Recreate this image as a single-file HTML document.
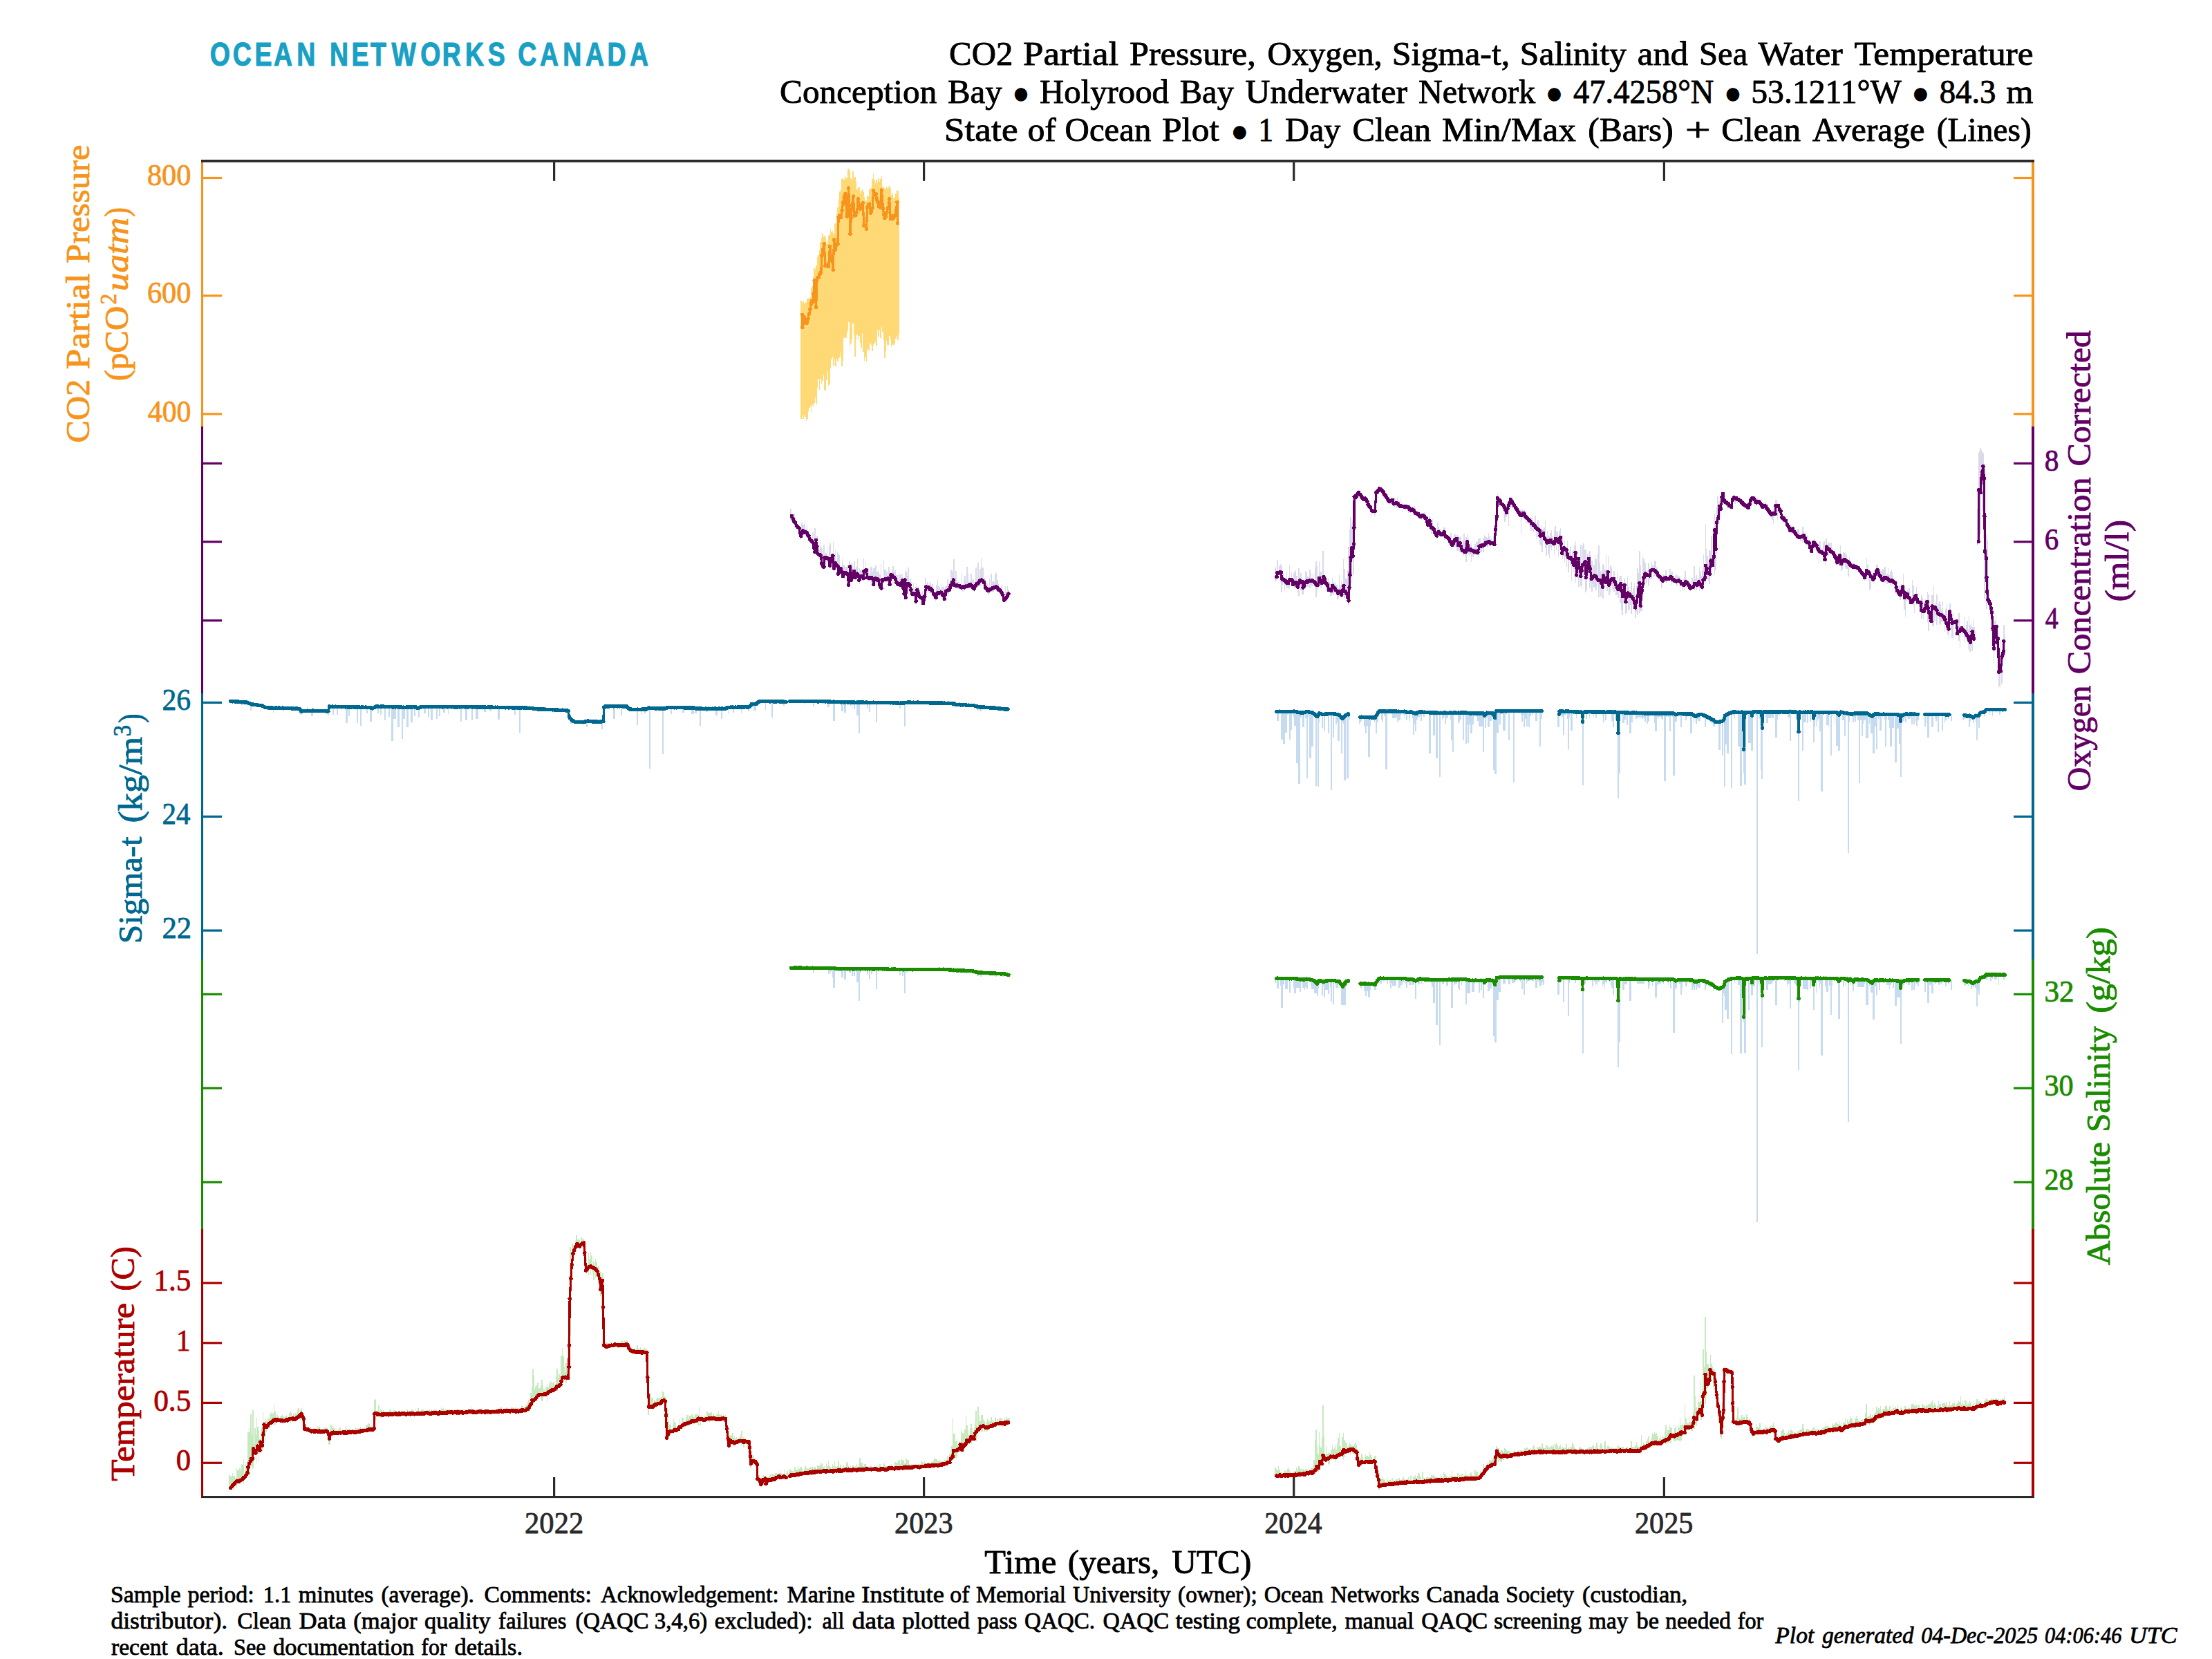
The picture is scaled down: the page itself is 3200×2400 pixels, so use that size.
<!DOCTYPE html>
<html lang="en"><head><meta charset="utf-8"><title>State of Ocean Plot - Holyrood Bay Underwater Network</title>
<style>html,body{margin:0;padding:0;background:#fff}body{width:3200px;height:2400px;overflow:hidden}svg{display:block}text{white-space:pre}</style>
</head><body>
<svg xmlns="http://www.w3.org/2000/svg" width="3200" height="2400" viewBox="0 0 3200 2400">
<rect width="3200" height="2400" fill="#fff"/>
<path d="M331.3 2134.2V2134.2H332.8V2134.8H334.3V2136.1H335.7V2130.9H337.2V2134.8H338.7V2135.3H340.1V2137.9H341.6V2123.5H343.1V2126.6H344.5V2126.2H346V2123.9H347.5V2127.3H348.9V2117.7H350.4V2119.2H351.9V2110.7H353.4V2131.5H354.8V2116.8H356.3V2121.7H357.8V2071.3H359.2V2071.9H360.7V2065.5H362.2V2046.3H363.6V2075.8H365.1V2039.7H366.6V2089.3H368V2066.3H369.5V2076H371V2052.4H372.4V2064.4H373.9V2068.8H375.4V2082.3H376.8V2068.6H378.3V2064.1H379.8V2042.5H381.2V2057.8H382.7V2052.7H384.2V2054.8H385.6V2059H387.1V2051.9H388.6V2052H390V2044.7H391.5V2044.4H393V2040.7H394.4V2044.8H395.9V2031.8H397.4V2042.3H398.8V2050.5H400.3V2046.7H401.8V2047.5H403.2V2051.1H404.7V2048.8H406.2V2047.7H407.6V2045.8H409.1V2049.3H410.6V2049.9H412V2048.6H413.5V2047.4H415V2048H416.4V2051.9H417.9V2044.6H419.4V2042.1H420.8V2044H422.3V2049.4H423.8V2044.3H425.2V2047.3H426.7V2044.1H428.2V2044.8H429.6V2038.9H431.1V2037.4H432.6V2046.2H434V2038.5H435.5V2035.8H437V2043.4H438.4V2046.7H439.9V2062H441.4V2062.3H442.8V2063.7H444.3V2065.1H445.8V2063.9H447.2V2065.4H448.7V2063.9H450.2V2067.1H451.6V2067.9H453.1V2068.6H454.6V2066H456V2067.7H457.5V2066.7H459V2062.5H460.4V2064.6H461.9V2063.8H463.4V2067.1H464.8V2068.6H466.3V2066.6H467.8V2066.5H469.2V2064.7H470.7V2067.6H472.2V2065H473.7V2067.9H475.1V2075.6H476.6V2068.7H478.1V2060.9H479.5V2062H481V2065.1H482.5V2065.2H483.9V2067.4H485.4V2068H486.9V2070H488.3V2067.7H489.8V2067.7H491.3V2065.2H492.7V2067.6H494.2V2069.6H495.7V2069.7H497.1V2069.2H498.6V2065.2H500.1V2067.9H501.5V2067.2H503V2067.1H504.5V2067.4H505.9V2065.9H507.4V2069H508.9V2069.1H510.3V2068.2H511.8V2069.8H513.3V2065.2H514.7V2067.8H516.2V2066.1H517.7V2068.9H519.1V2065.6H520.6V2063.9H522.1V2067.1H523.5V2066.3H525V2065.8H526.5V2064.5H527.9V2066.3H529.4V2061.8H530.9V2060.8H532.3V2058.5H533.8V2060.3H535.3V2063.2H536.7V2063.8H538.2V2063H539.7V2063H541.1V2025.1H542.6V2023.7H544.1V2040.8H545.5V2039.8H547V2032.5H548.5V2040.8H549.9V2038.5H551.4V2040H552.9V2042.1H554.3V2040.2H555.8V2042.8H557.3V2042.5H558.7V2042.1H560.2V2042.3H561.7V2042.4H563.1V2039.3H564.6V2039.8H566.1V2040.9H567.5V2043.6H569V2040.3H570.5V2041.4H571.9V2041.2H573.4V2042.1H574.9V2043.1H576.3V2040.7H577.8V2039.7H579.3V2042.4H580.7V2042.7H582.2V2042.4H583.7V2043.5H585.1V2040.5H586.6V2042.9H588.1V2038.8H589.5V2040.9H591V2041.8H592.5V2040.8H593.9V2042.8H595.4V2039.2H596.9V2041.4H598.4V2042.1H599.8V2037.6H601.3V2041.6H602.8V2040.5H604.2V2037.3H605.7V2042.2H607.2V2041.5H608.6V2039.5H610.1V2039.3H611.6V2039.1H613V2040.5H614.5V2041.9H616V2040.4H617.4V2039.5H618.9V2040.9H620.4V2039.2H621.8V2041.5H623.3V2038.6H624.8V2041.4H626.2V2040H627.7V2038.4H629.2V2039.4H630.6V2040.3H632.1V2041.8H633.6V2041.8H635V2039.7H636.5V2038.7H638V2035.9H639.4V2038.1H640.9V2036.9H642.4V2038.5H643.8V2039.2H645.3V2039.3H646.8V2038.6H648.2V2039.3H649.7V2039.2H651.2V2039.8H652.6V2039.1H654.1V2040.9H655.6V2040.1H657V2039H658.5V2039.5H660V2038.7H661.4V2037.9H662.9V2039H664.4V2038.8H665.8V2039.2H667.3V2040.5H668.8V2040.5H670.2V2038.6H671.7V2039.3H673.2V2041.9H674.6V2039.1H676.1V2039.3H677.6V2039.9H679V2037.7H680.5V2040.4H682V2035.7H683.4V2040.6H684.9V2038.8H686.4V2038.6H687.8V2041.1H689.3V2039.4H690.8V2038H692.2V2039.1H693.7V2036.7H695.2V2039.8H696.6V2037.1H698.1V2039.6H699.6V2037.9H701V2039.3H702.5V2038.6H704V2038.9H705.4V2039.1H706.9V2039.2H708.4V2040.5H709.8V2037.8H711.3V2038.8H712.8V2038.4H714.2V2038.2H715.7V2039.5H717.2V2038.7H718.7V2039.5H720.1V2038.1H721.6V2037.7H723.1V2035.6H724.5V2035.5H726V2039.7H727.5V2037.8H728.9V2037.9H730.4V2038.3H731.9V2036.3H733.3V2037H734.8V2038.3H736.3V2038.4H737.7V2038.9H739.2V2035.7H740.7V2036.4H742.1V2037.2H743.6V2038.3H745.1V2036.3H746.5V2037.9H748V2036.5H749.5V2037H750.9V2038.8H752.4V2039.5H753.9V2033.4H755.3V2034.1H756.8V2038.7H758.3V2034.7H759.7V2032.8H761.2V2031.5H762.7V2028.2H764.1V2024.8H765.6V2029.6H767.1V2014.6H768.5V2007.1H770V1980.4H771.5V1989.8H772.9V2009.8H774.4V2005.8H775.9V2003.9H777.3V2000.3H778.8V2009.2H780.3V2007.5H781.7V2002.6H783.2V1996.2H784.7V2003.5H786.1V2009.7H787.6V2011.9H789.1V2005.7H790.5V2002.2H792V2007.4H793.5V2000.2H794.9V2003.3H796.4V1998.5H797.9V2006H799.3V2000.4H800.8V1997.6H802.3V2003.3H803.7V1990.7H805.2V1980.2H806.7V1992.9H808.1V1988.2H809.6V1996.5H811.1V1961.2H812.5V1949.7H814V1961.8H815.5V1977.2H816.9V1985.3H818.4V1972.2H819.9V1983.1H821.3V1935H822.8V1869.6H824.3V1803.7H825.7V1822.3H827.2V1799.3H828.7V1802.2H830.1V1804.4H831.6V1795.2H833.1V1786.7H834.5V1792.7H836V1792.7H837.5V1793.9H839V1796.8H840.4V1790.3H841.9V1792H843.4V1792.9H844.8V1801.8H846.3V1815H847.8V1819H849.2V1832.5H850.7V1811.8H852.2V1822.1H853.6V1810.6H855.1V1815.6H856.6V1830.1H858V1825.4H859.5V1832.3H861V1820.5H862.4V1825.7H863.9V1833.2H865.4V1832.3H866.8V1839.1H868.3V1839.8H869.8V1846.9H871.2V1841.6H872.7V1871.1H874.2V1940.7H875.6V1941.5H877.1V1941.8H878.6V1943.1H880V1942.5H881.5V1942.2H883V1942.1H884.4V1942.2H885.9V1942.9H887.4V1943.3H888.8V1942.7H890.3V1941.8H891.8V1943.8H893.2V1942.3H894.7V1943.6H896.2V1942.5H897.6V1939.4H899.1V1940.2H900.6V1942.7H902V1939.2H903.5V1941.5H905V1941H906.4V1939.1H907.9V1942.1H909.4V1944.1H910.8V1950H912.3V1949.8H913.8V1950H915.2V1951.6H916.7V1951.4H918.2V1954.1H919.6V1950.9H921.1V1945.6H922.6V1949.8H924V1951.8H925.5V1949.1H927V1952.8H928.4V1952H929.9V1953.5H931.4V1949.5H932.8V1951.4H934.3V1952.3H935.8V1979.3H937.2V2017.4H938.7V2029.6H940.2V2015.6H941.6V2022.8H943.1V2022.2H944.6V2031.4H946V2025.1H947.5V2026.9H949V2024.1H950.4V2022.3H951.9V2023.4H953.4V2022.1H954.8V2021.7H956.3V2020.7H957.8V2012.4H959.3V2014H960.7V2019.7H962.2V2021.3H963.7V2040.3H965.1V2038.2H966.6V2056.5H968.1V2060.5H969.5V2058.6H971V2067.6H972.5V2061.8H973.9V2052.6H975.4V2057.2H976.9V2059.3H978.3V2065.2H979.8V2062.6H981.3V2060.8H982.7V2052.7H984.2V2060.8H985.7V2050H987.1V2050.6H988.6V2056.6H990.1V2056.3H991.5V2053.2H993V2046.8H994.5V2052H995.9V2046.7H997.4V2047.8H998.9V2047.5H1000.3V2045.6H1001.8V2048.5H1003.3V2049.5H1004.7V2046.3H1006.2V2045.9H1007.7V2043.5H1009.1V2047.2H1010.6V2035.2H1012.1V2048.9H1013.5V2046.9H1015V2051H1016.5V2049.7H1017.9V2047H1019.4V2048.6H1020.9V2050.1H1022.3V2042.3H1023.8V2043.8H1025.3V2043.7H1026.7V2044.4H1028.2V2043.4H1029.7V2050.4H1031.1V2045.1H1032.6V2048.4H1034.1V2048.4H1035.5V2047.3H1037V2045.3H1038.5V2041.4H1039.9V2045.7H1041.4V2046.9H1042.9V2046.4H1044.3V2047.9H1045.8V2045.7H1047.3V2048.6H1048.7V2046.6H1050.2V2055.2H1051.7V2065.8H1053.1V2079.1H1054.6V2076.5H1056.1V2075.5H1057.5V2077.3H1059V2072.5H1060.5V2079.9H1061.9V2078.1H1063.4V2081H1064.9V2079.3H1066.3V2081.2H1067.8V2080.7H1069.3V2079.2H1070.7V2076.4H1072.2V2070.2H1073.7V2081.5H1075.1V2079.4H1076.6V2082H1078.1V2082.1H1079.6V2081.7H1081V2084H1082.5V2084.4H1084V2087.5H1085.4V2095.3H1086.9V2105.3H1088.4V2104.8H1089.8V2106.8H1091.3V2110.1H1092.8V2108.6H1094.2V2113.7H1095.7V2118.5H1097.2V2133.6H1098.6V2135.8H1100.1V2141.6H1101.6V2138.9H1103V2133.8H1104.5V2137H1106V2134.5H1107.4V2137.2H1108.9V2134.5H1110.4V2136.7H1111.8V2135.3H1113.3V2133.4H1114.8V2137.7H1116.2V2131.6H1117.7V2131.8H1119.2V2133.9H1120.6V2130.5H1122.1V2130.7H1123.6V2132.1H1125V2131.6H1126.5V2131H1128V2127.1H1129.4V2131.4H1130.9V2134.2H1132.4V2133H1133.8V2126.3H1135.3V2134H1136.8V2131H1138.2V2128H1139.7V2139.3H1138.2V2139.7H1136.8V2138.7H1135.3V2138.2H1133.8V2139.6H1132.4V2140.3H1130.9V2140.2H1129.4V2139.8H1128V2140.9H1126.5V2138H1125V2138.7H1123.6V2139.7H1122.1V2141H1120.6V2141.6H1119.2V2141.3H1117.7V2143.7H1116.2V2143.2H1114.8V2142.8H1113.3V2143.3H1111.8V2144.2H1110.4V2148.7H1108.9V2147.7H1107.4V2145.4H1106V2142.6H1104.5V2147H1103V2145.7H1101.6V2150.6H1100.1V2145.8H1098.6V2144.7H1097.2V2145.9H1095.7V2128.1H1094.2V2122.2H1092.8V2116.8H1091.3V2115.5H1089.8V2116.1H1088.4V2118H1086.9V2123.7H1085.4V2097.9H1084V2094.6H1082.5V2095.7H1081V2090.5H1079.6V2088.7H1078.1V2088.9H1076.6V2093.7H1075.1V2089.3H1073.7V2089.5H1072.2V2086.3H1070.7V2087.4H1069.3V2086.3H1067.8V2088.5H1066.3V2087.8H1064.9V2088H1063.4V2092.5H1061.9V2091.6H1060.5V2088.1H1059V2090.1H1057.5V2092.3H1056.1V2093H1054.6V2094.5H1053.1V2076.4H1051.7V2068.5H1050.2V2055.2H1048.7V2055.3H1047.3V2054.8H1045.8V2054.4H1044.3V2053.9H1042.9V2054.6H1041.4V2054.7H1039.9V2054.2H1038.5V2054.6H1037V2054.2H1035.5V2053.7H1034.1V2054.7H1032.6V2055.2H1031.1V2055.8H1029.7V2054H1028.2V2054.4H1026.7V2056.5H1025.3V2055.9H1023.8V2056.2H1022.3V2055H1020.9V2056.2H1019.4V2057.2H1017.9V2058H1016.5V2055.6H1015V2055.1H1013.5V2061.5H1012.1V2057.3H1010.6V2061.8H1009.1V2056.3H1007.7V2056H1006.2V2057.5H1004.7V2057.5H1003.3V2060.6H1001.8V2058H1000.3V2063.3H998.9V2062.1H997.4V2063.1H995.9V2062.8H994.5V2060.8H993V2061.6H991.5V2065.1H990.1V2066.4H988.6V2064.2H987.1V2065.2H985.7V2067.1H984.2V2069.3H982.7V2069.5H981.3V2068.7H979.8V2070.2H978.3V2070.5H976.9V2072.2H975.4V2071.8H973.9V2075.1H972.5V2073.5H971V2075.5H969.5V2077.3H968.1V2081.4H966.6V2078.2H965.1V2077.3H963.7V2044.3H962.2V2029.1H960.7V2028.9H959.3V2031.8H957.8V2032.6H956.3V2030.7H954.8V2034.3H953.4V2033.4H951.9V2035.9H950.4V2036.1H949V2034.1H947.5V2034.1H946V2036H944.6V2039.3H943.1V2036.5H941.6V2036.8H940.2V2036.6H938.7V2046.6H937.2V1996.5H935.8V1959.9H934.3V1958.3H932.8V1959.8H931.4V1958.7H929.9V1957.9H928.4V1957.5H927V1958H925.5V1957.4H924V1958H922.6V1957.8H921.1V1957.3H919.6V1957.7H918.2V1957.1H916.7V1958.2H915.2V1955.9H913.8V1957.7H912.3V1957.1H910.8V1952.6H909.4V1950.2H907.9V1948.9H906.4V1948.9H905V1946.8H903.5V1949H902V1947.4H900.6V1948H899.1V1947.4H897.6V1947.4H896.2V1948H894.7V1950.2H893.2V1947.7H891.8V1949.1H890.3V1947.2H888.8V1947.1H887.4V1947.5H885.9V1947.6H884.4V1947.7H883V1948.2H881.5V1949.2H880V1949.9H878.6V1951.1H877.1V1950.4H875.6V1948.8H874.2V1949.4H872.7V1867.7H871.2V1896.8H869.8V1874.7H868.3V1859.4H866.8V1854.7H865.4V1844.7H863.9V1840.7H862.4V1849.3H861V1837.4H859.5V1852.2H858V1841H856.6V1837.3H855.1V1843.6H853.6V1835.4H852.2V1844.7H850.7V1838.6H849.2V1838.9H847.8V1834H846.3V1838.1H844.8V1800H843.4V1801.2H841.9V1803.3H840.4V1804.8H839V1803.8H837.5V1802.9H836V1805.9H834.5V1803.8H833.1V1807.1H831.6V1814.6H830.1V1817.6H828.7V1836.3H827.2V1852.7H825.7V1932.1H824.3V1979.3H822.8V1990.9H821.3V1995.2H819.9V2001.1H818.4V1994.6H816.9V1995.7H815.5V1997.8H814V2007.4H812.5V2000.8H811.1V2008.6H809.6V2006.2H808.1V2006.1H806.7V2011.9H805.2V2008.6H803.7V2011.2H802.3V2016.1H800.8V2013.5H799.3V2013.8H797.9V2014.8H796.4V2015.7H794.9V2015.9H793.5V2016.5H792V2027.5H790.5V2019.4H789.1V2019.5H787.6V2019.7H786.1V2025.6H784.7V2026.9H783.2V2024H781.7V2020.1H780.3V2021.2H778.8V2020.5H777.3V2024.4H775.9V2025.6H774.4V2025.3H772.9V2026.9H771.5V2032.8H770V2030.5H768.5V2033.8H767.1V2036.3H765.6V2038.6H764.1V2040H762.7V2040.9H761.2V2044.2H759.7V2044.2H758.3V2042.4H756.8V2044.2H755.3V2042.5H753.9V2044.6H752.4V2043.3H750.9V2042.8H749.5V2042.3H748V2042.7H746.5V2043.4H745.1V2043.2H743.6V2044.2H742.1V2042.7H740.7V2042.6H739.2V2042.8H737.7V2044.5H736.3V2044.3H734.8V2043.7H733.3V2043.1H731.9V2044.5H730.4V2043.7H728.9V2045.2H727.5V2043.9H726V2044H724.5V2043.1H723.1V2043.6H721.6V2043.5H720.1V2043.6H718.7V2044.5H717.2V2043.6H715.7V2045H714.2V2044.9H712.8V2043.9H711.3V2043.6H709.8V2043.6H708.4V2044.9H706.9V2045.7H705.4V2045.1H704V2044.4H702.5V2043.9H701V2046H699.6V2043.7H698.1V2046.3H696.6V2044.3H695.2V2044.9H693.7V2044.5H692.2V2044.5H690.8V2044.3H689.3V2043.8H687.8V2045.2H686.4V2044.6H684.9V2045.4H683.4V2046.2H682V2045.6H680.5V2044.3H679V2045.4H677.6V2045.6H676.1V2044.8H674.6V2045.7H673.2V2045.6H671.7V2044.3H670.2V2045.7H668.8V2044.9H667.3V2044.4H665.8V2046.9H664.4V2044.5H662.9V2046H661.4V2044.5H660V2044.4H658.5V2044.9H657V2045H655.6V2045.5H654.1V2045.7H652.6V2046.3H651.2V2045.5H649.7V2045.3H648.2V2046.8H646.8V2045.9H645.3V2046.5H643.8V2045H642.4V2046.8H640.9V2045.2H639.4V2046.9H638V2046.8H636.5V2045.6H635V2046H633.6V2046.3H632.1V2045.3H630.6V2045.8H629.2V2045.9H627.7V2048.2H626.2V2048.3H624.8V2047.1H623.3V2047H621.8V2048H620.4V2045.8H618.9V2046.4H617.4V2046.3H616V2046.9H614.5V2048.1H613V2046.1H611.6V2046.6H610.1V2047.8H608.6V2047.3H607.2V2046.7H605.7V2046.1H604.2V2046.8H602.8V2047.2H601.3V2046.8H599.8V2046.2H598.4V2046.8H596.9V2047.2H595.4V2048.5H593.9V2046.9H592.5V2048.8H591V2046.7H589.5V2047.9H588.1V2047.2H586.6V2048.9H585.1V2047.2H583.7V2047.8H582.2V2047.9H580.7V2049H579.3V2047.4H577.8V2048.5H576.3V2047.2H574.9V2047.7H573.4V2047.3H571.9V2048.4H570.5V2047.4H569V2046.9H567.5V2048.1H566.1V2049H564.6V2047.2H563.1V2048.3H561.7V2047.5H560.2V2047.5H558.7V2048H557.3V2048.9H555.8V2047.6H554.3V2048.8H552.9V2050.9H551.4V2051.3H549.9V2047.8H548.5V2049.1H547V2047.5H545.5V2048H544.1V2054H542.6V2065.7H541.1V2070H539.7V2071.6H538.2V2070.4H536.7V2070.9H535.3V2069.9H533.8V2070.3H532.3V2071.1H530.9V2071.8H529.4V2071.4H527.9V2072.2H526.5V2072.1H525V2073.3H523.5V2071.8H522.1V2072.3H520.6V2072.6H519.1V2073.9H517.7V2074.4H516.2V2073.3H514.7V2073.9H513.3V2072.8H511.8V2073.3H510.3V2073.1H508.9V2074.7H507.4V2074.1H505.9V2073.5H504.5V2073.4H503V2073.5H501.5V2075.9H500.1V2075.2H498.6V2074.1H497.1V2074.5H495.7V2074.2H494.2V2075.8H492.7V2075.1H491.3V2074.6H489.8V2075.4H488.3V2074.8H486.9V2076.2H485.4V2074.8H483.9V2077.4H482.5V2074H481V2078.2H479.5V2075.5H478.1V2090H476.6V2089.6H475.1V2080.1H473.7V2073.7H472.2V2072.7H470.7V2072.7H469.2V2072.5H467.8V2072.6H466.3V2073.1H464.8V2074.5H463.4V2072.4H461.9V2073.3H460.4V2072.5H459V2072.2H457.5V2072.8H456V2072H454.6V2072H453.1V2073.7H451.6V2071.4H450.2V2071.2H448.7V2072H447.2V2072.2H445.8V2070.8H444.3V2069.5H442.8V2070.9H441.4V2070.7H439.9V2060H438.4V2056.5H437V2047H435.5V2055.2H434V2050.4H432.6V2051.7H431.1V2053.1H429.6V2055.9H428.2V2055.6H426.7V2053.9H425.2V2054H423.8V2056.8H422.3V2053.6H420.8V2057.5H419.4V2055.9H417.9V2056.8H416.4V2057.9H415V2056.1H413.5V2057.5H412V2058.7H410.6V2058.3H409.1V2059.9H407.6V2056.3H406.2V2055.8H404.7V2055.5H403.2V2055.6H401.8V2058.3H400.3V2056.6H398.8V2061.1H397.4V2062.8H395.9V2057.8H394.4V2058.8H393V2062.3H391.5V2060.8H390V2063.2H388.6V2063.2H387.1V2067H385.6V2071.7H384.2V2087.5H382.7V2069.6H381.2V2083.3H379.8V2099.9H378.3V2090.6H376.8V2097.7H375.4V2114.3H373.9V2094.8H372.4V2101.5H371V2117.3H369.5V2102.1H368V2099.2H366.6V2124.4H365.1V2127H363.6V2121.1H362.2V2138.1H360.7V2133.7H359.2V2127.6H357.8V2134.6H356.3V2136.6H354.8V2138.3H353.4V2146.8H351.9V2143.2H350.4V2142.1H348.9V2146.6H347.5V2145.6H346V2144.2H344.5V2144.6H343.1V2151.6H341.6V2146H340.1V2148.2H338.7V2153.7H337.2V2149.7H335.7V2147.7H334.3V2149H332.8V2156.2H331.3ZM1140.6 2127.6V2127.6H1142.1V2124.8H1143.5V2126.4H1145V2128.3H1146.5V2125.8H1147.9V2130.1H1149.4V2122.1H1150.8V2126.9H1152.3V2126.4H1153.8V2120.9H1155.2V2124.9H1156.7V2121.9H1158.2V2121.7H1159.6V2124.8H1161.1V2127.5H1162.6V2125.4H1164V2121.4H1165.5V2124.2H1167V2123.4H1168.4V2124.6H1169.9V2123H1171.3V2123.3H1172.8V2123.1H1174.3V2122.2H1175.7V2127.1H1177.2V2122.3H1178.7V2122.1H1180.1V2126.8H1181.6V2118.9H1183.1V2121H1184.5V2119.8H1186V2120H1187.4V2117.1H1188.9V2116.6H1190.4V2121.7H1191.8V2120.9H1193.3V2125.5H1194.8V2117H1196.2V2121.2H1197.7V2114.2H1199.2V2120.9H1200.6V2121.8H1202.1V2125.9H1203.5V2117.6H1205V2121H1206.5V2113.6H1207.9V2121.4H1209.4V2121.8H1210.9V2120.9H1212.3V2112.5H1213.8V2121.6H1215.3V2119H1216.7V2122.6H1218.2V2122.8H1219.7V2119.3H1221.1V2122.1H1222.6V2123.3H1224V2114.5H1225.5V2116.6H1227V2120.5H1228.4V2122.3H1229.9V2120.2H1231.4V2123.1H1232.8V2119.9H1234.3V2119.8H1235.8V2121.5H1237.2V2120.8H1238.7V2118.4H1240.1V2123.3H1241.6V2117.6H1243.1V2109.2H1244.5V2114.8H1246V2116.1H1247.5V2120.5H1248.9V2120.9H1250.4V2117.8H1251.9V2118.3H1253.3V2120.7H1254.8V2122.7H1256.2V2123.4H1257.7V2123.2H1259.2V2120H1260.6V2122.3H1262.1V2122.3H1263.6V2121.3H1265V2123.8H1266.5V2120.6H1268V2120.1H1269.4V2121.7H1270.9V2119.7H1272.4V2117.5H1273.8V2122.4H1275.3V2121.5H1276.7V2123H1278.2V2116.6H1279.7V2119.1H1281.1V2120.7H1282.6V2121.3H1284.1V2121.1H1285.5V2119.9H1287V2119.7H1288.5V2117.8H1289.9V2121.2H1291.4V2121H1292.8V2119.5H1294.3V2115.1H1295.8V2116.1H1297.2V2116H1298.7V2112.2H1300.2V2112.8H1301.6V2118.3H1303.1V2111.2H1304.6V2112.9H1306V2111.7H1307.5V2117.4H1308.9V2117.4H1310.4V2110.1H1311.9V2112.4H1313.3V2111.7H1314.8V2118.2H1316.3V2118.7H1317.7V2118.2H1319.2V2119.9H1320.7V2119.1H1322.1V2120H1323.6V2117.5H1325.1V2119.2H1326.5V2118.7H1328V2117H1329.4V2118.1H1330.9V2119.4H1332.4V2113.9H1333.8V2114.5H1335.3V2115.5H1336.8V2114.2H1338.2V2115.9H1339.7V2117.1H1341.2V2117.7H1342.6V2115.1H1344.1V2116.5H1345.5V2117.1H1347V2114.6H1348.5V2114.1H1349.9V2113.4H1351.4V2110.2H1352.9V2110.3H1354.3V2110.9H1355.8V2112.6H1357.3V2114.1H1358.7V2112.2H1360.2V2114.2H1361.6V2116.3H1363.1V2113.5H1364.6V2114.2H1366V2112.2H1367.5V2112.8H1369V2111.9H1370.4V2105.9H1371.9V2109H1373.4V2103.2H1374.8V2097.1H1376.3V2092.2H1377.8V2052.1H1379.2V2073.8H1380.7V2074H1382.1V2085.3H1383.6V2081.1H1385.1V2090.7H1386.5V2083.7H1388V2089.9H1389.5V2071.9H1390.9V2067.6H1392.4V2072.6H1393.9V2074.3H1395.3V2067.8H1396.8V2048.4H1398.2V2062.1H1399.7V2070.2H1401.2V2075.7H1402.6V2066.2H1404.1V2059.7H1405.6V2066.2H1407V2070.7H1408.5V2065.2H1410V2059.2H1411.4V2041.2H1412.9V2062.6H1414.3V2034.5H1415.8V2049.4H1417.3V2055.7H1418.7V2047H1420.2V2047.2H1421.7V2052.8H1423.1V2055.8H1424.6V2062.6H1426.1V2058.4H1427.5V2051.9H1429V2055.1H1430.5V2057.3H1431.9V2056.1H1433.4V2049.9H1434.8V2054.8H1436.3V2056.2H1437.8V2057.4H1439.2V2051.2H1440.7V2058.7H1442.2V2052.7H1443.6V2055.1H1445.1V2052.1H1446.6V2051.1H1448V2052.1H1449.5V2056.7H1450.9V2056.1H1452.4V2052.6H1453.9V2055.6H1455.3V2050.3H1456.8V2053.3H1458.3V2051.8H1459.7V2051.4H1461.2V2061.1H1459.7V2060.9H1458.3V2061H1456.8V2059.9H1455.3V2060.5H1453.9V2061.2H1452.4V2062.1H1450.9V2064.5H1449.5V2062.1H1448V2061.7H1446.6V2061.9H1445.1V2061.5H1443.6V2061.4H1442.2V2064.1H1440.7V2063.2H1439.2V2063H1437.8V2066H1436.3V2064.4H1434.8V2065.6H1433.4V2065.2H1431.9V2066.3H1430.5V2067.2H1429V2070.4H1427.5V2070.8H1426.1V2069H1424.6V2070.8H1423.1V2065.4H1421.7V2071.1H1420.2V2072.3H1418.7V2066.9H1417.3V2068.3H1415.8V2069.1H1414.3V2080.2H1412.9V2084.6H1411.4V2084.6H1410V2084.3H1408.5V2082.2H1407V2083.5H1405.6V2088.5H1404.1V2085.8H1402.6V2088.5H1401.2V2086.8H1399.7V2088.8H1398.2V2094.2H1396.8V2091.5H1395.3V2091.9H1393.9V2098.4H1392.4V2098.7H1390.9V2102.2H1389.5V2100.3H1388V2098.3H1386.5V2098.9H1385.1V2105.7H1383.6V2109.4H1382.1V2108.9H1380.7V2104.6H1379.2V2113H1377.8V2111.8H1376.3V2115.5H1374.8V2118.4H1373.4V2117.5H1371.9V2118.7H1370.4V2119.2H1369V2120.4H1367.5V2120.4H1366V2121.6H1364.6V2120.2H1363.1V2121.5H1361.6V2121.1H1360.2V2121.3H1358.7V2121.3H1357.3V2122H1355.8V2122.3H1354.3V2121.4H1352.9V2121.7H1351.4V2123.9H1349.9V2122.4H1348.5V2123.1H1347V2123.7H1345.5V2123.3H1344.1V2123.2H1342.6V2122.8H1341.2V2124.1H1339.7V2122.9H1338.2V2123.9H1336.8V2122.7H1335.3V2123.7H1333.8V2124.1H1332.4V2124.2H1330.9V2123.8H1329.4V2123.9H1328V2123.7H1326.5V2123.6H1325.1V2124.3H1323.6V2125.2H1322.1V2123.9H1320.7V2123.9H1319.2V2124.6H1317.7V2124.1H1316.3V2124.8H1314.8V2125.6H1313.3V2124.7H1311.9V2125.1H1310.4V2125.1H1308.9V2124.3H1307.5V2125.4H1306V2125.1H1304.6V2125.2H1303.1V2126.7H1301.6V2126.1H1300.2V2126.3H1298.7V2124.9H1297.2V2125.7H1295.8V2126.4H1294.3V2126.5H1292.8V2126.1H1291.4V2125.7H1289.9V2126.4H1288.5V2126.5H1287V2126.5H1285.5V2127.4H1284.1V2128H1282.6V2126.5H1281.1V2128H1279.7V2128.7H1278.2V2127.1H1276.7V2127.5H1275.3V2128.4H1273.8V2128.5H1272.4V2127.5H1270.9V2126.7H1269.4V2127.1H1268V2128.4H1266.5V2126.8H1265V2128H1263.6V2127.9H1262.1V2128.6H1260.6V2127.1H1259.2V2127.3H1257.7V2128.6H1256.2V2127.6H1254.8V2128H1253.3V2127.1H1251.9V2128.3H1250.4V2129H1248.9V2130.5H1247.5V2128.5H1246V2128.2H1244.5V2127.4H1243.1V2129.4H1241.6V2128.2H1240.1V2127.6H1238.7V2129.1H1237.2V2128.6H1235.8V2127.6H1234.3V2128.8H1232.8V2127.8H1231.4V2128.4H1229.9V2128.2H1228.4V2127.8H1227V2129.1H1225.5V2128.5H1224V2129.1H1222.6V2128.1H1221.1V2129.4H1219.7V2129.9H1218.2V2129H1216.7V2129.5H1215.3V2128.8H1213.8V2129.3H1212.3V2129.1H1210.9V2129.5H1209.4V2130.2H1207.9V2130H1206.5V2130.6H1205V2131H1203.5V2130.9H1202.1V2130.6H1200.6V2130.5H1199.2V2130.5H1197.7V2131H1196.2V2131.4H1194.8V2130.5H1193.3V2129.9H1191.8V2130H1190.4V2131.1H1188.9V2130.7H1187.4V2130.2H1186V2130.6H1184.5V2131.4H1183.1V2130.8H1181.6V2131H1180.1V2131.7H1178.7V2132H1177.2V2132.4H1175.7V2131.4H1174.3V2132.3H1172.8V2132.3H1171.3V2133.2H1169.9V2132.4H1168.4V2132.3H1167V2132.3H1165.5V2133.7H1164V2134H1162.6V2133.1H1161.1V2133H1159.6V2133.1H1158.2V2134.2H1156.7V2134.9H1155.2V2134.2H1153.8V2134.7H1152.3V2135.8H1150.8V2136.1H1149.4V2135.9H1147.9V2136.4H1146.5V2137.1H1145V2136.7H1143.5V2137.4H1142.1V2136.8H1140.6ZM1844.4 2123.2V2123.2H1845.9V2125.2H1847.3V2127.3H1848.8V2121.3H1850.3V2126H1851.7V2130.1H1853.2V2129.6H1854.7V2130.5H1856.1V2130.5H1857.6V2126.7H1859.1V2127.8H1860.5V2129H1862V2124.6H1863.5V2122.8H1864.9V2126.6H1866.4V2129.5H1867.9V2131H1869.3V2131.1H1870.8V2129.1H1872.3V2127.5H1873.7V2127.7H1875.2V2123.4H1876.7V2127.7H1878.1V2121.4H1879.6V2123.8H1881.1V2125.1H1882.5V2131.2H1884V2124.5H1885.5V2126.8H1886.9V2127.3H1888.4V2125.2H1889.9V2125.6H1891.3V2125.8H1892.8V2127.7H1894.3V2127.3H1895.7V2123.5H1897.2V2122.7H1898.7V2123.4H1900.1V2111.6H1901.6V2083.1H1903.1V2068.1H1904.5V2090.9H1906V2102.5H1907.5V2071.5H1908.9V2090.5H1910.4V2093.6H1911.9V2079H1913.3V2032.8H1914.8V2078.4H1916.3V2104.3H1917.7V2091.6H1919.2V2103.4H1920.7V2100.8H1922.1V2101.9H1923.6V2104.8H1925.1V2097.2H1926.5V2090.9H1928V2095.5H1929.5V2093.8H1930.9V2090.9H1932.4V2096.7H1933.9V2089.7H1935.3V2080.3H1936.8V2073.2H1938.3V2091.6H1939.7V2099H1941.2V2078.6H1942.7V2072.5H1944.1V2082.6H1945.6V2086.3H1947.1V2087.8H1948.5V2092.8H1950V2091.8H1951.5V2087.3H1952.9V2088.5H1954.4V2090.6H1955.9V2090.7H1957.3V2092H1958.8V2088.9H1960.3V2086.9H1961.7V2090H1963.2V2096.1H1964.7V2105.5H1966.1V2109.9H1967.6V2109.1H1969.1V2102.7H1970.5V2107.8H1972V2113.3H1973.5V2108H1974.9V2103.6H1976.4V2105.6H1977.9V2106.2H1979.3V2106.6H1980.8V2101H1982.3V2105.1H1983.7V2108.4H1985.2V2112.2H1986.7V2109.4H1988.1V2106.1H1989.6V2107.4H1991.1V2119.9H1992.5V2126.1H1994V2131.3H1995.5V2141.4H1996.9V2139.7H1998.4V2139.1H1999.9V2136.3H2001.3V2139.7H2002.8V2140.8H2004.3V2143.9H2005.7V2137.2H2007.2V2141.9H2008.7V2140.3H2010.1V2141.2H2011.6V2142.4H2013.1V2138H2014.5V2144.4H2016V2144.4H2017.5V2140.5H2018.9V2138.9H2020.4V2139.8H2021.9V2143.3H2023.3V2138H2024.8V2143.1H2026.3V2140.8H2027.7V2140.4H2029.2V2136.6H2030.7V2138.9H2032.1V2140.9H2033.6V2139.7H2035.1V2140.2H2036.5V2137H2038V2140.7H2039.5V2134.9H2040.9V2134.4H2042.4V2140.5H2043.9V2136.7H2045.3V2135.6H2046.8V2134H2048.3V2138.1H2049.7V2135H2051.2V2130.8H2052.7V2132H2054.1V2136.1H2055.6V2141.4H2057.1V2129.2H2058.5V2138.4H2060V2138.4H2061.5V2138.8H2062.9V2136.8H2064.4V2136.8H2065.9V2136.9H2067.3V2138.3H2068.8V2137.3H2070.3V2134H2071.7V2134.8H2073.2V2132.6H2074.7V2135.9H2076.1V2136.6H2077.6V2135.5H2079.1V2137.7H2080.5V2136.3H2082V2137.5H2083.5V2132.7H2084.9V2135.1H2086.4V2138.9H2087.9V2128.5H2089.3V2131.9H2090.8V2133.1H2092.3V2134.9H2093.7V2139.6H2095.2V2136.8H2096.7V2132.9H2098.1V2134.8H2099.6V2127.9H2101.1V2136.4H2102.5V2132.9H2104V2135.1H2105.5V2136.5H2106.9V2134.9H2108.4V2131.2H2109.9V2135.7H2111.3V2133.6H2112.8V2137.1H2114.3V2132.3H2115.7V2132H2117.2V2134.5H2118.7V2126.7H2120.1V2133.5H2121.6V2131.6H2123.1V2137.9H2124.5V2135.5H2126V2130.9H2127.5V2130H2128.9V2133H2130.4V2134.9H2131.8V2135.3H2133.3V2126.7H2134.8V2129.8H2136.2V2128.5H2137.7V2132.5H2139.2V2133.1H2140.6V2128.3H2142.1V2132.1H2143.6V2128.4H2145V2117.5H2146.5V2126.1H2148V2121.1H2149.4V2119.1H2150.9V2116.8H2152.4V2116.7H2153.8V2111.9H2155.3V2112.5H2156.8V2112.8H2158.2V2109.8H2159.7V2108.4H2161.2V2114.7H2162.6V2100.5H2164.1V2092.4H2165.6V2095.2H2167V2094.9H2168.5V2099.8H2170V2099.2H2171.4V2097.8H2172.9V2098.6H2174.4V2099.5H2175.8V2095.1H2177.3V2096.4H2178.8V2097.5H2180.2V2098.8H2181.7V2098.5H2183.2V2099.4H2184.6V2101.3H2186.1V2102.1H2187.6V2100.2H2189V2098.6H2190.5V2098.6H2192V2100.9H2193.4V2101.8H2194.9V2102.2H2196.4V2100.6H2197.8V2098.3H2199.3V2098H2200.8V2097.8H2202.2V2099.5H2203.7V2097H2205.2V2095.3H2206.6V2095.8H2208.1V2093.8H2209.6V2094.5H2211V2096.4H2212.5V2096.7H2214V2095.1H2215.4V2095.6H2216.9V2093H2218.4V2091H2219.8V2096.1H2221.3V2098.1H2222.8V2094.3H2224.2V2093.6H2225.7V2092.8H2227.2V2093.4H2228.6V2093.6H2230.1V2088.1H2231.6V2093.6H2233V2095.1H2234.5V2094.7H2236V2089.9H2237.4V2090.5H2238.9V2093.1H2240.4V2093.5H2241.8V2093.8H2243.3V2092.3H2244.8V2092.7H2246.2V2090.8H2247.7V2097.4H2249.2V2089.3H2250.6V2087.2H2252.1V2090.8H2253.6V2094.8H2255V2091.5H2256.5V2090.4H2258V2097.5H2259.4V2093.2H2260.9V2095.1H2262.4V2093.8H2263.8V2095H2265.3V2088.6H2266.8V2095.6H2268.2V2094.3H2269.7V2095.9H2271.2V2092.7H2272.6V2093.3H2274.1V2087.2H2275.6V2090.2H2277V2093.9H2278.5V2095.6H2280V2097.5H2281.4V2095.9H2282.9V2095.6H2284.4V2093H2285.8V2094.3H2287.3V2095H2288.8V2095.7H2290.2V2095.6H2291.7V2098.4H2293.2V2097.2H2294.6V2096.6H2296.1V2094.7H2297.6V2095.8H2299V2093.4H2300.5V2095H2302V2093.4H2303.4V2091.6H2304.9V2089.7H2306.4V2097.1H2307.8V2092.3H2309.3V2086.9H2310.8V2094H2312.2V2096.3H2313.7V2091.3H2315.2V2087.5H2316.6V2090.7H2318.1V2098.6H2319.6V2091.2H2321V2085.4H2322.5V2095.5H2324V2095.1H2325.4V2092.2H2326.9V2090.8H2328.4V2094.1H2329.8V2095.1H2331.3V2093.5H2332.8V2093.8H2334.2V2095.4H2335.7V2095.3H2337.2V2093.6H2338.6V2095.3H2340.1V2091.4H2341.6V2093.4H2343V2094.2H2344.5V2092.8H2346V2093.7H2347.4V2093.3H2348.9V2096.3H2350.4V2095.3H2351.8V2094.5H2353.3V2093H2354.8V2095.7H2356.2V2095.9H2357.7V2094.2H2359.2V2084.8H2360.6V2092.7H2362.1V2093.1H2363.6V2093.4H2365V2091.1H2366.5V2085.8H2368V2090.5H2369.4V2093H2370.9V2093.8H2372.4V2091.1H2373.8V2076.4H2375.3V2091.7H2376.8V2087.4H2378.2V2088.7H2379.7V2089.9H2381.2V2084.7H2382.6V2082H2384.1V2077.7H2385.6V2088.2H2387V2084.4H2388.5V2077.9H2390V2072.6H2391.4V2075.4H2392.9V2071.3H2394.4V2074.3H2395.8V2072.7H2397.3V2076.9H2398.8V2083.2H2400.2V2080.6H2401.7V2077H2403.2V2081.6H2404.6V2076.3H2406.1V2078.5H2407.6V2071.4H2409V2062.3H2410.5V2076H2412V2069.4H2413.4V2068.5H2414.9V2062.2H2416.4V2064.6H2417.8V2066.2H2419.3V2075H2420.8V2071.5H2422.2V2066.1H2423.7V2061.8H2425.2V2072.3H2426.6V2061.6H2428.1V2065H2429.6V2050.6H2431V2061.5H2432.5V2061.4H2434V2057.6H2435.4V2060.7H2436.9V2031.5H2438.4V2052.1H2439.8V2058H2441.3V2058.9H2442.8V2048H2444.2V2056.5H2445.7V2061.6H2447.2V2050.6H2448.6V2042.4H2450.1V1989.6H2451.6V2019.3H2453V2036.3H2454.5V2040.4H2456V2023.2H2457.4V2027.8H2458.9V1996H2460.4V2027.3H2461.8V2009.1H2463.3V1951.6H2464.7V1978.3H2466.2V1905.1H2467.7V1955.4H2469.1V1973.1H2470.6V1973.7H2472.1V1986.2H2473.5V1959.7H2475V1972.5H2476.5V1976.6H2477.9V1979.6H2479.4V1981.2H2480.9V1993.9H2482.3V2006.9H2483.8V2017.2H2485.3V2027.9H2486.7V2037.4H2488.2V2045.9H2489.7V2065H2491.1V2029.3H2492.6V2022H2494.1V1977.3H2495.5V1979.6H2497V1980.4H2498.5V1980.5H2499.9V1978.9H2501.4V1980.8H2502.9V1981.5H2504.3V1985H2505.8V2021.7H2507.3V2052H2508.7V2051.9H2510.2V2053.7H2511.7V2049.7H2513.1V2036H2514.6V2053.1H2516.1V2052.4H2517.5V2051.8H2519V2046.5H2520.5V2050.8H2521.9V2050.2H2523.4V2050.3H2524.9V2054H2526.3V2045.8H2527.8V2049.6H2529.3V2054.3H2530.7V2050H2532.2V2063.2H2533.7V2065.2H2535.1V2070H2536.6V2068.9H2538.1V2068.7H2539.5V2059.5H2541V2063.9H2542.5V2066.2H2543.9V2063.8H2545.4V2058.6H2546.9V2067H2548.3V2067.8H2549.8V2065.5H2551.3V2067.6H2552.7V2061.4H2554.2V2065.1H2555.7V2064.4H2557.1V2066.2H2558.6V2064.6H2560.1V2063.2H2561.5V2064.6H2563V2062.2H2564.5V2058.1H2565.9V2061.1H2567.4V2065.8H2568.9V2073.2H2570.3V2077.7H2571.8V2077H2573.3V2080.5H2574.7V2077.3H2576.2V2069.6H2577.7V2068.3H2579.1V2068.1H2580.6V2073.2H2582.1V2076.7H2583.5V2074.5H2585V2072.6H2586.5V2069.3H2587.9V2072.6H2589.4V2068.8H2590.9V2067.7H2592.3V2070.2H2593.8V2073.8H2595.3V2072.4H2596.7V2073.2H2598.2V2074.3H2599.7V2069.8H2601.1V2070.8H2602.6V2069.3H2604.1V2067.7H2605.5V2068H2607V2059.6H2608.5V2066.1H2609.9V2070.6H2611.4V2071.6H2612.9V2066.8H2614.3V2067.2H2615.8V2067.9H2617.3V2068.8H2618.7V2070.4H2620.2V2068.1H2621.7V2065.2H2623.1V2064.6H2624.6V2069.8H2626.1V2067.1H2627.5V2069.5H2629V2067.6H2630.5V2069.3H2631.9V2066.6H2633.4V2070.1H2634.9V2065.8H2636.3V2066H2637.8V2064.4H2639.3V2064.4H2640.7V2058.7H2642.2V2063.1H2643.7V2060.6H2645.1V2063.7H2646.6V2064.7H2648.1V2064.9H2649.5V2058.9H2651V2061H2652.5V2060.9H2653.9V2058.8H2655.4V2057.6H2656.9V2057.7H2658.3V2059.9H2659.8V2054.7H2661.3V2060.7H2662.7V2058.4H2664.2V2063.6H2665.7V2057.9H2667.1V2058.4H2668.6V2051.3H2670.1V2062H2671.5V2052.5H2673V2056.7H2674.5V2054.9H2675.9V2049H2677.4V2051.6H2678.9V2052.4H2680.3V2057.8H2681.8V2059.2H2683.3V2051.6H2684.7V2048.2H2686.2V2051.8H2687.7V2055.3H2689.1V2055.7H2690.6V2057.6H2692.1V2053.8H2693.5V2052.9H2695V2056.5H2696.5V2051.7H2697.9V2044H2699.4V2030.8H2700.9V2049.6H2702.3V2048.7H2703.8V2047.6H2705.3V2045.1H2706.7V2049.9H2708.2V2047H2709.7V2052.4H2711.1V2044.7H2712.6V2042.1H2714.1V2034.6H2715.5V2039.6H2717V2037.1H2718.5V2039.7H2719.9V2033.8H2721.4V2042.8H2722.9V2037.7H2724.3V2038H2725.8V2037.6H2727.3V2033.5H2728.7V2032.9H2730.2V2038.3H2731.7V2039.5H2733.1V2034.1H2734.6V2039.5H2736.1V2039.3H2737.5V2032.6H2739V2036.6H2740.5V2035.5H2741.9V2035.3H2743.4V2039.9H2744.9V2032.9H2746.3V2039.7H2747.8V2040.5H2749.3V2036.4H2750.7V2036.8H2752.2V2038.7H2753.7V2039.5H2755.1V2034.1H2756.6V2035.7H2758.1V2038.2H2759.5V2034.7H2761V2036.6H2762.5V2038.6H2763.9V2033.6H2765.4V2030.5H2766.9V2028.8H2768.3V2032.8H2769.8V2034.2H2771.3V2031.9H2772.7V2039.5H2774.2V2033.1H2775.7V2032.3H2777.1V2037.1H2778.6V2038.2H2780.1V2031H2781.5V2032.7H2783V2034.3H2784.5V2034.9H2785.9V2033.1H2787.4V2033.2H2788.9V2031.9H2790.3V2030.7H2791.8V2030.8H2793.2V2028.3H2794.7V2026.2H2796.2V2033.1H2797.6V2028.7H2799.1V2031.7H2800.6V2037.8H2802V2034.1H2803.5V2027.4H2805V2032.4H2806.4V2030.6H2807.9V2036.2H2809.4V2029.9H2810.8V2029.6H2812.3V2029H2813.8V2032H2815.2V2027.5H2816.7V2035.6H2818.2V2033.1H2819.6V2026.5H2821.1V2032.5H2822.6V2031.7H2824V2029.7H2825.5V2030.7H2827V2028.6H2828.4V2035.5H2829.9V2030.8H2831.4V2029.7H2832.8V2027.2H2834.3V2027.5H2835.8V2019.7H2837.2V2031.2H2838.7V2025.8H2840.2V2031.5H2841.6V2024.7H2843.1V2026.3H2844.6V2032.5H2846V2030.1H2847.5V2030.5H2849V2027.3H2850.4V2028.8H2851.9V2035.2H2853.4V2032.4H2854.8V2030.2H2856.3V2033.6H2857.8V2027.9H2859.2V2024.4H2860.7V2028.2H2862.2V2027.2H2863.6V2028.9H2865.1V2028.1H2866.6V2028.8H2868V2030.6H2869.5V2027.1H2871V2026.4H2872.4V2023.8H2873.9V2021.6H2875.4V2024.9H2876.8V2025.6H2878.3V2026.4H2879.8V2022H2881.2V2023.5H2882.7V2024.2H2884.2V2025.5H2885.6V2023.4H2887.1V2022.8H2888.6V2027.6H2890V2023.9H2891.5V2026.3H2893V2023.1H2894.4V2027.6H2895.9V2022.2H2897.4V2024H2898.8V2020.1H2900.3V2025.2H2901.8V2030.8H2900.3V2030.5H2898.8V2030.1H2897.4V2030H2895.9V2031H2894.4V2031.8H2893V2032.6H2891.5V2033.8H2890V2032.1H2888.6V2029.2H2887.1V2030H2885.6V2031.2H2884.2V2032.6H2882.7V2032.3H2881.2V2031.2H2879.8V2033.3H2878.3V2031.4H2876.8V2031.8H2875.4V2032.6H2873.9V2033.9H2872.4V2036.5H2871V2036H2869.5V2036.6H2868V2037.2H2866.6V2037.8H2865.1V2036H2863.6V2036.2H2862.2V2037.1H2860.7V2040.1H2859.2V2038H2857.8V2041.3H2856.3V2039H2854.8V2039.1H2853.4V2039.9H2851.9V2039.4H2850.4V2041.1H2849V2038.5H2847.5V2039.1H2846V2039.5H2844.6V2041.7H2843.1V2040.5H2841.6V2040.5H2840.2V2039.6H2838.7V2039.4H2837.2V2040.2H2835.8V2040H2834.3V2039.5H2832.8V2042H2831.4V2039.7H2829.9V2039.5H2828.4V2039.8H2827V2040.4H2825.5V2039.6H2824V2041.3H2822.6V2041.2H2821.1V2040.4H2819.6V2042.5H2818.2V2041H2816.7V2040.2H2815.2V2041.2H2813.8V2041.2H2812.3V2040.5H2810.8V2040.7H2809.4V2041.9H2807.9V2041.6H2806.4V2041H2805V2043.5H2803.5V2042H2802V2042.5H2800.6V2042.2H2799.1V2042.6H2797.6V2042.6H2796.2V2044.5H2794.7V2044.1H2793.2V2041.7H2791.8V2042.2H2790.3V2041.9H2788.9V2043.1H2787.4V2042.7H2785.9V2042.5H2784.5V2042.2H2783V2043.7H2781.5V2042.6H2780.1V2043.7H2778.6V2042.5H2777.1V2042.4H2775.7V2043.5H2774.2V2043H2772.7V2042.7H2771.3V2043.2H2769.8V2042.7H2768.3V2045.5H2766.9V2045.7H2765.4V2044.3H2763.9V2043.6H2762.5V2043.7H2761V2045.5H2759.5V2044.8H2758.1V2044.7H2756.6V2045.9H2755.1V2045.8H2753.7V2044.2H2752.2V2045.2H2750.7V2045.5H2749.3V2046.8H2747.8V2045.2H2746.3V2043.2H2744.9V2044.8H2743.4V2043.4H2741.9V2047H2740.5V2047H2739V2045.5H2737.5V2047.4H2736.1V2046.8H2734.6V2047.8H2733.1V2048H2731.7V2046.4H2730.2V2046.9H2728.7V2048.9H2727.3V2048.4H2725.8V2050.5H2724.3V2050.5H2722.9V2050.1H2721.4V2052.5H2719.9V2051.6H2718.5V2051.2H2717V2055H2715.5V2050.5H2714.1V2056.5H2712.6V2056H2711.1V2056.7H2709.7V2059.1H2708.2V2057.2H2706.7V2060.1H2705.3V2062.4H2703.8V2058.5H2702.3V2058.7H2700.9V2056.6H2699.4V2060.3H2697.9V2062.5H2696.5V2061.7H2695V2061.9H2693.5V2061.9H2692.1V2061.5H2690.6V2063.8H2689.1V2063.3H2687.7V2061.9H2686.2V2062.2H2684.7V2063.8H2683.3V2063.6H2681.8V2063.5H2680.3V2063.5H2678.9V2066.8H2677.4V2064H2675.9V2064.5H2674.5V2066H2673V2067.9H2671.5V2065.9H2670.1V2069.1H2668.6V2067.1H2667.1V2068.3H2665.7V2069.9H2664.2V2071.8H2662.7V2071.5H2661.3V2069.1H2659.8V2069.4H2658.3V2069.5H2656.9V2069.3H2655.4V2070.3H2653.9V2070.2H2652.5V2071.3H2651V2070H2649.5V2071.2H2648.1V2071.6H2646.6V2073H2645.1V2070.6H2643.7V2073.4H2642.2V2074.1H2640.7V2075.3H2639.3V2073.3H2637.8V2073.7H2636.3V2073.7H2634.9V2074.2H2633.4V2076H2631.9V2074.6H2630.5V2074.6H2629V2075.9H2627.5V2076.5H2626.1V2074.8H2624.6V2075.7H2623.1V2076.4H2621.7V2076.1H2620.2V2075.1H2618.7V2075.3H2617.3V2076.8H2615.8V2077.1H2614.3V2076.6H2612.9V2076H2611.4V2078.3H2609.9V2076.2H2608.5V2077H2607V2076.9H2605.5V2078H2604.1V2078.8H2602.6V2078.9H2601.1V2078.2H2599.7V2078.4H2598.2V2078.1H2596.7V2080.3H2595.3V2079.1H2593.8V2081.3H2592.3V2079.5H2590.9V2080.8H2589.4V2082.4H2587.9V2082.9H2586.5V2080.8H2585V2081.8H2583.5V2083.2H2582.1V2082.9H2580.6V2084.5H2579.1V2083.3H2577.7V2083.1H2576.2V2086H2574.7V2085.3H2573.3V2087.6H2571.8V2084.8H2570.3V2087.3H2568.9V2080H2567.4V2074.8H2565.9V2073.2H2564.5V2071.1H2563V2073.3H2561.5V2073.7H2560.1V2073.6H2558.6V2072.8H2557.1V2072.1H2555.7V2074.8H2554.2V2073.1H2552.7V2073.3H2551.3V2073.4H2549.8V2074.1H2548.3V2074.5H2546.9V2074.1H2545.4V2073.8H2543.9V2076.2H2542.5V2075.7H2541V2075.1H2539.5V2077.1H2538.1V2076.9H2536.6V2074H2535.1V2080.4H2533.7V2066.4H2532.2V2065.6H2530.7V2062.5H2529.3V2059.4H2527.8V2059.5H2526.3V2059.2H2524.9V2060.2H2523.4V2060.4H2521.9V2059.6H2520.5V2059.4H2519V2060.5H2517.5V2060.2H2516.1V2060.1H2514.6V2060.7H2513.1V2061.2H2511.7V2060.2H2510.2V2059.7H2508.7V2061.2H2507.3V2024.5H2505.8V1991.9H2504.3V1986.8H2502.9V1986.2H2501.4V1985.9H2499.9V1988.3H2498.5V1987.2H2497V1991.4H2495.5V2025.8H2494.1V2043.9H2492.6V2075H2491.1V2081.5H2489.7V2079.3H2488.2V2045.1H2486.7V2057.2H2485.3V2034.8H2483.8V2015.4H2482.3V2006.4H2480.9V2011H2479.4V2006.6H2477.9V1988.1H2476.5V1997.4H2475V1989.5H2473.5V2001.9H2472.1V2002H2470.6V2008.4H2469.1V2019.5H2467.7V2030.9H2466.2V2017.3H2464.7V2023.2H2463.3V2051.6H2461.8V2054.2H2460.4V2046H2458.9V2048.3H2457.4V2045.7H2456V2052.4H2454.5V2062H2453V2060.3H2451.6V2066.7H2450.1V2065.5H2448.6V2069.5H2447.2V2069.9H2445.7V2067.9H2444.2V2069.5H2442.8V2066.3H2441.3V2068.9H2439.8V2076.2H2438.4V2072.4H2436.9V2074.8H2435.4V2077.4H2434V2078.8H2432.5V2083.6H2431V2085.2H2429.6V2083.9H2428.1V2084.5H2426.6V2083H2425.2V2084.8H2423.7V2085H2422.2V2084.4H2420.8V2080.7H2419.3V2079.2H2417.8V2087.8H2416.4V2084.5H2414.9V2086.9H2413.4V2088H2412V2086H2410.5V2089.2H2409V2087.1H2407.6V2087.6H2406.1V2086.8H2404.6V2091.3H2403.2V2088.9H2401.7V2090.4H2400.2V2090.6H2398.8V2090.2H2397.3V2088.5H2395.8V2091H2394.4V2088.4H2392.9V2089.8H2391.4V2090.3H2390V2093.7H2388.5V2091.4H2387V2092.8H2385.6V2093.8H2384.1V2097.3H2382.6V2094.8H2381.2V2098.4H2379.7V2097.9H2378.2V2097.3H2376.8V2097.8H2375.3V2099.3H2373.8V2102.6H2372.4V2100.3H2370.9V2100.1H2369.4V2101.7H2368V2100.6H2366.5V2102.3H2365V2100.4H2363.6V2100.2H2362.1V2100.3H2360.6V2100H2359.2V2101.2H2357.7V2102H2356.2V2100.8H2354.8V2101.3H2353.3V2101.1H2351.8V2100.8H2350.4V2101.6H2348.9V2100.3H2347.4V2101.7H2346V2100.2H2344.5V2102.8H2343V2101H2341.6V2100.4H2340.1V2102.7H2338.6V2102.5H2337.2V2101.7H2335.7V2101.3H2334.2V2102.6H2332.8V2100.6H2331.3V2101.6H2329.8V2100.9H2328.4V2101.5H2326.9V2100.7H2325.4V2101.9H2324V2101.1H2322.5V2101.4H2321V2102H2319.6V2101H2318.1V2101H2316.6V2102.7H2315.2V2101.5H2313.7V2101.8H2312.2V2101.7H2310.8V2102.9H2309.3V2101.5H2307.8V2101.8H2306.4V2102.6H2304.9V2102H2303.4V2102.7H2302V2102H2300.5V2102.7H2299V2101.7H2297.6V2101.7H2296.1V2101.8H2294.6V2102H2293.2V2101.7H2291.7V2102.5H2290.2V2101.7H2288.8V2103.3H2287.3V2101.1H2285.8V2103.1H2284.4V2102.3H2282.9V2102.7H2281.4V2104.1H2280V2101.6H2278.5V2101.3H2277V2102.3H2275.6V2103.5H2274.1V2103.1H2272.6V2102.1H2271.2V2102.7H2269.7V2102.8H2268.2V2102.6H2266.8V2102.7H2265.3V2101.8H2263.8V2101.7H2262.4V2102.6H2260.9V2102.6H2259.4V2102.5H2258V2103.6H2256.5V2102.1H2255V2102.7H2253.6V2102.8H2252.1V2103.3H2250.6V2103.1H2249.2V2102.4H2247.7V2101.8H2246.2V2101.8H2244.8V2101.7H2243.3V2102.1H2241.8V2101.5H2240.4V2102.5H2238.9V2103.2H2237.4V2102.5H2236V2103H2234.5V2103.4H2233V2104.2H2231.6V2103H2230.1V2102.4H2228.6V2102.7H2227.2V2102.7H2225.7V2103.2H2224.2V2102.6H2222.8V2103.3H2221.3V2102.9H2219.8V2104.7H2218.4V2103.4H2216.9V2104.1H2215.4V2102.6H2214V2103.6H2212.5V2103.2H2211V2104H2209.6V2105.7H2208.1V2104.1H2206.6V2104.4H2205.2V2106H2203.7V2105.6H2202.2V2105.3H2200.8V2106.3H2199.3V2107H2197.8V2106.8H2196.4V2105.4H2194.9V2107.9H2193.4V2106.2H2192V2105.7H2190.5V2106.5H2189V2106.6H2187.6V2107.1H2186.1V2107.6H2184.6V2107.8H2183.2V2111.2H2181.7V2111.3H2180.2V2109.1H2178.8V2107.8H2177.3V2107.2H2175.8V2111.7H2174.4V2108.3H2172.9V2114.8H2171.4V2113.7H2170V2111.8H2168.5V2114.5H2167V2110.8H2165.6V2114.4H2164.1V2118.8H2162.6V2120.3H2161.2V2120.6H2159.7V2122.5H2158.2V2120.5H2156.8V2123.8H2155.3V2125.1H2153.8V2123.7H2152.4V2126.9H2150.9V2127.6H2149.4V2131.7H2148V2132.1H2146.5V2135.5H2145V2134.8H2143.6V2136.6H2142.1V2138.3H2140.6V2138.6H2139.2V2139.8H2137.7V2141.5H2136.2V2142.2H2134.8V2141.9H2133.3V2141.3H2131.8V2141.8H2130.4V2140.8H2128.9V2141.7H2127.5V2141.8H2126V2142.3H2124.5V2142.1H2123.1V2142.4H2121.6V2141.9H2120.1V2141.2H2118.7V2141.5H2117.2V2142H2115.7V2143H2114.3V2142.8H2112.8V2142.9H2111.3V2142H2109.9V2143.1H2108.4V2142.5H2106.9V2141.8H2105.5V2141.8H2104V2142.7H2102.5V2142.1H2101.1V2144.3H2099.6V2143.9H2098.1V2143.2H2096.7V2142.8H2095.2V2143.7H2093.7V2143.2H2092.3V2144.2H2090.8V2143.5H2089.3V2144.5H2087.9V2143.6H2086.4V2144.7H2084.9V2144.9H2083.5V2144.5H2082V2143.6H2080.5V2143.7H2079.1V2143.7H2077.6V2144.2H2076.1V2143.4H2074.7V2144H2073.2V2144.2H2071.7V2144.8H2070.3V2144.1H2068.8V2145.8H2067.3V2144.9H2065.9V2144.6H2064.4V2144.5H2062.9V2144.4H2061.5V2144.9H2060V2145.7H2058.5V2144.5H2057.1V2145.7H2055.6V2145.2H2054.1V2146.2H2052.7V2145.4H2051.2V2146.5H2049.7V2146.4H2048.3V2145.3H2046.8V2146.1H2045.3V2147H2043.9V2145.4H2042.4V2147.1H2040.9V2146H2039.5V2146.1H2038V2147.3H2036.5V2146.6H2035.1V2146H2033.6V2147.1H2032.1V2147.2H2030.7V2147.8H2029.2V2148H2027.7V2148H2026.3V2148.7H2024.8V2147.2H2023.3V2147.3H2021.9V2147.4H2020.4V2148.9H2018.9V2148H2017.5V2149.6H2016V2150H2014.5V2149.1H2013.1V2148.2H2011.6V2149.4H2010.1V2149.1H2008.7V2149.3H2007.2V2149.5H2005.7V2150.3H2004.3V2149.7H2002.8V2149.5H2001.3V2151.3H1999.9V2149.9H1998.4V2152.4H1996.9V2150.7H1995.5V2154.5H1994V2138.7H1992.5V2132.3H1991.1V2123.8H1989.6V2117.4H1988.1V2117.2H1986.7V2117.1H1985.2V2117.7H1983.7V2116.5H1982.3V2116.6H1980.8V2116.5H1979.3V2117.6H1977.9V2116.7H1976.4V2117.4H1974.9V2119.3H1973.5V2117.2H1972V2118.9H1970.5V2117.9H1969.1V2117.7H1967.6V2122.1H1966.1V2122.5H1964.7V2114.6H1963.2V2106H1961.7V2103.8H1960.3V2104.1H1958.8V2104.4H1957.3V2101.1H1955.9V2100.9H1954.4V2105.4H1952.9V2101.1H1951.5V2102.7H1950V2101H1948.5V2101.8H1947.1V2102H1945.6V2107.6H1944.1V2112.3H1942.7V2108.2H1941.2V2106.4H1939.7V2106.7H1938.3V2108.3H1936.8V2107.4H1935.3V2107.9H1933.9V2111.1H1932.4V2115.7H1930.9V2109.1H1929.5V2109.4H1928V2110.6H1926.5V2112.2H1925.1V2111.2H1923.6V2117.6H1922.1V2119.4H1920.7V2114.4H1919.2V2115.4H1917.7V2111.9H1916.3V2109.8H1914.8V2121H1913.3V2120.5H1911.9V2120.4H1910.4V2124.4H1908.9V2122.6H1907.5V2128.6H1906V2124.3H1904.5V2126H1903.1V2132.9H1901.6V2131.6H1900.1V2134.6H1898.7V2133H1897.2V2134.6H1895.7V2133.6H1894.3V2135.3H1892.8V2133.7H1891.3V2135.2H1889.9V2134.4H1888.4V2134.9H1886.9V2134.2H1885.5V2136H1884V2134H1882.5V2134.4H1881.1V2135.1H1879.6V2136H1878.1V2136.6H1876.7V2136.7H1875.2V2137.8H1873.7V2136.4H1872.3V2136.6H1870.8V2135.7H1869.3V2136H1867.9V2136.9H1866.4V2136.3H1864.9V2136.3H1863.5V2137.3H1862V2135.9H1860.5V2137.9H1859.1V2136.1H1857.6V2136.1H1856.1V2136.8H1854.7V2138.1H1853.2V2136.2H1851.7V2137.8H1850.3V2137.2H1848.8V2136.6H1847.3V2137.4H1845.9V2139.2H1844.4Z" fill="#C7E9C0" shape-rendering="crispEdges"/>
<path d="M333.8 2152.5L335.2 2150.8L336.7 2148.4L338.1 2147.1L339.5 2146L341 2144.1L342.4 2142.9L343.9 2143.2L345.3 2143.4L346.8 2142L348.2 2141.7L349.7 2140.5L351.2 2139.1L352.7 2137.3L354.2 2136.8L356.1 2133.9L357.9 2130.8L359.1 2122.4L360.6 2117.3L362.2 2113.9L363.2 2110.3L364.4 2111.1L365.6 2110.3L366.3 2095.9L368.1 2099.7L369.9 2101.9L371.1 2097.9L372.3 2092.2L374.1 2096L375.9 2098.3L376.7 2086.2L378.1 2088.1L379.6 2091L380.8 2075.4L382 2060.9L383.8 2062.9L385.6 2064.5L387.4 2062.6L389.2 2059.7L390.7 2058.6L392.1 2058.2L393.6 2057.1L395 2055L396.4 2054.9L398.1 2053.6L399.7 2054.9L401.3 2053.7L402.7 2054.7L404.2 2054.6L405.6 2054.4L407.1 2055.2L408.5 2054.9L409.9 2055.7L411.4 2055.4L412.8 2055.2L414.3 2054L415.7 2054.9L417.3 2053.6L418.9 2052.9L420.6 2052.5L422 2052.4L423.4 2052L424.9 2053.1L426.3 2053.4L427.8 2052.5L429.4 2051L431 2050.7L432.6 2048.8L434.4 2046.7L436.2 2045.2L437.8 2049.4L439.4 2052.5L440.3 2066.9L441.8 2066.8L443.2 2067.4L444.7 2068.1L446.1 2068L447.6 2069.2L449 2069.2L450.5 2070.8L451.9 2070.5L453.3 2069.8L454.8 2071.4L456.2 2070.1L457.7 2070.1L459.1 2071.1L460.6 2071.1L462 2070.1L463.5 2071L464.9 2070.6L466.4 2071.1L467.8 2070.7L469.3 2070.9L470.7 2070.2L472.2 2070.2L473.6 2071L475.5 2075.4L476.5 2081.4L477.9 2074.2L479.4 2074.3L480.8 2072.9L482.3 2072.2L483.8 2073.6L485.4 2072.6L486.9 2073.3L488.4 2072.8L489.9 2072.9L491.4 2072.5L492.9 2072.9L494.4 2072.4L495.9 2072L497.4 2073.2L498.9 2071.6L500.4 2073.2L501.9 2072.9L503.4 2071.7L504.9 2071.5L506.4 2072.6L508 2071.8L509.5 2071.2L511 2071.8L512.5 2072.4L514 2072.2L515.5 2071.4L517 2071.3L518.4 2071.2L519.9 2071.3L521.3 2070.4L522.8 2069.6L524.2 2070.3L525.7 2069.3L527.1 2069.5L528.6 2069.3L530 2069.6L531.5 2069.3L532.8 2068.1L534.2 2068.1L535.6 2067.3L537 2068.7L538.4 2068.6L539.7 2067.7L541.1 2066.9L541.8 2045.2L543.3 2044.5L544.8 2044.9L546.3 2046.3L547.8 2046L549.3 2046.6L550.8 2046.4L552.2 2046.1L553.6 2047.1L555.1 2045.8L556.5 2046.3L558 2046.2L559.4 2045.5L560.9 2045.5L562.3 2046.8L563.8 2046.6L565.2 2045.7L566.7 2046.4L568.2 2046.1L569.7 2045.8L571.2 2045.2L572.8 2044.8L574.3 2046.4L575.8 2046L577.3 2045L578.8 2046.2L580.3 2045.6L581.8 2044.6L583.3 2045L584.8 2044.8L586.3 2045.8L587.8 2045.9L589.3 2045.2L590.8 2045.4L592.3 2045L593.7 2045.8L595.2 2044.9L596.6 2044.3L598.1 2045.3L599.6 2045.8L601 2045.7L602.5 2045.5L603.9 2044.7L605.4 2044.8L606.9 2045.1L608.3 2044.8L609.8 2045.5L611.2 2045L612.7 2045.3L614.2 2044.8L615.6 2043.7L617.1 2043.7L618.6 2044L620 2044.6L621.5 2045.2L622.9 2045.2L624.4 2044.5L625.9 2043.8L627.3 2044.5L628.8 2043.7L630.2 2044.2L631.7 2044.1L633.2 2045L634.6 2044.9L636.1 2043.1L637.6 2044L639 2044.6L640.5 2044.1L642 2044.1L643.4 2043.7L644.9 2044.6L646.4 2044.3L647.8 2043L649.3 2043.4L650.8 2043.1L652.3 2043L653.7 2043L655.2 2043.9L656.7 2043.2L658.1 2042.9L659.6 2043.1L661.1 2044L662.5 2042.6L664 2044L665.5 2043.4L667 2043.1L668.4 2042.5L669.9 2044.1L671.4 2043.7L672.8 2043.3L674.3 2043.1L675.8 2043.2L677.2 2042.7L678.7 2041.9L680.2 2042.2L681.7 2042.5L683.1 2041.9L684.6 2043.2L686.1 2042.8L687.5 2043.3L689 2043.3L690.5 2042.7L691.9 2042.8L693.4 2041.9L694.9 2041.6L696.4 2042.8L697.8 2042.3L700 2042.3L701.5 2043L703 2041.7L704.5 2042.9L706 2042L707.5 2042.3L709 2042.9L710.5 2042.9L712.1 2042.7L713.6 2042.7L715.1 2042.4L716.6 2042.7L718.1 2042.6L719.6 2041.5L721.1 2042.1L722.6 2041L724.1 2041.8L725.6 2041.2L727.1 2042.6L728.6 2041.1L730.1 2041.5L731.6 2041L733.2 2041L734.7 2041.4L736.2 2040.7L737.7 2041.9L739.2 2040.8L740.7 2040.6L742.2 2041.2L743.7 2041.2L745.2 2041L746.7 2042.1L748.2 2041.1L749.7 2041.9L751.2 2041.6L752.7 2041L754.2 2040L755.8 2041L757.3 2040.1L758.8 2040.6L760.3 2040.4L762.1 2038.7L763.9 2038.5L765.5 2036.3L767.1 2032.8L768.7 2030.8L769.9 2025.9L771.5 2026L773.1 2024.9L774.7 2023.5L776.6 2021.2L778.4 2018.7L779.9 2017.6L781.4 2017.5L782.9 2017.7L784.4 2017.5L785.9 2017.6L787.4 2016.8L788.9 2017.4L790.4 2016.3L791.9 2015.5L793.4 2014L794.9 2013L796.4 2012.7L798.1 2011L799.7 2011.7L801.3 2010.3L802.9 2009.4L804.5 2007.7L806.1 2005.4L807.7 2005.4L809.3 2004.5L810.9 2003L812.1 1998.2L813.3 1993.4L814.9 1992.8L816.5 1992.8L818.1 1992.2L820 1993.6L821.8 1993.4L823 1977.7L823.4 1946.4L824.2 1878.9L825.9 1849.9L827.3 1829.4L829 1813.8L830.8 1808.3L832.6 1804.1L833.8 1802.8L835 1799.8L836.8 1801.8L838.6 1802.9L840.1 1801L841.7 1799.6L843.2 1798.6L844.7 1798.1L845.9 1812.5L847.6 1837.9L849.1 1836.8L850.7 1834.2L852.5 1832.6L854.3 1831.8L855.9 1833.3L857.5 1833.9L859.1 1834.2L860.7 1835.2L862.3 1837.1L864 1839.1L865.8 1844L867.6 1849.9L868.8 1865.6L870.2 1858.2L871.7 1852.3L872.6 1890.9L873.6 1946.4L875.4 1947L877.2 1948.3L878.7 1948.2L880.2 1947.3L881.7 1946.9L883.2 1946.4L884.6 1946.2L886 1946.4L887.4 1946.2L888.8 1945.2L890.1 1945L891.5 1945.4L892.9 1945.6L894.3 1946L895.8 1946.1L897.2 1945.5L898.7 1946.2L900.1 1945.7L901.6 1946L903 1945.6L904.5 1946L905.9 1944.8L907.4 1945.2L908.6 1947.1L909.8 1950L911 1952.1L912.2 1953.6L913.8 1954.5L915.4 1955L917 1955.5L918.4 1955.1L919.9 1956.2L921.3 1956.1L922.8 1955.7L924.2 1956L925.7 1955.6L927.1 1955.8L928.6 1957.1L930 1955.5L931.5 1956.3L932.9 1956.6L934.4 1956.4L935.8 1956.5L936.8 1992.2L938.7 2035.1L940.3 2035.2L941.9 2034.6L943.5 2035.6L944.7 2035L945.9 2033.2L947.4 2031.8L948.8 2031.9L950.3 2031.5L951.7 2030.6L953.2 2030.8L954.7 2030.4L956.2 2029.2L957.7 2026.5L959.2 2026.4L960.8 2025.9L962.3 2027.1L963.5 2047.6L964.7 2080.2L966.2 2075.1L967.6 2071.7L969.2 2070.8L970.8 2070.3L972.5 2070.5L973.9 2070L975.3 2068.8L976.8 2068.2L978.2 2069.6L979.7 2068.1L981.3 2067.7L982.9 2064.9L984.5 2064.5L986.1 2063L987.7 2061.5L989.3 2060.9L990.7 2059.7L992.1 2060L993.5 2059.2L994.8 2058.5L996.2 2058.3L997.6 2057.8L999 2057.3L1000.4 2056L1001.9 2055.7L1003.3 2056L1004.8 2056.1L1006.2 2055.3L1007.7 2055.2L1009.2 2053.7L1010.7 2052.2L1012.2 2052.5L1013.7 2053.7L1015.3 2052.5L1016.8 2053.4L1018.3 2054.4L1019.7 2054.1L1021.2 2053.4L1022.6 2052.5L1024.1 2052.7L1025.5 2052L1027 2051.4L1028.5 2052.6L1030 2051.2L1031.5 2051.3L1033 2051.9L1034.5 2052.9L1036 2053.1L1037.6 2052.5L1039.1 2053.3L1040.6 2052.3L1042.1 2053.3L1043.6 2052.2L1045.1 2052.5L1046.6 2051.8L1048.1 2052.7L1049.6 2052.5L1051.5 2066.9L1053.2 2081.4L1054.4 2091L1055.6 2086.9L1056.8 2083.8L1058.4 2085.8L1060.1 2085.9L1061.7 2087.4L1063 2087.8L1064.4 2086.6L1065.8 2085.8L1067.2 2085.9L1068.6 2084.6L1069.9 2084.7L1071.3 2084.3L1072.9 2084.8L1074.5 2085.1L1076.1 2086.2L1077.4 2085.1L1078.7 2085.2L1080 2085.8L1081.8 2086.4L1083.6 2085.8L1084.5 2093.9L1085.4 2106.6L1086.3 2117.4L1087.7 2114.7L1089 2113.8L1090.8 2113.9L1092.7 2114.7L1094 2116.4L1095.4 2119.2L1095.9 2139.1L1098.1 2140.9L1099.4 2143.3L1100.8 2147.3L1102.2 2144.1L1103.5 2140.9L1105.3 2140.8L1107.1 2139.1L1108 2146.4L1109.4 2143.5L1110.7 2140.9L1112.1 2141.8L1113.5 2140.5L1114.8 2141.6L1116.2 2140.9L1117.5 2139.5L1118.9 2139.4L1120.2 2140.1L1121.6 2139.1L1122.9 2137.3L1124.3 2137.3L1125.7 2136.4L1127 2135.5L1128.8 2137L1130.6 2137.3L1132.4 2136.7L1134.2 2135.5L1135.7 2136.9L1137.2 2137.3M1143 2135.2L1144.6 2133.9L1146.1 2133.7L1147.7 2134.1L1149.2 2133.6L1150.8 2134L1152.3 2132.8L1153.8 2133.5L1155.3 2133.1L1156.9 2132.8L1158.4 2131.6L1159.9 2132L1161.4 2131.6L1162.9 2131.8L1164.4 2130.8L1165.9 2130.9L1167.4 2130.3L1168.9 2131.2L1170.4 2130.5L1171.9 2129.3L1173.4 2130.8L1174.9 2130.7L1176.4 2129.1L1178 2130.4L1179.5 2128.9L1181 2129.7L1182.5 2128.4L1184 2128.7L1185.5 2129.1L1187 2129.7L1188.5 2128.6L1190 2128.8L1191.5 2127.9L1193 2127.6L1194.5 2129L1196 2127.9L1197.5 2128.2L1199 2128.6L1200.6 2128.5L1202.1 2127.5L1203.6 2128.1L1205.1 2128.9L1206.6 2127.9L1208.1 2127.5L1209.6 2127.9L1211.1 2127.5L1212.6 2126.6L1214.1 2128.3L1215.6 2127.1L1217.1 2128.3L1218.6 2127.2L1220.1 2127.2L1221.7 2126.6L1223.2 2126L1224.7 2126.8L1226.2 2127.3L1227.7 2126.2L1229.2 2127.3L1230.7 2126.9L1232.2 2127.4L1233.7 2126.2L1235.2 2126.1L1236.7 2126.7L1238.2 2126.3L1239.7 2127.1L1241.2 2126L1242.7 2126.1L1244.3 2126.7L1245.8 2125.6L1247.3 2125.6L1248.8 2126.2L1250.3 2126.1L1251.8 2125.4L1253.3 2125L1254.8 2125L1256.3 2125.6L1257.8 2125.5L1259.3 2125.6L1260.8 2125.8L1262.3 2125.6L1263.8 2125.4L1265.4 2125.1L1266.9 2125.1L1268.4 2125.6L1269.9 2126.5L1271.4 2126.4L1272.9 2126.3L1274.4 2125.1L1275.9 2125.1L1277.4 2124.9L1278.9 2125.4L1280.4 2126L1281.9 2125.6L1283.4 2125.9L1284.9 2124.1L1286.4 2123.8L1288 2124.4L1289.5 2123.6L1291 2124.3L1292.5 2124.4L1294 2125L1295.5 2123.8L1297 2123.8L1298.5 2124.2L1300 2124.1L1301.5 2123.9L1303 2123.6L1304.5 2123.7L1306 2124L1307.5 2122.7L1309.1 2122.2L1310.6 2123.5L1312.1 2122.3L1313.6 2123.4L1315.1 2122.9L1316.6 2122.6L1318.1 2123.5L1319.6 2122.9L1321.1 2122.1L1322.6 2121.6L1324.1 2121.3L1325.6 2121.3L1327.1 2121.9L1328.6 2122.3L1330.2 2122.8L1331.7 2122.2L1333.2 2121.6L1334.7 2121.5L1336.2 2121.5L1337.7 2121.4L1339.2 2120.2L1340.7 2121.2L1342.2 2120L1343.7 2120.1L1345.2 2121.4L1346.7 2120.1L1348.2 2120.7L1349.7 2119.9L1351.2 2120.1L1352.8 2119.4L1354.3 2119.7L1355.9 2119.9L1357.4 2120.5L1359 2119.6L1360.5 2118.7L1362.1 2119.2L1363.5 2117.9L1365 2118.6L1366.4 2117.3L1367.9 2117.5L1369.3 2117.4L1370.8 2116L1372.3 2115.3L1373.9 2115.6L1375.7 2110.2L1377 2108.9L1378.4 2106.6L1379.3 2098.4L1380.8 2098.5L1382.3 2098.3L1383.8 2098.4L1385.6 2097.4L1387.4 2095.7L1389.2 2089.4L1390.6 2094.2L1391.9 2097.5L1393.3 2093L1394.6 2090.3L1396 2090.3L1397.4 2088.5L1398.3 2084L1400.1 2084.9L1401.9 2084.9L1403.2 2082L1404.6 2078.6L1406.1 2079.7L1407.6 2081L1409.1 2081.3L1410.9 2073.1L1412.7 2071.1L1414.5 2068.6L1416.3 2067L1418.2 2064.1L1420 2063.3L1421.8 2063.2L1423.1 2063L1424.5 2064.3L1425.8 2065L1427.2 2065L1428.6 2065.5L1429.9 2064.8L1431.3 2063.8L1432.6 2063.2L1434 2063.4L1435.3 2062.7L1436.7 2062L1438 2061.4L1439.4 2061.3L1440.8 2059.7L1442.1 2059.7L1443.5 2059.6L1444.9 2059.7L1446.4 2059L1447.8 2059.1L1449.3 2058.7L1450.7 2059.6L1452.1 2058.4L1453.4 2060.1L1454.8 2058L1456.1 2058.7L1457.4 2057.4L1458.7 2057.8M1846.9 2135L1848.4 2135.3L1850 2135L1851.5 2134.1L1853.1 2134.9L1854.6 2135L1856.2 2134.7L1857.6 2133.8L1859.1 2135.1L1860.6 2133.9L1862.1 2133.6L1863.6 2135L1865 2134.2L1866.5 2133.5L1868 2134.5L1869.5 2133.5L1871 2134.1L1872.4 2134L1874 2133L1875.5 2134L1877.1 2133.7L1878.6 2132.9L1880.2 2132.2L1881.7 2133.2L1883.3 2132.7L1884.8 2132.1L1886.3 2133.1L1887.8 2133.1L1889.3 2131.2L1890.8 2131.1L1892.3 2131.8L1893.8 2130.5L1895.2 2130.1L1896.7 2129.7L1898.1 2131.3L1899.6 2130L1901.4 2127.8L1903.2 2126.4L1905 2121.8L1906.3 2123.3L1907.7 2123.7L1909.5 2114.6L1910.9 2116.2L1912.2 2117.3L1914 2105.6L1915.8 2109.1L1917.6 2111.9L1919.5 2110.6L1921.3 2110.1L1922.6 2109.1L1924 2108.1L1925.3 2107.1L1926.7 2107.4L1928 2107.7L1929.4 2107.1L1930.8 2108.3L1932.1 2108.3L1933.5 2106.8L1934.8 2105.9L1936.2 2105.1L1937.5 2104.7L1939.3 2103.4L1941.2 2103.8L1942.5 2100.5L1943.9 2097.4L1945.2 2099.4L1946.6 2100.1L1947.9 2098.9L1949.3 2099.6L1950.7 2097.9L1952 2098.3L1953.8 2096.9L1955.6 2096.5L1957.4 2097L1959.2 2098.3L1961 2099.4L1962.9 2101L1963.8 2110.1L1965.6 2119.1L1966.9 2117.9L1968.3 2115.5L1969.6 2114.6L1971 2115.4L1972.4 2115.3L1973.7 2115.5L1975.2 2114.9L1976.7 2114.5L1978.2 2114.5L1979.7 2115L1981.2 2115.5L1982.7 2114.6L1984.3 2115.4L1985.9 2114.4L1987.5 2113.7L1989.1 2114.6L1990.3 2122.7L1991.5 2128.7L1992.7 2135.4L1994.5 2140.8L1995 2149.9L1996.5 2149.9L1997.9 2148.7L1999.4 2148.3L2000.8 2148.1L2002.3 2147.3L2003.8 2148.5L2005.4 2147.9L2006.9 2147.4L2008.4 2147.3L2009.9 2146.3L2011.4 2146.9L2012.9 2147.6L2014.4 2146.9L2015.9 2146.9L2017.4 2146.1L2018.9 2146.3L2020.4 2146L2021.9 2146.3L2023.4 2145.8L2024.9 2145.2L2026.4 2144.8L2028 2145L2029.5 2144.9L2031 2145.3L2032.5 2144.2L2034 2145.4L2035.5 2144L2037 2144.4L2038.5 2144.6L2040 2144.6L2041.5 2144.7L2043 2144.8L2044.5 2144.5L2046 2143.3L2047.5 2143.7L2049.1 2143L2050.6 2144.7L2052.1 2143.3L2053.6 2143.8L2055.1 2143.5L2056.6 2144.2L2058.1 2143.6L2059.6 2144.1L2061.1 2143L2062.6 2143.7L2064.1 2143.1L2065.6 2142.5L2067.1 2142.5L2068.6 2143L2070.2 2141.7L2071.7 2142.7L2073.2 2142.3L2074.7 2142.2L2076.2 2142L2077.7 2141.2L2079.2 2142.3L2080.7 2141L2082.2 2141.2L2083.7 2142.7L2085.2 2140.8L2086.7 2142.5L2088.2 2141.5L2089.7 2141.1L2091.2 2141.4L2092.8 2140.6L2094.3 2142L2095.8 2140.5L2097.3 2141.4L2098.8 2141L2100.3 2140.2L2101.8 2140.1L2103.3 2140.1L2104.8 2139.8L2106.3 2141.6L2107.8 2140L2109.3 2140.5L2110.8 2141.3L2112.3 2139.8L2113.9 2140.2L2115.4 2139.5L2116.9 2140.3L2118.4 2139.5L2119.9 2138.9L2121.4 2139L2122.9 2139.5L2124.4 2138.7L2125.9 2138.7L2127.4 2139.4L2128.9 2139L2130.4 2139.4L2131.9 2138.5L2133.4 2139.2L2134.9 2139.1L2136.5 2138.7L2137.8 2138.5L2139.2 2138.5L2140.5 2137.8L2141.9 2136.3L2143.7 2133.7L2145.5 2131.8L2147.3 2129.2L2149.1 2126.4L2150.9 2125L2152.7 2121.8L2154.1 2121.8L2155.4 2121L2156.8 2120.6L2158.2 2119.1L2159.7 2118.8L2161.2 2118.3L2162.7 2118.2L2163.6 2108.3L2165.4 2099.2L2166.7 2101.8L2168.1 2104.7L2169.9 2106.5L2171.7 2107.4L2173.2 2106.6L2174.7 2105.4L2176.2 2105.6L2177.6 2106.5L2179 2105.3L2180.3 2107.1L2181.7 2106.5L2183.2 2106.7L2184.7 2105.7L2186.2 2106.4L2187.7 2104.3L2189.2 2104.3L2190.7 2104.3L2192.1 2103.4L2193.4 2103.5L2194.8 2103.9L2196.1 2103.1L2197.5 2104.3L2198.8 2103.8L2200 2103.4L2201.4 2103.1L2202.8 2102.8L2204.1 2102.7L2205.5 2102.2L2206.9 2103.1L2208.3 2101.6L2209.6 2102L2211 2102.3L2212.4 2101L2213.8 2102.1L2215.2 2101.2L2216.5 2100.7L2217.9 2101.8L2219.3 2101.1L2220.8 2100.2L2222.3 2101.6L2223.7 2100.6L2225.2 2100.3L2226.7 2100L2228.2 2101.6L2229.7 2099.9L2231.2 2101.4L2232.6 2100.1L2234.1 2100.8L2235.6 2100.7L2237.1 2100.9L2238.6 2100.5L2240.1 2100.3L2241.5 2100.4L2243 2100.3L2244.5 2100.7L2246 2100.9L2247.5 2100.1L2249 2101.3L2250.4 2101.5L2251.9 2100.6L2253.4 2100.8L2254.9 2101.2L2256.4 2101L2257.9 2100.5L2259.3 2101L2260.8 2099.5L2262.3 2100.4L2263.8 2101.2L2265.3 2100.6L2266.8 2100.8L2268.2 2099.5L2269.7 2099.5L2271.2 2099.5L2272.7 2099.7L2274.2 2100.5L2275.7 2100.5L2277.1 2100.1L2278.6 2099.4L2280.1 2100.9L2281.6 2100.6L2283.1 2100.8L2284.6 2100.1L2286 2100.2L2287.5 2099.3L2289 2099.8L2290.5 2100.3L2292 2100.9L2293.5 2100.5L2294.9 2099.3L2296.4 2099.9L2297.9 2100.5L2299.4 2100.8L2300.9 2099.3L2302.4 2100.8L2303.8 2100.7L2305.3 2100.5L2306.8 2099L2308.3 2100.7L2309.8 2100.7L2311.3 2099.1L2312.8 2100.7L2314.2 2100.6L2315.7 2099.9L2317.2 2099.3L2318.7 2099.2L2320.2 2099.6L2321.7 2100L2323.1 2100L2324.6 2099.6L2326.1 2099.4L2327.6 2099.1L2329.1 2098.6L2330.6 2099.2L2332 2098.6L2333.5 2098.4L2335 2099.2L2336.5 2098.8L2338 2099.1L2339.5 2100L2340.9 2099.1L2342.4 2099.5L2343.9 2098.1L2345.4 2099.3L2346.9 2098.8L2348.4 2098.4L2349.8 2099.4L2351.3 2098.5L2352.8 2098.2L2354.3 2098.8L2355.8 2099.3L2357.3 2099.6L2358.9 2097.9L2360.4 2099.2L2361.9 2098.9L2363.5 2099.4L2365 2098.3L2366.5 2099.2L2368 2099.6L2369.6 2098.2L2371.1 2099.3L2372.6 2098.8L2374.5 2095.7L2375.9 2095L2377.2 2095.4L2378.6 2093.9L2379.9 2094.4L2381.3 2093.4L2382.6 2092L2384 2092.1L2385.3 2091.2L2386.7 2089.7L2388 2089.5L2389.4 2087.9L2390.7 2088.3L2392.1 2088.6L2393.4 2087.5L2394.8 2086.6L2396.2 2087.9L2397.7 2088L2399.1 2087.8L2400.6 2088.5L2401.9 2088.4L2403.2 2087L2404.4 2085.7L2406 2085L2407.7 2084.6L2409.3 2083.7L2410.9 2082.5L2412.5 2082.5L2414.1 2081.8L2415.5 2078.8L2417 2076L2418.6 2077.5L2420.2 2076.9L2421.8 2077.9L2423.2 2077L2424.7 2076L2426.1 2076.6L2427.6 2075L2429 2074.2L2430.5 2074.5L2431.9 2072L2433.4 2072.2L2434.7 2072.8L2435.9 2072.5L2437.2 2072.2L2438.2 2064.4L2439.8 2065.7L2441.4 2064.7L2443 2065.4L2444.6 2064.4L2446.2 2064.2L2447.8 2063.5L2449.8 2058.6L2450.7 2050.9L2452 2051.2L2453.3 2052.5L2454.6 2052.9L2456.5 2044.2L2458 2042.4L2459.4 2039.4L2460.8 2043.4L2462.3 2047.1L2463.8 2020.1L2465 2016.5L2466.2 2014.3L2467.1 1988.3L2468.6 1995.9L2470 2002.7L2471.5 2000.6L2472.9 1996.9L2473.9 1981.5L2475.3 1984.6L2476.8 1986.3L2478.2 1987.2L2479.7 1987.3L2481.6 1998.9L2483.5 2018.1L2485.4 2033.6L2487.4 2043.2L2489.3 2056.7L2490.3 2072.2L2492.2 2050.9L2493.5 2040.3L2494.1 1998.9L2494.5 1981.9L2496 1982.3L2497.5 1982.1L2498.9 1983.4L2500.3 1984.3L2501.6 1984.2L2503 1984.3L2504.3 1984.9L2505.7 1986.3L2506.3 2006.6L2506.7 2029.7L2507.6 2056.7L2509.1 2057.4L2510.5 2057.4L2512 2058.9L2513.4 2059.6L2514.8 2059.2L2516.1 2059.8L2517.5 2057.9L2518.8 2058.5L2520.2 2057.7L2521.5 2057.6L2522.9 2056.8L2524.3 2056.8L2525.7 2057.2L2527 2056.9L2528.4 2058L2529.8 2057.7L2531 2058.9L2532.1 2060.6L2533.7 2068.3L2535.1 2071.4L2536.5 2074.1L2538.2 2072.7L2539.8 2072.3L2541.4 2072.2L2542.8 2072.4L2544.3 2071.2L2545.7 2071.9L2547.2 2072.2L2548.6 2071.5L2550 2072.4L2551.5 2071.1L2552.9 2071.2L2554.4 2071.8L2555.8 2071.9L2557.3 2070.2L2558.7 2070.6L2560 2070.7L2561.4 2069.4L2562.7 2069L2564.1 2069.1L2565.4 2068.5L2566.8 2068.9L2568.1 2070.7L2569 2081.2L2570.8 2082.1L2572.7 2084.4L2574 2083.4L2575.4 2081.9L2576.7 2081.2L2578.1 2081.2L2579.6 2080L2581.1 2080.4L2582.6 2080.5L2584.1 2079.7L2585.6 2079.8L2587.1 2079.3L2588.6 2079L2590.1 2079.1L2591.6 2077.4L2593.2 2077.4L2594.7 2078L2596.2 2077.2L2597.7 2076.3L2599.2 2077.3L2600.7 2077.1L2602.2 2076.6L2603.7 2075.9L2605.2 2075.7L2606.7 2075.5L2608.2 2075.1L2609.7 2074.2L2611.2 2074.6L2612.7 2074.1L2614.2 2074.3L2615.8 2074.4L2617.3 2073.9L2618.8 2073.3L2620.3 2072.9L2621.8 2073.8L2623.3 2073.1L2624.8 2072.6L2626.3 2073.6L2627.8 2074.2L2629.3 2073.6L2630.8 2072.2L2632.3 2073L2633.8 2073.4L2635.2 2071.7L2636.7 2072L2638.1 2072.8L2639.6 2071.8L2641.4 2070.1L2643.2 2069.4L2644.6 2069.2L2646.1 2069.1L2647.5 2069.2L2649 2068.6L2650.4 2068.5L2651.9 2069.1L2653.3 2067.4L2654.8 2068.5L2656.2 2068L2657.6 2068.1L2659.5 2067.3L2661.3 2065.8L2662.6 2066.9L2664 2069.4L2665.5 2068.3L2667 2066.8L2668.5 2064.9L2670 2063.8L2671.5 2064.7L2673 2064.4L2674.5 2063.9L2676 2062.2L2677.5 2062.7L2679 2061.9L2680.6 2061.7L2682.1 2062.4L2683.6 2062.2L2685.1 2060.3L2686.6 2060.9L2688.1 2060.7L2689.7 2061.3L2691.2 2060L2692.8 2060.4L2694.3 2060.4L2695.9 2059.8L2697.4 2059.1L2699.6 2054.9L2701.2 2056.3L2702.9 2056.7L2704.3 2055.4L2705.8 2055.8L2707.2 2055L2708.6 2054.3L2710.1 2054.9L2711.9 2052.7L2713.7 2049.5L2715.2 2049.4L2716.7 2049.5L2718.2 2048L2719.7 2047.9L2721.2 2048.4L2722.7 2047.7L2724.6 2046.3L2726.4 2044.6L2727.8 2045.4L2729.3 2044.6L2730.7 2045.3L2732.2 2044L2733.6 2045L2735 2044.4L2736.5 2044.3L2737.9 2043.4L2739.4 2044.4L2740.8 2043.2L2742.6 2042.5L2744.4 2041L2746.3 2043.5L2748.1 2044.1L2749.5 2044.6L2751 2043L2752.4 2044L2753.9 2043.5L2755.3 2042.8L2756.7 2041.9L2758.1 2041.8L2759.5 2041.7L2760.9 2042.7L2762.3 2041.5L2763.7 2041.7L2765.1 2041.4L2766.6 2041L2768 2041.7L2769.5 2041.1L2771 2040.6L2772.5 2042L2774 2041.8L2775.5 2039.9L2777 2040.5L2778.5 2039.9L2780 2041.3L2781.5 2040.1L2783 2040L2784.5 2041.1L2786 2040.3L2787.5 2041L2789.1 2041.1L2790.6 2039.6L2792.1 2040.6L2793.6 2040.1L2795.1 2040.5L2796.6 2040.8L2798.1 2040.3L2799.6 2040L2801.1 2040.7L2802.6 2040.7L2804.1 2040.5L2805.6 2040.5L2807.1 2039L2808.6 2039.2L2810.2 2040.2L2811.7 2039.4L2813.2 2039.2L2814.7 2038.2L2816.2 2040L2817.7 2038.7L2819.2 2038.7L2820.7 2039.1L2822.2 2039.6L2823.7 2038.7L2825.2 2038.4L2826.7 2037.8L2828.2 2037.5L2829.7 2037.4L2831.2 2038.1L2832.8 2037.2L2834.3 2037.1L2835.8 2037.8L2837.3 2038.1L2838.8 2037.9L2840.3 2038L2841.8 2037L2843.3 2038.5L2844.8 2038.3L2846.3 2038.3L2847.8 2037.7L2849.3 2037.4L2850.8 2037.3L2852.2 2037.9L2853.7 2038.3L2855.1 2036.8L2856.6 2037.8L2857.9 2036.1L2859.3 2035.3L2860.6 2034.5L2862 2034.5L2863.5 2034.7L2865 2033.1L2866.5 2034.5L2868 2033.9L2869.5 2033.6L2871 2033.2L2872.4 2032.4L2873.7 2031.4L2875.1 2030.3L2876.5 2030.5L2877.9 2030.7L2879.3 2028.8L2880.8 2029.4L2882.2 2028.3L2883.7 2028.7L2885.2 2027.7L2886.7 2028.8L2888.2 2027.8L2890 2031.4L2891.6 2030.6L2893.2 2029.7L2894.8 2029.9L2896.3 2028.7L2897.8 2028.1L2899.3 2029.1" fill="none" stroke="#AC0000" stroke-width="3.3" stroke-linejoin="round" stroke-linecap="round" shape-rendering="crispEdges"/>
<path d="M333.8 2152.5h0M335.2 2150.8h0M336.7 2148.4h0M338.1 2147.1h0M339.5 2146h0M341 2144.1h0M342.4 2142.9h0M343.9 2143.2h0M345.3 2143.4h0M346.8 2142h0M348.2 2141.7h0M349.7 2140.5h0M351.2 2139.1h0M352.7 2137.3h0M354.2 2136.8h0M356.1 2133.9h0M357.9 2130.8h0M359.1 2122.4h0M360.6 2117.3h0M362.2 2113.9h0M363.2 2110.3h0M364.4 2111.1h0M365.6 2110.3h0M366.3 2095.9h0M368.1 2099.7h0M369.9 2101.9h0M371.1 2097.9h0M372.3 2092.2h0M374.1 2096h0M375.9 2098.3h0M376.7 2086.2h0M378.1 2088.1h0M379.6 2091h0M380.8 2075.4h0M382 2060.9h0M383.8 2062.9h0M385.6 2064.5h0M387.4 2062.6h0M389.2 2059.7h0M390.7 2058.6h0M392.1 2058.2h0M393.6 2057.1h0M395 2055h0M396.4 2054.9h0M398.1 2053.6h0M399.7 2054.9h0M401.3 2053.7h0M402.7 2054.7h0M404.2 2054.6h0M405.6 2054.4h0M407.1 2055.2h0M408.5 2054.9h0M409.9 2055.7h0M411.4 2055.4h0M412.8 2055.2h0M414.3 2054h0M415.7 2054.9h0M417.3 2053.6h0M418.9 2052.9h0M420.6 2052.5h0M422 2052.4h0M423.4 2052h0M424.9 2053.1h0M426.3 2053.4h0M427.8 2052.5h0M429.4 2051h0M431 2050.7h0M432.6 2048.8h0M434.4 2046.7h0M436.2 2045.2h0M437.8 2049.4h0M439.4 2052.5h0M440.3 2066.9h0M441.8 2066.8h0M443.2 2067.4h0M444.7 2068.1h0M446.1 2068h0M447.6 2069.2h0M449 2069.2h0M450.5 2070.8h0M451.9 2070.5h0M453.3 2069.8h0M454.8 2071.4h0M456.2 2070.1h0M457.7 2070.1h0M459.1 2071.1h0M460.6 2071.1h0M462 2070.1h0M463.5 2071h0M464.9 2070.6h0M466.4 2071.1h0M467.8 2070.7h0M469.3 2070.9h0M470.7 2070.2h0M472.2 2070.2h0M473.6 2071h0M475.5 2075.4h0M476.5 2081.4h0M477.9 2074.2h0M479.4 2074.3h0M480.8 2072.9h0M482.3 2072.2h0M483.8 2073.6h0M485.4 2072.6h0M486.9 2073.3h0M488.4 2072.8h0M489.9 2072.9h0M491.4 2072.5h0M492.9 2072.9h0M494.4 2072.4h0M495.9 2072h0M497.4 2073.2h0M498.9 2071.6h0M500.4 2073.2h0M501.9 2072.9h0M503.4 2071.7h0M504.9 2071.5h0M506.4 2072.6h0M508 2071.8h0M509.5 2071.2h0M511 2071.8h0M512.5 2072.4h0M514 2072.2h0M515.5 2071.4h0M517 2071.3h0M518.4 2071.2h0M519.9 2071.3h0M521.3 2070.4h0M522.8 2069.6h0M524.2 2070.3h0M525.7 2069.3h0M527.1 2069.5h0M528.6 2069.3h0M530 2069.6h0M531.5 2069.3h0M532.8 2068.1h0M534.2 2068.1h0M535.6 2067.3h0M537 2068.7h0M538.4 2068.6h0M539.7 2067.7h0M541.1 2066.9h0M541.8 2045.2h0M543.3 2044.5h0M544.8 2044.9h0M546.3 2046.3h0M547.8 2046h0M549.3 2046.6h0M550.8 2046.4h0M552.2 2046.1h0M553.6 2047.1h0M555.1 2045.8h0M556.5 2046.3h0M558 2046.2h0M559.4 2045.5h0M560.9 2045.5h0M562.3 2046.8h0M563.8 2046.6h0M565.2 2045.7h0M566.7 2046.4h0M568.2 2046.1h0M569.7 2045.8h0M571.2 2045.2h0M572.8 2044.8h0M574.3 2046.4h0M575.8 2046h0M577.3 2045h0M578.8 2046.2h0M580.3 2045.6h0M581.8 2044.6h0M583.3 2045h0M584.8 2044.8h0M586.3 2045.8h0M587.8 2045.9h0M589.3 2045.2h0M590.8 2045.4h0M592.3 2045h0M593.7 2045.8h0M595.2 2044.9h0M596.6 2044.3h0M598.1 2045.3h0M599.6 2045.8h0M601 2045.7h0M602.5 2045.5h0M603.9 2044.7h0M605.4 2044.8h0M606.9 2045.1h0M608.3 2044.8h0M609.8 2045.5h0M611.2 2045h0M612.7 2045.3h0M614.2 2044.8h0M615.6 2043.7h0M617.1 2043.7h0M618.6 2044h0M620 2044.6h0M621.5 2045.2h0M622.9 2045.2h0M624.4 2044.5h0M625.9 2043.8h0M627.3 2044.5h0M628.8 2043.7h0M630.2 2044.2h0M631.7 2044.1h0M633.2 2045h0M634.6 2044.9h0M636.1 2043.1h0M637.6 2044h0M639 2044.6h0M640.5 2044.1h0M642 2044.1h0M643.4 2043.7h0M644.9 2044.6h0M646.4 2044.3h0M647.8 2043h0M649.3 2043.4h0M650.8 2043.1h0M652.3 2043h0M653.7 2043h0M655.2 2043.9h0M656.7 2043.2h0M658.1 2042.9h0M659.6 2043.1h0M661.1 2044h0M662.5 2042.6h0M664 2044h0M665.5 2043.4h0M667 2043.1h0M668.4 2042.5h0M669.9 2044.1h0M671.4 2043.7h0M672.8 2043.3h0M674.3 2043.1h0M675.8 2043.2h0M677.2 2042.7h0M678.7 2041.9h0M680.2 2042.2h0M681.7 2042.5h0M683.1 2041.9h0M684.6 2043.2h0M686.1 2042.8h0M687.5 2043.3h0M689 2043.3h0M690.5 2042.7h0M691.9 2042.8h0M693.4 2041.9h0M694.9 2041.6h0M696.4 2042.8h0M697.8 2042.3h0M700 2042.3h0M701.5 2043h0M703 2041.7h0M704.5 2042.9h0M706 2042h0M707.5 2042.3h0M709 2042.9h0M710.5 2042.9h0M712.1 2042.7h0M713.6 2042.7h0M715.1 2042.4h0M716.6 2042.7h0M718.1 2042.6h0M719.6 2041.5h0M721.1 2042.1h0M722.6 2041h0M724.1 2041.8h0M725.6 2041.2h0M727.1 2042.6h0M728.6 2041.1h0M730.1 2041.5h0M731.6 2041h0M733.2 2041h0M734.7 2041.4h0M736.2 2040.7h0M737.7 2041.9h0M739.2 2040.8h0M740.7 2040.6h0M742.2 2041.2h0M743.7 2041.2h0M745.2 2041h0M746.7 2042.1h0M748.2 2041.1h0M749.7 2041.9h0M751.2 2041.6h0M752.7 2041h0M754.2 2040h0M755.8 2041h0M757.3 2040.1h0M758.8 2040.6h0M760.3 2040.4h0M762.1 2038.7h0M763.9 2038.5h0M765.5 2036.3h0M767.1 2032.8h0M768.7 2030.8h0M769.9 2025.9h0M771.5 2026h0M773.1 2024.9h0M774.7 2023.5h0M776.6 2021.2h0M778.4 2018.7h0M779.9 2017.6h0M781.4 2017.5h0M782.9 2017.7h0M784.4 2017.5h0M785.9 2017.6h0M787.4 2016.8h0M788.9 2017.4h0M790.4 2016.3h0M791.9 2015.5h0M793.4 2014h0M794.9 2013h0M796.4 2012.7h0M798.1 2011h0M799.7 2011.7h0M801.3 2010.3h0M802.9 2009.4h0M804.5 2007.7h0M806.1 2005.4h0M807.7 2005.4h0M809.3 2004.5h0M810.9 2003h0M812.1 1998.2h0M813.3 1993.4h0M814.9 1992.8h0M816.5 1992.8h0M818.1 1992.2h0M820 1993.6h0M821.8 1993.4h0M823 1977.7h0M823.4 1946.4h0M824.2 1878.9h0M825.9 1849.9h0M827.3 1829.4h0M829 1813.8h0M830.8 1808.3h0M832.6 1804.1h0M833.8 1802.8h0M835 1799.8h0M836.8 1801.8h0M838.6 1802.9h0M840.1 1801h0M841.7 1799.6h0M843.2 1798.6h0M844.7 1798.1h0M845.9 1812.5h0M847.6 1837.9h0M849.1 1836.8h0M850.7 1834.2h0M852.5 1832.6h0M854.3 1831.8h0M855.9 1833.3h0M857.5 1833.9h0M859.1 1834.2h0M860.7 1835.2h0M862.3 1837.1h0M864 1839.1h0M865.8 1844h0M867.6 1849.9h0M868.8 1865.6h0M870.2 1858.2h0M871.7 1852.3h0M872.6 1890.9h0M873.6 1946.4h0M875.4 1947h0M877.2 1948.3h0M878.7 1948.2h0M880.2 1947.3h0M881.7 1946.9h0M883.2 1946.4h0M884.6 1946.2h0M886 1946.4h0M887.4 1946.2h0M888.8 1945.2h0M890.1 1945h0M891.5 1945.4h0M892.9 1945.6h0M894.3 1946h0M895.8 1946.1h0M897.2 1945.5h0M898.7 1946.2h0M900.1 1945.7h0M901.6 1946h0M903 1945.6h0M904.5 1946h0M905.9 1944.8h0M907.4 1945.2h0M908.6 1947.1h0M909.8 1950h0M911 1952.1h0M912.2 1953.6h0M913.8 1954.5h0M915.4 1955h0M917 1955.5h0M918.4 1955.1h0M919.9 1956.2h0M921.3 1956.1h0M922.8 1955.7h0M924.2 1956h0M925.7 1955.6h0M927.1 1955.8h0M928.6 1957.1h0M930 1955.5h0M931.5 1956.3h0M932.9 1956.6h0M934.4 1956.4h0M935.8 1956.5h0M936.8 1992.2h0M938.7 2035.1h0M940.3 2035.2h0M941.9 2034.6h0M943.5 2035.6h0M944.7 2035h0M945.9 2033.2h0M947.4 2031.8h0M948.8 2031.9h0M950.3 2031.5h0M951.7 2030.6h0M953.2 2030.8h0M954.7 2030.4h0M956.2 2029.2h0M957.7 2026.5h0M959.2 2026.4h0M960.8 2025.9h0M962.3 2027.1h0M963.5 2047.6h0M964.7 2080.2h0M966.2 2075.1h0M967.6 2071.7h0M969.2 2070.8h0M970.8 2070.3h0M972.5 2070.5h0M973.9 2070h0M975.3 2068.8h0M976.8 2068.2h0M978.2 2069.6h0M979.7 2068.1h0M981.3 2067.7h0M982.9 2064.9h0M984.5 2064.5h0M986.1 2063h0M987.7 2061.5h0M989.3 2060.9h0M990.7 2059.7h0M992.1 2060h0M993.5 2059.2h0M994.8 2058.5h0M996.2 2058.3h0M997.6 2057.8h0M999 2057.3h0M1000.4 2056h0M1001.9 2055.7h0M1003.3 2056h0M1004.8 2056.1h0M1006.2 2055.3h0M1007.7 2055.2h0M1009.2 2053.7h0M1010.7 2052.2h0M1012.2 2052.5h0M1013.7 2053.7h0M1015.3 2052.5h0M1016.8 2053.4h0M1018.3 2054.4h0M1019.7 2054.1h0M1021.2 2053.4h0M1022.6 2052.5h0M1024.1 2052.7h0M1025.5 2052h0M1027 2051.4h0M1028.5 2052.6h0M1030 2051.2h0M1031.5 2051.3h0M1033 2051.9h0M1034.5 2052.9h0M1036 2053.1h0M1037.6 2052.5h0M1039.1 2053.3h0M1040.6 2052.3h0M1042.1 2053.3h0M1043.6 2052.2h0M1045.1 2052.5h0M1046.6 2051.8h0M1048.1 2052.7h0M1049.6 2052.5h0M1051.5 2066.9h0M1053.2 2081.4h0M1054.4 2091h0M1055.6 2086.9h0M1056.8 2083.8h0M1058.4 2085.8h0M1060.1 2085.9h0M1061.7 2087.4h0M1063 2087.8h0M1064.4 2086.6h0M1065.8 2085.8h0M1067.2 2085.9h0M1068.6 2084.6h0M1069.9 2084.7h0M1071.3 2084.3h0M1072.9 2084.8h0M1074.5 2085.1h0M1076.1 2086.2h0M1077.4 2085.1h0M1078.7 2085.2h0M1080 2085.8h0M1081.8 2086.4h0M1083.6 2085.8h0M1084.5 2093.9h0M1085.4 2106.6h0M1086.3 2117.4h0M1087.7 2114.7h0M1089 2113.8h0M1090.8 2113.9h0M1092.7 2114.7h0M1094 2116.4h0M1095.4 2119.2h0M1095.9 2139.1h0M1098.1 2140.9h0M1099.4 2143.3h0M1100.8 2147.3h0M1102.2 2144.1h0M1103.5 2140.9h0M1105.3 2140.8h0M1107.1 2139.1h0M1108 2146.4h0M1109.4 2143.5h0M1110.7 2140.9h0M1112.1 2141.8h0M1113.5 2140.5h0M1114.8 2141.6h0M1116.2 2140.9h0M1117.5 2139.5h0M1118.9 2139.4h0M1120.2 2140.1h0M1121.6 2139.1h0M1122.9 2137.3h0M1124.3 2137.3h0M1125.7 2136.4h0M1127 2135.5h0M1128.8 2137h0M1130.6 2137.3h0M1132.4 2136.7h0M1134.2 2135.5h0M1135.7 2136.9h0M1137.2 2137.3h0M1143 2135.2h0M1144.6 2133.9h0M1146.1 2133.7h0M1147.7 2134.1h0M1149.2 2133.6h0M1150.8 2134h0M1152.3 2132.8h0M1153.8 2133.5h0M1155.3 2133.1h0M1156.9 2132.8h0M1158.4 2131.6h0M1159.9 2132h0M1161.4 2131.6h0M1162.9 2131.8h0M1164.4 2130.8h0M1165.9 2130.9h0M1167.4 2130.3h0M1168.9 2131.2h0M1170.4 2130.5h0M1171.9 2129.3h0M1173.4 2130.8h0M1174.9 2130.7h0M1176.4 2129.1h0M1178 2130.4h0M1179.5 2128.9h0M1181 2129.7h0M1182.5 2128.4h0M1184 2128.7h0M1185.5 2129.1h0M1187 2129.7h0M1188.5 2128.6h0M1190 2128.8h0M1191.5 2127.9h0M1193 2127.6h0M1194.5 2129h0M1196 2127.9h0M1197.5 2128.2h0M1199 2128.6h0M1200.6 2128.5h0M1202.1 2127.5h0M1203.6 2128.1h0M1205.1 2128.9h0M1206.6 2127.9h0M1208.1 2127.5h0M1209.6 2127.9h0M1211.1 2127.5h0M1212.6 2126.6h0M1214.1 2128.3h0M1215.6 2127.1h0M1217.1 2128.3h0M1218.6 2127.2h0M1220.1 2127.2h0M1221.7 2126.6h0M1223.2 2126h0M1224.7 2126.8h0M1226.2 2127.3h0M1227.7 2126.2h0M1229.2 2127.3h0M1230.7 2126.9h0M1232.2 2127.4h0M1233.7 2126.2h0M1235.2 2126.1h0M1236.7 2126.7h0M1238.2 2126.3h0M1239.7 2127.1h0M1241.2 2126h0M1242.7 2126.1h0M1244.3 2126.7h0M1245.8 2125.6h0M1247.3 2125.6h0M1248.8 2126.2h0M1250.3 2126.1h0M1251.8 2125.4h0M1253.3 2125h0M1254.8 2125h0M1256.3 2125.6h0M1257.8 2125.5h0M1259.3 2125.6h0M1260.8 2125.8h0M1262.3 2125.6h0M1263.8 2125.4h0M1265.4 2125.1h0M1266.9 2125.1h0M1268.4 2125.6h0M1269.9 2126.5h0M1271.4 2126.4h0M1272.9 2126.3h0M1274.4 2125.1h0M1275.9 2125.1h0M1277.4 2124.9h0M1278.9 2125.4h0M1280.4 2126h0M1281.9 2125.6h0M1283.4 2125.9h0M1284.9 2124.1h0M1286.4 2123.8h0M1288 2124.4h0M1289.5 2123.6h0M1291 2124.3h0M1292.5 2124.4h0M1294 2125h0M1295.5 2123.8h0M1297 2123.8h0M1298.5 2124.2h0M1300 2124.1h0M1301.5 2123.9h0M1303 2123.6h0M1304.5 2123.7h0M1306 2124h0M1307.5 2122.7h0M1309.1 2122.2h0M1310.6 2123.5h0M1312.1 2122.3h0M1313.6 2123.4h0M1315.1 2122.9h0M1316.6 2122.6h0M1318.1 2123.5h0M1319.6 2122.9h0M1321.1 2122.1h0M1322.6 2121.6h0M1324.1 2121.3h0M1325.6 2121.3h0M1327.1 2121.9h0M1328.6 2122.3h0M1330.2 2122.8h0M1331.7 2122.2h0M1333.2 2121.6h0M1334.7 2121.5h0M1336.2 2121.5h0M1337.7 2121.4h0M1339.2 2120.2h0M1340.7 2121.2h0M1342.2 2120h0M1343.7 2120.1h0M1345.2 2121.4h0M1346.7 2120.1h0M1348.2 2120.7h0M1349.7 2119.9h0M1351.2 2120.1h0M1352.8 2119.4h0M1354.3 2119.7h0M1355.9 2119.9h0M1357.4 2120.5h0M1359 2119.6h0M1360.5 2118.7h0M1362.1 2119.2h0M1363.5 2117.9h0M1365 2118.6h0M1366.4 2117.3h0M1367.9 2117.5h0M1369.3 2117.4h0M1370.8 2116h0M1372.3 2115.3h0M1373.9 2115.6h0M1375.7 2110.2h0M1377 2108.9h0M1378.4 2106.6h0M1379.3 2098.4h0M1380.8 2098.5h0M1382.3 2098.3h0M1383.8 2098.4h0M1385.6 2097.4h0M1387.4 2095.7h0M1389.2 2089.4h0M1390.6 2094.2h0M1391.9 2097.5h0M1393.3 2093h0M1394.6 2090.3h0M1396 2090.3h0M1397.4 2088.5h0M1398.3 2084h0M1400.1 2084.9h0M1401.9 2084.9h0M1403.2 2082h0M1404.6 2078.6h0M1406.1 2079.7h0M1407.6 2081h0M1409.1 2081.3h0M1410.9 2073.1h0M1412.7 2071.1h0M1414.5 2068.6h0M1416.3 2067h0M1418.2 2064.1h0M1420 2063.3h0M1421.8 2063.2h0M1423.1 2063h0M1424.5 2064.3h0M1425.8 2065h0M1427.2 2065h0M1428.6 2065.5h0M1429.9 2064.8h0M1431.3 2063.8h0M1432.6 2063.2h0M1434 2063.4h0M1435.3 2062.7h0M1436.7 2062h0M1438 2061.4h0M1439.4 2061.3h0M1440.8 2059.7h0M1442.1 2059.7h0M1443.5 2059.6h0M1444.9 2059.7h0M1446.4 2059h0M1447.8 2059.1h0M1449.3 2058.7h0M1450.7 2059.6h0M1452.1 2058.4h0M1453.4 2060.1h0M1454.8 2058h0M1456.1 2058.7h0M1457.4 2057.4h0M1458.7 2057.8h0M1846.9 2135h0M1848.4 2135.3h0M1850 2135h0M1851.5 2134.1h0M1853.1 2134.9h0M1854.6 2135h0M1856.2 2134.7h0M1857.6 2133.8h0M1859.1 2135.1h0M1860.6 2133.9h0M1862.1 2133.6h0M1863.6 2135h0M1865 2134.2h0M1866.5 2133.5h0M1868 2134.5h0M1869.5 2133.5h0M1871 2134.1h0M1872.4 2134h0M1874 2133h0M1875.5 2134h0M1877.1 2133.7h0M1878.6 2132.9h0M1880.2 2132.2h0M1881.7 2133.2h0M1883.3 2132.7h0M1884.8 2132.1h0M1886.3 2133.1h0M1887.8 2133.1h0M1889.3 2131.2h0M1890.8 2131.1h0M1892.3 2131.8h0M1893.8 2130.5h0M1895.2 2130.1h0M1896.7 2129.7h0M1898.1 2131.3h0M1899.6 2130h0M1901.4 2127.8h0M1903.2 2126.4h0M1905 2121.8h0M1906.3 2123.3h0M1907.7 2123.7h0M1909.5 2114.6h0M1910.9 2116.2h0M1912.2 2117.3h0M1914 2105.6h0M1915.8 2109.1h0M1917.6 2111.9h0M1919.5 2110.6h0M1921.3 2110.1h0M1922.6 2109.1h0M1924 2108.1h0M1925.3 2107.1h0M1926.7 2107.4h0M1928 2107.7h0M1929.4 2107.1h0M1930.8 2108.3h0M1932.1 2108.3h0M1933.5 2106.8h0M1934.8 2105.9h0M1936.2 2105.1h0M1937.5 2104.7h0M1939.3 2103.4h0M1941.2 2103.8h0M1942.5 2100.5h0M1943.9 2097.4h0M1945.2 2099.4h0M1946.6 2100.1h0M1947.9 2098.9h0M1949.3 2099.6h0M1950.7 2097.9h0M1952 2098.3h0M1953.8 2096.9h0M1955.6 2096.5h0M1957.4 2097h0M1959.2 2098.3h0M1961 2099.4h0M1962.9 2101h0M1963.8 2110.1h0M1965.6 2119.1h0M1966.9 2117.9h0M1968.3 2115.5h0M1969.6 2114.6h0M1971 2115.4h0M1972.4 2115.3h0M1973.7 2115.5h0M1975.2 2114.9h0M1976.7 2114.5h0M1978.2 2114.5h0M1979.7 2115h0M1981.2 2115.5h0M1982.7 2114.6h0M1984.3 2115.4h0M1985.9 2114.4h0M1987.5 2113.7h0M1989.1 2114.6h0M1990.3 2122.7h0M1991.5 2128.7h0M1992.7 2135.4h0M1994.5 2140.8h0M1995 2149.9h0M1996.5 2149.9h0M1997.9 2148.7h0M1999.4 2148.3h0M2000.8 2148.1h0M2002.3 2147.3h0M2003.8 2148.5h0M2005.4 2147.9h0M2006.9 2147.4h0M2008.4 2147.3h0M2009.9 2146.3h0M2011.4 2146.9h0M2012.9 2147.6h0M2014.4 2146.9h0M2015.9 2146.9h0M2017.4 2146.1h0M2018.9 2146.3h0M2020.4 2146h0M2021.9 2146.3h0M2023.4 2145.8h0M2024.9 2145.2h0M2026.4 2144.8h0M2028 2145h0M2029.5 2144.9h0M2031 2145.3h0M2032.5 2144.2h0M2034 2145.4h0M2035.5 2144h0M2037 2144.4h0M2038.5 2144.6h0M2040 2144.6h0M2041.5 2144.7h0M2043 2144.8h0M2044.5 2144.5h0M2046 2143.3h0M2047.5 2143.7h0M2049.1 2143h0M2050.6 2144.7h0M2052.1 2143.3h0M2053.6 2143.8h0M2055.1 2143.5h0M2056.6 2144.2h0M2058.1 2143.6h0M2059.6 2144.1h0M2061.1 2143h0M2062.6 2143.7h0M2064.1 2143.1h0M2065.6 2142.5h0M2067.1 2142.5h0M2068.6 2143h0M2070.2 2141.7h0M2071.7 2142.7h0M2073.2 2142.3h0M2074.7 2142.2h0M2076.2 2142h0M2077.7 2141.2h0M2079.2 2142.3h0M2080.7 2141h0M2082.2 2141.2h0M2083.7 2142.7h0M2085.2 2140.8h0M2086.7 2142.5h0M2088.2 2141.5h0M2089.7 2141.1h0M2091.2 2141.4h0M2092.8 2140.6h0M2094.3 2142h0M2095.8 2140.5h0M2097.3 2141.4h0M2098.8 2141h0M2100.3 2140.2h0M2101.8 2140.1h0M2103.3 2140.1h0M2104.8 2139.8h0M2106.3 2141.6h0M2107.8 2140h0M2109.3 2140.5h0M2110.8 2141.3h0M2112.3 2139.8h0M2113.9 2140.2h0M2115.4 2139.5h0M2116.9 2140.3h0M2118.4 2139.5h0M2119.9 2138.9h0M2121.4 2139h0M2122.9 2139.5h0M2124.4 2138.7h0M2125.9 2138.7h0M2127.4 2139.4h0M2128.9 2139h0M2130.4 2139.4h0M2131.9 2138.5h0M2133.4 2139.2h0M2134.9 2139.1h0M2136.5 2138.7h0M2137.8 2138.5h0M2139.2 2138.5h0M2140.5 2137.8h0M2141.9 2136.3h0M2143.7 2133.7h0M2145.5 2131.8h0M2147.3 2129.2h0M2149.1 2126.4h0M2150.9 2125h0M2152.7 2121.8h0M2154.1 2121.8h0M2155.4 2121h0M2156.8 2120.6h0M2158.2 2119.1h0M2159.7 2118.8h0M2161.2 2118.3h0M2162.7 2118.2h0M2163.6 2108.3h0M2165.4 2099.2h0M2166.7 2101.8h0M2168.1 2104.7h0M2169.9 2106.5h0M2171.7 2107.4h0M2173.2 2106.6h0M2174.7 2105.4h0M2176.2 2105.6h0M2177.6 2106.5h0M2179 2105.3h0M2180.3 2107.1h0M2181.7 2106.5h0M2183.2 2106.7h0M2184.7 2105.7h0M2186.2 2106.4h0M2187.7 2104.3h0M2189.2 2104.3h0M2190.7 2104.3h0M2192.1 2103.4h0M2193.4 2103.5h0M2194.8 2103.9h0M2196.1 2103.1h0M2197.5 2104.3h0M2198.8 2103.8h0M2200 2103.4h0M2201.4 2103.1h0M2202.8 2102.8h0M2204.1 2102.7h0M2205.5 2102.2h0M2206.9 2103.1h0M2208.3 2101.6h0M2209.6 2102h0M2211 2102.3h0M2212.4 2101h0M2213.8 2102.1h0M2215.2 2101.2h0M2216.5 2100.7h0M2217.9 2101.8h0M2219.3 2101.1h0M2220.8 2100.2h0M2222.3 2101.6h0M2223.7 2100.6h0M2225.2 2100.3h0M2226.7 2100h0M2228.2 2101.6h0M2229.7 2099.9h0M2231.2 2101.4h0M2232.6 2100.1h0M2234.1 2100.8h0M2235.6 2100.7h0M2237.1 2100.9h0M2238.6 2100.5h0M2240.1 2100.3h0M2241.5 2100.4h0M2243 2100.3h0M2244.5 2100.7h0M2246 2100.9h0M2247.5 2100.1h0M2249 2101.3h0M2250.4 2101.5h0M2251.9 2100.6h0M2253.4 2100.8h0M2254.9 2101.2h0M2256.4 2101h0M2257.9 2100.5h0M2259.3 2101h0M2260.8 2099.5h0M2262.3 2100.4h0M2263.8 2101.2h0M2265.3 2100.6h0M2266.8 2100.8h0M2268.2 2099.5h0M2269.7 2099.5h0M2271.2 2099.5h0M2272.7 2099.7h0M2274.2 2100.5h0M2275.7 2100.5h0M2277.1 2100.1h0M2278.6 2099.4h0M2280.1 2100.9h0M2281.6 2100.6h0M2283.1 2100.8h0M2284.6 2100.1h0M2286 2100.2h0M2287.5 2099.3h0M2289 2099.8h0M2290.5 2100.3h0M2292 2100.9h0M2293.5 2100.5h0M2294.9 2099.3h0M2296.4 2099.9h0M2297.9 2100.5h0M2299.4 2100.8h0M2300.9 2099.3h0M2302.4 2100.8h0M2303.8 2100.7h0M2305.3 2100.5h0M2306.8 2099h0M2308.3 2100.7h0M2309.8 2100.7h0M2311.3 2099.1h0M2312.8 2100.7h0M2314.2 2100.6h0M2315.7 2099.9h0M2317.2 2099.3h0M2318.7 2099.2h0M2320.2 2099.6h0M2321.7 2100h0M2323.1 2100h0M2324.6 2099.6h0M2326.1 2099.4h0M2327.6 2099.1h0M2329.1 2098.6h0M2330.6 2099.2h0M2332 2098.6h0M2333.5 2098.4h0M2335 2099.2h0M2336.5 2098.8h0M2338 2099.1h0M2339.5 2100h0M2340.9 2099.1h0M2342.4 2099.5h0M2343.9 2098.1h0M2345.4 2099.3h0M2346.9 2098.8h0M2348.4 2098.4h0M2349.8 2099.4h0M2351.3 2098.5h0M2352.8 2098.2h0M2354.3 2098.8h0M2355.8 2099.3h0M2357.3 2099.6h0M2358.9 2097.9h0M2360.4 2099.2h0M2361.9 2098.9h0M2363.5 2099.4h0M2365 2098.3h0M2366.5 2099.2h0M2368 2099.6h0M2369.6 2098.2h0M2371.1 2099.3h0M2372.6 2098.8h0M2374.5 2095.7h0M2375.9 2095h0M2377.2 2095.4h0M2378.6 2093.9h0M2379.9 2094.4h0M2381.3 2093.4h0M2382.6 2092h0M2384 2092.1h0M2385.3 2091.2h0M2386.7 2089.7h0M2388 2089.5h0M2389.4 2087.9h0M2390.7 2088.3h0M2392.1 2088.6h0M2393.4 2087.5h0M2394.8 2086.6h0M2396.2 2087.9h0M2397.7 2088h0M2399.1 2087.8h0M2400.6 2088.5h0M2401.9 2088.4h0M2403.2 2087h0M2404.4 2085.7h0M2406 2085h0M2407.7 2084.6h0M2409.3 2083.7h0M2410.9 2082.5h0M2412.5 2082.5h0M2414.1 2081.8h0M2415.5 2078.8h0M2417 2076h0M2418.6 2077.5h0M2420.2 2076.9h0M2421.8 2077.9h0M2423.2 2077h0M2424.7 2076h0M2426.1 2076.6h0M2427.6 2075h0M2429 2074.2h0M2430.5 2074.5h0M2431.9 2072h0M2433.4 2072.2h0M2434.7 2072.8h0M2435.9 2072.5h0M2437.2 2072.2h0M2438.2 2064.4h0M2439.8 2065.7h0M2441.4 2064.7h0M2443 2065.4h0M2444.6 2064.4h0M2446.2 2064.2h0M2447.8 2063.5h0M2449.8 2058.6h0M2450.7 2050.9h0M2452 2051.2h0M2453.3 2052.5h0M2454.6 2052.9h0M2456.5 2044.2h0M2458 2042.4h0M2459.4 2039.4h0M2460.8 2043.4h0M2462.3 2047.1h0M2463.8 2020.1h0M2465 2016.5h0M2466.2 2014.3h0M2467.1 1988.3h0M2468.6 1995.9h0M2470 2002.7h0M2471.5 2000.6h0M2472.9 1996.9h0M2473.9 1981.5h0M2475.3 1984.6h0M2476.8 1986.3h0M2478.2 1987.2h0M2479.7 1987.3h0M2481.6 1998.9h0M2483.5 2018.1h0M2485.4 2033.6h0M2487.4 2043.2h0M2489.3 2056.7h0M2490.3 2072.2h0M2492.2 2050.9h0M2493.5 2040.3h0M2494.1 1998.9h0M2494.5 1981.9h0M2496 1982.3h0M2497.5 1982.1h0M2498.9 1983.4h0M2500.3 1984.3h0M2501.6 1984.2h0M2503 1984.3h0M2504.3 1984.9h0M2505.7 1986.3h0M2506.3 2006.6h0M2506.7 2029.7h0M2507.6 2056.7h0M2509.1 2057.4h0M2510.5 2057.4h0M2512 2058.9h0M2513.4 2059.6h0M2514.8 2059.2h0M2516.1 2059.8h0M2517.5 2057.9h0M2518.8 2058.5h0M2520.2 2057.7h0M2521.5 2057.6h0M2522.9 2056.8h0M2524.3 2056.8h0M2525.7 2057.2h0M2527 2056.9h0M2528.4 2058h0M2529.8 2057.7h0M2531 2058.9h0M2532.1 2060.6h0M2533.7 2068.3h0M2535.1 2071.4h0M2536.5 2074.1h0M2538.2 2072.7h0M2539.8 2072.3h0M2541.4 2072.2h0M2542.8 2072.4h0M2544.3 2071.2h0M2545.7 2071.9h0M2547.2 2072.2h0M2548.6 2071.5h0M2550 2072.4h0M2551.5 2071.1h0M2552.9 2071.2h0M2554.4 2071.8h0M2555.8 2071.9h0M2557.3 2070.2h0M2558.7 2070.6h0M2560 2070.7h0M2561.4 2069.4h0M2562.7 2069h0M2564.1 2069.1h0M2565.4 2068.5h0M2566.8 2068.9h0M2568.1 2070.7h0M2569 2081.2h0M2570.8 2082.1h0M2572.7 2084.4h0M2574 2083.4h0M2575.4 2081.9h0M2576.7 2081.2h0M2578.1 2081.2h0M2579.6 2080h0M2581.1 2080.4h0M2582.6 2080.5h0M2584.1 2079.7h0M2585.6 2079.8h0M2587.1 2079.3h0M2588.6 2079h0M2590.1 2079.1h0M2591.6 2077.4h0M2593.2 2077.4h0M2594.7 2078h0M2596.2 2077.2h0M2597.7 2076.3h0M2599.2 2077.3h0M2600.7 2077.1h0M2602.2 2076.6h0M2603.7 2075.9h0M2605.2 2075.7h0M2606.7 2075.5h0M2608.2 2075.1h0M2609.7 2074.2h0M2611.2 2074.6h0M2612.7 2074.1h0M2614.2 2074.3h0M2615.8 2074.4h0M2617.3 2073.9h0M2618.8 2073.3h0M2620.3 2072.9h0M2621.8 2073.8h0M2623.3 2073.1h0M2624.8 2072.6h0M2626.3 2073.6h0M2627.8 2074.2h0M2629.3 2073.6h0M2630.8 2072.2h0M2632.3 2073h0M2633.8 2073.4h0M2635.2 2071.7h0M2636.7 2072h0M2638.1 2072.8h0M2639.6 2071.8h0M2641.4 2070.1h0M2643.2 2069.4h0M2644.6 2069.2h0M2646.1 2069.1h0M2647.5 2069.2h0M2649 2068.6h0M2650.4 2068.5h0M2651.9 2069.1h0M2653.3 2067.4h0M2654.8 2068.5h0M2656.2 2068h0M2657.6 2068.1h0M2659.5 2067.3h0M2661.3 2065.8h0M2662.6 2066.9h0M2664 2069.4h0M2665.5 2068.3h0M2667 2066.8h0M2668.5 2064.9h0M2670 2063.8h0M2671.5 2064.7h0M2673 2064.4h0M2674.5 2063.9h0M2676 2062.2h0M2677.5 2062.7h0M2679 2061.9h0M2680.6 2061.7h0M2682.1 2062.4h0M2683.6 2062.2h0M2685.1 2060.3h0M2686.6 2060.9h0M2688.1 2060.7h0M2689.7 2061.3h0M2691.2 2060h0M2692.8 2060.4h0M2694.3 2060.4h0M2695.9 2059.8h0M2697.4 2059.1h0M2699.6 2054.9h0M2701.2 2056.3h0M2702.9 2056.7h0M2704.3 2055.4h0M2705.8 2055.8h0M2707.2 2055h0M2708.6 2054.3h0M2710.1 2054.9h0M2711.9 2052.7h0M2713.7 2049.5h0M2715.2 2049.4h0M2716.7 2049.5h0M2718.2 2048h0M2719.7 2047.9h0M2721.2 2048.4h0M2722.7 2047.7h0M2724.6 2046.3h0M2726.4 2044.6h0M2727.8 2045.4h0M2729.3 2044.6h0M2730.7 2045.3h0M2732.2 2044h0M2733.6 2045h0M2735 2044.4h0M2736.5 2044.3h0M2737.9 2043.4h0M2739.4 2044.4h0M2740.8 2043.2h0M2742.6 2042.5h0M2744.4 2041h0M2746.3 2043.5h0M2748.1 2044.1h0M2749.5 2044.6h0M2751 2043h0M2752.4 2044h0M2753.9 2043.5h0M2755.3 2042.8h0M2756.7 2041.9h0M2758.1 2041.8h0M2759.5 2041.7h0M2760.9 2042.7h0M2762.3 2041.5h0M2763.7 2041.7h0M2765.1 2041.4h0M2766.6 2041h0M2768 2041.7h0M2769.5 2041.1h0M2771 2040.6h0M2772.5 2042h0M2774 2041.8h0M2775.5 2039.9h0M2777 2040.5h0M2778.5 2039.9h0M2780 2041.3h0M2781.5 2040.1h0M2783 2040h0M2784.5 2041.1h0M2786 2040.3h0M2787.5 2041h0M2789.1 2041.1h0M2790.6 2039.6h0M2792.1 2040.6h0M2793.6 2040.1h0M2795.1 2040.5h0M2796.6 2040.8h0M2798.1 2040.3h0M2799.6 2040h0M2801.1 2040.7h0M2802.6 2040.7h0M2804.1 2040.5h0M2805.6 2040.5h0M2807.1 2039h0M2808.6 2039.2h0M2810.2 2040.2h0M2811.7 2039.4h0M2813.2 2039.2h0M2814.7 2038.2h0M2816.2 2040h0M2817.7 2038.7h0M2819.2 2038.7h0M2820.7 2039.1h0M2822.2 2039.6h0M2823.7 2038.7h0M2825.2 2038.4h0M2826.7 2037.8h0M2828.2 2037.5h0M2829.7 2037.4h0M2831.2 2038.1h0M2832.8 2037.2h0M2834.3 2037.1h0M2835.8 2037.8h0M2837.3 2038.1h0M2838.8 2037.9h0M2840.3 2038h0M2841.8 2037h0M2843.3 2038.5h0M2844.8 2038.3h0M2846.3 2038.3h0M2847.8 2037.7h0M2849.3 2037.4h0M2850.8 2037.3h0M2852.2 2037.9h0M2853.7 2038.3h0M2855.1 2036.8h0M2856.6 2037.8h0M2857.9 2036.1h0M2859.3 2035.3h0M2860.6 2034.5h0M2862 2034.5h0M2863.5 2034.7h0M2865 2033.1h0M2866.5 2034.5h0M2868 2033.9h0M2869.5 2033.6h0M2871 2033.2h0M2872.4 2032.4h0M2873.7 2031.4h0M2875.1 2030.3h0M2876.5 2030.5h0M2877.9 2030.7h0M2879.3 2028.8h0M2880.8 2029.4h0M2882.2 2028.3h0M2883.7 2028.7h0M2885.2 2027.7h0M2886.7 2028.8h0M2888.2 2027.8h0M2890 2031.4h0M2891.6 2030.6h0M2893.2 2029.7h0M2894.8 2029.9h0M2896.3 2028.7h0M2897.8 2028.1h0M2899.3 2029.1h0" fill="none" stroke="#AC0000" stroke-width="5.5" stroke-linecap="round" shape-rendering="crispEdges"/>
<path d="M1163.4 1400.4h1.6V1403.1h-1.6ZM1170.5 1400.4h1.8V1404.4h-1.8ZM1176.1 1400.4h1.6V1406.8h-1.6ZM1197.5 1400.6h2.2V1408.6h-2.2ZM1198.9 1400.6h2.9V1406.8h-2.9ZM1205.1 1400.6h2.5V1428.5h-2.5ZM1204 1400.6h1.8V1414.4h-1.8ZM1211.6 1401.7h2.9V1405.3h-2.9ZM1217.2 1401.7h2.5V1414.4h-2.5ZM1221.2 1401.7h2.5V1416.5h-2.5ZM1227.5 1401.7h3.6V1406.8h-3.6ZM1232.3 1401.7h1.6V1411.6h-1.6ZM1235.2 1401.7h1.6V1411.6h-1.6ZM1239.2 1401.7h3.6V1420.7h-3.6ZM1242.2 1401.7h1.6V1447.5h-1.6ZM1243.6 1401.7h2.2V1406.8h-2.2ZM1254.2 1401.7h1.6V1409.8h-1.6ZM1257.1 1401.7h1.6V1415.6h-1.6ZM1260.1 1401.7h1.6V1408.6h-1.6ZM1267.2 1401.7h1.6V1430.6h-1.6ZM1301.2 1402.4h1.6V1410.7h-1.6ZM1305.2 1402.6h1.6V1411.6h-1.6ZM1308.2 1402.6h1.6V1436.6h-1.6ZM1311.1 1402.6h1.6V1406.8h-1.6ZM1378.3 1403.4h2.2V1407.5h-2.2ZM1397.5 1404.5h1.8V1408.6h-1.8ZM1412.8 1406.7h3.6V1411.6h-3.6ZM1418.4 1407.2h1.6V1412.5h-1.6ZM1440 1408.3h1.8V1412.5h-1.8ZM1449.9 1408.8h1.8V1412.5h-1.8ZM1847.3 1415.3h2.2V1429.7h-2.2ZM1853.3 1415.4h2.5V1457.8h-2.5ZM1858.9 1415.6h3.6V1430.6h-3.6ZM1865.3 1415.7h1.6V1435.5h-1.6ZM1872.1 1415.8h2.5V1436.6h-2.5ZM1870.6 1416.1h10.8V1428.8h-10.8ZM1880.1 1416.8h1.6V1434.6h-1.6ZM1883.7 1417h3.6V1428.5h-3.6ZM1890.1 1416.2h1.6V1430.6h-1.6ZM1896.9 1418.2h5.4V1430.6h-5.4ZM1900.5 1420.8h5.4V1436.6h-5.4ZM1905.3 1422h1.6V1440.6h-1.6ZM1912.2 1419.8h1.8V1439.7h-1.8ZM1915.4 1419.6h1.6V1442.7h-1.6ZM1914.9 1419h7.2V1432.4h-7.2ZM1921.4 1418.3h1.6V1437.9h-1.6ZM1925.2 1418.3h1.6V1448.7h-1.6ZM1928.2 1418.4h1.6V1452.7h-1.6ZM1932.1 1419.4h3.6V1428.5h-3.6ZM1940.3 1425.6h6.3V1454.1h-6.3ZM1968.1 1423.1h2.2V1428.8h-2.2ZM1975 1423.3h1.8V1440.6h-1.8ZM1972.8 1423.3h9V1434.2h-9ZM1979.1 1423.4h2.5V1442.7h-2.5ZM1988.2 1423.7h2.5V1432.4h-2.5ZM1996.1 1415.3h1.6V1422.5h-1.6ZM2006.4 1415.4h1.6V1423.4h-1.6ZM2014.4 1415.5h5.4V1426.1h-5.4ZM2023.1 1415.5h2.5V1428.5h-2.5ZM2024.9 1415.6h3.6V1424.7h-3.6ZM2033.6 1416.1h2.2V1428.5h-2.2ZM2038.4 1416.9h1.6V1425.2h-1.6ZM2047.4 1418.7h1.6V1444.6h-1.6ZM2051.3 1416.6h2.2V1423.4h-2.2ZM2073.3 1417.6h2.5V1450.5h-2.5ZM2077.3 1417.5h2.5V1482.5h-2.5ZM2082.1 1417.5h1.6V1511.6h-1.6ZM2086.4 1417.4h2.5V1424.3h-2.5ZM2092.3 1417.3h2.2V1425.6h-2.2ZM2099.2 1417.2h2.9V1457.8h-2.9ZM2110 1417h1.6V1431.5h-1.6ZM2120.3 1417.1h1.6V1452.7h-1.6ZM2121.1 1417.6h5.4V1436.6h-5.4ZM2129.2 1418.3h3.6V1434.6h-3.6ZM2138.9 1418.3h1.6V1435.5h-1.6ZM2142.3 1418.3h1.6V1432.4h-1.6ZM2145.2 1419.3h1.6V1443.7h-1.6ZM2152.2 1417.8h2.9V1433.7h-2.9ZM2154.5 1418h3.6V1429.7h-3.6ZM2160.3 1422.3h2.9V1499.3h-2.9ZM2162.3 1421h2.5V1507.8h-2.5ZM2165.4 1414.2h2.5V1446.5h-2.5ZM2168.3 1413.8h2.5V1434.6h-2.5ZM2174.1 1413.5h3.6V1422.5h-3.6ZM2182.4 1413.7h2.2V1424.3h-2.2ZM2187.1 1413.8h3.6V1421.6h-3.6ZM2201.1 1413.8h1.6V1430.6h-1.6ZM2204.2 1413.8h1.6V1438.6h-1.6ZM2211.2 1413.8h1.6V1419.4h-1.6ZM2200.9 1413.8h1.8V1430.6h-1.8ZM2204.1 1413.8h1.6V1438.8h-1.6ZM2211.1 1413.8h1.6V1419.4h-1.6ZM2221.3 1413.8h2.5V1429.4h-2.5ZM2227.1 1413.8h1.8V1426.7h-1.8ZM2227.7 1413.8h3.6V1425.2h-3.6ZM2253 1417h2.5V1438.6h-2.5ZM2261 1414.5h1.6V1449.6h-1.6ZM2268.1 1414.6h1.6V1470.4h-1.6ZM2289.3 1422.1h1.6V1523.8h-1.6ZM2292.3 1415.3h1.6V1422.5h-1.6ZM2308.2 1415.4h1.6V1423.4h-1.6ZM2331.1 1415.6h3.6V1428.8h-3.6ZM2333 1415.6h1.6V1438.6h-1.6ZM2340.2 1447.3h1.6V1543.7h-1.6ZM2341.2 1416.2h2.5V1507.5h-2.5ZM2347.4 1416.2h2.5V1432.4h-2.5ZM2348.3 1416.2h5.4V1424.3h-5.4ZM2357.3 1416.2h2.5V1447.5h-2.5ZM2368.2 1416.4h10.8V1423.4h-10.8ZM2384 1416.6h1.6V1430.6h-1.6ZM2394 1416.7h2.5V1443.3h-2.5ZM2394.4 1416.7h9V1423.4h-9ZM2412.6 1416.7h1.6V1425.2h-1.6ZM2420.3 1417.3h2.5V1493.6h-2.5ZM2422.4 1418.9h3.6V1429.7h-3.6ZM2431.2 1417.5h1.6V1438.6h-1.6ZM2438.3 1417.7h1.6V1426.7h-1.6ZM2446.9 1418h1.6V1431.5h-1.6ZM2450 1419.5h1.6V1431.9h-1.6ZM2453.3 1420.3h1.6V1432.4h-1.6ZM2455.9 1418.7h3.6V1428.5h-3.6ZM2466.1 1419.8h1.6V1432.4h-1.6ZM2473.1 1423.2h3.6V1427.6h-3.6ZM2490.9 1428.1h1.6V1479.5h-1.6ZM2494.3 1421.6h1.6V1440.6h-1.6ZM2494.8 1418.9h5.4V1460.5h-5.4ZM2498 1417.7h2.5V1473.5h-2.5ZM2504.3 1415.8h1.6V1524.7h-1.6ZM2513.7 1415.3h5.4V1425.2h-5.4ZM2517.4 1415.3h2.5V1523.8h-2.5ZM2523.3 1416.1h2.5V1522.9h-2.5ZM2521.9 1431.8h3.6V1478.6h-3.6ZM2529.2 1415.9h1.6V1460.5h-1.6ZM2533.3 1421.6h2.5V1439.7h-2.5ZM2536 1414.8h2.5V1427h-2.5ZM2541.2 1415h1.6V1768.1h-1.6ZM2548.2 1435.2h1.6V1514.7h-1.6ZM2555.3 1414.9h2.5V1431.5h-2.5ZM2558 1414.7h3.6V1424.3h-3.6ZM2568.2 1414.8h2.5V1453.6h-2.5ZM2589.1 1414.7h1.6V1458.7h-1.6ZM2586.1 1414.7h3.6V1422.5h-3.6ZM2560 1414.9h3.6V1423.4h-3.6ZM2568.3 1414.8h2.5V1453.6h-2.5ZM2580.8 1414.7h1.8V1418.9h-1.8ZM2586.2 1414.7h3.6V1422.5h-3.6ZM2589.2 1414.7h1.6V1458.7h-1.6ZM2596.2 1414.9h1.8V1424.3h-1.8ZM2601.2 1444.7h1.6V1547.6h-1.6ZM2607.5 1415.3h6.3V1430.6h-6.3ZM2614.4 1415.3h1.6V1431.5h-1.6ZM2617.5 1415.3h2.5V1429.7h-2.5ZM2623 1423.6h1.6V1460.5h-1.6ZM2626.5 1415.3h1.6V1435.5h-1.6ZM2634.3 1415.4h2.5V1526.5h-2.5ZM2639.6 1415.4h3.6V1423.4h-3.6ZM2641.7 1415.5h3.6V1434.6h-3.6ZM2648 1415.5h1.6V1467.7h-1.6ZM2659.3 1419.2h2.5V1473.5h-2.5ZM2665.6 1415.8h2.2V1426.7h-2.2ZM2673.1 1418.9h1.6V1623h-1.6ZM2680 1419.8h1.6V1430.6h-1.6ZM2686.6 1417.3h10.8V1427.6h-10.8ZM2699.2 1417.4h3.6V1453.6h-3.6ZM2705.9 1421.6h5.4V1436.1h-5.4ZM2709.2 1419.6h2.5V1474.6h-2.5ZM2714.2 1418.1h1.6V1439.7h-1.6ZM2718.3 1418.2h1.6V1432.4h-1.6ZM2732.8 1418.3h1.6V1430.6h-1.6ZM2729.1 1418.3h3.6V1425.2h-3.6ZM2738.1 1418.3h1.8V1428.8h-1.8ZM2741 1418.6h2.5V1454.5h-2.5ZM2740.8 1419h9V1443.3h-9ZM2749.1 1427.6h1.6V1509.7h-1.6ZM2759.8 1417.9h3.6V1425.2h-3.6ZM2765.2 1417.8h1.6V1431.5h-1.6ZM2768.4 1417.8h1.6V1432.4h-1.6ZM2774 1417.7h1.6V1426.7h-1.6ZM2784 1417.6h1.6V1434.6h-1.6ZM2788.2 1417.7h2.5V1451.4h-2.5ZM2794.2 1417.7h2.5V1436.6h-2.5ZM2799.2 1417.8h1.6V1423.4h-1.6ZM2813.5 1417.9h2.2V1426.7h-2.2ZM2818.3 1417.9h1.6V1424.3h-1.6ZM2840.8 1419.1h2.5V1424.7h-2.5ZM2852.9 1422h3.6V1425.6h-3.6ZM2859.2 1419.6h1.6V1455.6h-1.6ZM2862.3 1417.9h1.6V1438.6h-1.6ZM1844.4 1415.3h1.5V1421.9h-1.5ZM1848.8 1415.3h1.5V1418.3h-1.5ZM1851.7 1415.4h1.5V1426.2h-1.5ZM1853.2 1415.4h1.5V1419.1h-1.5ZM1856.1 1415.5h1.5V1423.5h-1.5ZM1859.1 1415.5h1.5V1425.9h-1.5ZM1860.5 1415.6h1.5V1421.8h-1.5ZM1862 1415.6h1.5V1418.1h-1.5ZM1870.8 1415.7h1.5V1418.1h-1.5ZM1872.3 1415.8h1.5V1423.7h-1.5ZM1873.7 1415.8h1.5V1421.8h-1.5ZM1878.1 1416.5h1.5V1421.5h-1.5ZM1881.1 1416.8h1.5V1420.2h-1.5ZM1885.5 1417h1.5V1430.8h-1.5ZM1886.9 1416.8h1.5V1431.6h-1.5ZM1888.4 1416.5h1.5V1428.4h-1.5ZM1891.3 1416.3h1.5V1418.7h-1.5ZM1894.3 1416.9h1.5V1420.7h-1.5ZM1895.7 1417.2h1.5V1426.4h-1.5ZM1898.7 1417.9h1.5V1426h-1.5ZM1903.1 1420.6h1.5V1423.1h-1.5ZM1906 1422.1h1.5V1429.5h-1.5ZM1913.3 1419.9h1.5V1425h-1.5ZM1914.8 1420h1.5V1423.1h-1.5ZM1917.7 1419.2h1.5V1427.6h-1.5ZM1919.2 1418.9h1.5V1421h-1.5ZM1920.7 1418.5h1.5V1425.3h-1.5ZM1923.6 1418.3h1.5V1428.2h-1.5ZM1925.1 1418.3h1.5V1427.7h-1.5ZM1929.5 1418.5h1.5V1421h-1.5ZM1930.9 1418.8h1.5V1422.7h-1.5ZM1933.9 1419.4h1.5V1422.4h-1.5ZM1938.3 1421.1h1.5V1424.5h-1.5ZM1939.7 1423.1h1.5V1435.5h-1.5ZM1941.2 1425.1h1.5V1428.2h-1.5ZM1944.1 1424.6h1.5V1433.4h-1.5ZM1947.1 1420.5h1.5V1427.1h-1.5ZM1968.5 1423.1h1.5V1429.7h-1.5ZM1972.9 1423.2h1.5V1429h-1.5ZM1974.4 1423.2h1.5V1427h-1.5ZM1975.8 1423.3h1.5V1427.5h-1.5ZM1978.8 1423.3h1.5V1427.3h-1.5ZM1980.2 1423.3h1.5V1430.4h-1.5ZM1981.7 1423.4h1.5V1431.6h-1.5ZM1984.6 1423.7h1.5V1425.7h-1.5ZM1989 1424.3h1.5V1428.4h-1.5ZM1990.5 1422h1.5V1426.9h-1.5ZM1993.4 1417.5h1.5V1420.7h-1.5ZM1994.9 1415.8h1.5V1418.2h-1.5ZM1997.8 1415.3h1.5V1422.5h-1.5ZM2000.8 1415.3h1.5V1420.4h-1.5ZM2002.2 1415.3h1.5V1419.2h-1.5ZM2005.2 1415.4h1.5V1418.1h-1.5ZM2009.6 1415.4h1.5V1421.7h-1.5ZM2011 1415.4h1.5V1430h-1.5ZM2012.5 1415.4h1.5V1422.2h-1.5ZM2015.4 1415.5h1.5V1418.9h-1.5ZM2016.9 1415.5h1.5V1426.5h-1.5ZM2019.8 1415.5h1.5V1418.1h-1.5ZM2021.3 1415.5h1.5V1418.4h-1.5ZM2028.6 1415.6h1.5V1420.2h-1.5ZM2030.1 1415.6h1.5V1421.3h-1.5ZM2033 1415.6h1.5V1422.5h-1.5ZM2040.4 1416.7h1.5V1425.1h-1.5ZM2043.3 1416.9h1.5V1424.7h-1.5ZM2044.7 1417.5h1.5V1423.5h-1.5ZM2047.7 1418.8h1.5V1423.6h-1.5ZM2050.6 1417.5h1.5V1425.9h-1.5ZM2055 1416.3h1.5V1423h-1.5ZM2057.9 1416.5h1.5V1423.7h-1.5ZM2069.7 1417.4h1.5V1421.6h-1.5ZM2071.1 1417.5h1.5V1428.1h-1.5ZM2072.6 1417.6h1.5V1425.2h-1.5ZM2075.5 1417.6h1.5V1421.4h-1.5ZM2078.5 1417.5h1.5V1420.5h-1.5ZM2079.9 1417.5h1.5V1422.4h-1.5ZM2084.3 1417.4h1.5V1419.8h-1.5ZM2091.7 1417.3h1.5V1420.4h-1.5ZM2093.1 1417.3h1.5V1423.5h-1.5ZM2100.5 1417.2h1.5V1420.7h-1.5ZM2103.4 1417.2h1.5V1424.6h-1.5ZM2104.9 1417.1h1.5V1423.3h-1.5ZM2106.3 1417.1h1.5V1423.4h-1.5ZM2107.8 1417.1h1.5V1419.7h-1.5ZM2109.3 1417.1h1.5V1428.5h-1.5ZM2113.7 1416.8h1.5V1425.1h-1.5ZM2115.1 1416.7h1.5V1421.2h-1.5ZM2121 1417.1h1.5V1423.7h-1.5ZM2123.9 1417.6h1.5V1425h-1.5ZM2126.9 1418.2h1.5V1420.4h-1.5ZM2132.7 1418.3h1.5V1424.1h-1.5ZM2138.6 1418.3h1.5V1421.3h-1.5ZM2140.1 1418.3h1.5V1421.1h-1.5ZM2141.5 1418.3h1.5V1423.3h-1.5ZM2143 1418.3h1.5V1420.4h-1.5ZM2147.4 1421.5h1.5V1424.5h-1.5ZM2156.2 1418h1.5V1424.6h-1.5ZM2157.7 1418.2h1.5V1422.4h-1.5ZM2160.6 1419.7h1.5V1421.8h-1.5ZM2162.1 1422.9h1.5V1425.7h-1.5ZM2163.5 1421.2h1.5V1426.5h-1.5ZM2166.5 1414.2h1.5V1417.9h-1.5ZM2169.4 1413.9h1.5V1418.5h-1.5ZM2175.3 1413.5h1.5V1417.8h-1.5ZM2181.1 1413.6h1.5V1416.5h-1.5ZM2184 1413.7h1.5V1417.1h-1.5ZM2185.5 1413.7h1.5V1417h-1.5ZM2189.9 1413.8h1.5V1417.6h-1.5ZM2191.4 1413.8h1.5V1420.1h-1.5ZM2194.3 1413.8h1.5V1417h-1.5ZM2198.7 1413.8h1.5V1419.8h-1.5ZM2200.2 1413.8h1.5V1418.3h-1.5ZM2203.1 1413.8h1.5V1416h-1.5ZM2207.5 1413.8h1.5V1422.9h-1.5ZM2209 1413.8h1.5V1419.8h-1.5ZM2216.3 1413.8h1.5V1418.6h-1.5ZM2217.8 1413.8h1.5V1419.6h-1.5ZM2219.2 1413.8h1.5V1417.7h-1.5ZM2220.7 1413.8h1.5V1422.2h-1.5ZM2225.1 1413.8h1.5V1420.2h-1.5ZM2229.5 1413.8h1.5V1424.1h-1.5ZM2231 1413.8h1.5V1420.8h-1.5ZM2232.4 1413.8h1.5V1424.5h-1.5ZM2253.3 1418.3h1.5V1424.2h-1.5ZM2256.3 1414.4h1.5V1420.4h-1.5ZM2262.1 1414.5h1.5V1417.4h-1.5ZM2268 1414.6h1.5V1417.6h-1.5ZM2269.5 1414.7h1.5V1422.3h-1.5ZM2278.3 1414.9h1.5V1421.5h-1.5ZM2287.1 1415.3h1.5V1417.9h-1.5ZM2291.5 1415.5h1.5V1419.3h-1.5ZM2295.9 1415.3h1.5V1419.3h-1.5ZM2303.2 1415.4h1.5V1426.6h-1.5ZM2306.1 1415.4h1.5V1419.6h-1.5ZM2307.6 1415.4h1.5V1424.9h-1.5ZM2310.5 1415.4h1.5V1427.1h-1.5ZM2312 1415.4h1.5V1421h-1.5ZM2313.5 1415.4h1.5V1418.1h-1.5ZM2317.9 1415.5h1.5V1427.4h-1.5ZM2319.3 1415.5h1.5V1423.6h-1.5ZM2320.8 1415.5h1.5V1429.7h-1.5ZM2322.3 1415.5h1.5V1420.9h-1.5ZM2323.7 1415.5h1.5V1421.8h-1.5ZM2326.7 1415.5h1.5V1420.3h-1.5ZM2328.1 1415.5h1.5V1420.1h-1.5ZM2329.6 1415.6h1.5V1424.5h-1.5ZM2336.9 1415.6h1.5V1424.8h-1.5ZM2338.4 1415.9h1.5V1419.4h-1.5ZM2341.3 1441.4h1.5V1446.4h-1.5ZM2348.7 1416.2h1.5V1423.3h-1.5ZM2350.1 1416.2h1.5V1419.6h-1.5ZM2356 1416.2h1.5V1420.8h-1.5ZM2357.5 1416.2h1.5V1419.1h-1.5ZM2358.9 1416.2h1.5V1422.2h-1.5ZM2360.4 1416.2h1.5V1419.2h-1.5ZM2364.8 1416.2h1.5V1419.9h-1.5ZM2367.7 1416.3h1.5V1420.1h-1.5ZM2370.6 1416.3h1.5V1420.2h-1.5ZM2372.1 1416.4h1.5V1422.7h-1.5ZM2376.5 1416.5h1.5V1422.5h-1.5ZM2383.8 1416.6h1.5V1422.7h-1.5ZM2385.3 1416.6h1.5V1426h-1.5ZM2388.2 1416.7h1.5V1420.8h-1.5ZM2389.7 1416.7h1.5V1427h-1.5ZM2391.2 1416.7h1.5V1419.4h-1.5ZM2397 1416.7h1.5V1424.8h-1.5ZM2400 1416.7h1.5V1418.7h-1.5ZM2402.9 1416.7h1.5V1421h-1.5ZM2404.4 1416.7h1.5V1422.3h-1.5ZM2405.8 1416.7h1.5V1423.3h-1.5ZM2410.2 1416.7h1.5V1420h-1.5ZM2413.2 1416.7h1.5V1419.3h-1.5ZM2416.1 1416.7h1.5V1430.4h-1.5ZM2423.4 1418.4h1.5V1428.2h-1.5ZM2429.3 1417.5h1.5V1422.8h-1.5ZM2432.2 1417.6h1.5V1428.5h-1.5ZM2435.2 1417.6h1.5V1421h-1.5ZM2439.6 1417.8h1.5V1426.2h-1.5ZM2442.5 1417.8h1.5V1423h-1.5ZM2446.9 1418h1.5V1423.4h-1.5ZM2448.4 1418.3h1.5V1427.8h-1.5ZM2454.2 1420.2h1.5V1426.6h-1.5ZM2457.2 1419h1.5V1427.2h-1.5ZM2461.6 1418.6h1.5V1422.8h-1.5ZM2463 1418.8h1.5V1422.2h-1.5ZM2466 1419.5h1.5V1423.7h-1.5ZM2467.4 1420h1.5V1426.2h-1.5ZM2477.7 1424.8h1.5V1434.3h-1.5ZM2482.1 1428.8h1.5V1432.7h-1.5ZM2486.5 1430h1.5V1433.3h-1.5ZM2492.4 1427.7h1.5V1437.4h-1.5ZM2496.8 1419.4h1.5V1423.4h-1.5ZM2499.7 1417.4h1.5V1424.3h-1.5ZM2501.2 1416.8h1.5V1421.2h-1.5ZM2508.5 1415.3h1.5V1422h-1.5ZM2515.8 1415.3h1.5V1420.3h-1.5ZM2517.3 1415.3h1.5V1425.2h-1.5ZM2518.7 1415.3h1.5V1421.7h-1.5ZM2521.7 1423.1h1.5V1425.7h-1.5ZM2531.9 1415.8h1.5V1423.2h-1.5ZM2533.4 1418h1.5V1422.9h-1.5ZM2534.9 1420.3h1.5V1430.8h-1.5ZM2540.7 1414.9h1.5V1419.4h-1.5ZM2542.2 1415h1.5V1417.9h-1.5ZM2543.7 1415.1h1.5V1424.1h-1.5ZM2545.1 1415.1h1.5V1420.6h-1.5ZM2546.6 1415.2h1.5V1419h-1.5ZM2552.5 1415.2h1.5V1420h-1.5ZM2559.8 1414.7h1.5V1418.4h-1.5ZM2561.3 1414.9h1.5V1422.3h-1.5ZM2564.2 1414.9h1.5V1420.4h-1.5ZM2570.1 1414.8h1.5V1417h-1.5ZM2574.5 1414.8h1.5V1418.4h-1.5ZM2584.7 1414.7h1.5V1427.3h-1.5ZM2586.2 1414.7h1.5V1418.4h-1.5ZM2595 1414.7h1.5V1421.6h-1.5ZM2599.4 1415.4h1.5V1418.3h-1.5ZM2600.9 1419.6h1.5V1430.2h-1.5ZM2602.3 1437.2h1.5V1450.2h-1.5ZM2603.8 1415.3h1.5V1418.3h-1.5ZM2608.2 1415.3h1.5V1418h-1.5ZM2609.7 1415.3h1.5V1417.9h-1.5ZM2618.5 1415.3h1.5V1420.1h-1.5ZM2619.9 1415.3h1.5V1420h-1.5ZM2624.3 1421.7h1.5V1424.8h-1.5ZM2627.3 1415.3h1.5V1418.7h-1.5ZM2630.2 1415.3h1.5V1420h-1.5ZM2631.7 1415.3h1.5V1429.6h-1.5ZM2633.1 1415.3h1.5V1423h-1.5ZM2636.1 1415.4h1.5V1418.3h-1.5ZM2640.4 1415.4h1.5V1426.6h-1.5ZM2641.9 1415.4h1.5V1425.4h-1.5ZM2643.4 1415.5h1.5V1423.2h-1.5ZM2646.3 1415.5h1.5V1426.4h-1.5ZM2649.2 1415.5h1.5V1425.6h-1.5ZM2656.6 1415.6h1.5V1419.3h-1.5ZM2658 1416.2h1.5V1422.7h-1.5ZM2666.8 1415.8h1.5V1421h-1.5ZM2669.8 1416h1.5V1427.2h-1.5ZM2674.2 1418.6h1.5V1421.2h-1.5ZM2675.6 1417.2h1.5V1425.1h-1.5ZM2678.6 1417.7h1.5V1425.9h-1.5ZM2680 1419h1.5V1433.8h-1.5ZM2683 1417.1h1.5V1420.4h-1.5ZM2687.4 1417.2h1.5V1425.5h-1.5ZM2688.8 1417.2h1.5V1427.1h-1.5ZM2694.7 1417.3h1.5V1420.1h-1.5ZM2696.2 1417.3h1.5V1422.8h-1.5ZM2700.6 1417.4h1.5V1427.7h-1.5ZM2703.5 1419h1.5V1425.7h-1.5ZM2705 1419.9h1.5V1422h-1.5ZM2712.3 1418h1.5V1426.8h-1.5ZM2716.7 1418.1h1.5V1422.3h-1.5ZM2724 1418.3h1.5V1422.4h-1.5ZM2729.9 1418.3h1.5V1424.7h-1.5ZM2734.3 1418.3h1.5V1424.6h-1.5ZM2735.8 1418.3h1.5V1422.3h-1.5ZM2741.6 1418.5h1.5V1423.9h-1.5ZM2744.6 1418.9h1.5V1422.8h-1.5ZM2746 1419.1h1.5V1425.6h-1.5ZM2750.4 1425.1h1.5V1429.6h-1.5ZM2751.9 1419.4h1.5V1426.5h-1.5ZM2753.4 1419.1h1.5V1424.7h-1.5ZM2757.8 1418.2h1.5V1423.8h-1.5ZM2765.1 1417.9h1.5V1425.8h-1.5ZM2769.5 1417.8h1.5V1426.1h-1.5ZM2772.4 1417.7h1.5V1422.8h-1.5ZM2783.9 1417.6h1.5V1420.1h-1.5ZM2785.4 1417.6h1.5V1420.5h-1.5ZM2786.8 1417.7h1.5V1420.1h-1.5ZM2788.3 1417.7h1.5V1429.1h-1.5ZM2789.8 1417.7h1.5V1424.2h-1.5ZM2791.2 1417.7h1.5V1424.7h-1.5ZM2792.7 1417.7h1.5V1423.2h-1.5ZM2797.1 1417.7h1.5V1421h-1.5ZM2804.4 1417.8h1.5V1425.3h-1.5ZM2807.4 1417.8h1.5V1422.8h-1.5ZM2808.8 1417.9h1.5V1425h-1.5ZM2817.6 1417.9h1.5V1423.5h-1.5ZM2822 1418h1.5V1432.4h-1.5ZM2842.3 1419.2h1.5V1426.1h-1.5ZM2846.7 1419.9h1.5V1426.2h-1.5ZM2851.1 1420.6h1.5V1431.4h-1.5ZM2854 1422.4h1.5V1428h-1.5ZM2855.5 1421.5h1.5V1426.2h-1.5ZM2857 1420.6h1.5V1429.4h-1.5ZM2859.9 1419.6h1.5V1431.2h-1.5ZM2861.4 1419.5h1.5V1432.8h-1.5ZM2871.6 1411.9h1.5V1415.7h-1.5ZM2873.1 1410.5h1.5V1417.8h-1.5ZM2874.6 1409.8h1.5V1415.3h-1.5ZM2879 1409.9h1.5V1419.3h-1.5ZM2880.4 1409.9h1.5V1414.8h-1.5ZM2881.9 1409.9h1.5V1416.3h-1.5ZM2884.8 1410h1.5V1417.1h-1.5ZM2886.3 1410h1.5V1417.4h-1.5ZM2887.8 1410h1.5V1417.3h-1.5ZM2890.7 1410h1.5V1424.8h-1.5ZM2896.6 1410.1h1.5V1414h-1.5ZM2898 1410.1h1.5V1417.3h-1.5Z" fill="#C6DBEF" shape-rendering="crispEdges"/>
<path d="M1144.4 1400.3L1145.9 1400.3L1147.4 1400.3L1148.9 1400.1L1150.3 1400.2L1151.8 1400.1L1153.3 1400.5L1154.8 1400.1L1156.3 1400.2L1157.8 1400.1L1159.2 1400.2L1160.7 1400.6L1162.2 1400.5L1163.7 1400.4L1165.2 1400.5L1166.6 1400.2L1168.1 1400.2L1169.6 1400.5L1171.1 1400.5L1172.6 1400.5L1174.1 1400.4L1175.5 1400.2L1177 1400.5L1178.5 1400.5L1180 1400.2L1181.5 1400.7L1183 1400.5L1184.4 1400.3L1185.9 1400.5L1187.4 1400.7L1188.9 1400.4L1190.4 1400.6L1191.9 1400.3L1193.3 1400.3L1194.8 1400.5L1196.3 1400.4L1197.8 1400.7L1199.3 1400.6L1200.8 1400.4L1202.2 1400.8L1203.7 1400.7L1205.2 1400.4L1206.7 1400.6L1208 1400.8L1209.4 1401.4L1210.8 1401.3L1212.1 1401.7L1213.6 1401.5L1215 1401.6L1216.5 1401.9L1218 1401.8L1219.4 1401.5L1220.9 1401.5L1222.4 1401.7L1223.8 1401.7L1225.3 1401.8L1226.7 1401.6L1228.2 1401.8L1229.7 1401.6L1231.1 1401.5L1232.6 1401.5L1234 1401.9L1235.5 1401.8L1237 1401.6L1238.4 1401.8L1239.9 1401.7L1241.4 1401.7L1242.8 1401.5L1244.3 1401.8L1245.7 1401.6L1247.2 1401.7L1248.7 1401.6L1250.1 1401.6L1251.6 1401.8L1253.1 1401.8L1254.5 1401.8L1256 1401.7L1257.4 1401.8L1258.9 1401.5L1260.4 1401.5L1261.8 1401.5L1263.3 1401.9L1264.7 1401.9L1266.2 1401.6L1267.7 1401.5L1269.1 1401.6L1270.6 1401.8L1272.1 1401.7L1273.5 1401.7L1275 1401.5L1276.4 1401.8L1277.9 1401.5L1279.4 1401.9L1280.8 1401.7L1282.3 1402L1283.7 1402L1285.2 1402.1L1286.6 1402.6L1288.1 1402.6L1289.9 1402.2L1291.7 1402.1L1293.1 1402L1294.6 1402L1296 1402.4L1297.5 1402.5L1298.9 1402.4L1300.4 1402.5L1301.8 1402.4L1303.3 1402.5L1304.7 1402.4L1306.1 1402.6L1307.6 1402.8L1309.1 1402.8L1310.5 1402.6L1312 1402.6L1313.5 1402.6L1314.9 1402.8L1316.4 1402.5L1317.9 1402.3L1319.3 1402.4L1320.8 1402.8L1322.3 1402.6L1323.7 1402.3L1325.2 1402.3L1326.6 1402.4L1328.1 1402.6L1329.6 1402.7L1331 1402.6L1332.5 1402.7L1334 1402.6L1335.4 1402.5L1336.9 1402.6L1338.4 1402.7L1339.8 1402.5L1341.3 1402.4L1342.7 1402.4L1344.2 1402.4L1345.7 1402.6L1347.1 1402.7L1348.6 1402.7L1350.1 1402.4L1351.5 1402.4L1353 1402.6L1354.5 1402.4L1355.9 1402.5L1357.4 1402.4L1358.8 1402.2L1360.3 1402.3L1361.8 1402.6L1363.2 1402.6L1364.7 1402.2L1366.2 1402.4L1367.6 1402.4L1369.1 1402.8L1370.5 1402.7L1372 1402.7L1373.4 1403L1374.9 1403.1L1376.3 1403.1L1377.8 1403.6L1379.2 1403.2L1380.7 1403.5L1382.1 1403.7L1383.5 1403.8L1385 1403.9L1386.4 1403.8L1387.9 1403.8L1389.3 1404.1L1390.8 1403.9L1392.3 1404L1393.9 1404L1395.4 1404.2L1396.9 1404.5L1398.4 1404.4L1399.9 1404.6L1401.4 1404.5L1402.9 1404.5L1404.4 1404.7L1405.9 1404.8L1407.4 1405L1408.9 1405.4L1410.4 1405.8L1411.9 1406.1L1413.4 1406.2L1414.9 1406.9L1416.5 1407.1L1417.9 1407.3L1419.3 1407.1L1420.7 1407.1L1422.1 1407.5L1423.6 1407.3L1425 1407.7L1426.4 1407.5L1427.8 1407.5L1429.2 1407.7L1430.7 1407.6L1432.1 1408L1433.5 1407.9L1434.9 1408L1436.3 1408L1437.8 1408.3L1439.3 1408L1440.8 1408.5L1442.3 1408.3L1443.7 1408.4L1445.2 1408.4L1446.7 1408.5L1448.2 1408.9L1449.7 1408.8L1451.1 1408.7L1452.6 1408.9L1454.2 1409.2L1455.7 1409.5L1457.3 1410.1L1458.9 1410.4M1846.9 1415.3L1848.3 1415.1L1849.7 1415.5L1851.2 1415.4L1852.6 1415.3L1854.1 1415.6L1855.5 1415.6L1857 1415.3L1858.4 1415.5L1859.8 1415.7L1861.3 1415.3L1862.7 1415.3L1864.2 1415.6L1865.6 1415.8L1867 1415.7L1868.5 1415.8L1869.9 1415.7L1871.4 1415.5L1872.8 1415.7L1874.2 1415.8L1875.6 1415.9L1877 1416.1L1878.3 1416.3L1879.7 1416.7L1881 1416.9L1882.4 1416.7L1883.7 1416.9L1885.1 1417.1L1886.5 1417L1887.8 1416.4L1889.2 1416.6L1890.5 1416.2L1892 1416.7L1893.4 1416.6L1894.9 1417L1896.3 1417.4L1897.8 1417.6L1899.6 1418.4L1901.4 1418.9L1902.7 1420.2L1904 1421.4L1905.4 1423L1907 1420.7L1908.6 1418.3L1910 1418.6L1911.3 1419.2L1912.7 1419.8L1914 1420.1L1915.5 1420L1916.9 1419.3L1918.4 1419L1919.8 1418.9L1921.3 1418.3L1922.7 1418.5L1924.2 1418.4L1925.6 1418.3L1927.1 1418.3L1928.5 1418.3L1930 1418.7L1931.5 1418.7L1933 1419.2L1934.5 1419.6L1936 1420L1937.5 1420.1L1939.2 1422.4L1940.9 1425L1942.6 1427L1943.9 1424.9L1945.3 1422.7L1946.6 1420.7L1948.4 1419.6L1950.2 1418.9L1950.5 1419.4M1968 1423L1969.5 1423.1L1971 1423.2L1972.4 1423.2L1973.9 1423.1L1975.4 1423L1976.9 1423.5L1978.3 1423.5L1979.8 1423.2L1981.3 1423.4L1982.7 1423.4L1984.3 1423.7L1985.9 1423.7L1987.5 1424L1989.1 1424.3L1990.9 1421.1L1992.7 1418.3L1994.1 1416.8L1995.4 1415.3L1996.9 1415.1L1998.3 1415.3L1999.8 1415.3L2001.2 1415.2L2002.7 1415.4L2004.2 1415.5L2005.6 1415.4L2007.1 1415.5L2008.6 1415.6L2010 1415.3L2011.5 1415.6L2012.9 1415.3L2014.4 1415.4L2015.9 1415.5L2017.3 1415.6L2018.8 1415.7L2020.2 1415.3L2021.7 1415.5L2023.2 1415.6L2024.6 1415.5L2026.1 1415.6L2027.5 1415.8L2029 1415.8L2030.5 1415.5L2031.9 1415.8L2033.4 1415.6L2035.2 1416.4L2037 1417.1L2038.4 1416.9L2039.7 1416.6L2041.1 1416.7L2042.4 1416.5L2043.8 1417L2045.1 1417.9L2046.5 1418.5L2047.8 1418.9L2049.2 1418.2L2050.6 1417.6L2051.9 1416.8L2053.3 1416.2L2054.7 1416.1L2056.1 1416.4L2057.5 1416.7L2059 1416.8L2060.4 1416.8L2061.8 1416.9L2063.2 1416.8L2064.6 1416.8L2066.1 1417.2L2067.5 1417.2L2068.9 1417.4L2070.3 1417.6L2071.7 1417.4L2073.2 1417.6L2074.6 1417.5L2076.1 1417.6L2077.5 1417.5L2079 1417.5L2080.4 1417.5L2081.8 1417.6L2083.3 1417.6L2084.7 1417.3L2086.2 1417.4L2087.6 1417.5L2089.1 1417.5L2090.5 1417.6L2092 1417.6L2093.4 1417.4L2094.9 1417.4L2096.3 1417.1L2097.8 1417.2L2099.2 1417.2L2100.7 1417L2102.1 1417.2L2103.5 1417.1L2105 1416.9L2106.4 1417.3L2107.9 1417.1L2109.3 1417.1L2110.8 1417L2112.3 1416.7L2113.9 1416.8L2115.4 1416.6L2116.9 1416.8L2118.4 1416.5L2119.9 1416.6L2121.4 1417.1L2122.9 1417.6L2124.4 1417.8L2125.9 1417.9L2127.4 1418.3L2128.9 1418.3L2130.4 1418.2L2131.9 1418.4L2133.4 1418.3L2134.9 1418.1L2136.5 1418.3L2138 1418.4L2139.5 1418.4L2141 1418.2L2142.5 1418.2L2144 1418.2L2145.5 1418.3L2147.3 1421.6L2149.1 1419.4L2150.9 1417.6L2152.4 1417.7L2153.9 1417.9L2155.4 1417.9L2156.9 1418.2L2158.5 1418.2L2160 1418.3L2161.3 1421.2L2162.7 1424.3L2164 1419.4L2165.4 1414.4L2166.8 1414.3L2168.3 1414.2L2169.7 1413.8L2171.2 1413.5L2172.6 1413.5L2174.1 1413.5L2175.6 1413.7L2177.1 1413.6L2178.6 1413.6L2180.2 1413.4L2181.7 1413.8L2183.2 1413.7L2184.7 1413.6L2186.2 1413.7L2187.7 1413.8L2189.2 1413.6L2190.7 1413.8L2192.2 1414.1L2193.7 1414L2195.2 1413.7L2196.7 1413.7L2198.2 1414L2199.7 1413.8L2200 1413.8L2201.4 1413.8L2202.9 1413.7L2204.3 1414L2205.7 1413.6L2207.2 1413.6L2208.6 1413.8L2210 1413.6L2211.5 1414L2212.9 1414L2214.3 1413.9L2215.8 1414.1L2217.2 1413.9L2218.6 1413.7L2220.1 1413.6L2221.5 1413.8L2222.9 1413.8L2224.4 1413.8L2225.8 1413.7L2227.2 1413.9L2228.7 1413.8L2230.1 1413.8M2255.8 1418.3L2256.1 1414.4L2257.5 1414.3L2259 1414.4L2260.5 1414.4L2262 1414.4L2263.5 1414.5L2264.9 1414.3L2266.4 1414.5L2267.9 1414.6L2269.4 1414.7L2270.9 1414.5L2272.3 1414.7L2273.8 1414.9L2275.2 1414.9L2276.7 1415.1L2278.1 1414.9L2279.6 1414.9L2281 1415.2L2282.5 1415L2283.9 1415L2285.4 1415.1L2286.8 1415.3L2288.6 1415.8L2289.5 1431.5L2290.4 1415.8L2292.2 1415.3L2293.7 1415.4L2295.1 1415L2296.6 1415.2L2298.1 1415.4L2299.5 1415.5L2301 1415.2L2302.4 1415.4L2303.9 1415.3L2305.3 1415.3L2306.8 1415.3L2308.3 1415.6L2309.7 1415.3L2311.2 1415.5L2312.6 1415.5L2314.1 1415.6L2315.6 1415.5L2317 1415.4L2318.5 1415.6L2319.9 1415.2L2321.4 1415.3L2322.8 1415.3L2324.3 1415.4L2325.8 1415.7L2327.2 1415.4L2328.7 1415.8L2330.1 1415.7L2331.6 1415.7L2333.1 1415.8L2334.5 1415.6L2336 1415.8L2337.4 1415.6L2339.6 1416.2L2341 1447.3L2342.5 1416.2L2343.9 1416L2345.4 1416.1L2346.8 1416.3L2348.3 1416.2L2349.7 1416.3L2351.2 1416L2352.6 1416.2L2354.1 1416.1L2355.5 1415.9L2357 1416.3L2358.4 1416.1L2359.9 1416L2361.3 1416.2L2362.7 1416.2L2364.2 1416.2L2365.7 1416L2367.2 1416.3L2368.7 1416.4L2370.2 1416.5L2371.7 1416.4L2373.2 1416.5L2374.7 1416.4L2376.2 1416.3L2377.6 1416.6L2379.1 1416.7L2380.6 1416.4L2382.1 1416.6L2383.6 1416.5L2385.1 1416.9L2386.6 1416.6L2388.1 1416.7L2389.5 1416.9L2391 1416.9L2392.5 1416.8L2394 1416.5L2395.5 1416.5L2396.9 1416.7L2398.4 1416.7L2399.9 1416.9L2401.4 1416.8L2402.9 1416.7L2404.3 1416.5L2405.8 1416.9L2407.3 1416.5L2408.8 1416.5L2410.3 1416.6L2411.7 1416.6L2413.2 1417L2414.7 1416.5L2416.2 1416.8L2417.7 1416.7L2419.1 1416.8L2420.6 1416.7L2422.4 1417.6L2424.2 1418.9L2426 1418.4L2427.8 1417.4L2429.3 1417.3L2430.7 1417.7L2432.1 1417.8L2433.5 1417.3L2435 1417.7L2436.4 1417.7L2437.8 1417.7L2439.2 1417.7L2440.6 1417.7L2442.1 1417.6L2443.5 1417.7L2444.9 1418L2446.3 1417.7L2447.7 1418L2449.1 1418.8L2450.5 1419.3L2451.8 1420.2L2453.2 1420.7L2454.5 1420L2455.9 1419.8L2457.2 1419L2458.6 1418.3L2459.9 1418.4L2461.3 1418.4L2462.7 1418.7L2464 1418.9L2465.5 1419.1L2466.9 1420L2468.4 1420.5L2469.8 1421L2471.2 1421.2L2472.7 1422.2L2474.1 1422.6L2475.6 1423.6L2477 1424.2L2478.5 1425.2L2480.3 1427.1L2482.1 1428.8L2483.5 1428.9L2484.8 1429.4L2486.2 1429.9L2487.5 1430.3L2488.9 1429.4L2490.2 1428.6L2491.6 1428.3L2492.9 1427.4L2494.3 1423.9L2495.7 1420.1L2497.2 1418.9L2498.7 1418.1L2500.2 1417.1L2501.6 1416.8L2503.1 1416.4L2504.5 1416.1L2506 1415.8L2507.4 1415.3L2508.8 1415.3L2510.2 1415.3L2511.6 1415.1L2513 1415L2514.4 1415.1L2515.9 1415.2L2517.3 1415L2518.7 1415.5L2520.1 1415.3L2521.5 1416.2L2522.8 1471L2524.1 1416.2L2525.5 1416.1L2526.9 1415.9L2528.4 1415.8L2529.8 1415.8L2531.3 1415.7L2532.7 1415.8L2534.5 1421.6L2536.3 1414.7L2537.7 1414.6L2539.2 1414.9L2540.6 1414.8L2542 1415.1L2543.4 1414.9L2544.8 1415.3L2546.2 1415.3L2547.6 1415.3L2549.4 1440.2L2550.8 1415.3L2552.4 1415.2L2553.9 1415.1L2555.5 1415.2L2557 1415.3L2558.6 1415.2L2560.1 1415L2561.7 1414.9L2563.2 1414.8L2564.7 1415L2566.2 1414.8L2567.7 1414.8L2569.2 1414.6L2570.7 1414.8L2572.2 1414.7L2573.7 1414.7L2575.2 1414.6L2576.7 1414.6L2578.2 1414.6L2579.7 1414.7L2581.2 1414.5L2582.6 1414.8L2584.1 1414.5L2585.5 1414.5L2587 1415L2588.4 1414.8L2589.9 1414.8L2591.3 1414.8L2592.8 1414.9L2594.2 1414.7L2592.7 1414.7L2591.2 1414.8L2589.8 1414.6L2588.3 1414.9L2586.8 1414.5L2585.3 1414.6L2583.8 1414.9L2582.3 1414.6L2580.8 1414.6L2579.3 1414.7L2577.9 1414.6L2576.4 1414.7L2574.9 1414.5L2573.4 1414.5L2571.9 1414.7L2570.4 1414.6L2568.9 1414.5L2567.4 1414.7L2566 1415L2564.5 1414.6L2563 1414.9L2561.5 1414.7L2560 1414.7L2561.4 1414.8L2562.9 1414.8L2564.3 1414.7L2565.8 1414.9L2567.2 1414.9L2568.7 1414.6L2570.1 1414.8L2571.6 1415L2573 1414.8L2574.5 1414.7L2575.9 1414.7L2577.4 1414.7L2578.8 1414.7L2580.3 1414.6L2581.7 1414.6L2583.1 1414.6L2584.6 1414.6L2586 1414.6L2587.5 1414.9L2588.9 1414.6L2590.4 1414.8L2591.8 1414.9L2593.3 1414.9L2594.7 1414.8L2596.2 1414.7L2597.7 1415.2L2599.2 1415.4L2600.7 1415.6L2602 1444.7L2603.4 1415.3L2604.9 1415.5L2606.4 1415.1L2607.9 1415.5L2609.4 1415.4L2610.9 1415.3L2612.4 1415.2L2613.9 1415.3L2615.5 1415.5L2617 1415.4L2618.5 1415.3L2620 1415.5L2621.5 1415.3L2623.7 1424.3L2624.8 1419.9L2626 1415.3L2627.4 1415.1L2628.9 1415.4L2630.3 1415.1L2631.8 1415.5L2633.2 1415.2L2634.6 1415.6L2636.1 1415.3L2637.5 1415.3L2638.9 1415.2L2640.4 1415.6L2641.8 1415.2L2643.3 1415.3L2644.7 1415.7L2646.1 1415.6L2647.6 1415.6L2649 1415.7L2650.5 1415.6L2651.9 1415.5L2653.3 1415.6L2654.8 1415.8L2656.2 1415.4L2657.6 1415.6L2659 1417.4L2660.4 1419.4L2661.7 1417.6L2663.1 1415.6L2664.6 1415.5L2666.1 1415.8L2667.6 1415.7L2669.1 1415.9L2670.6 1416.2L2672.1 1416.2L2673.9 1418.9L2675.3 1417.6L2676.6 1416.2L2678 1417.1L2679.3 1418.3L2681.2 1420.1L2683 1417.1L2684.5 1417L2686 1417L2687.5 1416.9L2689 1417.4L2690.5 1417.4L2692 1417.5L2693.5 1417.1L2695 1417.1L2696.5 1417.5L2698 1417.4L2699.5 1417.5L2701 1417.4L2702.5 1418.3L2703.9 1419.5L2705.4 1420.2L2706.8 1421.2L2708.3 1422L2710.1 1419.9L2711.9 1418L2713.3 1417.9L2714.8 1418.1L2716.2 1418.2L2717.7 1418.3L2719.1 1418.1L2720.6 1418.1L2722 1418.1L2723.5 1418.1L2724.9 1418.1L2726.4 1418.3L2727.8 1418.2L2729.3 1418.5L2730.7 1418.5L2732.2 1418.4L2733.6 1418.1L2735 1418.6L2736.5 1418.5L2737.9 1418.2L2739.4 1418.3L2740.8 1418.3L2742.3 1418.5L2743.7 1418.8L2745.2 1419L2746.6 1419.3L2748.1 1419.4L2749.5 1429.2L2751.7 1419.4L2753.1 1419.2L2754.6 1419.1L2756 1418.7L2757.5 1418.2L2758.9 1418L2760.3 1418L2761.8 1417.8L2763.2 1418L2764.6 1417.8L2766 1417.9L2767.4 1417.9L2768.9 1417.8L2770.3 1417.6L2771.7 1417.6L2773.1 1417.9L2774.5 1417.6M2784.9 1417.6L2786.3 1417.4L2787.8 1417.9L2789.2 1417.5L2790.7 1417.4L2792.1 1417.5L2793.6 1417.9L2795 1417.6L2796.5 1417.8L2798 1417.5L2799.4 1418L2800.9 1418L2802.3 1417.8L2803.8 1417.9L2805.2 1418.1L2806.7 1417.7L2808.1 1417.8L2809.6 1417.7L2811 1417.7L2812.5 1417.8L2813.9 1417.9L2815.4 1418.1L2816.8 1418.1L2818.3 1418L2819.8 1418M2841.8 1418.3L2843.1 1418.8L2844.4 1419.4L2845.7 1420.1L2847.5 1419.6L2849.3 1419.4L2850.8 1420.3L2852.3 1421.5L2853.9 1422.5L2855.4 1421.6L2856.9 1420.6L2858.4 1419.8L2860.2 1419.8L2862 1419.4L2863.8 1416.8L2865.6 1414.4L2867.1 1413.9L2868.6 1413.7L2870.1 1413.5L2871.9 1411.7L2873.7 1409.8L2875.2 1410L2876.7 1410L2878.2 1409.9L2879.6 1409.7L2881.1 1410.2L2882.6 1410.1L2884 1409.8L2885.5 1409.8L2887 1410.1L2888.5 1410L2889.9 1410.2L2891.4 1410.2L2892.9 1409.9L2894.3 1410.2L2895.8 1410.4L2897.3 1410L2898.8 1410.1L2900.2 1410.2" fill="none" stroke="#1A8C00" stroke-width="3.3" stroke-linejoin="round" stroke-linecap="round" shape-rendering="crispEdges"/>
<path d="M1144.4 1400.3h0M1145.9 1400.3h0M1147.4 1400.3h0M1148.9 1400.1h0M1150.3 1400.2h0M1151.8 1400.1h0M1153.3 1400.5h0M1154.8 1400.1h0M1156.3 1400.2h0M1157.8 1400.1h0M1159.2 1400.2h0M1160.7 1400.6h0M1162.2 1400.5h0M1163.7 1400.4h0M1165.2 1400.5h0M1166.6 1400.2h0M1168.1 1400.2h0M1169.6 1400.5h0M1171.1 1400.5h0M1172.6 1400.5h0M1174.1 1400.4h0M1175.5 1400.2h0M1177 1400.5h0M1178.5 1400.5h0M1180 1400.2h0M1181.5 1400.7h0M1183 1400.5h0M1184.4 1400.3h0M1185.9 1400.5h0M1187.4 1400.7h0M1188.9 1400.4h0M1190.4 1400.6h0M1191.9 1400.3h0M1193.3 1400.3h0M1194.8 1400.5h0M1196.3 1400.4h0M1197.8 1400.7h0M1199.3 1400.6h0M1200.8 1400.4h0M1202.2 1400.8h0M1203.7 1400.7h0M1205.2 1400.4h0M1206.7 1400.6h0M1208 1400.8h0M1209.4 1401.4h0M1210.8 1401.3h0M1212.1 1401.7h0M1213.6 1401.5h0M1215 1401.6h0M1216.5 1401.9h0M1218 1401.8h0M1219.4 1401.5h0M1220.9 1401.5h0M1222.4 1401.7h0M1223.8 1401.7h0M1225.3 1401.8h0M1226.7 1401.6h0M1228.2 1401.8h0M1229.7 1401.6h0M1231.1 1401.5h0M1232.6 1401.5h0M1234 1401.9h0M1235.5 1401.8h0M1237 1401.6h0M1238.4 1401.8h0M1239.9 1401.7h0M1241.4 1401.7h0M1242.8 1401.5h0M1244.3 1401.8h0M1245.7 1401.6h0M1247.2 1401.7h0M1248.7 1401.6h0M1250.1 1401.6h0M1251.6 1401.8h0M1253.1 1401.8h0M1254.5 1401.8h0M1256 1401.7h0M1257.4 1401.8h0M1258.9 1401.5h0M1260.4 1401.5h0M1261.8 1401.5h0M1263.3 1401.9h0M1264.7 1401.9h0M1266.2 1401.6h0M1267.7 1401.5h0M1269.1 1401.6h0M1270.6 1401.8h0M1272.1 1401.7h0M1273.5 1401.7h0M1275 1401.5h0M1276.4 1401.8h0M1277.9 1401.5h0M1279.4 1401.9h0M1280.8 1401.7h0M1282.3 1402h0M1283.7 1402h0M1285.2 1402.1h0M1286.6 1402.6h0M1288.1 1402.6h0M1289.9 1402.2h0M1291.7 1402.1h0M1293.1 1402h0M1294.6 1402h0M1296 1402.4h0M1297.5 1402.5h0M1298.9 1402.4h0M1300.4 1402.5h0M1301.8 1402.4h0M1303.3 1402.5h0M1304.7 1402.4h0M1306.1 1402.6h0M1307.6 1402.8h0M1309.1 1402.8h0M1310.5 1402.6h0M1312 1402.6h0M1313.5 1402.6h0M1314.9 1402.8h0M1316.4 1402.5h0M1317.9 1402.3h0M1319.3 1402.4h0M1320.8 1402.8h0M1322.3 1402.6h0M1323.7 1402.3h0M1325.2 1402.3h0M1326.6 1402.4h0M1328.1 1402.6h0M1329.6 1402.7h0M1331 1402.6h0M1332.5 1402.7h0M1334 1402.6h0M1335.4 1402.5h0M1336.9 1402.6h0M1338.4 1402.7h0M1339.8 1402.5h0M1341.3 1402.4h0M1342.7 1402.4h0M1344.2 1402.4h0M1345.7 1402.6h0M1347.1 1402.7h0M1348.6 1402.7h0M1350.1 1402.4h0M1351.5 1402.4h0M1353 1402.6h0M1354.5 1402.4h0M1355.9 1402.5h0M1357.4 1402.4h0M1358.8 1402.2h0M1360.3 1402.3h0M1361.8 1402.6h0M1363.2 1402.6h0M1364.7 1402.2h0M1366.2 1402.4h0M1367.6 1402.4h0M1369.1 1402.8h0M1370.5 1402.7h0M1372 1402.7h0M1373.4 1403h0M1374.9 1403.1h0M1376.3 1403.1h0M1377.8 1403.6h0M1379.2 1403.2h0M1380.7 1403.5h0M1382.1 1403.7h0M1383.5 1403.8h0M1385 1403.9h0M1386.4 1403.8h0M1387.9 1403.8h0M1389.3 1404.1h0M1390.8 1403.9h0M1392.3 1404h0M1393.9 1404h0M1395.4 1404.2h0M1396.9 1404.5h0M1398.4 1404.4h0M1399.9 1404.6h0M1401.4 1404.5h0M1402.9 1404.5h0M1404.4 1404.7h0M1405.9 1404.8h0M1407.4 1405h0M1408.9 1405.4h0M1410.4 1405.8h0M1411.9 1406.1h0M1413.4 1406.2h0M1414.9 1406.9h0M1416.5 1407.1h0M1417.9 1407.3h0M1419.3 1407.1h0M1420.7 1407.1h0M1422.1 1407.5h0M1423.6 1407.3h0M1425 1407.7h0M1426.4 1407.5h0M1427.8 1407.5h0M1429.2 1407.7h0M1430.7 1407.6h0M1432.1 1408h0M1433.5 1407.9h0M1434.9 1408h0M1436.3 1408h0M1437.8 1408.3h0M1439.3 1408h0M1440.8 1408.5h0M1442.3 1408.3h0M1443.7 1408.4h0M1445.2 1408.4h0M1446.7 1408.5h0M1448.2 1408.9h0M1449.7 1408.8h0M1451.1 1408.7h0M1452.6 1408.9h0M1454.2 1409.2h0M1455.7 1409.5h0M1457.3 1410.1h0M1458.9 1410.4h0M1846.9 1415.3h0M1848.3 1415.1h0M1849.7 1415.5h0M1851.2 1415.4h0M1852.6 1415.3h0M1854.1 1415.6h0M1855.5 1415.6h0M1857 1415.3h0M1858.4 1415.5h0M1859.8 1415.7h0M1861.3 1415.3h0M1862.7 1415.3h0M1864.2 1415.6h0M1865.6 1415.8h0M1867 1415.7h0M1868.5 1415.8h0M1869.9 1415.7h0M1871.4 1415.5h0M1872.8 1415.7h0M1874.2 1415.8h0M1875.6 1415.9h0M1877 1416.1h0M1878.3 1416.3h0M1879.7 1416.7h0M1881 1416.9h0M1882.4 1416.7h0M1883.7 1416.9h0M1885.1 1417.1h0M1886.5 1417h0M1887.8 1416.4h0M1889.2 1416.6h0M1890.5 1416.2h0M1892 1416.7h0M1893.4 1416.6h0M1894.9 1417h0M1896.3 1417.4h0M1897.8 1417.6h0M1899.6 1418.4h0M1901.4 1418.9h0M1902.7 1420.2h0M1904 1421.4h0M1905.4 1423h0M1907 1420.7h0M1908.6 1418.3h0M1910 1418.6h0M1911.3 1419.2h0M1912.7 1419.8h0M1914 1420.1h0M1915.5 1420h0M1916.9 1419.3h0M1918.4 1419h0M1919.8 1418.9h0M1921.3 1418.3h0M1922.7 1418.5h0M1924.2 1418.4h0M1925.6 1418.3h0M1927.1 1418.3h0M1928.5 1418.3h0M1930 1418.7h0M1931.5 1418.7h0M1933 1419.2h0M1934.5 1419.6h0M1936 1420h0M1937.5 1420.1h0M1939.2 1422.4h0M1940.9 1425h0M1942.6 1427h0M1943.9 1424.9h0M1945.3 1422.7h0M1946.6 1420.7h0M1948.4 1419.6h0M1950.2 1418.9h0M1950.5 1419.4h0M1968 1423h0M1969.5 1423.1h0M1971 1423.2h0M1972.4 1423.2h0M1973.9 1423.1h0M1975.4 1423h0M1976.9 1423.5h0M1978.3 1423.5h0M1979.8 1423.2h0M1981.3 1423.4h0M1982.7 1423.4h0M1984.3 1423.7h0M1985.9 1423.7h0M1987.5 1424h0M1989.1 1424.3h0M1990.9 1421.1h0M1992.7 1418.3h0M1994.1 1416.8h0M1995.4 1415.3h0M1996.9 1415.1h0M1998.3 1415.3h0M1999.8 1415.3h0M2001.2 1415.2h0M2002.7 1415.4h0M2004.2 1415.5h0M2005.6 1415.4h0M2007.1 1415.5h0M2008.6 1415.6h0M2010 1415.3h0M2011.5 1415.6h0M2012.9 1415.3h0M2014.4 1415.4h0M2015.9 1415.5h0M2017.3 1415.6h0M2018.8 1415.7h0M2020.2 1415.3h0M2021.7 1415.5h0M2023.2 1415.6h0M2024.6 1415.5h0M2026.1 1415.6h0M2027.5 1415.8h0M2029 1415.8h0M2030.5 1415.5h0M2031.9 1415.8h0M2033.4 1415.6h0M2035.2 1416.4h0M2037 1417.1h0M2038.4 1416.9h0M2039.7 1416.6h0M2041.1 1416.7h0M2042.4 1416.5h0M2043.8 1417h0M2045.1 1417.9h0M2046.5 1418.5h0M2047.8 1418.9h0M2049.2 1418.2h0M2050.6 1417.6h0M2051.9 1416.8h0M2053.3 1416.2h0M2054.7 1416.1h0M2056.1 1416.4h0M2057.5 1416.7h0M2059 1416.8h0M2060.4 1416.8h0M2061.8 1416.9h0M2063.2 1416.8h0M2064.6 1416.8h0M2066.1 1417.2h0M2067.5 1417.2h0M2068.9 1417.4h0M2070.3 1417.6h0M2071.7 1417.4h0M2073.2 1417.6h0M2074.6 1417.5h0M2076.1 1417.6h0M2077.5 1417.5h0M2079 1417.5h0M2080.4 1417.5h0M2081.8 1417.6h0M2083.3 1417.6h0M2084.7 1417.3h0M2086.2 1417.4h0M2087.6 1417.5h0M2089.1 1417.5h0M2090.5 1417.6h0M2092 1417.6h0M2093.4 1417.4h0M2094.9 1417.4h0M2096.3 1417.1h0M2097.8 1417.2h0M2099.2 1417.2h0M2100.7 1417h0M2102.1 1417.2h0M2103.5 1417.1h0M2105 1416.9h0M2106.4 1417.3h0M2107.9 1417.1h0M2109.3 1417.1h0M2110.8 1417h0M2112.3 1416.7h0M2113.9 1416.8h0M2115.4 1416.6h0M2116.9 1416.8h0M2118.4 1416.5h0M2119.9 1416.6h0M2121.4 1417.1h0M2122.9 1417.6h0M2124.4 1417.8h0M2125.9 1417.9h0M2127.4 1418.3h0M2128.9 1418.3h0M2130.4 1418.2h0M2131.9 1418.4h0M2133.4 1418.3h0M2134.9 1418.1h0M2136.5 1418.3h0M2138 1418.4h0M2139.5 1418.4h0M2141 1418.2h0M2142.5 1418.2h0M2144 1418.2h0M2145.5 1418.3h0M2147.3 1421.6h0M2149.1 1419.4h0M2150.9 1417.6h0M2152.4 1417.7h0M2153.9 1417.9h0M2155.4 1417.9h0M2156.9 1418.2h0M2158.5 1418.2h0M2160 1418.3h0M2161.3 1421.2h0M2162.7 1424.3h0M2164 1419.4h0M2165.4 1414.4h0M2166.8 1414.3h0M2168.3 1414.2h0M2169.7 1413.8h0M2171.2 1413.5h0M2172.6 1413.5h0M2174.1 1413.5h0M2175.6 1413.7h0M2177.1 1413.6h0M2178.6 1413.6h0M2180.2 1413.4h0M2181.7 1413.8h0M2183.2 1413.7h0M2184.7 1413.6h0M2186.2 1413.7h0M2187.7 1413.8h0M2189.2 1413.6h0M2190.7 1413.8h0M2192.2 1414.1h0M2193.7 1414h0M2195.2 1413.7h0M2196.7 1413.7h0M2198.2 1414h0M2199.7 1413.8h0M2200 1413.8h0M2201.4 1413.8h0M2202.9 1413.7h0M2204.3 1414h0M2205.7 1413.6h0M2207.2 1413.6h0M2208.6 1413.8h0M2210 1413.6h0M2211.5 1414h0M2212.9 1414h0M2214.3 1413.9h0M2215.8 1414.1h0M2217.2 1413.9h0M2218.6 1413.7h0M2220.1 1413.6h0M2221.5 1413.8h0M2222.9 1413.8h0M2224.4 1413.8h0M2225.8 1413.7h0M2227.2 1413.9h0M2228.7 1413.8h0M2230.1 1413.8h0M2255.8 1418.3h0M2256.1 1414.4h0M2257.5 1414.3h0M2259 1414.4h0M2260.5 1414.4h0M2262 1414.4h0M2263.5 1414.5h0M2264.9 1414.3h0M2266.4 1414.5h0M2267.9 1414.6h0M2269.4 1414.7h0M2270.9 1414.5h0M2272.3 1414.7h0M2273.8 1414.9h0M2275.2 1414.9h0M2276.7 1415.1h0M2278.1 1414.9h0M2279.6 1414.9h0M2281 1415.2h0M2282.5 1415h0M2283.9 1415h0M2285.4 1415.1h0M2286.8 1415.3h0M2288.6 1415.8h0M2289.5 1431.5h0M2290.4 1415.8h0M2292.2 1415.3h0M2293.7 1415.4h0M2295.1 1415h0M2296.6 1415.2h0M2298.1 1415.4h0M2299.5 1415.5h0M2301 1415.2h0M2302.4 1415.4h0M2303.9 1415.3h0M2305.3 1415.3h0M2306.8 1415.3h0M2308.3 1415.6h0M2309.7 1415.3h0M2311.2 1415.5h0M2312.6 1415.5h0M2314.1 1415.6h0M2315.6 1415.5h0M2317 1415.4h0M2318.5 1415.6h0M2319.9 1415.2h0M2321.4 1415.3h0M2322.8 1415.3h0M2324.3 1415.4h0M2325.8 1415.7h0M2327.2 1415.4h0M2328.7 1415.8h0M2330.1 1415.7h0M2331.6 1415.7h0M2333.1 1415.8h0M2334.5 1415.6h0M2336 1415.8h0M2337.4 1415.6h0M2339.6 1416.2h0M2341 1447.3h0M2342.5 1416.2h0M2343.9 1416h0M2345.4 1416.1h0M2346.8 1416.3h0M2348.3 1416.2h0M2349.7 1416.3h0M2351.2 1416h0M2352.6 1416.2h0M2354.1 1416.1h0M2355.5 1415.9h0M2357 1416.3h0M2358.4 1416.1h0M2359.9 1416h0M2361.3 1416.2h0M2362.7 1416.2h0M2364.2 1416.2h0M2365.7 1416h0M2367.2 1416.3h0M2368.7 1416.4h0M2370.2 1416.5h0M2371.7 1416.4h0M2373.2 1416.5h0M2374.7 1416.4h0M2376.2 1416.3h0M2377.6 1416.6h0M2379.1 1416.7h0M2380.6 1416.4h0M2382.1 1416.6h0M2383.6 1416.5h0M2385.1 1416.9h0M2386.6 1416.6h0M2388.1 1416.7h0M2389.5 1416.9h0M2391 1416.9h0M2392.5 1416.8h0M2394 1416.5h0M2395.5 1416.5h0M2396.9 1416.7h0M2398.4 1416.7h0M2399.9 1416.9h0M2401.4 1416.8h0M2402.9 1416.7h0M2404.3 1416.5h0M2405.8 1416.9h0M2407.3 1416.5h0M2408.8 1416.5h0M2410.3 1416.6h0M2411.7 1416.6h0M2413.2 1417h0M2414.7 1416.5h0M2416.2 1416.8h0M2417.7 1416.7h0M2419.1 1416.8h0M2420.6 1416.7h0M2422.4 1417.6h0M2424.2 1418.9h0M2426 1418.4h0M2427.8 1417.4h0M2429.3 1417.3h0M2430.7 1417.7h0M2432.1 1417.8h0M2433.5 1417.3h0M2435 1417.7h0M2436.4 1417.7h0M2437.8 1417.7h0M2439.2 1417.7h0M2440.6 1417.7h0M2442.1 1417.6h0M2443.5 1417.7h0M2444.9 1418h0M2446.3 1417.7h0M2447.7 1418h0M2449.1 1418.8h0M2450.5 1419.3h0M2451.8 1420.2h0M2453.2 1420.7h0M2454.5 1420h0M2455.9 1419.8h0M2457.2 1419h0M2458.6 1418.3h0M2459.9 1418.4h0M2461.3 1418.4h0M2462.7 1418.7h0M2464 1418.9h0M2465.5 1419.1h0M2466.9 1420h0M2468.4 1420.5h0M2469.8 1421h0M2471.2 1421.2h0M2472.7 1422.2h0M2474.1 1422.6h0M2475.6 1423.6h0M2477 1424.2h0M2478.5 1425.2h0M2480.3 1427.1h0M2482.1 1428.8h0M2483.5 1428.9h0M2484.8 1429.4h0M2486.2 1429.9h0M2487.5 1430.3h0M2488.9 1429.4h0M2490.2 1428.6h0M2491.6 1428.3h0M2492.9 1427.4h0M2494.3 1423.9h0M2495.7 1420.1h0M2497.2 1418.9h0M2498.7 1418.1h0M2500.2 1417.1h0M2501.6 1416.8h0M2503.1 1416.4h0M2504.5 1416.1h0M2506 1415.8h0M2507.4 1415.3h0M2508.8 1415.3h0M2510.2 1415.3h0M2511.6 1415.1h0M2513 1415h0M2514.4 1415.1h0M2515.9 1415.2h0M2517.3 1415h0M2518.7 1415.5h0M2520.1 1415.3h0M2521.5 1416.2h0M2522.8 1471h0M2524.1 1416.2h0M2525.5 1416.1h0M2526.9 1415.9h0M2528.4 1415.8h0M2529.8 1415.8h0M2531.3 1415.7h0M2532.7 1415.8h0M2534.5 1421.6h0M2536.3 1414.7h0M2537.7 1414.6h0M2539.2 1414.9h0M2540.6 1414.8h0M2542 1415.1h0M2543.4 1414.9h0M2544.8 1415.3h0M2546.2 1415.3h0M2547.6 1415.3h0M2549.4 1440.2h0M2550.8 1415.3h0M2552.4 1415.2h0M2553.9 1415.1h0M2555.5 1415.2h0M2557 1415.3h0M2558.6 1415.2h0M2560.1 1415h0M2561.7 1414.9h0M2563.2 1414.8h0M2564.7 1415h0M2566.2 1414.8h0M2567.7 1414.8h0M2569.2 1414.6h0M2570.7 1414.8h0M2572.2 1414.7h0M2573.7 1414.7h0M2575.2 1414.6h0M2576.7 1414.6h0M2578.2 1414.6h0M2579.7 1414.7h0M2581.2 1414.5h0M2582.6 1414.8h0M2584.1 1414.5h0M2585.5 1414.5h0M2587 1415h0M2588.4 1414.8h0M2589.9 1414.8h0M2591.3 1414.8h0M2592.8 1414.9h0M2594.2 1414.7h0M2592.7 1414.7h0M2591.2 1414.8h0M2589.8 1414.6h0M2588.3 1414.9h0M2586.8 1414.5h0M2585.3 1414.6h0M2583.8 1414.9h0M2582.3 1414.6h0M2580.8 1414.6h0M2579.3 1414.7h0M2577.9 1414.6h0M2576.4 1414.7h0M2574.9 1414.5h0M2573.4 1414.5h0M2571.9 1414.7h0M2570.4 1414.6h0M2568.9 1414.5h0M2567.4 1414.7h0M2566 1415h0M2564.5 1414.6h0M2563 1414.9h0M2561.5 1414.7h0M2560 1414.7h0M2561.4 1414.8h0M2562.9 1414.8h0M2564.3 1414.7h0M2565.8 1414.9h0M2567.2 1414.9h0M2568.7 1414.6h0M2570.1 1414.8h0M2571.6 1415h0M2573 1414.8h0M2574.5 1414.7h0M2575.9 1414.7h0M2577.4 1414.7h0M2578.8 1414.7h0M2580.3 1414.6h0M2581.7 1414.6h0M2583.1 1414.6h0M2584.6 1414.6h0M2586 1414.6h0M2587.5 1414.9h0M2588.9 1414.6h0M2590.4 1414.8h0M2591.8 1414.9h0M2593.3 1414.9h0M2594.7 1414.8h0M2596.2 1414.7h0M2597.7 1415.2h0M2599.2 1415.4h0M2600.7 1415.6h0M2602 1444.7h0M2603.4 1415.3h0M2604.9 1415.5h0M2606.4 1415.1h0M2607.9 1415.5h0M2609.4 1415.4h0M2610.9 1415.3h0M2612.4 1415.2h0M2613.9 1415.3h0M2615.5 1415.5h0M2617 1415.4h0M2618.5 1415.3h0M2620 1415.5h0M2621.5 1415.3h0M2623.7 1424.3h0M2624.8 1419.9h0M2626 1415.3h0M2627.4 1415.1h0M2628.9 1415.4h0M2630.3 1415.1h0M2631.8 1415.5h0M2633.2 1415.2h0M2634.6 1415.6h0M2636.1 1415.3h0M2637.5 1415.3h0M2638.9 1415.2h0M2640.4 1415.6h0M2641.8 1415.2h0M2643.3 1415.3h0M2644.7 1415.7h0M2646.1 1415.6h0M2647.6 1415.6h0M2649 1415.7h0M2650.5 1415.6h0M2651.9 1415.5h0M2653.3 1415.6h0M2654.8 1415.8h0M2656.2 1415.4h0M2657.6 1415.6h0M2659 1417.4h0M2660.4 1419.4h0M2661.7 1417.6h0M2663.1 1415.6h0M2664.6 1415.5h0M2666.1 1415.8h0M2667.6 1415.7h0M2669.1 1415.9h0M2670.6 1416.2h0M2672.1 1416.2h0M2673.9 1418.9h0M2675.3 1417.6h0M2676.6 1416.2h0M2678 1417.1h0M2679.3 1418.3h0M2681.2 1420.1h0M2683 1417.1h0M2684.5 1417h0M2686 1417h0M2687.5 1416.9h0M2689 1417.4h0M2690.5 1417.4h0M2692 1417.5h0M2693.5 1417.1h0M2695 1417.1h0M2696.5 1417.5h0M2698 1417.4h0M2699.5 1417.5h0M2701 1417.4h0M2702.5 1418.3h0M2703.9 1419.5h0M2705.4 1420.2h0M2706.8 1421.2h0M2708.3 1422h0M2710.1 1419.9h0M2711.9 1418h0M2713.3 1417.9h0M2714.8 1418.1h0M2716.2 1418.2h0M2717.7 1418.3h0M2719.1 1418.1h0M2720.6 1418.1h0M2722 1418.1h0M2723.5 1418.1h0M2724.9 1418.1h0M2726.4 1418.3h0M2727.8 1418.2h0M2729.3 1418.5h0M2730.7 1418.5h0M2732.2 1418.4h0M2733.6 1418.1h0M2735 1418.6h0M2736.5 1418.5h0M2737.9 1418.2h0M2739.4 1418.3h0M2740.8 1418.3h0M2742.3 1418.5h0M2743.7 1418.8h0M2745.2 1419h0M2746.6 1419.3h0M2748.1 1419.4h0M2749.5 1429.2h0M2751.7 1419.4h0M2753.1 1419.2h0M2754.6 1419.1h0M2756 1418.7h0M2757.5 1418.2h0M2758.9 1418h0M2760.3 1418h0M2761.8 1417.8h0M2763.2 1418h0M2764.6 1417.8h0M2766 1417.9h0M2767.4 1417.9h0M2768.9 1417.8h0M2770.3 1417.6h0M2771.7 1417.6h0M2773.1 1417.9h0M2774.5 1417.6h0M2784.9 1417.6h0M2786.3 1417.4h0M2787.8 1417.9h0M2789.2 1417.5h0M2790.7 1417.4h0M2792.1 1417.5h0M2793.6 1417.9h0M2795 1417.6h0M2796.5 1417.8h0M2798 1417.5h0M2799.4 1418h0M2800.9 1418h0M2802.3 1417.8h0M2803.8 1417.9h0M2805.2 1418.1h0M2806.7 1417.7h0M2808.1 1417.8h0M2809.6 1417.7h0M2811 1417.7h0M2812.5 1417.8h0M2813.9 1417.9h0M2815.4 1418.1h0M2816.8 1418.1h0M2818.3 1418h0M2819.8 1418h0M2841.8 1418.3h0M2843.1 1418.8h0M2844.4 1419.4h0M2845.7 1420.1h0M2847.5 1419.6h0M2849.3 1419.4h0M2850.8 1420.3h0M2852.3 1421.5h0M2853.9 1422.5h0M2855.4 1421.6h0M2856.9 1420.6h0M2858.4 1419.8h0M2860.2 1419.8h0M2862 1419.4h0M2863.8 1416.8h0M2865.6 1414.4h0M2867.1 1413.9h0M2868.6 1413.7h0M2870.1 1413.5h0M2871.9 1411.7h0M2873.7 1409.8h0M2875.2 1410h0M2876.7 1410h0M2878.2 1409.9h0M2879.6 1409.7h0M2881.1 1410.2h0M2882.6 1410.1h0M2884 1409.8h0M2885.5 1409.8h0M2887 1410.1h0M2888.5 1410h0M2889.9 1410.2h0M2891.4 1410.2h0M2892.9 1409.9h0M2894.3 1410.2h0M2895.8 1410.4h0M2897.3 1410h0M2898.8 1410.1h0M2900.2 1410.2h0" fill="none" stroke="#1A8C00" stroke-width="5.5" stroke-linecap="round" shape-rendering="crispEdges"/>
<path d="M349.1 1015.6h2.2V1020.1h-2.2ZM361.6 1018.5h2.7V1028.3h-2.7ZM376.5 1020.5h1.6V1029.6h-1.6ZM394.7 1024.2h1.6V1031h-1.6ZM409 1024.4h1.6V1028.8h-1.6ZM433.7 1027.8h2.2V1033.7h-2.2ZM450.3 1028.4h2.2V1035.6h-2.2ZM474.1 1028.8h1.6V1034.8h-1.6ZM481.2 1022.3h2.2V1034.2h-2.2ZM486.9 1022.5h2.2V1034.2h-2.2ZM500.2 1022.8h2.7V1046.4h-2.7ZM503.7 1022.9h2.2V1035.6h-2.2ZM515.9 1023.1h2.2V1046.4h-2.2ZM521 1023.2h1.6V1050h-1.6ZM529.5 1023.3h2.2V1031.5h-2.2ZM535.2 1024.2h2.7V1043.7h-2.7ZM545.7 1022.1h2.2V1031.5h-2.2ZM549.5 1022.2h2.7V1034.2h-2.7ZM556 1022.4h1.6V1042.4h-1.6ZM561.5 1022.5h2.2V1037h-2.2ZM565.8 1022.6h2.7V1072.2h-2.7ZM569.1 1022.7h4.3V1039.7h-4.3ZM575.3 1022.9h2.7V1051.9h-2.7ZM581.3 1023.4h1.6V1069h-1.6ZM582.6 1023.3h3.3V1039.7h-3.3ZM588.3 1023.2h2.7V1051.9h-2.7ZM594.3 1023h2.7V1045.1h-2.7ZM598.6 1022.9h2.2V1035.6h-2.2ZM604.6 1024.3h2.7V1037.8h-2.7ZM613.3 1022.6h2.7V1031.5h-2.7ZM619 1022.6h2.2V1037.8h-2.2ZM622.8 1022.6h2.7V1042.4h-2.7ZM631.4 1022.7h1.6V1039.7h-1.6ZM635.2 1022.7h2.2V1036.1h-2.2ZM640.9 1022.7h2.7V1031h-2.7ZM647.7 1022.7h1.6V1032.9h-1.6ZM665.9 1022.8h1.6V1043.7h-1.6ZM672.9 1022.8h2.7V1041.8h-2.7ZM682.2 1022.8h2.2V1041.8h-2.2ZM688.4 1022.8h3.3V1040.2h-3.3ZM699.5 1023h3.8V1030.2h-3.8ZM708.2 1023.2h2.7V1028.8h-2.7ZM720.4 1023.4h2.7V1041h-2.7ZM744 1023.8h1.6V1033.7h-1.6ZM751 1023.9h1.6V1060h-1.6ZM799.6 1026.8h1.6V1031.5h-1.6ZM824.8 1040.6h2.7V1047.3h-2.7ZM848.4 1043.2h1.6V1051.9h-1.6ZM870.1 1043.9h1.6V1054.6h-1.6ZM886.9 1022.2h2.2V1039.7h-2.2ZM886.8 1022.2h2.7V1039.7h-2.7ZM898.2 1022.1h1.6V1034.8h-1.6ZM921.2 1026.4h1.6V1048.6h-1.6ZM926.7 1026.3h1.6V1033.7h-1.6ZM931.8 1026.1h2.2V1031.5h-2.2ZM939.1 1024.3h1.6V1111.5h-1.6ZM958.1 1025.2h1.6V1090.7h-1.6ZM969.5 1023.5h2.7V1032.9h-2.7ZM987.4 1023.9h2.2V1030.7h-2.2ZM1000.2 1024.2h3.8V1032.9h-3.8ZM1004.8 1024.8h2.7V1032.1h-2.7ZM1012.1 1025.3h1.6V1049.7h-1.6ZM1021 1025.3h2.7V1029.6h-2.7ZM1035.4 1025.3h2.2V1035.1h-2.2ZM1043.3 1025.3h1.6V1039.7h-1.6ZM1052.8 1023.4h1.6V1033.4h-1.6ZM1060.1 1023.3h2.2V1030.7h-2.2ZM1071.8 1023.1h1.6V1032.3h-1.6ZM1081.5 1022.9h2.7V1028.8h-2.7ZM1089.7 1018.2h3.8V1027.5h-3.8ZM1106.5 1014.6h1.6V1026.7h-1.6ZM1115.7 1014.8h2.2V1037.5h-2.2ZM1132.5 1015.1h2.2V1020.7h-2.2ZM1163.2 1014.6h1.6V1018.8h-1.6ZM1176.2 1014.6h1.6V1022h-1.6ZM1197.1 1015h3.3V1022.6h-3.3ZM1204.7 1015.2h3.3V1042.9h-3.3ZM1217.4 1015.7h2.2V1028.8h-2.2ZM1220.9 1015.8h2.7V1030.7h-2.7ZM1228.5 1015.9h2.7V1020.7h-2.7ZM1231.8 1015.9h1.6V1025.6h-1.6ZM1235 1016h1.6V1026.1h-1.6ZM1239.1 1016h3.3V1035.1h-3.3ZM1242.1 1016.1h1.6V1060.6h-1.6ZM1254.3 1016.2h1.6V1023.9h-1.6ZM1257 1016.3h1.6V1029.9h-1.6ZM1267 1016.4h1.6V1044.6h-1.6ZM1300.9 1017h1.6V1024.8h-1.6ZM1308 1016.8h1.6V1050.5h-1.6ZM1378 1018.1h2.2V1023.4h-2.2ZM1413 1022.1h2.7V1027.5h-2.7ZM1418.1 1023h1.6V1028.8h-1.6ZM1847.3 1029.4h2.2V1043.3h-2.2ZM1853 1029.4h4.5V1069.6h-4.5ZM1856.3 1029.4h2.2V1075.5h-2.2ZM1859.3 1029.4h2.7V1059.6h-2.7ZM1865.2 1029.4h1.8V1069.6h-1.8ZM1867 1029.4h1.8V1056h-1.8ZM1872 1029.4h4.5V1049.7h-4.5ZM1875.2 1030.3h5.4V1103.9h-5.4ZM1878.3 1030.7h2.7V1133.8h-2.7ZM1884.4 1031.1h2.2V1052.4h-2.2ZM1890 1029.5h1.8V1125.6h-1.8ZM1894.2 1030.3h2.7V1096.7h-2.7ZM1897.3 1031.1h2.7V1080.4h-2.7ZM1902.8 1035h1.8V1136.5h-1.8ZM1906.3 1034h1.8V1137.7h-1.8ZM1912.2 1033.5h1.8V1053.3h-1.8ZM1915.4 1033.4h1.6V1056.5h-1.6ZM1921.4 1032.5h1.6V1061.4h-1.6ZM1925.1 1032.5h1.8V1142.8h-1.8ZM1928.2 1032.6h1.6V1066.5h-1.6ZM1935.3 1034.1h2.7V1072.3h-2.7ZM1940.3 1038.6h1.8V1089.5h-1.8ZM1944.1 1036.2h2.5V1128.7h-2.5ZM1948.2 1033.4h2.5V1125.6h-2.5ZM1968.1 1037.5h2.2V1042.4h-2.2ZM1975 1037.6h1.8V1061.4h-1.8ZM1972.8 1037.6h9V1049.7h-9ZM1979.1 1037.7h2.5V1095.4h-2.5ZM1990 1035.3h1.8V1061.4h-1.8ZM2004.1 1029h2.5V1112.6h-2.5ZM2014.4 1029.2h5.4V1039.2h-5.4ZM2023 1029.3h2.7V1041.5h-2.7ZM2033.6 1029.9h2.2V1041.5h-2.2ZM2038.4 1030.5h1.6V1038.5h-1.6ZM2044.3 1031.3h1.6V1062.7h-1.6ZM2047.4 1032.3h1.6V1057.5h-1.6ZM2051.3 1030.2h2.2V1037.4h-2.2ZM2067.4 1030.9h2.5V1089.5h-2.5ZM2073.3 1031.2h2.5V1063.6h-2.5ZM2077.3 1031.2h2.5V1096.7h-2.5ZM2082.1 1031.2h1.6V1123.8h-1.6ZM2086.4 1031.2h2.5V1038.5h-2.5ZM2092.3 1031.2h2.2V1038.5h-2.2ZM2099.4 1031.2h2.9V1070.5h-2.9ZM2101.3 1031.2h1.6V1087.6h-1.6ZM2110 1031.1h1.6V1044.2h-1.6ZM2116.2 1030.8h1.8V1070.5h-1.8ZM2120.3 1031.1h1.6V1076.4h-1.6ZM2123.4 1031.5h1.6V1074.6h-1.6ZM2127.2 1032h2.5V1060.5h-2.5ZM2121.1 1031.8h10.8V1047.9h-10.8ZM2139.2 1032h5.4V1050.6h-5.4ZM2145.2 1032.9h1.6V1087.6h-1.6ZM2148 1033.6h1.6V1053.3h-1.6ZM2152.4 1031.4h2.5V1052.4h-2.5ZM2154.5 1031.7h3.6V1043.3h-3.6ZM2160.3 1036.3h2.9V1113.9h-2.9ZM2162.3 1033.7h2.5V1119.5h-2.5ZM2165 1028.9h2.5V1059.6h-2.5ZM2168.6 1028.8h2.5V1048.2h-2.5ZM2174.1 1028.7h3.6V1056.5h-3.6ZM2182 1028.6h1.8V1070.5h-1.8ZM2188.9 1028.5h1.8V1131.6h-1.8ZM2201.1 1028.5h1.6V1044.2h-1.6ZM2204.4 1028.5h1.6V1052.4h-1.6ZM2208 1028.5h1.6V1050.6h-1.6ZM2211.2 1028.5h1.6V1051.5h-1.6ZM2200.9 1028.5h1.8V1044.2h-1.8ZM2204.1 1028.5h1.6V1052.4h-1.6ZM2208.2 1028.5h1.6V1050.6h-1.6ZM2211.1 1028.5h1.6V1051.5h-1.6ZM2221.3 1028.5h2.5V1043.3h-2.5ZM2227.1 1028.5h1.8V1080.4h-1.8ZM2227.7 1028.5h3.6V1039.7h-3.6ZM2253 1031.7h2.5V1052.4h-2.5ZM2261 1029.1h1.6V1063.2h-1.6ZM2268.1 1029.3h1.6V1083.5h-1.6ZM2272.2 1029.5h2.5V1056.5h-2.5ZM2289.3 1036.1h1.6V1135.6h-1.6ZM2308.2 1029.9h1.6V1038.5h-1.6ZM2333 1030.1h1.6V1052.4h-1.6ZM2330.7 1030.1h4.5V1043.3h-4.5ZM2340.2 1060.5h1.6V1154.6h-1.6ZM2341.2 1030.7h2.5V1119.3h-2.5ZM2347.4 1030.9h2.5V1046.4h-2.5ZM2357.3 1031.1h2.5V1061.4h-2.5ZM2368.2 1031.5h10.8V1037.9h-10.8ZM2384 1031.9h1.6V1044.2h-1.6ZM2394 1032h2.5V1057.5h-2.5ZM2394.4 1032h9V1037h-9ZM2407.2 1032h2.5V1130.1h-2.5ZM2414.9 1032h1.6V1057.5h-1.6ZM2420.3 1032.4h2.5V1121.5h-2.5ZM2422.4 1033.8h3.6V1044.2h-3.6ZM2431.2 1032.6h1.6V1052.4h-1.6ZM2438.3 1032.8h1.6V1041.5h-1.6ZM2445 1033h2.5V1061.4h-2.5ZM2449.7 1034.8h1.6V1046.4h-1.6ZM2453.3 1036.1h1.6V1047.3h-1.6ZM2455.9 1033.9h3.6V1043.3h-3.6ZM2466.1 1035.8h1.6V1051.5h-1.6ZM2473.1 1039.7h3.6V1045.2h-3.6ZM2486.3 1044.6h2.5V1085.3h-2.5ZM2490.9 1042.9h1.6V1093.4h-1.6ZM2494.3 1036.7h1.6V1138.3h-1.6ZM2494.8 1034.1h5.4V1076.8h-5.4ZM2498 1033h2.5V1089.5h-2.5ZM2504.3 1030.9h1.6V1140.1h-1.6ZM2513.7 1030.1h5.4V1079.5h-5.4ZM2517.4 1030.1h2.5V1136.5h-2.5ZM2523.3 1030.7h2.5V1135.2h-2.5ZM2521.9 1045.9h3.6V1117.5h-3.6ZM2529.1 1030.7h5.4V1075h-5.4ZM2533.3 1035.2h2.5V1086.4h-2.5ZM2541.2 1030h1.6V1379.7h-1.6ZM2548.1 1048.7h1.8V1127.4h-1.8ZM2546.8 1037.1h2.5V1113.9h-2.5ZM2555.3 1030.1h2.5V1046.4h-2.5ZM2558 1030.1h3.6V1038.5h-3.6ZM2568.2 1029.6h2.5V1067.4h-2.5ZM2589.1 1029.4h1.6V1072.3h-1.6ZM2586.1 1029.4h3.6V1037.9h-3.6ZM2560 1029.8h3.6V1037.9h-3.6ZM2568.3 1029.6h2.5V1067.4h-2.5ZM2580.8 1029.4h1.8V1033.4h-1.8ZM2586.2 1029.4h3.6V1037.4h-3.6ZM2589.2 1029.4h1.6V1072.3h-1.6ZM2601.2 1058.7h1.6V1159.4h-1.6ZM2607.1 1030.1h1.6V1086.4h-1.6ZM2607.9 1030.1h5.4V1045.2h-5.4ZM2614.4 1030.1h1.6V1046.4h-1.6ZM2617.5 1030.1h2.5V1044.2h-2.5ZM2623 1038.2h1.6V1074.1h-1.6ZM2626.5 1030.7h1.6V1050.6h-1.6ZM2632.3 1030.7h3.6V1057.8h-3.6ZM2634.3 1030.7h2.5V1144.6h-2.5ZM2641.7 1030.7h3.6V1049.1h-3.6ZM2648 1030.7h1.6V1092.5h-1.6ZM2656.3 1031.9h4.5V1078.6h-4.5ZM2659.3 1034h2.5V1086.4h-2.5ZM2664.9 1030.9h3.6V1042.4h-3.6ZM2667.8 1031.3h2.5V1065.4h-2.5ZM2673.1 1032.3h1.6V1234.1h-1.6ZM2680 1032.8h1.6V1045.2h-1.6ZM2688.9 1032h1.8V1132.5h-1.8ZM2692.9 1032h2.5V1065.4h-2.5ZM2686.6 1032h16.3V1042.4h-16.3ZM2699.2 1032h3.6V1068.3h-3.6ZM2708.6 1034.6h2.9V1089.5h-2.9ZM2705.9 1035.8h5.4V1061.4h-5.4ZM2714.2 1033.1h1.6V1083.5h-1.6ZM2719.1 1033.3h2.5V1056.5h-2.5ZM2727.2 1033.4h1.6V1080.4h-1.6ZM2734.1 1033.4h2.5V1080.4h-2.5ZM2732.7 1033.4h7.2V1053.3h-7.2ZM2741 1033.6h2.5V1102.5h-2.5ZM2740.8 1033.9h7.2V1054.2h-7.2ZM2749.1 1041.8h1.6V1123.5h-1.6ZM2747.2 1040h3.6V1076.4h-3.6ZM2759.8 1033.1h3.6V1039.7h-3.6ZM2765.2 1033.2h1.6V1047.9h-1.6ZM2768.4 1033.2h1.6V1048.2h-1.6ZM2774 1033.4h1.6V1042.4h-1.6ZM2784 1033.4h1.6V1050.6h-1.6ZM2788.2 1033.5h2.5V1066.5h-2.5ZM2794.2 1033.5h2.5V1052.4h-2.5ZM2799.2 1033.6h1.6V1039.2h-1.6ZM2803.1 1033.6h1.6V1059.3h-1.6ZM2809.1 1033.6h1.6V1056.5h-1.6ZM2813.5 1033.7h2.2V1041.5h-2.2ZM2818.3 1033.7h1.6V1040.3h-1.6ZM2840.8 1035.1h2.5V1040.3h-2.5ZM2852.9 1037.4h3.6V1041.2h-3.6ZM2859.2 1035.2h1.6V1070.5h-1.6ZM2862.3 1033.9h1.6V1053.3h-1.6ZM1847.3 1029.4h1.5V1032.2h-1.5ZM1854.7 1029.4h1.5V1034h-1.5ZM1857.6 1029.4h1.5V1036.4h-1.5ZM1862 1029.4h1.5V1033.8h-1.5ZM1867.9 1029.4h1.5V1040.2h-1.5ZM1870.8 1029.4h1.5V1036.6h-1.5ZM1872.3 1029.4h1.5V1032.7h-1.5ZM1873.7 1029.4h1.5V1035.4h-1.5ZM1881.1 1030.8h1.5V1037.5h-1.5ZM1884 1031.1h1.5V1040.8h-1.5ZM1888.4 1030.1h1.5V1039.3h-1.5ZM1891.3 1029.6h1.5V1036.7h-1.5ZM1892.8 1029.8h1.5V1034.6h-1.5ZM1898.7 1031.1h1.5V1040.2h-1.5ZM1900.1 1031.9h1.5V1036.3h-1.5ZM1904.5 1035.8h1.5V1040h-1.5ZM1907.5 1033.6h1.5V1044.9h-1.5ZM1908.9 1032.1h1.5V1037.3h-1.5ZM1914.8 1033.6h1.5V1041h-1.5ZM1920.7 1032.6h1.5V1036.1h-1.5ZM1929.5 1032.7h1.5V1035.3h-1.5ZM1932.4 1033.3h1.5V1047.9h-1.5ZM1933.9 1033.6h1.5V1043.7h-1.5ZM1936.8 1034.2h1.5V1038.7h-1.5ZM1939.7 1036.9h1.5V1055.8h-1.5ZM1941.2 1038.7h1.5V1044.2h-1.5ZM1942.7 1039.1h1.5V1046.7h-1.5ZM1944.1 1037.5h1.5V1051.5h-1.5ZM1947.1 1034.6h1.5V1037.9h-1.5ZM1950 1033.1h1.5V1037.4h-1.5ZM1951.5 1033.4h1.5V1041.3h-1.5ZM1965.6 1037.4h1.5V1048.3h-1.5ZM1967 1037.4h1.5V1045h-1.5ZM1968.5 1037.4h1.5V1043h-1.5ZM1970 1037.5h1.5V1040.4h-1.5ZM1972.9 1037.5h1.5V1052.1h-1.5ZM1975.8 1037.6h1.5V1046.8h-1.5ZM1978.8 1037.7h1.5V1046.8h-1.5ZM1980.2 1037.7h1.5V1040.6h-1.5ZM1981.7 1037.7h1.5V1050.5h-1.5ZM1983.2 1037.8h1.5V1042.2h-1.5ZM1986.1 1037.9h1.5V1041.8h-1.5ZM1987.6 1038h1.5V1044.9h-1.5ZM1990.5 1035.9h1.5V1043.6h-1.5ZM1992 1033.6h1.5V1045.1h-1.5ZM1993.4 1031.5h1.5V1036.6h-1.5ZM1994.9 1029.6h1.5V1032.8h-1.5ZM1997.8 1028.9h1.5V1040.6h-1.5ZM1999.3 1028.9h1.5V1043.5h-1.5ZM2002.2 1029h1.5V1036.2h-1.5ZM2012.5 1029.1h1.5V1033.4h-1.5ZM2014 1029.1h1.5V1031.3h-1.5ZM2015.4 1029.2h1.5V1032.1h-1.5ZM2019.8 1029.2h1.5V1037.3h-1.5ZM2021.3 1029.2h1.5V1043.9h-1.5ZM2022.8 1029.3h1.5V1031.4h-1.5ZM2025.7 1029.3h1.5V1035.1h-1.5ZM2030.1 1029.4h1.5V1033.5h-1.5ZM2031.6 1029.4h1.5V1039.9h-1.5ZM2033 1029.4h1.5V1033.1h-1.5ZM2034.5 1029.8h1.5V1033.9h-1.5ZM2038.9 1030.5h1.5V1043.5h-1.5ZM2040.4 1030.4h1.5V1033.1h-1.5ZM2041.8 1030.2h1.5V1033.6h-1.5ZM2043.3 1030.5h1.5V1039h-1.5ZM2044.7 1031.2h1.5V1037.6h-1.5ZM2046.2 1031.8h1.5V1047.6h-1.5ZM2047.7 1032.4h1.5V1035.4h-1.5ZM2049.1 1031.8h1.5V1041.4h-1.5ZM2050.6 1031.1h1.5V1033.4h-1.5ZM2052.1 1030.4h1.5V1037h-1.5ZM2053.5 1029.8h1.5V1035.4h-1.5ZM2055 1029.9h1.5V1042.9h-1.5ZM2057.9 1030.1h1.5V1035.1h-1.5ZM2059.4 1030.2h1.5V1037h-1.5ZM2066.7 1030.8h1.5V1036.6h-1.5ZM2071.1 1031.1h1.5V1033.4h-1.5ZM2072.6 1031.2h1.5V1037.4h-1.5ZM2075.5 1031.2h1.5V1035.7h-1.5ZM2077 1031.2h1.5V1038.9h-1.5ZM2085.8 1031.2h1.5V1040.8h-1.5ZM2088.7 1031.2h1.5V1035.8h-1.5ZM2090.2 1031.2h1.5V1046.9h-1.5ZM2091.7 1031.2h1.5V1039.2h-1.5ZM2093.1 1031.2h1.5V1035h-1.5ZM2094.6 1031.2h1.5V1034.9h-1.5ZM2097.5 1031.2h1.5V1041h-1.5ZM2099 1031.2h1.5V1043.8h-1.5ZM2100.5 1031.2h1.5V1033.6h-1.5ZM2101.9 1031.2h1.5V1034.9h-1.5ZM2104.9 1031.2h1.5V1033.5h-1.5ZM2109.3 1031.2h1.5V1045.8h-1.5ZM2110.7 1031.1h1.5V1034.6h-1.5ZM2112.2 1031.1h1.5V1040.7h-1.5ZM2116.6 1030.8h1.5V1034.9h-1.5ZM2121 1031.1h1.5V1041.7h-1.5ZM2123.9 1031.5h1.5V1035.6h-1.5ZM2135.7 1032h1.5V1037.6h-1.5ZM2137.1 1032h1.5V1042.7h-1.5ZM2140.1 1032h1.5V1039.6h-1.5ZM2143 1032h1.5V1037.3h-1.5ZM2150.3 1031.9h1.5V1037.6h-1.5ZM2153.3 1031.4h1.5V1046.9h-1.5ZM2154.7 1031.5h1.5V1033.7h-1.5ZM2156.2 1031.7h1.5V1038.7h-1.5ZM2157.7 1031.8h1.5V1040.6h-1.5ZM2160.6 1033.5h1.5V1035.5h-1.5ZM2167.9 1028.8h1.5V1032.2h-1.5ZM2170.9 1028.8h1.5V1031.4h-1.5ZM2182.6 1028.6h1.5V1041.7h-1.5ZM2197.2 1028.5h1.5V1032h-1.5ZM2200.2 1028.5h1.5V1033.7h-1.5ZM2203.1 1028.5h1.5V1033.7h-1.5ZM2206 1028.5h1.5V1039.5h-1.5ZM2213.4 1028.5h1.5V1035.6h-1.5ZM2216.3 1028.5h1.5V1033.8h-1.5ZM2220.7 1028.5h1.5V1037.6h-1.5ZM2226.6 1028.5h1.5V1031.4h-1.5ZM2229.5 1028.5h1.5V1034.8h-1.5ZM2231 1028.5h1.5V1030.5h-1.5ZM2253.3 1033h1.5V1041.8h-1.5ZM2254.8 1030.8h1.5V1035.3h-1.5ZM2256.3 1028.9h1.5V1032.4h-1.5ZM2257.7 1028.9h1.5V1035.2h-1.5ZM2259.2 1029h1.5V1036.5h-1.5ZM2262.1 1029.1h1.5V1034.2h-1.5ZM2263.6 1029.1h1.5V1034.9h-1.5ZM2266.5 1029.2h1.5V1039.6h-1.5ZM2268 1029.3h1.5V1031.6h-1.5ZM2269.5 1029.3h1.5V1038.1h-1.5ZM2276.8 1029.6h1.5V1032.6h-1.5ZM2279.7 1029.8h1.5V1038.6h-1.5ZM2290 1036.9h1.5V1048.4h-1.5ZM2294.4 1029.8h1.5V1039.8h-1.5ZM2298.8 1029.8h1.5V1039.2h-1.5ZM2301.7 1029.9h1.5V1032.2h-1.5ZM2303.2 1029.9h1.5V1032.7h-1.5ZM2304.7 1029.9h1.5V1036.9h-1.5ZM2306.1 1029.9h1.5V1032.2h-1.5ZM2316.4 1030h1.5V1033h-1.5ZM2317.9 1030h1.5V1035.5h-1.5ZM2319.3 1030h1.5V1044.5h-1.5ZM2322.3 1030h1.5V1041.5h-1.5ZM2326.7 1030.1h1.5V1032.9h-1.5ZM2334 1030.1h1.5V1034h-1.5ZM2335.5 1030.1h1.5V1041h-1.5ZM2336.9 1030.1h1.5V1041.6h-1.5ZM2339.9 1035.9h1.5V1041.4h-1.5ZM2342.8 1030.7h1.5V1036h-1.5ZM2347.2 1030.8h1.5V1034h-1.5ZM2350.1 1030.9h1.5V1041.1h-1.5ZM2351.6 1030.9h1.5V1034.6h-1.5ZM2353.1 1031h1.5V1048.9h-1.5ZM2360.4 1031.2h1.5V1044.8h-1.5ZM2364.8 1031.3h1.5V1034h-1.5ZM2366.3 1031.3h1.5V1039.7h-1.5ZM2367.7 1031.4h1.5V1035.8h-1.5ZM2373.6 1031.5h1.5V1035.5h-1.5ZM2375 1031.6h1.5V1040h-1.5ZM2378 1031.7h1.5V1039.1h-1.5ZM2379.4 1031.7h1.5V1044h-1.5ZM2382.4 1031.8h1.5V1046.9h-1.5ZM2392.6 1032h1.5V1046.3h-1.5ZM2394.1 1032h1.5V1034.2h-1.5ZM2395.6 1032h1.5V1034h-1.5ZM2398.5 1032h1.5V1040h-1.5ZM2402.9 1032h1.5V1039.8h-1.5ZM2404.4 1032h1.5V1040.5h-1.5ZM2410.2 1032h1.5V1036.5h-1.5ZM2413.2 1032h1.5V1036.6h-1.5ZM2419 1032h1.5V1036.6h-1.5ZM2420.5 1032h1.5V1045.2h-1.5ZM2424.9 1033.5h1.5V1036.5h-1.5ZM2430.8 1032.6h1.5V1040.5h-1.5ZM2435.2 1032.7h1.5V1035.4h-1.5ZM2439.6 1032.8h1.5V1037.9h-1.5ZM2445.4 1033h1.5V1037.1h-1.5ZM2446.9 1033h1.5V1044.9h-1.5ZM2454.2 1036h1.5V1040.4h-1.5ZM2461.6 1033.9h1.5V1036.7h-1.5ZM2463 1034.1h1.5V1037.6h-1.5ZM2464.5 1034.5h1.5V1036.6h-1.5ZM2474.8 1039.7h1.5V1044.9h-1.5ZM2476.2 1040.4h1.5V1046.4h-1.5ZM2477.7 1041.1h1.5V1050.4h-1.5ZM2479.2 1042h1.5V1051.1h-1.5ZM2480.6 1043.1h1.5V1046.9h-1.5ZM2486.5 1044.5h1.5V1054h-1.5ZM2498.2 1033.7h1.5V1037.9h-1.5ZM2501.2 1032.2h1.5V1034.3h-1.5ZM2507 1030.3h1.5V1034.8h-1.5ZM2508.5 1030.1h1.5V1038.7h-1.5ZM2509.9 1030.1h1.5V1032.8h-1.5ZM2511.4 1030.1h1.5V1032.2h-1.5ZM2514.3 1030.1h1.5V1044.3h-1.5ZM2518.7 1030.1h1.5V1033.4h-1.5ZM2521.7 1037.4h1.5V1040.7h-1.5ZM2524.6 1030.7h1.5V1036.7h-1.5ZM2529 1030.7h1.5V1041.4h-1.5ZM2533.4 1032.4h1.5V1040.7h-1.5ZM2534.9 1034.2h1.5V1038.8h-1.5ZM2539.3 1029.9h1.5V1034h-1.5ZM2542.2 1030h1.5V1035h-1.5ZM2545.1 1030.1h1.5V1039.6h-1.5ZM2548.1 1036.7h1.5V1046h-1.5ZM2552.5 1030.1h1.5V1032.2h-1.5ZM2553.9 1030.1h1.5V1038.2h-1.5ZM2555.4 1030.1h1.5V1032.5h-1.5ZM2556.9 1030.1h1.5V1035.8h-1.5ZM2562.7 1029.8h1.5V1035h-1.5ZM2564.2 1029.7h1.5V1038.8h-1.5ZM2568.6 1029.6h1.5V1038.5h-1.5ZM2570.1 1029.6h1.5V1040.7h-1.5ZM2573 1029.6h1.5V1034.8h-1.5ZM2589.1 1029.4h1.5V1031.7h-1.5ZM2597.9 1030.1h1.5V1033.3h-1.5ZM2599.4 1030.4h1.5V1039.3h-1.5ZM2602.3 1051.4h1.5V1056.1h-1.5ZM2609.7 1030.1h1.5V1037.1h-1.5ZM2612.6 1030.1h1.5V1034.2h-1.5ZM2621.4 1030.1h1.5V1036.9h-1.5ZM2624.3 1036.5h1.5V1051.5h-1.5ZM2628.7 1030.7h1.5V1042.9h-1.5ZM2630.2 1030.7h1.5V1039.7h-1.5ZM2631.7 1030.7h1.5V1034.6h-1.5ZM2633.1 1030.7h1.5V1033.4h-1.5ZM2634.6 1030.7h1.5V1034.9h-1.5ZM2641.9 1030.7h1.5V1041.7h-1.5ZM2643.4 1030.7h1.5V1034.6h-1.5ZM2644.8 1030.7h1.5V1051.1h-1.5ZM2649.2 1030.7h1.5V1033.3h-1.5ZM2650.7 1030.7h1.5V1036h-1.5ZM2653.6 1030.7h1.5V1046h-1.5ZM2662.4 1031.1h1.5V1034.8h-1.5ZM2666.8 1030.9h1.5V1034h-1.5ZM2672.7 1032.1h1.5V1034.3h-1.5ZM2674.2 1032.4h1.5V1043.7h-1.5ZM2677.1 1033h1.5V1035.9h-1.5ZM2678.6 1033.2h1.5V1036.6h-1.5ZM2681.5 1032.5h1.5V1038.3h-1.5ZM2683 1032h1.5V1043.7h-1.5ZM2684.4 1032h1.5V1034.8h-1.5ZM2687.4 1032h1.5V1042.2h-1.5ZM2688.8 1032h1.5V1037.8h-1.5ZM2690.3 1032h1.5V1034.5h-1.5ZM2694.7 1032h1.5V1046.5h-1.5ZM2700.6 1032h1.5V1041.8h-1.5ZM2703.5 1033.4h1.5V1046.9h-1.5ZM2709.4 1035.2h1.5V1039.4h-1.5ZM2710.8 1033.9h1.5V1048.7h-1.5ZM2712.3 1033h1.5V1050.7h-1.5ZM2716.7 1033.2h1.5V1039.5h-1.5ZM2718.2 1033.2h1.5V1037.5h-1.5ZM2722.6 1033.3h1.5V1037.9h-1.5ZM2725.5 1033.4h1.5V1041h-1.5ZM2728.4 1033.4h1.5V1040.6h-1.5ZM2731.4 1033.4h1.5V1041.8h-1.5ZM2737.2 1033.4h1.5V1035.9h-1.5ZM2738.7 1033.4h1.5V1038.5h-1.5ZM2747.5 1034.2h1.5V1038.4h-1.5ZM2750.4 1039.6h1.5V1043.7h-1.5ZM2753.4 1034h1.5V1043h-1.5ZM2754.8 1033.8h1.5V1037.5h-1.5ZM2756.3 1033.5h1.5V1045.4h-1.5ZM2759.2 1033h1.5V1037.5h-1.5ZM2762.2 1033.1h1.5V1039h-1.5ZM2763.6 1033.1h1.5V1036.7h-1.5ZM2768 1033.2h1.5V1039.1h-1.5ZM2770.9 1033.3h1.5V1043.3h-1.5ZM2772.4 1033.3h1.5V1050.1h-1.5ZM2786.8 1033.4h1.5V1046.1h-1.5ZM2789.8 1033.5h1.5V1037.9h-1.5ZM2791.2 1033.5h1.5V1037.2h-1.5ZM2794.2 1033.5h1.5V1040.3h-1.5ZM2795.6 1033.5h1.5V1042.3h-1.5ZM2800 1033.6h1.5V1043.3h-1.5ZM2801.5 1033.6h1.5V1037.7h-1.5ZM2803 1033.6h1.5V1036.1h-1.5ZM2808.8 1033.6h1.5V1041.1h-1.5ZM2811.7 1033.7h1.5V1046.1h-1.5ZM2813.2 1033.7h1.5V1037.1h-1.5ZM2814.7 1033.7h1.5V1043.4h-1.5ZM2822 1033.8h1.5V1042.7h-1.5ZM2839.4 1034.3h1.5V1042.1h-1.5ZM2840.9 1034.7h1.5V1040.2h-1.5ZM2845.3 1036h1.5V1038.3h-1.5ZM2846.7 1035.9h1.5V1038.3h-1.5ZM2848.2 1035.5h1.5V1052.3h-1.5ZM2849.6 1035.4h1.5V1043.7h-1.5ZM2854 1037.8h1.5V1045.5h-1.5ZM2858.4 1035.2h1.5V1045h-1.5ZM2859.9 1035.2h1.5V1037.7h-1.5ZM2861.4 1035.2h1.5V1037.8h-1.5ZM2865.8 1030.7h1.5V1035.6h-1.5ZM2870.2 1030.1h1.5V1036.3h-1.5ZM2877.5 1026.5h1.5V1033.9h-1.5ZM2881.9 1026.5h1.5V1035.6h-1.5ZM2883.4 1026.5h1.5V1029h-1.5ZM2887.8 1026.5h1.5V1030.5h-1.5ZM2892.2 1026.5h1.5V1034.1h-1.5ZM2899.5 1026.5h1.5V1029.5h-1.5Z" fill="#C6DBEF" shape-rendering="crispEdges"/>
<path d="M333.6 1014.4L335.1 1014.4L336.6 1014.8L338 1014.5L339.5 1014.8L340.9 1014.9L342.4 1015.2L343.8 1015L345.3 1015.1L346.8 1015.4L348.2 1015.6L349.7 1015.8L351.1 1015.5L352.6 1015.9L354 1015.8L355.5 1016L357 1016.1L358.3 1016.6L359.7 1017.3L361 1017.7L362.4 1018.2L363.7 1018.6L365.1 1019.3L366.6 1019.2L368.1 1019.5L369.6 1019.7L371.1 1019.7L372.6 1020.2L374.1 1020.2L375.6 1020.5L377.1 1020.4L378.7 1020.7L380 1021.4L381.4 1022.2L382.7 1022.9L384.1 1023.4L385.4 1023.6L386.8 1023.8L388.1 1023.8L389.5 1024.2L390.9 1023.9L392.2 1024.2L393.7 1024.1L395.2 1024.4L396.7 1024.2L398.2 1024.2L399.7 1024.1L401.3 1024.3L402.8 1024.1L404.3 1024.2L405.8 1024.4L407.3 1024.3L408.8 1024.1L410.3 1024.3L411.8 1024.3L413.3 1024.4L414.8 1024.3L416.3 1024.4L417.8 1024.4L419.3 1024.5L420.8 1024.6L422.4 1024.9L423.9 1024.9L425.4 1025.2L426.9 1025.3L428.4 1025L429.9 1025.1L431.4 1025.3L432.9 1025.6L434.3 1027L435.6 1028.8L437.2 1028.9L438.7 1028.5L440.3 1028.5L441.8 1028.6L443.4 1028.4L444.9 1028.2L446.5 1028.3L448 1028.2L449.5 1028.3L451 1028.3L452.5 1028.1L454 1028.6L455.5 1028.6L457 1028.5L458.5 1028.7L460 1028.6L461.4 1028.5L462.9 1028.6L464.4 1028.5L465.9 1028.6L467.4 1028.6L468.9 1028.6L470.4 1028.8L471.9 1028.7L473.4 1029L474.9 1028.8L476.8 1022L478.3 1022.3L479.7 1022.3L481.2 1022.1L482.6 1022.3L484.1 1022.4L485.5 1022.2L487 1022.5L488.4 1022.4L489.9 1022.6L491.3 1022.4L492.7 1022.7L494.2 1022.8L495.6 1022.6L497.1 1022.7L498.5 1022.6L500 1022.9L501.4 1022.7L502.9 1022.9L504.3 1023.1L505.8 1022.8L507.2 1022.9L508.7 1022.9L510.1 1022.8L511.6 1022.8L513 1023.1L514.4 1023L515.9 1023.1L517.3 1022.9L518.8 1023.1L520.2 1023.1L521.7 1023.4L523.1 1023.1L524.6 1023L526 1023.5L527.5 1023.3L528.9 1023.1L530.4 1023.5L531.8 1023.4L533.3 1023.4L534.6 1023.5L536 1023.9L537.3 1024.5L538.7 1024.8L540 1024L541.4 1023.6L542.7 1022.5L544.1 1022L545.6 1022.2L547.1 1022.1L548.5 1022.3L550 1022.3L551.5 1022L553 1022.1L554.5 1022.1L555.9 1022.2L557.4 1022.4L558.9 1022.6L560.4 1022.3L561.9 1022.4L563.3 1022.3L564.8 1022.5L566.3 1022.7L567.8 1022.8L569.3 1022.9L570.7 1022.5L572.2 1022.9L573.7 1022.6L575.2 1022.8L576.6 1022.9L578 1022.7L579.4 1023.2L580.7 1023L582.1 1023.4L583.5 1023.2L585 1023.5L586.5 1023.5L587.9 1023.2L589.4 1023L590.8 1023.1L592.3 1023.2L593.8 1022.9L595.2 1023.1L596.7 1023L598.1 1022.7L599.6 1022.9L601.1 1022.9L602.4 1023.5L603.8 1024.3L605.1 1024.8L606.5 1023.9L607.8 1023.5L609.2 1022.6L610.7 1022.5L612.1 1022.5L613.6 1022.7L615.1 1022.5L616.6 1022.5L618 1022.5L619.5 1022.6L621 1022.8L622.5 1022.7L623.9 1022.8L625.4 1022.4L626.9 1022.5L628.4 1022.6L629.8 1022.6L631.3 1022.4L632.8 1022.6L634.3 1022.6L635.7 1022.4L637.2 1022.7L638.7 1022.6L640.2 1022.9L641.6 1022.7L643.1 1022.6L644.6 1022.7L646.1 1022.8L647.5 1022.9L649 1022.7L650.5 1022.7L652 1022.6L653.4 1022.8L654.9 1022.7L656.4 1022.8L657.9 1023L659.3 1022.8L660.8 1023L662.3 1022.8L663.8 1022.7L665.2 1022.9L666.7 1022.6L668.2 1022.8L669.7 1022.7L671.1 1022.6L672.6 1022.9L674.1 1022.8L675.6 1022.8L677 1023L678.5 1022.7L680 1022.7L681.5 1022.7L682.9 1023L684.4 1022.8L685.9 1022.8L687.4 1022.9L688.8 1022.7L690.3 1023L691.8 1022.8L693.3 1022.9L694.7 1022.9L696.2 1022.8L697.7 1023L699.1 1023L700.6 1023L702.1 1023.2L703.5 1023.3L705 1023.3L706.5 1022.9L707.9 1023L709.4 1022.9L710.8 1023L712.3 1023.2L713.8 1023.4L715.2 1023.4L716.7 1023.2L718.2 1023.5L719.6 1023.2L721.1 1023.3L722.6 1023.5L724 1023.4L725.5 1023.6L727 1023.4L728.4 1023.4L729.9 1023.8L731.4 1023.8L732.8 1023.7L734.3 1023.5L735.7 1023.9L737.2 1023.7L738.7 1023.5L740.1 1023.6L741.6 1024L743.1 1023.8L744.5 1024L746 1023.8L747.5 1023.8L748.9 1023.9L750.4 1023.9L751.9 1024.2L753.3 1023.7L754.8 1023.8L756.3 1023.8L757.7 1023.8L759.2 1023.9L760.6 1024L762.1 1024L763.6 1024.3L765 1024.2L766.5 1024.2L767.9 1024.3L769.2 1024.4L770.6 1024.8L771.9 1024.9L773.3 1025.5L774.6 1025.6L776.1 1025.5L777.5 1025.8L779 1025.9L780.5 1025.8L781.9 1026L783.4 1025.8L784.8 1026.1L786.3 1026.2L787.7 1026.2L789.2 1026.2L790.6 1026.3L792.1 1026.5L793.5 1026.3L795 1026.7L796.4 1026.5L797.9 1026.7L799.3 1026.8L800.8 1026.7L802.2 1026.9L803.7 1026.8L805.2 1027.1L806.6 1027L808.1 1027.3L809.5 1027.4L811 1027.5L812.4 1027.5L813.9 1027.2L815.3 1027.5L816.7 1027.6L818 1027.8L819.4 1028L820.7 1028.1L822.1 1028.3L823.5 1037L824.8 1038.9L826.2 1040.4L827.5 1042.4L828.9 1042.8L830.2 1043.3L831.6 1044.2L833 1044.6L834.5 1044.3L836 1044.6L837.5 1044.4L839.1 1044.5L840.6 1044.6L842.1 1044.6L843.6 1044.8L845.2 1044.6L846.5 1044.1L847.9 1043.5L849.2 1043.2L850.7 1043.1L852.2 1043.5L853.6 1043.3L855.1 1043.5L856.6 1043.8L858 1043.9L859.5 1043.8L861 1044L862.4 1043.9L863.9 1044L865.4 1044.3L866.9 1044.3L868.3 1044.1L869.8 1044L871.3 1043.7L872.8 1043.7L873.6 1023.4L875 1022.4L876.3 1021.5L877.6 1021.8L878.9 1022.2L880.1 1022.3L880 1021.5L881.5 1021.6L883 1021.5L884.5 1021.5L886 1021.5L887.5 1021.9L889 1021.7L890.5 1021.6L892.1 1021.6L893.6 1021.8L895.1 1021.8L896.6 1021.8L898.1 1021.8L899.6 1021.7L901.1 1021.9L902.6 1021.9L904.1 1021.8L905.6 1022.1L907.1 1022L908.5 1024L909.8 1025.6L911.2 1026L912.5 1026.1L913.9 1026.7L915.4 1026.4L916.8 1026.7L918.3 1026.4L919.7 1026.4L921.2 1026.4L922.6 1026.2L924.1 1026.6L925.5 1026.5L927 1026.5L928.4 1026.2L929.9 1026.2L931.3 1026L932.8 1026L934.2 1026.1L935.6 1025.5L937 1025L938.3 1024.2L939.8 1024.2L941.2 1024.6L942.6 1024.6L944.1 1024.6L945.5 1024.7L947 1024.4L948.4 1024.9L949.8 1025L951.3 1024.7L952.7 1024.9L954.2 1025.2L955.6 1025.1L957 1025.2L958.5 1025L959.9 1025.1L961.4 1025.3L962.7 1024.7L964.1 1024.2L965.4 1023.4L966.9 1023.7L968.3 1023.5L969.8 1023.5L971.3 1023.4L972.7 1023.5L974.2 1023.3L975.6 1023.8L977.1 1023.6L978.5 1023.8L980 1023.7L981.5 1023.7L982.9 1023.5L984.4 1023.7L985.8 1023.6L987.3 1023.6L988.7 1023.7L990.2 1023.9L991.7 1024L993.1 1024L994.6 1024L996 1023.8L997.5 1024L998.9 1024.1L1000.4 1023.9L1001.8 1023.9L1003.3 1024L1004.8 1024.2L1006.1 1024.5L1007.5 1025.3L1008.9 1025.1L1010.4 1025.1L1011.8 1025.2L1013.3 1025.1L1014.7 1025.1L1016.2 1025.4L1017.6 1025.4L1019.1 1025.5L1020.6 1025.1L1022 1025.5L1023.5 1025.5L1024.9 1025.2L1026.4 1025.5L1027.8 1025.3L1029.3 1025.3L1030.7 1025.2L1032.2 1025.4L1033.6 1025.2L1035.1 1025.1L1036.5 1025.3L1038 1025.3L1039.4 1025.2L1040.9 1025.1L1042.3 1025.4L1043.8 1025.1L1045.3 1025.1L1046.7 1025.5L1048.2 1025.3L1049.5 1025.1L1050.9 1024.2L1052.2 1023.7L1053.6 1023.4L1055.1 1023.6L1056.6 1023.2L1058.1 1023.3L1059.5 1023.1L1061 1023.5L1062.5 1023.3L1064 1023.1L1065.5 1023.4L1067 1023.1L1068.5 1023L1070 1023.1L1071.5 1022.9L1073 1023L1074.5 1022.9L1076 1023.1L1077.5 1022.8L1078.9 1022.8L1080.4 1023.1L1081.9 1022.8L1083.4 1022.9L1084.8 1021.6L1086.1 1020.2L1087.5 1018.5L1088.8 1018.5L1090.2 1018.3L1091.6 1018.3L1092.9 1018.1L1094.3 1018L1095.6 1016.6L1097 1015.3L1098.3 1015.1L1099.7 1014.6L1101 1014.6L1102.4 1014.4L1103.9 1014.3L1105.3 1014.6L1106.8 1014.3L1108.2 1014.6L1109.7 1014.7L1111.1 1014.6L1112.6 1014.7L1114 1014.9L1115.5 1014.6L1116.9 1014.7L1118.4 1014.9L1119.8 1015.1L1121.3 1015L1122.7 1015.1L1124.2 1014.8L1125.6 1014.8L1127.1 1014.9L1128.5 1015.2L1130 1015L1131.4 1015.2L1132.9 1014.9L1134.3 1015.2L1135.8 1015.3L1137.2 1015.3M1143 1014.4L1144.5 1014.4L1146 1014.6L1147.5 1014.4L1149 1014.6L1150.5 1014.3L1151.9 1014.3L1153.4 1014.6L1154.9 1014.4L1156.4 1014.3L1157.9 1014.6L1159.3 1014.5L1160.8 1014.4L1162.3 1014.7L1163.8 1014.4L1165.3 1014.4L1166.7 1014.4L1168.2 1014.6L1169.7 1014.4L1171.2 1014.8L1172.7 1014.5L1174.1 1014.6L1175.6 1014.4L1177.1 1014.7L1178.6 1014.4L1180.1 1014.7L1181.5 1014.5L1183 1014.9L1184.5 1014.8L1186 1014.6L1187.5 1014.5L1188.9 1014.6L1190.4 1014.9L1191.9 1014.7L1193.4 1014.9L1194.9 1014.9L1196.4 1014.9L1197.9 1015.2L1199.4 1015.1L1200.9 1015L1202.3 1015.3L1203.8 1015.3L1205.3 1015.2L1206.8 1015.2L1208.3 1015.5L1209.8 1015.4L1211.3 1015.5L1212.8 1015.6L1214.3 1015.4L1215.8 1015.8L1217.3 1015.8L1218.8 1015.6L1220.2 1015.8L1221.7 1015.8L1223.2 1015.8L1224.7 1015.6L1226.2 1016L1227.7 1015.7L1229.1 1015.7L1230.6 1016.1L1232.1 1016L1233.6 1016.1L1235.1 1016.2L1236.5 1016.2L1238 1016.2L1239.5 1016.2L1241 1016L1242.5 1016.1L1243.9 1015.9L1245.4 1016.2L1246.9 1016.1L1248.4 1016L1249.8 1016.2L1251.3 1016.4L1252.8 1016.1L1254.3 1016.1L1255.8 1016.3L1257.2 1016.4L1258.7 1016.3L1260.2 1016.3L1261.7 1016.4L1263.2 1016.2L1264.6 1016.4L1266.1 1016.4L1267.6 1016.6L1269.1 1016.6L1270.6 1016.6L1272 1016.6L1273.5 1016.6L1275 1016.3L1276.5 1016.7L1278 1016.8L1279.4 1016.6L1280.9 1016.4L1282.4 1016.5L1283.9 1016.3L1285.4 1016.4L1286.8 1016.6L1288.3 1016.8L1289.8 1016.6L1291.2 1016.7L1292.7 1017L1294.1 1016.6L1295.6 1016.9L1297.1 1016.8L1298.5 1017.1L1300 1017L1301.4 1017.3L1302.9 1017.2L1304.4 1016.9L1305.8 1017.2L1307.2 1017.1L1308.5 1016.6L1309.9 1016.7L1311.2 1016.4L1312.6 1016.1L1314 1016.1L1315.5 1016.1L1317 1016.1L1318.5 1016.4L1320 1016.2L1321.5 1016.2L1323 1016.3L1324.5 1016.4L1326 1016.2L1327.5 1016.1L1329 1016.2L1330.5 1016.4L1332 1016.5L1333.5 1016.4L1335.1 1016.3L1336.6 1016.5L1338.1 1016.3L1339.6 1016.4L1341.1 1016.6L1342.5 1016.7L1344 1016.6L1345.5 1017L1347 1016.9L1348.4 1016.8L1349.9 1017L1351.4 1016.6L1352.8 1017.1L1354.3 1017.1L1355.8 1016.7L1357.2 1017.2L1358.7 1017.2L1360.2 1016.9L1361.6 1017L1363.1 1017.1L1364.6 1017.4L1366.1 1017.1L1367.5 1017.4L1369 1017.3L1370.5 1017.4L1371.9 1017.2L1373.4 1017.6L1374.9 1017.6L1376.3 1017.4L1377.7 1017.8L1379.1 1018.3L1380.4 1018.1L1381.8 1018.8L1383.1 1019.2L1384.5 1019.3L1385.9 1019.5L1387.3 1019.2L1388.8 1019.7L1390.2 1019.9L1391.7 1019.6L1393.1 1019.9L1394.5 1019.7L1396 1019.7L1397.4 1020L1398.8 1020.2L1400.3 1020.4L1401.7 1020.2L1403.1 1020.3L1404.6 1020.7L1406 1020.6L1407.4 1020.6L1408.9 1020.7L1410.2 1021.1L1411.6 1021.4L1413 1021.7L1414.3 1022.3L1415.7 1022.6L1417 1022.9L1418.5 1022.9L1419.9 1023L1421.4 1023L1422.9 1023.3L1424.3 1023.1L1425.8 1023.4L1427.2 1023.6L1428.7 1023.4L1430.2 1023.6L1431.6 1023.9L1433.1 1023.8L1434.5 1024L1436 1023.9L1437.5 1024.1L1439 1024.1L1440.5 1024.5L1442 1024.4L1443.5 1024.9L1445 1024.9L1446.6 1024.9L1448.1 1025.3L1449.6 1025.3L1451 1025.5L1452.4 1025.8L1453.8 1025.9L1455.2 1026.1L1456.6 1026L1458 1026.1M1846.9 1029.4L1848.3 1029.3L1849.7 1029.4L1851.2 1029.2L1852.6 1029.5L1854.1 1029.6L1855.5 1029.5L1857 1029.4L1858.4 1029.6L1859.8 1029.6L1861.3 1029.6L1862.7 1029.4L1864.2 1029.3L1865.6 1029.3L1867 1029.2L1868.5 1029.6L1869.9 1029.6L1871.4 1029.2L1872.8 1029.2L1874.2 1029.4L1875.6 1029.8L1877 1030.1L1878.3 1030.5L1879.7 1030.7L1881 1030.9L1882.4 1031L1883.7 1030.9L1885.1 1031.2L1886.5 1030.8L1887.8 1030.6L1889.2 1029.8L1890.5 1029.4L1892 1029.4L1893.4 1030L1894.9 1030.3L1896.3 1030.7L1897.8 1030.7L1899.6 1031.8L1901.4 1032.5L1902.7 1033.8L1904 1035.2L1905.4 1036.7L1907 1034.4L1908.6 1032L1910 1032.2L1911.3 1032.6L1912.7 1033.4L1914 1033.8L1915.5 1033.5L1916.9 1033.2L1918.4 1032.8L1919.8 1032.9L1921.3 1032.5L1922.7 1032.3L1924.2 1032.6L1925.6 1032.5L1927.1 1032.4L1928.5 1032.5L1930 1032.9L1931.5 1033L1933 1033.5L1934.5 1033.5L1936 1034.1L1937.5 1034.3L1939 1036.1L1940.6 1037.7L1942.1 1039.7L1943.6 1038.2L1945.1 1036.5L1946.6 1034.8L1948.4 1033.8L1950.2 1033L1950.5 1033.8M1968 1037.4L1969.5 1037.2L1971 1037.2L1972.4 1037.4L1973.9 1037.3L1975.4 1037.4L1976.9 1037.4L1978.3 1037.7L1979.8 1037.5L1981.3 1037.9L1982.7 1037.7L1984.3 1038L1985.9 1037.8L1987.5 1038.2L1989.1 1038.1L1990.9 1035.1L1992.7 1032.5L1994.1 1030.5L1995.4 1028.9L1996.9 1028.8L1998.3 1028.9L1999.8 1028.8L2001.2 1028.9L2002.7 1028.9L2004.2 1029.2L2005.6 1029.2L2007.1 1029.3L2008.6 1028.8L2010 1029L2011.5 1029.1L2012.9 1029.1L2014.4 1029.1L2015.9 1029.1L2017.3 1029L2018.8 1029L2020.2 1029.2L2021.7 1029.4L2023.2 1029.2L2024.6 1029.5L2026.1 1029.3L2027.5 1029.5L2029 1029.2L2030.5 1029.5L2031.9 1029.2L2033.4 1029.4L2035.2 1030.3L2037 1030.7L2038.4 1030.7L2039.7 1030.2L2041.1 1030.1L2042.4 1030.1L2043.8 1030.9L2045.1 1031.4L2046.5 1031.9L2047.8 1032.5L2049.2 1032L2050.6 1031L2051.9 1030.5L2053.3 1029.8L2054.7 1029.9L2056.1 1029.8L2057.5 1030.1L2059 1030.4L2060.4 1030.2L2061.8 1030.4L2063.2 1030.6L2064.6 1030.6L2066.1 1030.5L2067.5 1030.8L2068.9 1031L2070.3 1031L2071.7 1030.9L2073.2 1031.2L2074.6 1031L2076.1 1031.4L2077.5 1031.1L2079 1031.1L2080.4 1031.4L2081.8 1031.4L2083.3 1031.4L2084.7 1031.2L2086.2 1031.5L2087.6 1031.4L2089.1 1031L2090.5 1031L2092 1031.3L2093.4 1031.3L2094.9 1031.4L2096.3 1031.2L2097.8 1031.4L2099.2 1031.1L2100.7 1031.3L2102.1 1031.4L2103.5 1031L2105 1031.3L2106.4 1031.1L2107.9 1031.5L2109.3 1031.2L2110.8 1031.2L2112.3 1031.3L2113.9 1030.9L2115.4 1030.8L2116.9 1030.9L2118.4 1030.7L2119.9 1031.1L2121.4 1031.2L2122.9 1031.3L2124.4 1031.6L2125.9 1031.9L2127.4 1032L2128.9 1031.9L2130.4 1031.7L2131.9 1031.9L2133.4 1031.9L2134.9 1031.9L2136.5 1031.9L2138 1032L2139.5 1032.1L2141 1031.8L2142.5 1032.1L2144 1031.9L2145.5 1032L2147.3 1035.2L2149.1 1033.1L2150.9 1031.2L2152.4 1031.2L2153.9 1031.7L2155.4 1031.4L2156.9 1031.5L2158.5 1032L2160 1032L2161.3 1035.1L2162.7 1038.5L2164.5 1028.9L2165.9 1028.7L2167.4 1028.7L2168.9 1028.8L2170.3 1028.8L2171.8 1028.9L2173.2 1029L2174.7 1028.5L2176.1 1028.5L2177.6 1028.5L2179.1 1028.9L2180.5 1028.5L2182 1028.6L2183.4 1028.4L2184.9 1028.8L2186.3 1028.5L2187.8 1028.6L2189.2 1028.5L2190.7 1028.5L2192.2 1028.3L2193.7 1028.7L2195.2 1028.5L2196.7 1028.6L2198.2 1028.7L2199.7 1028.5L2200 1028.5L2201.4 1028.6L2202.9 1028.4L2204.3 1028.5L2205.7 1028.5L2207.2 1028.7L2208.6 1028.5L2210 1028.5L2211.5 1028.6L2212.9 1028.7L2214.3 1028.5L2215.8 1028.3L2217.2 1028.3L2218.6 1028.6L2220.1 1028.8L2221.5 1028.6L2222.9 1028.5L2224.4 1028.7L2225.8 1028.5L2227.2 1028.6L2228.7 1028.3L2230.1 1028.5M2255.8 1033L2256.1 1028.9L2257.5 1028.9L2259 1029L2260.5 1028.9L2262 1029.2L2263.5 1029.3L2264.9 1029.1L2266.4 1029.1L2267.9 1029.1L2269.4 1029.1L2270.9 1029.6L2272.3 1029.4L2273.8 1029.6L2275.2 1029.4L2276.7 1029.8L2278.1 1029.7L2279.6 1030L2281 1029.9L2282.5 1030L2283.9 1029.9L2285.4 1030.3L2286.8 1030.1L2288.6 1030.7L2289.5 1044.2L2290.4 1030.7L2292.2 1029.8L2293.7 1029.9L2295.1 1029.7L2296.6 1030L2298.1 1029.7L2299.5 1029.7L2301 1029.8L2302.4 1029.9L2303.9 1030L2305.3 1030.1L2306.8 1030L2308.3 1030L2309.7 1030L2311.2 1029.8L2312.6 1030.1L2314.1 1029.7L2315.6 1030.1L2317 1030L2318.5 1030.2L2319.9 1030.1L2321.4 1030.2L2322.8 1030.3L2324.3 1030.2L2325.8 1030.1L2327.2 1029.9L2328.7 1029.9L2330.1 1029.9L2331.6 1029.9L2333.1 1030.3L2334.5 1030.2L2336 1030.1L2337.4 1030.1L2339.6 1030.7L2341 1060.5L2342.5 1030.7L2343.9 1030.7L2345.4 1030.5L2346.8 1030.8L2348.3 1030.7L2349.7 1030.8L2351.2 1031L2352.6 1031L2354.1 1031.2L2355.5 1031.1L2357 1031.3L2358.4 1031.3L2359.9 1031.4L2361.3 1030.9L2362.7 1031.2L2364.2 1031.1L2365.7 1031.5L2367.2 1031.1L2368.7 1031.6L2370.2 1031.6L2371.7 1031.7L2373.2 1031.4L2374.7 1031.5L2376.2 1031.8L2377.6 1031.5L2379.1 1031.9L2380.6 1031.9L2382.1 1031.6L2383.6 1032L2385.1 1031.9L2386.6 1032.1L2388.1 1032L2389.5 1032.2L2391 1032L2392.5 1031.9L2394 1032.1L2395.5 1031.9L2396.9 1032.1L2398.4 1031.9L2399.9 1031.9L2401.4 1032L2402.9 1032L2404.3 1032.2L2405.8 1032L2407.3 1031.9L2408.8 1031.9L2410.3 1032.2L2411.7 1032L2413.2 1031.8L2414.7 1031.9L2416.2 1031.7L2417.7 1032.1L2419.1 1032L2420.6 1032L2422.4 1032.8L2424.2 1033.8L2426 1033.3L2427.8 1032.5L2429.3 1032.3L2430.7 1032.5L2432.1 1032.8L2433.5 1032.5L2435 1032.9L2436.4 1032.9L2437.8 1032.6L2439.2 1032.9L2440.6 1032.8L2442.1 1033L2443.5 1032.9L2444.9 1033.1L2446.3 1033.1L2447.7 1033L2449.1 1034L2450.5 1035L2451.8 1035.9L2453.2 1036.7L2454.5 1035.8L2455.9 1034.8L2457.2 1034.2L2458.6 1033.4L2459.9 1033.5L2461.3 1033.7L2462.7 1033.9L2464 1034.3L2465.5 1035.1L2466.9 1035.7L2468.4 1036.6L2469.8 1037L2471.2 1037.9L2472.7 1038.7L2474.1 1039.4L2475.6 1040L2477 1041L2478.5 1041.5L2480.3 1043.1L2482.1 1044.2L2483.5 1044.5L2484.8 1044.6L2486.2 1044.7L2487.5 1044.6L2488.9 1043.9L2490.2 1043.4L2491.6 1043.1L2492.9 1042.4L2494.3 1038.9L2495.7 1035.2L2497.2 1034.3L2498.7 1033.3L2500.2 1032.5L2501.6 1032L2503.1 1031.4L2504.5 1031.1L2506 1030.8L2507.4 1030.1L2508.8 1030.2L2510.2 1029.9L2511.6 1030.2L2513 1030.3L2514.4 1030.2L2515.9 1030.3L2517.3 1030.4L2518.7 1030.3L2520.1 1030.1L2521.5 1030.7L2522.8 1084L2524.1 1030.7L2525.5 1030.8L2526.9 1030.9L2528.4 1030.6L2529.8 1030.6L2531.3 1030.4L2532.7 1030.7L2534.5 1035.2L2536.3 1029.8L2537.7 1030.1L2539.2 1029.7L2540.6 1029.7L2542 1030L2543.4 1030.2L2544.8 1030L2546.2 1030L2547.6 1030.1L2549.4 1053.3L2550.8 1030.1L2552.4 1030.2L2553.9 1029.9L2555.5 1029.8L2557 1029.9L2558.6 1029.8L2560.1 1029.7L2561.7 1029.8L2563.2 1029.9L2564.7 1029.6L2566.2 1029.8L2567.7 1029.9L2569.2 1029.4L2570.7 1029.8L2572.2 1029.3L2573.7 1029.5L2575.2 1029.7L2576.7 1029.4L2578.2 1029.4L2579.7 1029.4L2581.2 1029.3L2582.6 1029.3L2584.1 1029.5L2585.5 1029.4L2587 1029.5L2588.4 1029.5L2589.9 1029.2L2591.3 1029.3L2592.8 1029.4L2594.2 1029.4L2592.7 1029.3L2591.2 1029.3L2589.8 1029.4L2588.3 1029.3L2586.8 1029.5L2585.3 1029.4L2583.8 1029.4L2582.3 1029.5L2580.8 1029.8L2579.3 1029.8L2577.9 1029.7L2576.4 1029.8L2574.9 1029.9L2573.4 1029.7L2571.9 1030.1L2570.4 1030.1L2568.9 1030.2L2567.4 1030.1L2566 1030.1L2564.5 1030.2L2563 1030.2L2561.5 1030L2560 1030.1L2561.4 1030.1L2562.9 1030.3L2564.3 1030.3L2565.8 1030.2L2567.2 1030L2568.7 1030.1L2570.1 1029.8L2571.6 1030L2573 1030L2574.5 1029.8L2575.9 1030.1L2577.4 1029.7L2578.8 1029.9L2580.3 1029.8L2581.7 1029.9L2583.1 1030.2L2584.6 1030.1L2586 1029.9L2587.5 1030L2588.9 1029.7L2590.4 1029.7L2591.8 1029.8L2593.3 1029.9L2594.7 1030L2596.2 1029.8L2597.7 1030.1L2599.2 1030.6L2600.7 1030.7L2602 1058.7L2603.4 1030.1L2604.9 1030.2L2606.4 1030.3L2607.9 1030.3L2609.4 1030.2L2610.9 1030.3L2612.4 1030.1L2613.9 1030.3L2615.5 1030L2617 1030.3L2618.5 1030.2L2620 1029.9L2621.5 1030.1L2623.7 1038.8L2624.8 1034.5L2626 1030.7L2627.4 1030.6L2628.9 1030.8L2630.3 1030.7L2631.8 1030.8L2633.2 1030.7L2634.6 1030.5L2636.1 1030.4L2637.5 1030.8L2638.9 1030.8L2640.4 1030.7L2641.8 1030.5L2643.3 1030.6L2644.7 1030.6L2646.1 1030.9L2647.6 1030.6L2649 1030.8L2650.5 1030.7L2651.9 1030.5L2653.3 1030.6L2654.8 1030.5L2656.2 1030.5L2657.6 1030.7L2659 1032.7L2660.4 1034.3L2661.7 1032.1L2663.1 1030.1L2664.6 1030.7L2666 1030.7L2667.5 1031.2L2669 1031.2L2670.5 1031.4L2672 1031.7L2673.4 1032.4L2674.9 1032.7L2676.4 1032.7L2677.9 1033.1L2679.3 1033.4L2681.2 1032.6L2683 1032L2684.5 1031.8L2686 1032.1L2687.5 1031.8L2689 1032.2L2690.5 1031.9L2692 1031.9L2693.5 1032L2695 1031.9L2696.5 1032L2698 1032.2L2699.5 1031.8L2701 1032L2702.5 1032.9L2703.9 1033.4L2705.4 1034.5L2706.8 1035.2L2708.3 1036.1L2710.1 1034.7L2711.9 1033L2713.3 1033.2L2714.8 1033L2716.2 1033.1L2717.7 1033L2719.1 1033.4L2720.6 1033.3L2722 1033.2L2723.5 1033.4L2724.9 1033.1L2726.4 1033.4L2727.8 1033.3L2729.3 1033.3L2730.7 1033.6L2732.2 1033.3L2733.6 1033.4L2735 1033.3L2736.5 1033.3L2737.9 1033.3L2739.4 1033.6L2740.8 1033.4L2742.3 1033.6L2743.7 1033.6L2745.2 1033.9L2746.6 1034.3L2748.1 1034.3L2749.5 1043.3L2751.7 1034.3L2753.1 1034.2L2754.6 1033.7L2756 1033.5L2757.5 1033.1L2758.9 1033L2760.3 1033.3L2761.8 1033.3L2763.2 1033L2764.6 1033.2L2766 1033.1L2767.4 1033.4L2768.9 1033L2770.3 1033.1L2771.7 1033.4L2773.1 1033.6L2774.5 1033.4M2784.9 1033.4L2786.3 1033.7L2787.8 1033.3L2789.2 1033.5L2790.7 1033.7L2792.1 1033.4L2793.6 1033.5L2795 1033.5L2796.5 1033.3L2798 1033.5L2799.4 1033.4L2800.9 1033.7L2802.3 1033.6L2803.8 1033.4L2805.2 1033.7L2806.7 1033.7L2808.1 1033.7L2809.6 1033.4L2811 1033.5L2812.5 1033.5L2813.9 1033.8L2815.4 1033.9L2816.8 1034L2818.3 1034L2819.8 1033.8M2841.8 1034.3L2843.1 1034.8L2844.4 1035.4L2845.7 1036.1L2847.5 1035.9L2849.3 1035.2L2850.8 1036.3L2852.3 1036.8L2853.9 1037.9L2855.4 1037.2L2856.9 1036.1L2858.4 1035.2L2860.2 1035.3L2862 1035.2L2863.8 1033L2865.6 1030.7L2867.1 1030.6L2868.6 1030.2L2870.1 1030.1L2871.9 1028.5L2873.7 1026.5L2875.2 1026.4L2876.7 1026.4L2878.2 1026.5L2879.6 1026.4L2881.1 1026.7L2882.6 1026.7L2884 1026.3L2885.5 1026.4L2887 1026.6L2888.5 1026.6L2889.9 1026.6L2891.4 1026.7L2892.9 1026.6L2894.3 1026.3L2895.8 1026.4L2897.3 1026.8L2898.8 1026.4L2900.2 1026.5" fill="none" stroke="#00688F" stroke-width="3.3" stroke-linejoin="round" stroke-linecap="round" shape-rendering="crispEdges"/>
<path d="M333.6 1014.4h0M335.1 1014.4h0M336.6 1014.8h0M338 1014.5h0M339.5 1014.8h0M340.9 1014.9h0M342.4 1015.2h0M343.8 1015h0M345.3 1015.1h0M346.8 1015.4h0M348.2 1015.6h0M349.7 1015.8h0M351.1 1015.5h0M352.6 1015.9h0M354 1015.8h0M355.5 1016h0M357 1016.1h0M358.3 1016.6h0M359.7 1017.3h0M361 1017.7h0M362.4 1018.2h0M363.7 1018.6h0M365.1 1019.3h0M366.6 1019.2h0M368.1 1019.5h0M369.6 1019.7h0M371.1 1019.7h0M372.6 1020.2h0M374.1 1020.2h0M375.6 1020.5h0M377.1 1020.4h0M378.7 1020.7h0M380 1021.4h0M381.4 1022.2h0M382.7 1022.9h0M384.1 1023.4h0M385.4 1023.6h0M386.8 1023.8h0M388.1 1023.8h0M389.5 1024.2h0M390.9 1023.9h0M392.2 1024.2h0M393.7 1024.1h0M395.2 1024.4h0M396.7 1024.2h0M398.2 1024.2h0M399.7 1024.1h0M401.3 1024.3h0M402.8 1024.1h0M404.3 1024.2h0M405.8 1024.4h0M407.3 1024.3h0M408.8 1024.1h0M410.3 1024.3h0M411.8 1024.3h0M413.3 1024.4h0M414.8 1024.3h0M416.3 1024.4h0M417.8 1024.4h0M419.3 1024.5h0M420.8 1024.6h0M422.4 1024.9h0M423.9 1024.9h0M425.4 1025.2h0M426.9 1025.3h0M428.4 1025h0M429.9 1025.1h0M431.4 1025.3h0M432.9 1025.6h0M434.3 1027h0M435.6 1028.8h0M437.2 1028.9h0M438.7 1028.5h0M440.3 1028.5h0M441.8 1028.6h0M443.4 1028.4h0M444.9 1028.2h0M446.5 1028.3h0M448 1028.2h0M449.5 1028.3h0M451 1028.3h0M452.5 1028.1h0M454 1028.6h0M455.5 1028.6h0M457 1028.5h0M458.5 1028.7h0M460 1028.6h0M461.4 1028.5h0M462.9 1028.6h0M464.4 1028.5h0M465.9 1028.6h0M467.4 1028.6h0M468.9 1028.6h0M470.4 1028.8h0M471.9 1028.7h0M473.4 1029h0M474.9 1028.8h0M476.8 1022h0M478.3 1022.3h0M479.7 1022.3h0M481.2 1022.1h0M482.6 1022.3h0M484.1 1022.4h0M485.5 1022.2h0M487 1022.5h0M488.4 1022.4h0M489.9 1022.6h0M491.3 1022.4h0M492.7 1022.7h0M494.2 1022.8h0M495.6 1022.6h0M497.1 1022.7h0M498.5 1022.6h0M500 1022.9h0M501.4 1022.7h0M502.9 1022.9h0M504.3 1023.1h0M505.8 1022.8h0M507.2 1022.9h0M508.7 1022.9h0M510.1 1022.8h0M511.6 1022.8h0M513 1023.1h0M514.4 1023h0M515.9 1023.1h0M517.3 1022.9h0M518.8 1023.1h0M520.2 1023.1h0M521.7 1023.4h0M523.1 1023.1h0M524.6 1023h0M526 1023.5h0M527.5 1023.3h0M528.9 1023.1h0M530.4 1023.5h0M531.8 1023.4h0M533.3 1023.4h0M534.6 1023.5h0M536 1023.9h0M537.3 1024.5h0M538.7 1024.8h0M540 1024h0M541.4 1023.6h0M542.7 1022.5h0M544.1 1022h0M545.6 1022.2h0M547.1 1022.1h0M548.5 1022.3h0M550 1022.3h0M551.5 1022h0M553 1022.1h0M554.5 1022.1h0M555.9 1022.2h0M557.4 1022.4h0M558.9 1022.6h0M560.4 1022.3h0M561.9 1022.4h0M563.3 1022.3h0M564.8 1022.5h0M566.3 1022.7h0M567.8 1022.8h0M569.3 1022.9h0M570.7 1022.5h0M572.2 1022.9h0M573.7 1022.6h0M575.2 1022.8h0M576.6 1022.9h0M578 1022.7h0M579.4 1023.2h0M580.7 1023h0M582.1 1023.4h0M583.5 1023.2h0M585 1023.5h0M586.5 1023.5h0M587.9 1023.2h0M589.4 1023h0M590.8 1023.1h0M592.3 1023.2h0M593.8 1022.9h0M595.2 1023.1h0M596.7 1023h0M598.1 1022.7h0M599.6 1022.9h0M601.1 1022.9h0M602.4 1023.5h0M603.8 1024.3h0M605.1 1024.8h0M606.5 1023.9h0M607.8 1023.5h0M609.2 1022.6h0M610.7 1022.5h0M612.1 1022.5h0M613.6 1022.7h0M615.1 1022.5h0M616.6 1022.5h0M618 1022.5h0M619.5 1022.6h0M621 1022.8h0M622.5 1022.7h0M623.9 1022.8h0M625.4 1022.4h0M626.9 1022.5h0M628.4 1022.6h0M629.8 1022.6h0M631.3 1022.4h0M632.8 1022.6h0M634.3 1022.6h0M635.7 1022.4h0M637.2 1022.7h0M638.7 1022.6h0M640.2 1022.9h0M641.6 1022.7h0M643.1 1022.6h0M644.6 1022.7h0M646.1 1022.8h0M647.5 1022.9h0M649 1022.7h0M650.5 1022.7h0M652 1022.6h0M653.4 1022.8h0M654.9 1022.7h0M656.4 1022.8h0M657.9 1023h0M659.3 1022.8h0M660.8 1023h0M662.3 1022.8h0M663.8 1022.7h0M665.2 1022.9h0M666.7 1022.6h0M668.2 1022.8h0M669.7 1022.7h0M671.1 1022.6h0M672.6 1022.9h0M674.1 1022.8h0M675.6 1022.8h0M677 1023h0M678.5 1022.7h0M680 1022.7h0M681.5 1022.7h0M682.9 1023h0M684.4 1022.8h0M685.9 1022.8h0M687.4 1022.9h0M688.8 1022.7h0M690.3 1023h0M691.8 1022.8h0M693.3 1022.9h0M694.7 1022.9h0M696.2 1022.8h0M697.7 1023h0M699.1 1023h0M700.6 1023h0M702.1 1023.2h0M703.5 1023.3h0M705 1023.3h0M706.5 1022.9h0M707.9 1023h0M709.4 1022.9h0M710.8 1023h0M712.3 1023.2h0M713.8 1023.4h0M715.2 1023.4h0M716.7 1023.2h0M718.2 1023.5h0M719.6 1023.2h0M721.1 1023.3h0M722.6 1023.5h0M724 1023.4h0M725.5 1023.6h0M727 1023.4h0M728.4 1023.4h0M729.9 1023.8h0M731.4 1023.8h0M732.8 1023.7h0M734.3 1023.5h0M735.7 1023.9h0M737.2 1023.7h0M738.7 1023.5h0M740.1 1023.6h0M741.6 1024h0M743.1 1023.8h0M744.5 1024h0M746 1023.8h0M747.5 1023.8h0M748.9 1023.9h0M750.4 1023.9h0M751.9 1024.2h0M753.3 1023.7h0M754.8 1023.8h0M756.3 1023.8h0M757.7 1023.8h0M759.2 1023.9h0M760.6 1024h0M762.1 1024h0M763.6 1024.3h0M765 1024.2h0M766.5 1024.2h0M767.9 1024.3h0M769.2 1024.4h0M770.6 1024.8h0M771.9 1024.9h0M773.3 1025.5h0M774.6 1025.6h0M776.1 1025.5h0M777.5 1025.8h0M779 1025.9h0M780.5 1025.8h0M781.9 1026h0M783.4 1025.8h0M784.8 1026.1h0M786.3 1026.2h0M787.7 1026.2h0M789.2 1026.2h0M790.6 1026.3h0M792.1 1026.5h0M793.5 1026.3h0M795 1026.7h0M796.4 1026.5h0M797.9 1026.7h0M799.3 1026.8h0M800.8 1026.7h0M802.2 1026.9h0M803.7 1026.8h0M805.2 1027.1h0M806.6 1027h0M808.1 1027.3h0M809.5 1027.4h0M811 1027.5h0M812.4 1027.5h0M813.9 1027.2h0M815.3 1027.5h0M816.7 1027.6h0M818 1027.8h0M819.4 1028h0M820.7 1028.1h0M822.1 1028.3h0M823.5 1037h0M824.8 1038.9h0M826.2 1040.4h0M827.5 1042.4h0M828.9 1042.8h0M830.2 1043.3h0M831.6 1044.2h0M833 1044.6h0M834.5 1044.3h0M836 1044.6h0M837.5 1044.4h0M839.1 1044.5h0M840.6 1044.6h0M842.1 1044.6h0M843.6 1044.8h0M845.2 1044.6h0M846.5 1044.1h0M847.9 1043.5h0M849.2 1043.2h0M850.7 1043.1h0M852.2 1043.5h0M853.6 1043.3h0M855.1 1043.5h0M856.6 1043.8h0M858 1043.9h0M859.5 1043.8h0M861 1044h0M862.4 1043.9h0M863.9 1044h0M865.4 1044.3h0M866.9 1044.3h0M868.3 1044.1h0M869.8 1044h0M871.3 1043.7h0M872.8 1043.7h0M873.6 1023.4h0M875 1022.4h0M876.3 1021.5h0M877.6 1021.8h0M878.9 1022.2h0M880.1 1022.3h0M880 1021.5h0M881.5 1021.6h0M883 1021.5h0M884.5 1021.5h0M886 1021.5h0M887.5 1021.9h0M889 1021.7h0M890.5 1021.6h0M892.1 1021.6h0M893.6 1021.8h0M895.1 1021.8h0M896.6 1021.8h0M898.1 1021.8h0M899.6 1021.7h0M901.1 1021.9h0M902.6 1021.9h0M904.1 1021.8h0M905.6 1022.1h0M907.1 1022h0M908.5 1024h0M909.8 1025.6h0M911.2 1026h0M912.5 1026.1h0M913.9 1026.7h0M915.4 1026.4h0M916.8 1026.7h0M918.3 1026.4h0M919.7 1026.4h0M921.2 1026.4h0M922.6 1026.2h0M924.1 1026.6h0M925.5 1026.5h0M927 1026.5h0M928.4 1026.2h0M929.9 1026.2h0M931.3 1026h0M932.8 1026h0M934.2 1026.1h0M935.6 1025.5h0M937 1025h0M938.3 1024.2h0M939.8 1024.2h0M941.2 1024.6h0M942.6 1024.6h0M944.1 1024.6h0M945.5 1024.7h0M947 1024.4h0M948.4 1024.9h0M949.8 1025h0M951.3 1024.7h0M952.7 1024.9h0M954.2 1025.2h0M955.6 1025.1h0M957 1025.2h0M958.5 1025h0M959.9 1025.1h0M961.4 1025.3h0M962.7 1024.7h0M964.1 1024.2h0M965.4 1023.4h0M966.9 1023.7h0M968.3 1023.5h0M969.8 1023.5h0M971.3 1023.4h0M972.7 1023.5h0M974.2 1023.3h0M975.6 1023.8h0M977.1 1023.6h0M978.5 1023.8h0M980 1023.7h0M981.5 1023.7h0M982.9 1023.5h0M984.4 1023.7h0M985.8 1023.6h0M987.3 1023.6h0M988.7 1023.7h0M990.2 1023.9h0M991.7 1024h0M993.1 1024h0M994.6 1024h0M996 1023.8h0M997.5 1024h0M998.9 1024.1h0M1000.4 1023.9h0M1001.8 1023.9h0M1003.3 1024h0M1004.8 1024.2h0M1006.1 1024.5h0M1007.5 1025.3h0M1008.9 1025.1h0M1010.4 1025.1h0M1011.8 1025.2h0M1013.3 1025.1h0M1014.7 1025.1h0M1016.2 1025.4h0M1017.6 1025.4h0M1019.1 1025.5h0M1020.6 1025.1h0M1022 1025.5h0M1023.5 1025.5h0M1024.9 1025.2h0M1026.4 1025.5h0M1027.8 1025.3h0M1029.3 1025.3h0M1030.7 1025.2h0M1032.2 1025.4h0M1033.6 1025.2h0M1035.1 1025.1h0M1036.5 1025.3h0M1038 1025.3h0M1039.4 1025.2h0M1040.9 1025.1h0M1042.3 1025.4h0M1043.8 1025.1h0M1045.3 1025.1h0M1046.7 1025.5h0M1048.2 1025.3h0M1049.5 1025.1h0M1050.9 1024.2h0M1052.2 1023.7h0M1053.6 1023.4h0M1055.1 1023.6h0M1056.6 1023.2h0M1058.1 1023.3h0M1059.5 1023.1h0M1061 1023.5h0M1062.5 1023.3h0M1064 1023.1h0M1065.5 1023.4h0M1067 1023.1h0M1068.5 1023h0M1070 1023.1h0M1071.5 1022.9h0M1073 1023h0M1074.5 1022.9h0M1076 1023.1h0M1077.5 1022.8h0M1078.9 1022.8h0M1080.4 1023.1h0M1081.9 1022.8h0M1083.4 1022.9h0M1084.8 1021.6h0M1086.1 1020.2h0M1087.5 1018.5h0M1088.8 1018.5h0M1090.2 1018.3h0M1091.6 1018.3h0M1092.9 1018.1h0M1094.3 1018h0M1095.6 1016.6h0M1097 1015.3h0M1098.3 1015.1h0M1099.7 1014.6h0M1101 1014.6h0M1102.4 1014.4h0M1103.9 1014.3h0M1105.3 1014.6h0M1106.8 1014.3h0M1108.2 1014.6h0M1109.7 1014.7h0M1111.1 1014.6h0M1112.6 1014.7h0M1114 1014.9h0M1115.5 1014.6h0M1116.9 1014.7h0M1118.4 1014.9h0M1119.8 1015.1h0M1121.3 1015h0M1122.7 1015.1h0M1124.2 1014.8h0M1125.6 1014.8h0M1127.1 1014.9h0M1128.5 1015.2h0M1130 1015h0M1131.4 1015.2h0M1132.9 1014.9h0M1134.3 1015.2h0M1135.8 1015.3h0M1137.2 1015.3h0M1143 1014.4h0M1144.5 1014.4h0M1146 1014.6h0M1147.5 1014.4h0M1149 1014.6h0M1150.5 1014.3h0M1151.9 1014.3h0M1153.4 1014.6h0M1154.9 1014.4h0M1156.4 1014.3h0M1157.9 1014.6h0M1159.3 1014.5h0M1160.8 1014.4h0M1162.3 1014.7h0M1163.8 1014.4h0M1165.3 1014.4h0M1166.7 1014.4h0M1168.2 1014.6h0M1169.7 1014.4h0M1171.2 1014.8h0M1172.7 1014.5h0M1174.1 1014.6h0M1175.6 1014.4h0M1177.1 1014.7h0M1178.6 1014.4h0M1180.1 1014.7h0M1181.5 1014.5h0M1183 1014.9h0M1184.5 1014.8h0M1186 1014.6h0M1187.5 1014.5h0M1188.9 1014.6h0M1190.4 1014.9h0M1191.9 1014.7h0M1193.4 1014.9h0M1194.9 1014.9h0M1196.4 1014.9h0M1197.9 1015.2h0M1199.4 1015.1h0M1200.9 1015h0M1202.3 1015.3h0M1203.8 1015.3h0M1205.3 1015.2h0M1206.8 1015.2h0M1208.3 1015.5h0M1209.8 1015.4h0M1211.3 1015.5h0M1212.8 1015.6h0M1214.3 1015.4h0M1215.8 1015.8h0M1217.3 1015.8h0M1218.8 1015.6h0M1220.2 1015.8h0M1221.7 1015.8h0M1223.2 1015.8h0M1224.7 1015.6h0M1226.2 1016h0M1227.7 1015.7h0M1229.1 1015.7h0M1230.6 1016.1h0M1232.1 1016h0M1233.6 1016.1h0M1235.1 1016.2h0M1236.5 1016.2h0M1238 1016.2h0M1239.5 1016.2h0M1241 1016h0M1242.5 1016.1h0M1243.9 1015.9h0M1245.4 1016.2h0M1246.9 1016.1h0M1248.4 1016h0M1249.8 1016.2h0M1251.3 1016.4h0M1252.8 1016.1h0M1254.3 1016.1h0M1255.8 1016.3h0M1257.2 1016.4h0M1258.7 1016.3h0M1260.2 1016.3h0M1261.7 1016.4h0M1263.2 1016.2h0M1264.6 1016.4h0M1266.1 1016.4h0M1267.6 1016.6h0M1269.1 1016.6h0M1270.6 1016.6h0M1272 1016.6h0M1273.5 1016.6h0M1275 1016.3h0M1276.5 1016.7h0M1278 1016.8h0M1279.4 1016.6h0M1280.9 1016.4h0M1282.4 1016.5h0M1283.9 1016.3h0M1285.4 1016.4h0M1286.8 1016.6h0M1288.3 1016.8h0M1289.8 1016.6h0M1291.2 1016.7h0M1292.7 1017h0M1294.1 1016.6h0M1295.6 1016.9h0M1297.1 1016.8h0M1298.5 1017.1h0M1300 1017h0M1301.4 1017.3h0M1302.9 1017.2h0M1304.4 1016.9h0M1305.8 1017.2h0M1307.2 1017.1h0M1308.5 1016.6h0M1309.9 1016.7h0M1311.2 1016.4h0M1312.6 1016.1h0M1314 1016.1h0M1315.5 1016.1h0M1317 1016.1h0M1318.5 1016.4h0M1320 1016.2h0M1321.5 1016.2h0M1323 1016.3h0M1324.5 1016.4h0M1326 1016.2h0M1327.5 1016.1h0M1329 1016.2h0M1330.5 1016.4h0M1332 1016.5h0M1333.5 1016.4h0M1335.1 1016.3h0M1336.6 1016.5h0M1338.1 1016.3h0M1339.6 1016.4h0M1341.1 1016.6h0M1342.5 1016.7h0M1344 1016.6h0M1345.5 1017h0M1347 1016.9h0M1348.4 1016.8h0M1349.9 1017h0M1351.4 1016.6h0M1352.8 1017.1h0M1354.3 1017.1h0M1355.8 1016.7h0M1357.2 1017.2h0M1358.7 1017.2h0M1360.2 1016.9h0M1361.6 1017h0M1363.1 1017.1h0M1364.6 1017.4h0M1366.1 1017.1h0M1367.5 1017.4h0M1369 1017.3h0M1370.5 1017.4h0M1371.9 1017.2h0M1373.4 1017.6h0M1374.9 1017.6h0M1376.3 1017.4h0M1377.7 1017.8h0M1379.1 1018.3h0M1380.4 1018.1h0M1381.8 1018.8h0M1383.1 1019.2h0M1384.5 1019.3h0M1385.9 1019.5h0M1387.3 1019.2h0M1388.8 1019.7h0M1390.2 1019.9h0M1391.7 1019.6h0M1393.1 1019.9h0M1394.5 1019.7h0M1396 1019.7h0M1397.4 1020h0M1398.8 1020.2h0M1400.3 1020.4h0M1401.7 1020.2h0M1403.1 1020.3h0M1404.6 1020.7h0M1406 1020.6h0M1407.4 1020.6h0M1408.9 1020.7h0M1410.2 1021.1h0M1411.6 1021.4h0M1413 1021.7h0M1414.3 1022.3h0M1415.7 1022.6h0M1417 1022.9h0M1418.5 1022.9h0M1419.9 1023h0M1421.4 1023h0M1422.9 1023.3h0M1424.3 1023.1h0M1425.8 1023.4h0M1427.2 1023.6h0M1428.7 1023.4h0M1430.2 1023.6h0M1431.6 1023.9h0M1433.1 1023.8h0M1434.5 1024h0M1436 1023.9h0M1437.5 1024.1h0M1439 1024.1h0M1440.5 1024.5h0M1442 1024.4h0M1443.5 1024.9h0M1445 1024.9h0M1446.6 1024.9h0M1448.1 1025.3h0M1449.6 1025.3h0M1451 1025.5h0M1452.4 1025.8h0M1453.8 1025.9h0M1455.2 1026.1h0M1456.6 1026h0M1458 1026.1h0M1846.9 1029.4h0M1848.3 1029.3h0M1849.7 1029.4h0M1851.2 1029.2h0M1852.6 1029.5h0M1854.1 1029.6h0M1855.5 1029.5h0M1857 1029.4h0M1858.4 1029.6h0M1859.8 1029.6h0M1861.3 1029.6h0M1862.7 1029.4h0M1864.2 1029.3h0M1865.6 1029.3h0M1867 1029.2h0M1868.5 1029.6h0M1869.9 1029.6h0M1871.4 1029.2h0M1872.8 1029.2h0M1874.2 1029.4h0M1875.6 1029.8h0M1877 1030.1h0M1878.3 1030.5h0M1879.7 1030.7h0M1881 1030.9h0M1882.4 1031h0M1883.7 1030.9h0M1885.1 1031.2h0M1886.5 1030.8h0M1887.8 1030.6h0M1889.2 1029.8h0M1890.5 1029.4h0M1892 1029.4h0M1893.4 1030h0M1894.9 1030.3h0M1896.3 1030.7h0M1897.8 1030.7h0M1899.6 1031.8h0M1901.4 1032.5h0M1902.7 1033.8h0M1904 1035.2h0M1905.4 1036.7h0M1907 1034.4h0M1908.6 1032h0M1910 1032.2h0M1911.3 1032.6h0M1912.7 1033.4h0M1914 1033.8h0M1915.5 1033.5h0M1916.9 1033.2h0M1918.4 1032.8h0M1919.8 1032.9h0M1921.3 1032.5h0M1922.7 1032.3h0M1924.2 1032.6h0M1925.6 1032.5h0M1927.1 1032.4h0M1928.5 1032.5h0M1930 1032.9h0M1931.5 1033h0M1933 1033.5h0M1934.5 1033.5h0M1936 1034.1h0M1937.5 1034.3h0M1939 1036.1h0M1940.6 1037.7h0M1942.1 1039.7h0M1943.6 1038.2h0M1945.1 1036.5h0M1946.6 1034.8h0M1948.4 1033.8h0M1950.2 1033h0M1950.5 1033.8h0M1968 1037.4h0M1969.5 1037.2h0M1971 1037.2h0M1972.4 1037.4h0M1973.9 1037.3h0M1975.4 1037.4h0M1976.9 1037.4h0M1978.3 1037.7h0M1979.8 1037.5h0M1981.3 1037.9h0M1982.7 1037.7h0M1984.3 1038h0M1985.9 1037.8h0M1987.5 1038.2h0M1989.1 1038.1h0M1990.9 1035.1h0M1992.7 1032.5h0M1994.1 1030.5h0M1995.4 1028.9h0M1996.9 1028.8h0M1998.3 1028.9h0M1999.8 1028.8h0M2001.2 1028.9h0M2002.7 1028.9h0M2004.2 1029.2h0M2005.6 1029.2h0M2007.1 1029.3h0M2008.6 1028.8h0M2010 1029h0M2011.5 1029.1h0M2012.9 1029.1h0M2014.4 1029.1h0M2015.9 1029.1h0M2017.3 1029h0M2018.8 1029h0M2020.2 1029.2h0M2021.7 1029.4h0M2023.2 1029.2h0M2024.6 1029.5h0M2026.1 1029.3h0M2027.5 1029.5h0M2029 1029.2h0M2030.5 1029.5h0M2031.9 1029.2h0M2033.4 1029.4h0M2035.2 1030.3h0M2037 1030.7h0M2038.4 1030.7h0M2039.7 1030.2h0M2041.1 1030.1h0M2042.4 1030.1h0M2043.8 1030.9h0M2045.1 1031.4h0M2046.5 1031.9h0M2047.8 1032.5h0M2049.2 1032h0M2050.6 1031h0M2051.9 1030.5h0M2053.3 1029.8h0M2054.7 1029.9h0M2056.1 1029.8h0M2057.5 1030.1h0M2059 1030.4h0M2060.4 1030.2h0M2061.8 1030.4h0M2063.2 1030.6h0M2064.6 1030.6h0M2066.1 1030.5h0M2067.5 1030.8h0M2068.9 1031h0M2070.3 1031h0M2071.7 1030.9h0M2073.2 1031.2h0M2074.6 1031h0M2076.1 1031.4h0M2077.5 1031.1h0M2079 1031.1h0M2080.4 1031.4h0M2081.8 1031.4h0M2083.3 1031.4h0M2084.7 1031.2h0M2086.2 1031.5h0M2087.6 1031.4h0M2089.1 1031h0M2090.5 1031h0M2092 1031.3h0M2093.4 1031.3h0M2094.9 1031.4h0M2096.3 1031.2h0M2097.8 1031.4h0M2099.2 1031.1h0M2100.7 1031.3h0M2102.1 1031.4h0M2103.5 1031h0M2105 1031.3h0M2106.4 1031.1h0M2107.9 1031.5h0M2109.3 1031.2h0M2110.8 1031.2h0M2112.3 1031.3h0M2113.9 1030.9h0M2115.4 1030.8h0M2116.9 1030.9h0M2118.4 1030.7h0M2119.9 1031.1h0M2121.4 1031.2h0M2122.9 1031.3h0M2124.4 1031.6h0M2125.9 1031.9h0M2127.4 1032h0M2128.9 1031.9h0M2130.4 1031.7h0M2131.9 1031.9h0M2133.4 1031.9h0M2134.9 1031.9h0M2136.5 1031.9h0M2138 1032h0M2139.5 1032.1h0M2141 1031.8h0M2142.5 1032.1h0M2144 1031.9h0M2145.5 1032h0M2147.3 1035.2h0M2149.1 1033.1h0M2150.9 1031.2h0M2152.4 1031.2h0M2153.9 1031.7h0M2155.4 1031.4h0M2156.9 1031.5h0M2158.5 1032h0M2160 1032h0M2161.3 1035.1h0M2162.7 1038.5h0M2164.5 1028.9h0M2165.9 1028.7h0M2167.4 1028.7h0M2168.9 1028.8h0M2170.3 1028.8h0M2171.8 1028.9h0M2173.2 1029h0M2174.7 1028.5h0M2176.1 1028.5h0M2177.6 1028.5h0M2179.1 1028.9h0M2180.5 1028.5h0M2182 1028.6h0M2183.4 1028.4h0M2184.9 1028.8h0M2186.3 1028.5h0M2187.8 1028.6h0M2189.2 1028.5h0M2190.7 1028.5h0M2192.2 1028.3h0M2193.7 1028.7h0M2195.2 1028.5h0M2196.7 1028.6h0M2198.2 1028.7h0M2199.7 1028.5h0M2200 1028.5h0M2201.4 1028.6h0M2202.9 1028.4h0M2204.3 1028.5h0M2205.7 1028.5h0M2207.2 1028.7h0M2208.6 1028.5h0M2210 1028.5h0M2211.5 1028.6h0M2212.9 1028.7h0M2214.3 1028.5h0M2215.8 1028.3h0M2217.2 1028.3h0M2218.6 1028.6h0M2220.1 1028.8h0M2221.5 1028.6h0M2222.9 1028.5h0M2224.4 1028.7h0M2225.8 1028.5h0M2227.2 1028.6h0M2228.7 1028.3h0M2230.1 1028.5h0M2255.8 1033h0M2256.1 1028.9h0M2257.5 1028.9h0M2259 1029h0M2260.5 1028.9h0M2262 1029.2h0M2263.5 1029.3h0M2264.9 1029.1h0M2266.4 1029.1h0M2267.9 1029.1h0M2269.4 1029.1h0M2270.9 1029.6h0M2272.3 1029.4h0M2273.8 1029.6h0M2275.2 1029.4h0M2276.7 1029.8h0M2278.1 1029.7h0M2279.6 1030h0M2281 1029.9h0M2282.5 1030h0M2283.9 1029.9h0M2285.4 1030.3h0M2286.8 1030.1h0M2288.6 1030.7h0M2289.5 1044.2h0M2290.4 1030.7h0M2292.2 1029.8h0M2293.7 1029.9h0M2295.1 1029.7h0M2296.6 1030h0M2298.1 1029.7h0M2299.5 1029.7h0M2301 1029.8h0M2302.4 1029.9h0M2303.9 1030h0M2305.3 1030.1h0M2306.8 1030h0M2308.3 1030h0M2309.7 1030h0M2311.2 1029.8h0M2312.6 1030.1h0M2314.1 1029.7h0M2315.6 1030.1h0M2317 1030h0M2318.5 1030.2h0M2319.9 1030.1h0M2321.4 1030.2h0M2322.8 1030.3h0M2324.3 1030.2h0M2325.8 1030.1h0M2327.2 1029.9h0M2328.7 1029.9h0M2330.1 1029.9h0M2331.6 1029.9h0M2333.1 1030.3h0M2334.5 1030.2h0M2336 1030.1h0M2337.4 1030.1h0M2339.6 1030.7h0M2341 1060.5h0M2342.5 1030.7h0M2343.9 1030.7h0M2345.4 1030.5h0M2346.8 1030.8h0M2348.3 1030.7h0M2349.7 1030.8h0M2351.2 1031h0M2352.6 1031h0M2354.1 1031.2h0M2355.5 1031.1h0M2357 1031.3h0M2358.4 1031.3h0M2359.9 1031.4h0M2361.3 1030.9h0M2362.7 1031.2h0M2364.2 1031.1h0M2365.7 1031.5h0M2367.2 1031.1h0M2368.7 1031.6h0M2370.2 1031.6h0M2371.7 1031.7h0M2373.2 1031.4h0M2374.7 1031.5h0M2376.2 1031.8h0M2377.6 1031.5h0M2379.1 1031.9h0M2380.6 1031.9h0M2382.1 1031.6h0M2383.6 1032h0M2385.1 1031.9h0M2386.6 1032.1h0M2388.1 1032h0M2389.5 1032.2h0M2391 1032h0M2392.5 1031.9h0M2394 1032.1h0M2395.5 1031.9h0M2396.9 1032.1h0M2398.4 1031.9h0M2399.9 1031.9h0M2401.4 1032h0M2402.9 1032h0M2404.3 1032.2h0M2405.8 1032h0M2407.3 1031.9h0M2408.8 1031.9h0M2410.3 1032.2h0M2411.7 1032h0M2413.2 1031.8h0M2414.7 1031.9h0M2416.2 1031.7h0M2417.7 1032.1h0M2419.1 1032h0M2420.6 1032h0M2422.4 1032.8h0M2424.2 1033.8h0M2426 1033.3h0M2427.8 1032.5h0M2429.3 1032.3h0M2430.7 1032.5h0M2432.1 1032.8h0M2433.5 1032.5h0M2435 1032.9h0M2436.4 1032.9h0M2437.8 1032.6h0M2439.2 1032.9h0M2440.6 1032.8h0M2442.1 1033h0M2443.5 1032.9h0M2444.9 1033.1h0M2446.3 1033.1h0M2447.7 1033h0M2449.1 1034h0M2450.5 1035h0M2451.8 1035.9h0M2453.2 1036.7h0M2454.5 1035.8h0M2455.9 1034.8h0M2457.2 1034.2h0M2458.6 1033.4h0M2459.9 1033.5h0M2461.3 1033.7h0M2462.7 1033.9h0M2464 1034.3h0M2465.5 1035.1h0M2466.9 1035.7h0M2468.4 1036.6h0M2469.8 1037h0M2471.2 1037.9h0M2472.7 1038.7h0M2474.1 1039.4h0M2475.6 1040h0M2477 1041h0M2478.5 1041.5h0M2480.3 1043.1h0M2482.1 1044.2h0M2483.5 1044.5h0M2484.8 1044.6h0M2486.2 1044.7h0M2487.5 1044.6h0M2488.9 1043.9h0M2490.2 1043.4h0M2491.6 1043.1h0M2492.9 1042.4h0M2494.3 1038.9h0M2495.7 1035.2h0M2497.2 1034.3h0M2498.7 1033.3h0M2500.2 1032.5h0M2501.6 1032h0M2503.1 1031.4h0M2504.5 1031.1h0M2506 1030.8h0M2507.4 1030.1h0M2508.8 1030.2h0M2510.2 1029.9h0M2511.6 1030.2h0M2513 1030.3h0M2514.4 1030.2h0M2515.9 1030.3h0M2517.3 1030.4h0M2518.7 1030.3h0M2520.1 1030.1h0M2521.5 1030.7h0M2522.8 1084h0M2524.1 1030.7h0M2525.5 1030.8h0M2526.9 1030.9h0M2528.4 1030.6h0M2529.8 1030.6h0M2531.3 1030.4h0M2532.7 1030.7h0M2534.5 1035.2h0M2536.3 1029.8h0M2537.7 1030.1h0M2539.2 1029.7h0M2540.6 1029.7h0M2542 1030h0M2543.4 1030.2h0M2544.8 1030h0M2546.2 1030h0M2547.6 1030.1h0M2549.4 1053.3h0M2550.8 1030.1h0M2552.4 1030.2h0M2553.9 1029.9h0M2555.5 1029.8h0M2557 1029.9h0M2558.6 1029.8h0M2560.1 1029.7h0M2561.7 1029.8h0M2563.2 1029.9h0M2564.7 1029.6h0M2566.2 1029.8h0M2567.7 1029.9h0M2569.2 1029.4h0M2570.7 1029.8h0M2572.2 1029.3h0M2573.7 1029.5h0M2575.2 1029.7h0M2576.7 1029.4h0M2578.2 1029.4h0M2579.7 1029.4h0M2581.2 1029.3h0M2582.6 1029.3h0M2584.1 1029.5h0M2585.5 1029.4h0M2587 1029.5h0M2588.4 1029.5h0M2589.9 1029.2h0M2591.3 1029.3h0M2592.8 1029.4h0M2594.2 1029.4h0M2592.7 1029.3h0M2591.2 1029.3h0M2589.8 1029.4h0M2588.3 1029.3h0M2586.8 1029.5h0M2585.3 1029.4h0M2583.8 1029.4h0M2582.3 1029.5h0M2580.8 1029.8h0M2579.3 1029.8h0M2577.9 1029.7h0M2576.4 1029.8h0M2574.9 1029.9h0M2573.4 1029.7h0M2571.9 1030.1h0M2570.4 1030.1h0M2568.9 1030.2h0M2567.4 1030.1h0M2566 1030.1h0M2564.5 1030.2h0M2563 1030.2h0M2561.5 1030h0M2560 1030.1h0M2561.4 1030.1h0M2562.9 1030.3h0M2564.3 1030.3h0M2565.8 1030.2h0M2567.2 1030h0M2568.7 1030.1h0M2570.1 1029.8h0M2571.6 1030h0M2573 1030h0M2574.5 1029.8h0M2575.9 1030.1h0M2577.4 1029.7h0M2578.8 1029.9h0M2580.3 1029.8h0M2581.7 1029.9h0M2583.1 1030.2h0M2584.6 1030.1h0M2586 1029.9h0M2587.5 1030h0M2588.9 1029.7h0M2590.4 1029.7h0M2591.8 1029.8h0M2593.3 1029.9h0M2594.7 1030h0M2596.2 1029.8h0M2597.7 1030.1h0M2599.2 1030.6h0M2600.7 1030.7h0M2602 1058.7h0M2603.4 1030.1h0M2604.9 1030.2h0M2606.4 1030.3h0M2607.9 1030.3h0M2609.4 1030.2h0M2610.9 1030.3h0M2612.4 1030.1h0M2613.9 1030.3h0M2615.5 1030h0M2617 1030.3h0M2618.5 1030.2h0M2620 1029.9h0M2621.5 1030.1h0M2623.7 1038.8h0M2624.8 1034.5h0M2626 1030.7h0M2627.4 1030.6h0M2628.9 1030.8h0M2630.3 1030.7h0M2631.8 1030.8h0M2633.2 1030.7h0M2634.6 1030.5h0M2636.1 1030.4h0M2637.5 1030.8h0M2638.9 1030.8h0M2640.4 1030.7h0M2641.8 1030.5h0M2643.3 1030.6h0M2644.7 1030.6h0M2646.1 1030.9h0M2647.6 1030.6h0M2649 1030.8h0M2650.5 1030.7h0M2651.9 1030.5h0M2653.3 1030.6h0M2654.8 1030.5h0M2656.2 1030.5h0M2657.6 1030.7h0M2659 1032.7h0M2660.4 1034.3h0M2661.7 1032.1h0M2663.1 1030.1h0M2664.6 1030.7h0M2666 1030.7h0M2667.5 1031.2h0M2669 1031.2h0M2670.5 1031.4h0M2672 1031.7h0M2673.4 1032.4h0M2674.9 1032.7h0M2676.4 1032.7h0M2677.9 1033.1h0M2679.3 1033.4h0M2681.2 1032.6h0M2683 1032h0M2684.5 1031.8h0M2686 1032.1h0M2687.5 1031.8h0M2689 1032.2h0M2690.5 1031.9h0M2692 1031.9h0M2693.5 1032h0M2695 1031.9h0M2696.5 1032h0M2698 1032.2h0M2699.5 1031.8h0M2701 1032h0M2702.5 1032.9h0M2703.9 1033.4h0M2705.4 1034.5h0M2706.8 1035.2h0M2708.3 1036.1h0M2710.1 1034.7h0M2711.9 1033h0M2713.3 1033.2h0M2714.8 1033h0M2716.2 1033.1h0M2717.7 1033h0M2719.1 1033.4h0M2720.6 1033.3h0M2722 1033.2h0M2723.5 1033.4h0M2724.9 1033.1h0M2726.4 1033.4h0M2727.8 1033.3h0M2729.3 1033.3h0M2730.7 1033.6h0M2732.2 1033.3h0M2733.6 1033.4h0M2735 1033.3h0M2736.5 1033.3h0M2737.9 1033.3h0M2739.4 1033.6h0M2740.8 1033.4h0M2742.3 1033.6h0M2743.7 1033.6h0M2745.2 1033.9h0M2746.6 1034.3h0M2748.1 1034.3h0M2749.5 1043.3h0M2751.7 1034.3h0M2753.1 1034.2h0M2754.6 1033.7h0M2756 1033.5h0M2757.5 1033.1h0M2758.9 1033h0M2760.3 1033.3h0M2761.8 1033.3h0M2763.2 1033h0M2764.6 1033.2h0M2766 1033.1h0M2767.4 1033.4h0M2768.9 1033h0M2770.3 1033.1h0M2771.7 1033.4h0M2773.1 1033.6h0M2774.5 1033.4h0M2784.9 1033.4h0M2786.3 1033.7h0M2787.8 1033.3h0M2789.2 1033.5h0M2790.7 1033.7h0M2792.1 1033.4h0M2793.6 1033.5h0M2795 1033.5h0M2796.5 1033.3h0M2798 1033.5h0M2799.4 1033.4h0M2800.9 1033.7h0M2802.3 1033.6h0M2803.8 1033.4h0M2805.2 1033.7h0M2806.7 1033.7h0M2808.1 1033.7h0M2809.6 1033.4h0M2811 1033.5h0M2812.5 1033.5h0M2813.9 1033.8h0M2815.4 1033.9h0M2816.8 1034h0M2818.3 1034h0M2819.8 1033.8h0M2841.8 1034.3h0M2843.1 1034.8h0M2844.4 1035.4h0M2845.7 1036.1h0M2847.5 1035.9h0M2849.3 1035.2h0M2850.8 1036.3h0M2852.3 1036.8h0M2853.9 1037.9h0M2855.4 1037.2h0M2856.9 1036.1h0M2858.4 1035.2h0M2860.2 1035.3h0M2862 1035.2h0M2863.8 1033h0M2865.6 1030.7h0M2867.1 1030.6h0M2868.6 1030.2h0M2870.1 1030.1h0M2871.9 1028.5h0M2873.7 1026.5h0M2875.2 1026.4h0M2876.7 1026.4h0M2878.2 1026.5h0M2879.6 1026.4h0M2881.1 1026.7h0M2882.6 1026.7h0M2884 1026.3h0M2885.5 1026.4h0M2887 1026.6h0M2888.5 1026.6h0M2889.9 1026.6h0M2891.4 1026.7h0M2892.9 1026.6h0M2894.3 1026.3h0M2895.8 1026.4h0M2897.3 1026.8h0M2898.8 1026.4h0M2900.2 1026.5h0" fill="none" stroke="#00688F" stroke-width="5.5" stroke-linecap="round" shape-rendering="crispEdges"/>
<path d="M1143 736V736H1144.5V743.3H1146V744.7H1147.4V751.5H1148.9V744.1H1150.4V749.3H1151.8V755.1H1153.3V757.5H1154.8V760.2H1156.2V763H1157.7V761.9H1159.2V755.8H1160.6V758.8H1162.1V758.8H1163.6V754.4H1165V764.8H1166.5V759.2H1168V768.1H1169.4V770.1H1170.9V773.3H1172.4V779.8H1173.8V781H1175.3V769.9H1176.8V784.4H1178.2V763.7H1179.7V777.6H1181.2V775H1182.6V797.7H1184.1V794.5H1185.6V783.5H1187V792H1188.5V794.1H1190V808.6H1191.4V787.7H1192.9V802.6H1194.4V800.2H1195.8V790.9H1197.3V805.3H1198.8V790H1200.2V786.3H1201.7V808.9H1203.2V801.6H1204.6V783.8H1206.1V806.9H1207.6V796H1209V811.1H1210.5V797.5H1212V800.4H1213.4V802.7H1214.9V818.2H1216.4V823.1H1217.8V809.3H1219.3V816.7H1220.8V817.4H1222.2V819.9H1223.7V820.4H1225.2V817.9H1226.6V834H1228.1V811.2H1229.6V815.6H1231V815.4H1232.5V817.6H1234V825.4H1235.4V812.2H1236.9V825.1H1238.4V819.5H1239.8V808.3H1241.3V830.2H1242.8V822.3H1244.2V825.4H1245.7V824.5H1247.2V828H1248.6V808.4H1250.1V824.7H1251.6V812.7H1253V821.6H1254.5V831.1H1256V821.4H1257.4V830.4H1258.9V819.6H1260.4V819.6H1261.8V827H1263.3V822H1264.8V820.7H1266.2V817.5H1267.7V828.2H1269.2V827H1270.6V824.6H1272.1V831.3H1273.6V815.9H1275V836.6H1276.5V836.1H1278V810.8H1279.4V823.8H1280.9V823H1282.4V826.9H1283.8V834.7H1285.3V820.1H1286.8V833.1H1288.2V827.7H1289.7V826.6H1291.2V819.2H1292.6V827.5H1294.1V824.9H1295.6V831.8H1297V831.6H1298.5V841H1300V829.1H1301.4V830.5H1302.9V842.2H1304.4V831.1H1305.8V842.6H1307.3V840.6H1308.8V823.6H1310.2V826.9H1311.7V833.2H1313.2V821.4H1314.6V843.6H1316.1V837.4H1317.6V842H1319V856.1H1320.5V843.4H1322V852.9H1323.4V849.4H1324.9V844.2H1326.4V848.5H1327.8V849H1329.3V852.9H1330.8V856.3H1332.2V858.3H1333.7V855.3H1335.2V862.9H1336.6V858.9H1338.1V836.4H1339.6V847.3H1341V841.8H1342.5V846.9H1344V847.7H1345.4V842.3H1346.9V848H1348.4V844.9H1349.8V850.9H1351.3V857.6H1352.8V861.9H1354.2V846.4H1355.7V838.4H1357.2V848H1358.6V848.9H1360.1V852.2H1361.6V844H1363V849H1364.5V848.1H1366V854.8H1367.4V847.6H1368.9V848H1370.4V836.5H1371.8V845H1373.3V841.7H1374.8V824.4H1376.2V824.7H1377.7V827.6H1379.2V809.3H1380.6V839.6H1382.1V826.3H1383.6V838.9H1385V842H1386.5V842.4H1388V845.4H1389.4V844.5H1390.9V830.1H1392.4V846.8H1393.8V838H1395.3V832.8H1396.8V840.6H1398.2V819.7H1399.7V830.3H1401.2V843.3H1402.6V840.1H1404.1V830H1405.6V839.7H1407V837.5H1408.5V848.1H1410V843.3H1411.4V820.6H1412.9V836.5H1414.4V814.2H1415.8V834.4H1417.3V822.5H1418.8V806.7H1420.2V821H1421.7V820.9H1423.2V835.7H1424.6V838.7H1426.1V843.3H1427.6V843.9H1429V851.3H1430.5V836.7H1432V850.9H1433.4V830.4H1434.9V841.7H1436.4V839.6H1437.8V841.8H1439.3V829.7H1440.8V827.5H1442.2V838.6H1443.7V845.4H1445.2V851.1H1446.6V852.5H1448.1V846.8H1449.6V858.1H1451V862.3H1452.5V865.8H1454V847.6H1455.4V862.1H1456.9V847.6H1458.4V852.9H1459.8V857.2H1461.3V863H1459.8V864.4H1458.4V865.4H1456.9V868.8H1455.4V870.1H1454V870.8H1452.5V870.4H1451V865.2H1449.6V863.4H1448.1V858.3H1446.6V856.7H1445.2V855.4H1443.7V854.9H1442.2V854.8H1440.8V853.8H1439.3V853.7H1437.8V855.8H1436.4V856.9H1434.9V856H1433.4V856.3H1432V857.8H1430.5V859.8H1429V857.5H1427.6V857H1426.1V853.1H1424.6V847H1423.2V846.1H1421.7V843.6H1420.2V843.4H1418.8V847.7H1417.3V847.9H1415.8V846.7H1414.4V848.1H1412.9V849.9H1411.4V853.9H1410V855.5H1408.5V854.9H1407V852.6H1405.6V849.8H1404.1V851.2H1402.6V851H1401.2V849.9H1399.7V850.9H1398.2V851.1H1396.8V853.3H1395.3V853.5H1393.8V855.5H1392.4V854.2H1390.9V853.3H1389.4V853.4H1388V851.1H1386.5V851.5H1385V852H1383.6V851H1382.1V849.9H1380.6V846.1H1379.2V845H1377.7V848.9H1376.2V851.2H1374.8V854.7H1373.3V862.3H1371.8V858.7H1370.4V858H1368.9V861.5H1367.4V868.8H1366V865.8H1364.5V865.2H1363V864.1H1361.6V861.7H1360.1V862.1H1358.6V862.4H1357.2V861.3H1355.7V867.8H1354.2V869.6H1352.8V865.8H1351.3V863.5H1349.8V860.3H1348.4V858.2H1346.9V857H1345.4V858.2H1344V854.9H1342.5V855.4H1341V856.8H1339.6V858.2H1338.1V868.8H1336.6V874.9H1335.2V872.4H1333.7V868H1332.2V867.9H1330.8V866.2H1329.3V862.3H1327.8V859.6H1326.4V869.6H1324.9V863.1H1323.4V862.1H1322V863.4H1320.5V864.4H1319V857.3H1317.6V852.1H1316.1V850.6H1314.6V852.4H1313.2V850.1H1311.7V862.3H1310.2V855.2H1308.8V860.6H1307.3V855.1H1305.8V843.6H1304.4V847.9H1302.9V850H1301.4V849.3H1300V849.1H1298.5V847.5H1297V846H1295.6V841.4H1294.1V842.6H1292.6V837.3H1291.2V837.6H1289.7V837.3H1288.2V847.4H1286.8V841.7H1285.3V844.5H1283.8V840.4H1282.4V841.5H1280.9V841.4H1279.4V842.7H1278V844H1276.5V849.6H1275V855.2H1273.6V852H1272.1V846.7H1270.6V842.5H1269.2V842.1H1267.7V846H1266.2V842.2H1264.8V849.3H1263.3V841.5H1261.8V842.6H1260.4V840.5H1258.9V840.5H1257.4V841.2H1256V839.4H1254.5V832.2H1253V830.8H1251.6V830.5H1250.1V841.1H1248.6V839.7H1247.2V837.4H1245.7V839.5H1244.2V844.8H1242.8V839.9H1241.3V835.5H1239.8V836.5H1238.4V839.1H1236.9V832.8H1235.4V834.8H1234V836.7H1232.5V842.2H1231V830.5H1229.6V836.1H1228.1V848.7H1226.6V835.2H1225.2V833.1H1223.7V832.3H1222.2V835.6H1220.8V836.2H1219.3V834.9H1217.8V830.8H1216.4V832.4H1214.9V831.5H1213.4V833.5H1212V822.5H1210.5V821.2H1209V820.1H1207.6V824H1206.1V813.6H1204.6V810.3H1203.2V814.9H1201.7V819.7H1200.2V818H1198.8V813.4H1197.3V810.8H1195.8V812.9H1194.4V812H1192.9V823.3H1191.4V824.7H1190V820.5H1188.5V808.3H1187V806.3H1185.6V807.9H1184.1V804.5H1182.6V796.3H1181.2V787.6H1179.7V800.3H1178.2V799.9H1176.8V788.5H1175.3V787.9H1173.8V785.9H1172.4V783H1170.9V782.2H1169.4V778.8H1168V774.4H1166.5V773.8H1165V773.3H1163.6V771.9H1162.1V772H1160.6V776.1H1159.2V778.4H1157.7V771.4H1156.2V770.3H1154.8V765.2H1153.3V764.9H1151.8V762.1H1150.4V763.2H1148.9V756.8H1147.4V754.8H1146V753.5H1144.5V751.9H1143ZM1844.4 821.3V821.3H1845.9V830.6H1847.3V809.5H1848.8V826.1H1850.3V818H1851.7V816.4H1853.2V817.5H1854.7V831.1H1856.1V830H1857.6V838.8H1859.1V836.1H1860.6V828.4H1862V840H1863.5V832.8H1865V816.5H1866.4V836.3H1867.9V828.4H1869.4V836.7H1870.8V831.4H1872.3V826.9H1873.8V824.6H1875.2V833.1H1876.7V846.7H1878.2V821.5H1879.6V839.1H1881.1V828.9H1882.6V836.9H1884V841.3H1885.5V837.9H1887V842.4H1888.4V825.9H1889.9V828.5H1891.4V834.2H1892.8V834.7H1894.3V823.9H1895.8V830.2H1897.2V837.5H1898.7V829.5H1900.2V838.8H1901.6V820.7H1903.1V812H1904.6V818.8H1906V834.1H1907.5V811.6H1909V828.1H1910.4V827.2H1911.9V833.9H1913.4V796.6H1914.8V833.2H1916.3V833H1917.8V841.8H1919.2V844.9H1920.7V837.2H1922.2V841.8H1923.6V851.2H1925.1V848.2H1926.6V836.4H1928V841.6H1929.5V844.3H1931V842.4H1932.4V846.3H1933.9V846H1935.4V850.8H1936.8V831H1938.3V846.9H1939.8V841.3H1941.2V845.9H1942.7V808.5H1944.2V822.8H1945.6V835.7H1947.1V838H1948.6V824.6H1950V790.8H1951.5V765.6H1953V747.9H1954.5V759.3H1955.9V753.2H1957.4V722.5H1958.9V715.7H1960.3V716.9H1961.8V715H1963.3V709.5H1964.7V709H1966.2V708.5H1967.7V714.1H1969.1V714.4H1970.6V716.9H1972.1V717.8H1973.5V718.1H1975V721H1976.5V723.1H1977.9V723.4H1979.4V727.9H1980.9V729.6H1982.3V730.9H1983.8V733.2H1985.3V736H1986.7V734.2H1988.2V732H1989.7V716.7H1991.1V708.4H1992.6V706.8H1994.1V703.7H1995.5V705.7H1997V707H1998.5V707.9H1999.9V709.5H2001.4V711.9H2002.9V714.6H2004.3V715.2H2005.8V717.3H2007.3V719.2H2008.7V721.9H2010.2V720.1H2011.7V717.6H2013.1V721.3H2014.6V724H2016.1V720.4H2017.5V721.3H2019V724.8H2020.5V719H2021.9V723.2H2023.4V724.5H2024.9V722.3H2026.3V729.7H2027.8V727H2029.3V730.6H2030.7V730.6H2032.2V730.9H2033.7V730.7H2035.1V729.7H2036.6V729.7H2038.1V729.8H2039.5V733.7H2041V732.9H2042.5V736.1H2043.9V733.6H2045.4V731.6H2046.9V735H2048.3V739.8H2049.8V738.8H2051.3V742.3H2052.8V742.7H2054.2V744.3H2055.7V744.2H2057.2V745.1H2058.6V742.9H2060.1V741.1H2061.6V745.8H2063V746.5H2064.5V751.3H2066V756.1H2067.4V747.3H2068.9V752H2070.4V754H2071.8V750.8H2073.3V763.4H2074.8V761.7H2076.2V765.4H2077.7V771.5H2079.2V756.3H2080.6V761.8H2082.1V764.8H2083.6V767.6H2085V770.8H2086.5V765.2H2088V763.3H2089.4V763.3H2090.9V771.9H2092.4V773.6H2093.8V774.3H2095.3V777.7H2096.8V777.3H2098.2V770.5H2099.7V786H2101.2V781.7H2102.6V772.2H2104.1V773.3H2105.6V777.7H2107V774.4H2108.5V781.3H2110V775H2111.4V777.2H2112.9V775.2H2114.4V792.8H2115.8V780.5H2117.3V771.9H2118.8V785H2120.2V776.9H2121.7V772.4H2123.2V778.7H2124.6V788H2126.1V788.7H2127.6V786.3H2129V793.2H2130.5V791.3H2132V792.7H2133.4V786.5H2134.9V782.6H2136.4V783.8H2137.8V780.2H2139.3V778.7H2140.8V777.8H2142.2V788.6H2143.7V787.2H2145.2V777.9H2146.6V774.3H2148.1V775.5H2149.6V777.3H2151.1V777.7H2152.5V770.5H2154V776.1H2155.5V779.6H2156.9V779.3H2158.4V783.8H2159.9V775.5H2161.3V780.6H2162.8V762.3H2164.3V741.3H2165.7V714.7H2167.2V719.8H2168.7V720.7H2170.1V725.3H2171.6V727.6H2173.1V728.8H2174.5V730.5H2176V733.3H2177.5V734.9H2178.9V731.1H2180.4V733.7H2181.9V728.2H2183.3V721.8H2184.8V719.3H2186.3V721H2187.7V722.3H2189.2V726.3H2190.7V728.6H2192.1V732.2H2193.6V732.8H2195.1V736.9H2196.5V737.7H2198V738H2199.5V736.3H2200.9V740.9H2202.4V736.9H2203.9V739.5H2205.3V738H2206.8V744.9H2208.3V745.3H2209.7V744.9H2211.2V748.9H2212.7V749.3H2214.1V749.2H2215.6V746.6H2217.1V754.7H2218.5V755.5H2220V746.2H2221.5V759.7H2222.9V756.3H2224.4V752.2H2225.9V755.3H2227.3V769.9H2228.8V760H2230.3V765.5H2231.7V764.7H2233.2V762.8H2234.7V752.9H2236.1V778H2237.6V768.3H2239.1V774.9H2240.5V777.2H2242V770.9H2243.5V767.2H2245V774.8H2246.4V781.7H2247.9V767H2249.4V761.2H2250.8V768.9H2252.3V768.6H2253.8V777.1H2255.2V768H2256.7V764.1H2258.2V779.9H2259.6V775.3H2261.1V793.3H2262.6V782.3H2264V790.3H2265.5V790.9H2267V782.1H2268.4V799.4H2269.9V797.5H2271.4V790.6H2272.8V804.6H2274.3V797.1H2275.8V795.3H2277.2V789.2H2278.7V783.4H2280.2V825.1H2281.6V800H2283.1V807.9H2284.6V809.2H2286V787.5H2287.5V821.6H2289V789H2290.4V785.9H2291.9V795.1H2293.4V794.7H2294.8V806.7H2296.3V800.7H2297.8V807H2299.2V797H2300.7V824.1H2302.2V810.8H2303.6V823.3H2305.1V816.5H2306.6V802.5H2308V809.1H2309.5V829.6H2311V801.4H2312.4V788.8H2313.9V813.7H2315.4V826.1H2316.8V830.5H2318.3V815.5H2319.8V818.4H2321.2V824H2322.7V803H2324.2V827.3H2325.6V803.5H2327.1V839.7H2328.6V816.9H2330V819.9H2331.5V835.9H2333V833.4H2334.4V825.8H2335.9V835.8H2337.4V845H2338.8V827.5H2340.3V850.8H2341.8V835.5H2343.3V832.9H2344.7V833.4H2346.2V846.5H2347.7V854.6H2349.1V836.9H2350.6V851.9H2352.1V861.1H2353.5V833.6H2355V848.8H2356.5V854.2H2357.9V859.6H2359.4V841.9H2360.9V856.8H2362.3V850.3H2363.8V842.8H2365.3V869.8H2366.7V847.5H2368.2V822H2369.7V828.7H2371.1V797.2H2372.6V818.4H2374.1V844.7H2375.5V805.1H2377V807.9H2378.5V813.4H2379.9V815.2H2381.4V826.9H2382.9V825H2384.3V814.5H2385.8V822.5H2387.3V821.1H2388.7V812H2390.2V816.8H2391.7V818.7H2393.1V811.1H2394.6V812.1H2396.1V821.1H2397.5V827.1H2399V829.8H2400.5V829H2401.9V833.6H2403.4V831.1H2404.9V836.9H2406.3V831.4H2407.8V833.4H2409.3V824.8H2410.7V833.1H2412.2V833.9H2413.7V834H2415.1V823.4H2416.6V830.4H2418.1V827.4H2419.5V833.3H2421V835.9H2422.5V833.9H2423.9V830.4H2425.4V831.5H2426.9V833.1H2428.3V833.6H2429.8V833.6H2431.3V840H2432.7V839.5H2434.2V838H2435.7V835.1H2437.1V825.5H2438.6V838.1H2440.1V838.6H2441.6V840.8H2443V841.1H2444.5V849.6H2446V847.4H2447.4V835.7H2448.9V838.5H2450.4V818.9H2451.8V837.7H2453.3V831.6H2454.8V843.7H2456.2V836.1H2457.7V819.5H2459.2V826.7H2460.6V832.5H2462.1V825.2H2463.6V802H2465V830.6H2466.5V758.1H2468V793.9H2469.4V803.8H2470.9V813.1H2472.4V795.9H2473.8V797.2H2475.3V774.5H2476.8V807.1H2478.2V762.9H2479.7V742.6H2481.2V772.2H2482.6V732.5H2484.1V717.6H2485.6V735.5H2487V724.7H2488.5V733.7H2490V718H2491.4V713.2H2492.9V717H2494.4V721.2H2495.8V723.4H2497.3V722.8H2498.8V724.9H2500.2V724.7H2501.7V729.6H2503.2V728.3H2504.6V725.9H2506.1V720.7H2507.6V717.5H2509V718.6H2510.5V718.9H2512V719H2513.4V718.5H2514.9V721.4H2516.4V721.3H2517.8V724.3H2519.3V723.2H2520.8V727.1H2522.2V727.6H2523.7V727.6H2525.2V728.4H2526.6V727.9H2528.1V730.4H2529.6V720.9H2531V724.8H2532.5V718.7H2534V719.1H2535.5V718.1H2536.9V717.1H2538.4V718.1H2539.9V720.6H2541.3V720.4H2542.8V723H2544.3V724.1H2545.7V723.7H2547.2V728.9H2548.7V729H2550.1V730.1H2551.6V729.7H2553.1V725.8H2554.5V730.9H2556V730.5H2557.5V735.2H2558.9V735.6H2560.4V738.1H2561.9V741H2563.3V740.9H2564.8V736.5H2566.3V738.6H2567.7V722.7H2569.2V722.6H2570.7V727.8H2572.1V729.9H2573.6V733.9H2575.1V735.1H2576.5V743.9H2578V746.1H2579.5V744.4H2580.9V748.7H2582.4V751H2583.9V751.1H2585.3V755.6H2586.8V757.6H2588.3V763.3H2589.7V764.4H2591.2V760.5H2592.7V762H2594.1V765.4H2595.6V765.7H2597.1V766.9H2598.5V768.1H2600V764.8H2601.5V764.6H2602.9V772.3H2604.4V773.8H2605.9V774H2607.3V762.1H2608.8V767.5H2610.3V775.4H2611.7V767.5H2613.2V774.5H2614.7V773.5H2616.1V781.3H2617.6V783.4H2619.1V786.6H2620.5V790H2622V785.6H2623.5V778.3H2624.9V781.6H2626.4V782.4H2627.9V785.9H2629.3V787.4H2630.8V787.7H2632.3V782.9H2633.8V793.4H2635.2V794.5H2636.7V785H2638.2V782.6H2639.6V789.4H2641.1V778.8H2642.6V789.5H2644V785.8H2645.5V785.4H2647V790.9H2648.4V784.9H2649.9V793.2H2651.4V797.5H2652.8V799.8H2654.3V802.9H2655.8V803H2657.2V811H2658.7V799.8H2660.2V801.8H2661.6V788.5H2663.1V803.5H2664.6V811.5H2666V799.2H2667.5V800.4H2669V798.2H2670.4V802H2671.9V809.5H2673.4V812.2H2674.8V805.9H2676.3V811H2677.8V815.2H2679.2V814.2H2680.7V814.1H2682.2V817.4H2683.6V816.2H2685.1V817.7H2686.6V820.3H2688V818.5H2689.5V817.2H2691V824.2H2692.4V823.1H2693.9V827.9H2695.4V828.1H2696.8V829H2698.3V824H2699.8V806.5H2701.2V817.4H2702.7V825.2H2704.2V828H2705.6V830.3H2707.1V831.1H2708.6V832.7H2710V829H2711.5V829.1H2713V824.2H2714.4V816.9H2715.9V817.2H2717.4V825.8H2718.8V824.1H2720.3V825.9H2721.8V826.6H2723.2V822.5H2724.7V823.7H2726.2V819.9H2727.6V833.2H2729.1V829.6H2730.6V820.5H2732.1V832.2H2733.5V828.4H2735V824.5H2736.5V826.5H2737.9V832.7H2739.4V838.1H2740.9V839.2H2742.3V839.8H2743.8V849H2745.3V850H2746.7V846.6H2748.2V848.3H2749.7V844.5H2751.1V848.1H2752.6V830.2H2754.1V847.1H2755.5V853.8H2757V855.5H2758.5V853.2H2759.9V853.5H2761.4V851.3H2762.9V864.2H2764.3V867.4H2765.8V839.2H2767.3V846.8H2768.7V862.5H2770.2V859.3H2771.7V848.6H2773.1V863.2H2774.6V867.7H2776.1V867.7H2777.5V868.9H2779V861.1H2780.5V864.6H2781.9V877.8H2783.4V869.7H2784.9V867.2H2786.3V867.7H2787.8V856H2789.3V859.7H2790.7V878.6H2792.2V882.5H2793.7V860.8H2795.1V861.2H2796.6V847.7H2798.1V874.9H2799.5V870.9H2801V859.9H2802.5V879.3H2803.9V873.3H2805.4V869.9H2806.9V873.7H2808.3V881.8H2809.8V869.9H2811.3V887.2H2812.7V890.6H2814.2V881H2815.7V874.3H2817.1V889.2H2818.6V900.4H2820.1V872.8H2821.5V884.5H2823V889.1H2824.5V887.3H2826V897.1H2827.4V897.4H2828.9V895.3H2830.4V905.9H2831.8V910.2H2833.3V887.3H2834.8V909.7H2836.2V905.9H2837.7V905.3H2839.2V908.2H2840.6V892.7H2842.1V909.6H2843.6V903.8H2845V897.8H2846.5V911.9H2848V890.5H2849.4V904.2H2850.9V901.8H2852.4V906.8H2853.8V896.9H2855.3V906.8H2856.8V913.4H2858.2V924.5H2856.8V922.6H2855.3V927.8H2853.8V942.4H2852.4V928.5H2850.9V942.7H2849.4V928.8H2848V940.2H2846.5V925.1H2845V920.1H2843.6V921.8H2842.1V929.2H2840.6V913.8H2839.2V921.2H2837.7V912.5H2836.2V938.3H2834.8V927.2H2833.3V916.7H2831.8V910.6H2830.4V913.4H2828.9V900.8H2827.4V902.4H2826V925.7H2824.5V923.4H2823V909.5H2821.5V888.8H2820.1V924.4H2818.6V918.4H2817.1V904.7H2815.7V903.4H2814.2V913.8H2812.7V895.6H2811.3V899.2H2809.8V899.8H2808.3V904H2806.9V903.4H2805.4V890.4H2803.9V888.9H2802.5V903.7H2801V889.5H2799.5V897.7H2798.1V906.3H2796.6V906.1H2795.1V899.4H2793.7V897.5H2792.2V898.2H2790.7V912.6H2789.3V900.1H2787.8V875.6H2786.3V882.4H2784.9V885.5H2783.4V895.2H2781.9V887H2780.5V894.7H2779V877.7H2777.5V878H2776.1V873.1H2774.6V872.6H2773.1V874.5H2771.7V870.2H2770.2V887.3H2768.7V875.8H2767.3V872.7H2765.8V872.9H2764.3V872H2762.9V871H2761.4V870.8H2759.9V863.2H2758.5V869.1H2757V891.5H2755.5V882.4H2754.1V858.9H2752.6V854.2H2751.1V865.4H2749.7V867.5H2748.2V861.3H2746.7V857.9H2745.3V856.1H2743.8V850.3H2742.3V848.6H2740.9V843.7H2739.4V848H2737.9V841.7H2736.5V844.2H2735V848H2733.5V843.4H2732.1V840.4H2730.6V844.9H2729.1V841.7H2727.6V843.1H2726.2V848.4H2724.7V841.1H2723.2V841.9H2721.8V837.9H2720.3V837.8H2718.8V833.3H2717.4V829.7H2715.9V827.5H2714.4V831.3H2713V837.3H2711.5V841.7H2710V839.8H2708.6V837.8H2707.1V851H2705.6V853.9H2704.2V840.8H2702.7V828.5H2701.2V829.6H2699.8V838.4H2698.3V841.4H2696.8V837.3H2695.4V835.4H2693.9V830.7H2692.4V830H2691V829.6H2689.5V827.1H2688V824.1H2686.6V823.5H2685.1V824.8H2683.6V821.9H2682.2V824.1H2680.7V823.1H2679.2V820.7H2677.8V819.2H2676.3V818.1H2674.8V833.9H2673.4V822.6H2671.9V822.7H2670.4V821.1H2669V812.9H2667.5V819H2666V823.1H2664.6V826.1H2663.1V809.4H2661.6V811.4H2660.2V816.7H2658.7V816.3H2657.2V817H2655.8V814.3H2654.3V807.8H2652.8V803.7H2651.4V801.3H2649.9V800H2648.4V800.8H2647V797.5H2645.5V804H2644V797.9H2642.6V798H2641.1V818.2H2639.6V808.7H2638.2V802.4H2636.7V802.4H2635.2V800.7H2633.8V800.8H2632.3V815.4H2630.8V799.9H2629.3V808.7H2627.9V791.1H2626.4V794.7H2624.9V786.9H2623.5V796.2H2622V804.1H2620.5V799.4H2619.1V792.7H2617.6V789.4H2616.1V787.3H2614.7V789.2H2613.2V789.7H2611.7V782.3H2610.3V784H2608.8V784.6H2607.3V779.8H2605.9V782.9H2604.4V779.4H2602.9V780.9H2601.5V779.4H2600V776.8H2598.5V775.8H2597.1V773.1H2595.6V771.3H2594.1V769.2H2592.7V771.6H2591.2V770.2H2589.7V767.3H2588.3V763.4H2586.8V763.3H2585.3V757.4H2583.9V758.2H2582.4V752.7H2580.9V754.6H2579.5V752.8H2578V747.5H2576.5V741.4H2575.1V744.3H2573.6V739.8H2572.1V751.6H2570.7V740.2H2569.2V742.1H2567.7V746.7H2566.3V757.7H2564.8V752.4H2563.3V749.8H2561.9V744.5H2560.4V742.9H2558.9V742.8H2557.5V739.4H2556V739.8H2554.5V735.6H2553.1V735.7H2551.6V734.5H2550.1V735.3H2548.7V733H2547.2V731.4H2545.7V730.5H2544.3V728.1H2542.8V729.4H2541.3V732.6H2539.9V728.1H2538.4V733.3H2536.9V723.3H2535.5V723.5H2534V733.4H2532.5V732.4H2531V738.1H2529.6V736.4H2528.1V738.1H2526.6V734.4H2525.2V736.2H2523.7V732.5H2522.2V733.9H2520.8V730.3H2519.3V728.7H2517.8V727.6H2516.4V724.7H2514.9V727.5H2513.4V724.7H2512V725.3H2510.5V728.5H2509V725.7H2507.6V728.3H2506.1V738H2504.6V735.4H2503.2V732.4H2501.7V735H2500.2V731.4H2498.8V731.9H2497.3V729H2495.8V727.5H2494.4V728H2492.9V718.1H2491.4V729.4H2490V740.3H2488.5V745.7H2487V754.9H2485.6V754.3H2484.1V801H2482.6V824.9H2481.2V832.4H2479.7V812.3H2478.2V818.3H2476.8V834.2H2475.3V816.2H2473.8V844.9H2472.4V840.2H2470.9V837.7H2469.4V832.1H2468V844H2466.5V838.4H2465V843.6H2463.6V854.3H2462.1V850.3H2460.6V847.1H2459.2V854.5H2457.7V847.2H2456.2V852.2H2454.8V853.8H2453.3V848.4H2451.8V852.7H2450.4V850.5H2448.9V853H2447.4V851.7H2446V855H2444.5V852H2443V852.2H2441.6V849.2H2440.1V850.6H2438.6V846H2437.1V854H2435.7V850.7H2434.2V854.9H2432.7V848.4H2431.3V856.7H2429.8V844.4H2428.3V843.4H2426.9V847.7H2425.4V842H2423.9V842.8H2422.5V841H2421V842.9H2419.5V843.4H2418.1V845.7H2416.6V839H2415.1V839.9H2413.7V839H2412.2V843.4H2410.7V842.9H2409.3V840H2407.8V841.8H2406.3V842H2404.9V851.4H2403.4V838.8H2401.9V839.5H2400.5V834.4H2399V832.2H2397.5V830.8H2396.1V828.3H2394.6V833.1H2393.1V834.4H2391.7V826.2H2390.2V837.6H2388.7V837.8H2387.3V837.7H2385.8V846.6H2384.3V833.4H2382.9V843.5H2381.4V834.9H2379.9V840.7H2378.5V847.7H2377V863.2H2375.5V883.9H2374.1V883.9H2372.6V887.3H2371.1V861.2H2369.7V890.1H2368.2V885.2H2366.7V894.4H2365.3V876.1H2363.8V874.1H2362.3V871.2H2360.9V887.7H2359.4V874.5H2357.9V881.5H2356.5V883.4H2355V862.4H2353.5V887.3H2352.1V887.8H2350.6V858.6H2349.1V869.3H2347.7V890H2346.2V882.1H2344.7V871.8H2343.3V853.5H2341.8V864.7H2340.3V860H2338.8V860.9H2337.4V848.6H2335.9V855.9H2334.4V845.2H2333V853.7H2331.5V843.4H2330V856.7H2328.6V860.5H2327.1V843.5H2325.6V855H2324.2V845.2H2322.7V841.8H2321.2V839.2H2319.8V866H2318.3V850.1H2316.8V863.3H2315.4V849.7H2313.9V863.8H2312.4V846.9H2311V841.3H2309.5V854.2H2308V848.9H2306.6V850H2305.1V844.7H2303.6V856.2H2302.2V837.9H2300.7V850.7H2299.2V834.5H2297.8V820.9H2296.3V853.3H2294.8V857.1H2293.4V817.1H2291.9V834.8H2290.4V829.2H2289V852.3H2287.5V847.6H2286V825.3H2284.6V849.3H2283.1V836.1H2281.6V830.7H2280.2V842.8H2278.7V810.9H2277.2V827.6H2275.8V814.7H2274.3V841.4H2272.8V816.6H2271.4V810.3H2269.9V828.4H2268.4V807.7H2267V820.3H2265.5V805.6H2264V813.5H2262.6V803.6H2261.1V808.5H2259.6V797.6H2258.2V780.5H2256.7V791.6H2255.2V805.5H2253.8V784H2252.3V796.3H2250.8V787.8H2249.4V802.4H2247.9V789.8H2246.4V786.3H2245V796.2H2243.5V792.1H2242V808H2240.5V802.3H2239.1V787.7H2237.6V804H2236.1V792.8H2234.7V780.5H2233.2V779.7H2231.7V799.3H2230.3V789.5H2228.8V787.7H2227.3V771.4H2225.9V776.8H2224.4V768.8H2222.9V779.8H2221.5V764H2220V765.1H2218.5V770.3H2217.1V759.4H2215.6V767.7H2214.1V765.2H2212.7V753.8H2211.2V752.2H2209.7V756.6H2208.3V752.3H2206.8V747.8H2205.3V745.3H2203.9V747.9H2202.4V752.7H2200.9V771.7H2199.5V745H2198V744.7H2196.5V742.8H2195.1V740.7H2193.6V738.9H2192.1V737.1H2190.7V733H2189.2V729.4H2187.7V728.5H2186.3V725.2H2184.8V727.9H2183.3V760.9H2181.9V742H2180.4V747.9H2178.9V748H2177.5V755.4H2176V741.2H2174.5V735.7H2173.1V734.3H2171.6V730.1H2170.1V725.9H2168.7V728H2167.2V724.9H2165.7V762.9H2164.3V768.8H2162.8V789.4H2161.3V790.1H2159.9V788.4H2158.4V787.9H2156.9V789.9H2155.5V789.3H2154V788.6H2152.5V792.3H2151.1V787H2149.6V790.9H2148.1V792.3H2146.6V799.1H2145.2V794.1H2143.7V798.5H2142.2V799.3H2140.8V799.7H2139.3V806.8H2137.8V802.6H2136.4V800.3H2134.9V803.2H2133.4V800.2H2132V806.1H2130.5V805.1H2129V813.2H2127.6V801.8H2126.1V805.2H2124.6V802.2H2123.2V788.7H2121.7V813.3H2120.2V802.8H2118.8V801.8H2117.3V805.7H2115.8V798H2114.4V792.3H2112.9V799.2H2111.4V796.1H2110V797.1H2108.5V797.1H2107V782H2105.6V791.1H2104.1V785.4H2102.6V787.6H2101.2V795.5H2099.7V788.3H2098.2V786.2H2096.8V784.5H2095.3V780.2H2093.8V779.7H2092.4V779.4H2090.9V780.5H2089.4V775.5H2088V772.8H2086.5V773.9H2085V776.2H2083.6V773.6H2082.1V773.6H2080.6V776.2H2079.2V780H2077.7V773.3H2076.2V772.8H2074.8V771.2H2073.3V769.4H2071.8V771.7H2070.4V762.2H2068.9V755.7H2067.4V761.3H2066V759.2H2064.5V758.6H2063V753H2061.6V749.4H2060.1V751.8H2058.6V749.1H2057.2V751.9H2055.7V750.7H2054.2V749.2H2052.8V749.8H2051.3V747.4H2049.8V745.5H2048.3V742.8H2046.9V742.4H2045.4V745.8H2043.9V739.5H2042.5V739.7H2041V742.3H2039.5V737.6H2038.1V742.3H2036.6V739H2035.1V736.9H2033.7V738.2H2032.2V734.4H2030.7V735.4H2029.3V741H2027.8V734.7H2026.3V734.9H2024.9V734H2023.4V731.1H2021.9V734.4H2020.5V735.2H2019V730.2H2017.5V734.1H2016.1V728.5H2014.6V727.2H2013.1V729.2H2011.7V729.8H2010.2V729.1H2008.7V723.7H2007.3V723.3H2005.8V722.4H2004.3V719.1H2002.9V719.7H2001.4V715.1H1999.9V712H1998.5V710.1H1997V710.6H1995.5V710.9H1994.1V713.7H1992.6V719.5H1991.1V742.4H1989.7V745.5H1988.2V743.3H1986.7V742.7H1985.3V747.3H1983.8V737.2H1982.3V735.8H1980.9V736H1979.4V732.9H1977.9V730H1976.5V726.1H1975V725.8H1973.5V723.6H1972.1V723.7H1970.6V722.1H1969.1V718.2H1967.7V718.4H1966.2V717.5H1964.7V717.9H1963.3V722.5H1961.8V722.7H1960.3V766.3H1958.9V831H1957.4V810.8H1955.9V843H1954.5V819.4H1953V862.7H1951.5V874.7H1950V868.2H1948.6V862.4H1947.1V862H1945.6V864.5H1944.2V850.6H1942.7V858.1H1941.2V862.6H1939.8V859.9H1938.3V860.5H1936.8V865.8H1935.4V868.2H1933.9V860.4H1932.4V857.1H1931V856.5H1929.5V861.4H1928V858.3H1926.6V862.3H1925.1V861.5H1923.6V856.6H1922.2V852.3H1920.7V853.1H1919.2V846.3H1917.8V846.8H1916.3V841.7H1914.8V843.9H1913.4V845.8H1911.9V849.8H1910.4V843.8H1909V847.3H1907.5V849.7H1906V854H1904.6V863.6H1903.1V847.1H1901.6V845.9H1900.2V845.4H1898.7V848.3H1897.2V846.6H1895.8V850.8H1894.3V844.2H1892.8V848.6H1891.4V843.9H1889.9V849.5H1888.4V852.3H1887V852.9H1885.5V860.1H1884V860.3H1882.6V854.2H1881.1V848.4H1879.6V861.6H1878.2V857.3H1876.7V848.3H1875.2V851H1873.8V850.9H1872.3V848.3H1870.8V843.8H1869.4V843.1H1867.9V843.1H1866.4V851.3H1865V852.6H1863.5V849.6H1862V851.7H1860.6V847H1859.1V853.9H1857.6V842.4H1856.1V846.1H1854.7V856.6H1853.2V843.1H1851.7V831.6H1850.3V830.2H1848.8V834.1H1847.3V840.3H1845.9V841.2H1844.4ZM2860 735.6V735.6H2861.5V655.2H2862.9V652.6H2864.4V647.5H2865.9V651.3H2867.4V654H2868.8V655.7H2870.3V678.2H2871.8V784.1H2873.3V773.2H2874.7V782.1H2876.2V835.4H2877.7V866H2879.2V870.6H2880.6V869.3H2882.1V899.8H2883.6V921.7H2885.1V898.3H2886.5V888.2H2888V902.6H2889.5V921H2890.9V914.7H2892.4V952.4H2893.9V925.5H2895.4V947.1H2896.8V941.9H2898.3V903.7H2899.8V919.9H2901.3V954.6H2899.8V942.1H2898.3V956H2896.8V988.9H2895.4V971.5H2893.9V993.1H2892.4V995H2890.9V927.3H2889.5V933.1H2888V941.1H2886.5V940.6H2885.1V961.2H2883.6V910.2H2882.1V910.2H2880.6V891.2H2879.2V876.4H2877.7V871.9H2876.2V866.6H2874.7V880.5H2873.3V814H2871.8V866.4H2870.3V778.4H2868.8V738.9H2867.4V694.3H2865.9V773.3H2864.4V776.7H2862.9V743.5H2861.5V789.3H2860Z" fill="#DADAEB" shape-rendering="crispEdges"/>
<path d="M1145.5 746.5L1147.2 750.9L1148.8 754.1L1150.6 756.3L1152.4 760.5L1154.2 762.3L1156.1 764.1L1157.4 770.8L1158.8 775.8L1160.1 771.4L1161.5 767.7L1162.8 769.3L1164.2 770L1165.6 769.9L1166.9 770.4L1168.4 773.6L1169.9 775.4L1171.4 779.5L1172.9 781.9L1174.4 782.8L1175.9 784.9L1177.3 791.4L1178.7 798.4L1180.5 781.3L1181.8 790.7L1183.2 801.2L1184.7 802.5L1186.2 802.5L1187.7 803.9L1188.6 814.7L1190.2 818.3L1191.9 820.1L1193.1 806.6L1194.5 806.9L1195.8 806.9L1197.2 807.5L1198.6 808.4L1200.4 818.3L1201.9 812.6L1203.4 807.9L1204.9 803.9L1206.3 822L1208.5 814.7L1210.3 817.6L1212.1 819.2L1212.5 830.1L1213.9 827.6L1215.3 825.4L1216.6 822.9L1218 827.4L1219.3 833.7L1221.2 830.8L1223 828.3L1224.8 829.7L1226.6 831L1227.5 846.4L1228.7 834.4L1229.8 820.1L1231.1 839.1L1232.6 835.4L1234.1 829.5L1235.6 826.5L1237.4 835.5L1238.8 833L1240.1 830.1L1241.5 833.4L1242.9 839.1L1244.2 835.6L1245.6 833.7L1247.4 833.9L1249.2 836.4L1250.1 826.5L1251.7 825.5L1253.3 824.7L1254.6 835.5L1256.1 835.9L1257.6 836.6L1259.1 835.5L1260.9 835.5L1262.7 837.3L1263.7 845.5L1265.5 837.3L1266.8 836.8L1268.2 838.8L1269.5 837.7L1270.9 839.1L1272.7 846.4L1273.9 848.4L1275 850.9L1276.3 839.1L1277.8 839.1L1279.3 838.5L1280.8 837.3L1282.2 838.2L1283.5 837.3L1284.9 836.5L1286.3 837.3L1287.2 845.5L1289 831.9L1290.5 832.3L1292 834.2L1293.5 835.5L1295.3 837.9L1297.1 842.7L1298.5 844.5L1299.8 845.2L1301.2 845.7L1302.5 846.4L1303.9 843.1L1305.2 840L1306.6 850.2L1308 859L1308.9 839.1L1310.3 864.4L1312.5 844.6L1314.3 844.8L1316.1 846.4L1317.9 853.1L1319.7 859L1321.2 858.9L1322.7 859L1324.2 859L1325.1 869.9L1326.9 853.6L1328.3 857.6L1329.7 862.6L1331.5 864.4L1333.3 864.4L1335.4 872.6L1336.6 867.4L1337.8 862.6L1339.6 849.1L1341.1 849.7L1342.6 849.4L1344.1 850.9L1345.6 852.6L1347.1 852.1L1348.6 854.5L1350.5 859L1352.3 860.7L1354.1 864.4L1355.9 858.1L1357.4 858.6L1358.9 857.9L1360.4 857.2L1361.9 857.2L1363.4 860.8L1364.9 860.8L1366.2 866.3L1367.4 859.8L1368.5 855.4L1370 854.3L1371.5 853.8L1373.1 853.6L1374.4 849.8L1375.8 846.4L1377.6 842.1L1379.4 839.1L1380.3 845.5L1381.6 846.5L1383 847.6L1384.4 846.8L1385.7 847.3L1387.1 847.7L1388.4 848L1389.8 849.2L1391.1 850L1392.5 849.7L1393.9 848.9L1395.2 849.8L1396.6 848.2L1398 848.7L1399.5 848L1400.9 847.7L1402.4 845.8L1403.8 845.5L1405.2 847.4L1406.5 847.9L1407.9 850.8L1409.2 851.8L1411 847.3L1412.8 844.6L1414.3 844.6L1415.7 842.7L1417.2 840.5L1418.6 839.8L1420.1 839.1L1421.9 840.7L1423.7 842.7L1425.5 850L1427 851.6L1428.5 853.6L1430 854.5L1431.5 852.9L1433 852.2L1434.5 851.8L1436.1 850.4L1437.7 850.2L1439.3 849.3L1440.9 849.1L1442.2 850L1443.6 850.7L1444.9 853.4L1446.3 853.6L1447.8 855.4L1449.3 857.9L1450.8 860.8L1452.6 868.1L1454.1 866.6L1455.6 865.2L1457.1 862.6L1458.9 859M1846.9 834.6L1847.1 834.6L1848 828.3L1849.4 829.2L1850.7 828.5L1852.1 827.4L1853.5 828.3L1854.4 837.3L1855.9 838.1L1857.4 838.6L1858.9 840.9L1860.4 840.7L1861.9 843.5L1863.4 843.7L1865.2 839.1L1866.7 838.9L1868.2 838.7L1869.7 840L1870.6 845.5L1872.1 843.9L1873.6 842.9L1875.2 842.7L1876.3 846.5L1877.5 849.1L1879 843.9L1880.6 840L1882.4 841.9L1884.2 841.8L1885.1 850L1886.9 847.5L1888.7 842.7L1890.1 841.1L1891.4 842L1892.8 840.9L1894.1 840L1895.5 840.5L1896.9 840L1898.2 839.8L1899.6 840.9L1901.1 841.5L1902.6 842.8L1904.1 845.5L1905.3 846.6L1906.4 846.4L1908.6 836.4L1910.4 841.2L1912.2 843.7L1913.6 839.3L1914.9 834.6L1916.3 837.9L1917.6 842.7L1919 844.5L1920.4 847.3L1922.2 853.6L1924 853L1925.8 854.5L1927.6 847.3L1929.4 849.6L1931.2 851.8L1932.7 853.9L1934.2 855.1L1935.7 858.1L1937.1 856.6L1938.4 855.4L1939.6 858.3L1940.8 860.8L1942.3 853.9L1943.9 847.3L1944.8 855.4L1946.1 855.6L1947.5 858.1L1949.3 864L1951.1 869L1952 850L1952.9 831.9L1954.2 806.6L1955.3 793L1957.1 804.8L1958.5 786.7L1958.9 763.2L1959.2 718.9L1960.6 718L1962 718.9L1963.8 714.6L1965.6 712.5L1967.4 715.4L1969.2 718L1970.5 719.7L1971.9 721.6L1973.4 722.4L1974.9 721.1L1976.4 722.5L1977.8 725.4L1979.1 729.7L1980.9 732.2L1982.7 734.2L1984.6 738.8L1986.1 739.4L1987.6 739.3L1989.1 739.7L1990.9 712.5L1992.4 711.6L1993.9 709.4L1995.4 707.1L1997.2 707.7L1999 709.8L2000.4 710.9L2001.7 712.7L2003.1 715.8L2004.4 717.1L2005.8 719L2007.2 721.9L2008.5 723.8L2009.9 725.2L2011.4 724.9L2012.9 724.1L2014.4 723.4L2016.2 728.8L2017.7 728.3L2019.2 728L2020.7 727.9L2022.5 729.1L2024.3 731.5L2025.8 732.4L2027.4 732.1L2028.9 732.4L2030.4 732.8L2031.9 733.6L2033.4 732.4L2035.2 733.3L2037 733.3L2038.4 734.7L2039.7 737L2041.2 738.2L2042.7 737.1L2044.2 737.9L2045.7 739.5L2047.2 742L2048.8 742.4L2050.1 743.2L2051.5 743.5L2052.8 745.3L2054.2 746.9L2055.7 747.2L2057.2 746.1L2058.7 746L2060.2 746.5L2061.7 749.1L2063.2 749.6L2064.6 755L2065.9 759.6L2068.1 753.2L2069.3 758.7L2070.5 763.2L2072.3 763.7L2074.1 765.9L2075.9 770.4L2077.2 772.5L2078.6 774.9L2079.9 771.4L2081.3 769.5L2083.1 771.8L2084.9 773.1L2086.4 773.1L2087.9 771.2L2089.4 769.5L2091.2 775.8L2092.6 776.5L2094 777.4L2095.3 778.9L2096.7 780.4L2098 783.4L2099.3 785.3L2100.7 788.5L2102 786.9L2103.4 783.4L2104.8 780.4L2106.2 781L2107.5 779.5L2109.3 788.5L2110.7 788.3L2112 785.8L2113.4 790.2L2114.8 794.8L2116.1 796.8L2117.5 796.5L2118.8 798.2L2120.2 798.4L2122.4 784L2123.5 789L2124.7 795.7L2126.3 795.3L2127.9 795.1L2129.4 796.4L2131 796.6L2132.5 798.1L2134 798.4L2135.6 797.5L2136.7 799.3L2137.9 799.3L2140.1 790.3L2141.4 789.7L2142.8 789.9L2144.1 788.8L2145.5 789.4L2146.9 788.6L2148.2 787.2L2149.6 785.3L2150.9 784.9L2152.7 784.1L2154.5 784L2156.3 785.9L2158.2 785.8L2160 785.9L2161.8 787.6L2163.6 765.9L2165.4 746.9L2166.3 720.7L2167.6 723L2169 723.4L2170.4 725L2171.7 728.8L2173.5 729.8L2175.3 731.5L2176.7 734.1L2178.1 737.5L2179.5 741.5L2181 736L2182.6 731.5L2183.9 727.4L2185.3 722.5L2187.1 725.4L2188.9 728.8L2190.7 731.7L2192.5 734.2L2194 736.2L2195.5 739.2L2197 741.5L2198.4 744L2199.7 745.1L2200 745.1L2201.8 744.9L2203.6 742.4L2205.1 743.8L2206.6 747.4L2208.1 748.7L2209.6 749.9L2211.2 751.6L2212.7 753.2L2214.2 754.2L2215.7 757.1L2217.2 757.8L2218.7 759.8L2220.2 760.2L2221.7 763.2L2223.1 764.5L2224.4 765.8L2225.8 765.9L2227.1 767.7L2228 774.9L2229.5 774.9L2231 773.7L2232.5 771.3L2234.4 778.6L2236.2 781.2L2238 784.9L2239.3 782.8L2240.7 784L2242 782.7L2243.4 781.3L2244.9 784.2L2246.4 784.3L2247.9 786.7L2249.3 783.6L2250.6 779.5L2252.4 782.4L2254.2 784L2255.9 779.9L2257.5 777.6L2258.2 786.7L2259.7 800.3L2261 796L2262.4 793L2264.2 794.5L2266 795.7L2267.4 801.8L2268.7 806.6L2270.5 807.3L2272.3 806.6L2273.8 809.5L2275.3 813.6L2276.9 817.4L2278 809.5L2279.2 799.3L2280.5 831.9L2282 820.7L2283.5 808.4L2285.2 821.3L2286.8 833.7L2288.2 825.5L2289.5 817.4L2291.3 816.1L2293.1 812.9L2294.4 835.5L2295.8 826.5L2297.2 817.3L2298.6 808.4L2300.4 822.9L2302.2 837.3L2303.7 835.4L2305.2 833.9L2306.7 832.8L2308.2 833.8L2309.7 835.3L2311.2 838.2L2312.7 839.7L2314.2 839.2L2315.7 840L2317.1 843.7L2318.4 849.1L2319.3 832.8L2321.2 838.5L2323 842.7L2324.6 836L2326.2 827.4L2327.5 846.4L2328.8 843.7L2330.2 839.1L2331.7 837.5L2333.2 838.7L2334.7 837.3L2336.1 841.4L2337.4 845.5L2339.2 849.5L2341 852.7L2342.9 847.9L2344.7 844.6L2346 854.6L2347.4 862.6L2348.7 854.6L2350.1 846.4L2351.9 870.8L2353.3 863.6L2354.6 858.1L2356.1 859.6L2357.6 860.1L2359.1 862.6L2360.9 863.6L2362.7 866.3L2364.3 872L2365.8 878.9L2367.5 870.5L2369.1 862.6L2370.4 853.1L2371.8 843.7L2373.2 876.2L2375.4 853.6L2376.8 844.3L2378.1 835.5L2379.9 830.1L2381.5 831.1L2383.1 832.2L2384.7 832.4L2386.3 832.8L2388.1 825.6L2389.6 824.7L2391.1 824.3L2392.6 824.7L2394.1 825.7L2395.6 827L2397.1 828.3L2398.9 832.5L2400.7 834.6L2402.2 835.2L2403.7 838.3L2405.2 840L2406.8 837.4L2408.3 836.6L2409.8 835.5L2411.6 837.5L2413.4 837.3L2415.2 836.9L2417 834.6L2418.5 835.4L2420 838.4L2421.5 839.1L2423.3 840.7L2425.1 840.9L2426.9 840.5L2428.8 840L2430.6 841.2L2432.4 844.6L2434.2 844.7L2436 846.4L2437.3 844.5L2438.7 841.8L2440.5 842.9L2442.3 845.5L2443.7 847.6L2445 850.9L2446.5 850.1L2448 849.7L2449.5 849.1L2451.4 844.6L2453.2 844.5L2455 846.4L2456.3 845.2L2457.7 841.8L2459.2 845L2460.7 846L2462.2 849.1L2464 839.1L2465.4 838.5L2466.7 835.5L2467.6 818.3L2469 822.8L2470.3 828.3L2471.7 829L2473.1 830.1L2474.9 811.1L2476.2 813.8L2477.6 817.4L2479.4 804.8L2480.3 766.8L2482.1 794.8L2483.5 755.9L2485.7 749.6L2487.5 732.4L2489.3 736.1L2491.1 718.9L2492.6 714.4L2493.9 723.4L2495.4 725.9L2496.9 726.3L2498.4 727.9L2500 728.5L2501.5 731.7L2503.1 731.4L2504.7 733.3L2506.5 722.5L2508.3 719.8L2509.9 720.7L2511.5 720.6L2513.1 722.8L2514.6 722.5L2516 723.6L2517.4 724.3L2518.7 725.6L2520.1 727.9L2521.4 727.9L2522.8 730L2524.1 730.9L2525.5 731.5L2526.8 731.7L2528.1 734L2529.5 734.2L2531.1 729.4L2532.7 723.4L2534.4 721L2536 720.7L2537.6 721.7L2539.2 724.9L2540.9 727L2542.4 726.2L2543.9 725.9L2545.4 726.1L2546.9 728.8L2548.4 730.4L2549.9 733.3L2551.4 732.9L2552.9 731.8L2554.4 732.4L2555.9 735.4L2557.4 736.8L2559 739.7L2560.8 742.2L2562.6 744.2L2563.9 743.7L2565.3 742.6L2566.6 743.7L2568 743.3L2568.9 731.5L2570.7 732L2572.5 731.5L2574.3 736.4L2576.1 739.7L2577.9 748.7L2579.7 750.5L2580 749.6L2581.8 752.6L2583.6 753.2L2585.4 758.5L2587.2 761.4L2588.6 763.8L2589.9 767.7L2591.8 767.1L2593.6 765L2595.4 769.1L2597.2 771.3L2599 774.1L2600.8 776.7L2602.2 777.2L2603.5 777.3L2604.9 776.6L2606.2 776.7L2608 775.3L2609.8 774.9L2611.2 778.7L2612.5 783.1L2614.1 784.4L2615.6 784.5L2617.1 785.8L2618.9 792L2620.7 797.5L2622 790.5L2623.4 784.9L2624.9 785.6L2626.4 787.4L2627.9 789.4L2629.4 793.1L2630.9 795.6L2632.4 797.5L2633.8 798.4L2635.2 799L2636.5 800.4L2637.9 800.3L2640 809.3L2641.2 801.1L2642.4 791.2L2643.9 793.4L2645.4 794.4L2646.9 795.7L2648.4 797.5L2649.9 798.3L2651.4 799.3L2652.9 801.8L2654.4 804.8L2655.9 807.5L2657.8 813.8L2659.1 811.4L2660.4 806L2661.7 803.9L2663.5 815.6L2665.2 812.4L2666.9 810.4L2668.6 809.3L2670 811.5L2671.3 811.4L2672.7 812.6L2674 813.8L2675.4 815.4L2676.7 817.2L2678.1 818.3L2679.5 819.2L2680.8 820.5L2682.2 819.1L2683.5 819.7L2684.9 820.1L2686.2 820.4L2687.6 821.6L2689 822.9L2690.3 824.7L2692.1 827.1L2693.9 829.2L2695.7 831.2L2697.5 835.5L2698.9 831.2L2700.3 825.6L2701.8 828L2703.3 827.5L2704.8 830.1L2706.5 833.8L2708.1 835.1L2709.8 838.2L2711.4 835.7L2712.9 831L2714.4 827L2716 824.7L2717.6 828.9L2719.2 832.8L2720.7 834.1L2722.3 838L2723.8 839.1L2725.1 837.7L2726.5 835.5L2728.1 835.6L2729.6 836.4L2731.2 837.9L2732.8 839.1L2734.2 840.7L2735.5 840.2L2736.9 839.5L2738.2 840.9L2740 842.6L2741.8 843.7L2743.2 849.5L2744.6 854.5L2746.1 856.3L2747.6 858.9L2749.1 860.8L2750.9 855.5L2752.7 849.1L2754.1 856.3L2755.4 864.4L2756.8 861.3L2758.1 859L2759.6 860.1L2761.1 864.2L2762.6 865.4L2764.4 871.7L2766 870.6L2767.5 867.7L2769 866.3L2770.3 863.5L2771.7 861.7L2773 866.3L2774.4 870.8L2775.9 871.4L2777.4 871.2L2778.9 872.6L2779.3 882.5L2780.7 883.2L2782 884.2L2783.4 884.3L2784.9 880.9L2786.4 875.4L2788 870.8L2789.3 879.5L2790.7 886.1L2792.3 893.3L2793.9 898.8L2795.2 877.1L2796.5 879.2L2797.9 878.5L2799.3 878.7L2800.6 880.7L2800.5 881L2802 883.1L2803.5 887.2L2805.1 888.6L2806.8 889.4L2808.4 889.5L2810.1 891.1L2811.4 892.2L2812.7 893.7L2813.9 896.2L2815.6 901.3L2817.3 905.5L2819 910.1L2820.3 884.8L2821.5 889.7L2822.8 895.9L2824.1 901.3L2825.6 900.7L2827.2 900L2828.8 899.8L2830.4 898.7L2831.6 916.5L2833.2 913.4L2834.8 913.3L2836.4 910.6L2838 908.9L2839.6 911.4L2841.1 912.6L2842.7 914.2L2844.3 916.5L2845.9 919.8L2847.5 923.1L2849.1 926.9L2850.6 929.1L2851.9 920.9L2853.2 913.9L2854.5 918.8L2855.8 924.1" fill="none" stroke="#630066" stroke-width="3.3" stroke-linejoin="round" stroke-linecap="round" shape-rendering="crispEdges"/>
<path d="M1145.5 746.5h0M1147.2 750.9h0M1148.8 754.1h0M1150.6 756.3h0M1152.4 760.5h0M1154.2 762.3h0M1156.1 764.1h0M1157.4 770.8h0M1158.8 775.8h0M1160.1 771.4h0M1161.5 767.7h0M1162.8 769.3h0M1164.2 770h0M1165.6 769.9h0M1166.9 770.4h0M1168.4 773.6h0M1169.9 775.4h0M1171.4 779.5h0M1172.9 781.9h0M1174.4 782.8h0M1175.9 784.9h0M1177.3 791.4h0M1178.7 798.4h0M1180.5 781.3h0M1181.8 790.7h0M1183.2 801.2h0M1184.7 802.5h0M1186.2 802.5h0M1187.7 803.9h0M1188.6 814.7h0M1190.2 818.3h0M1191.9 820.1h0M1193.1 806.6h0M1194.5 806.9h0M1195.8 806.9h0M1197.2 807.5h0M1198.6 808.4h0M1200.4 818.3h0M1201.9 812.6h0M1203.4 807.9h0M1204.9 803.9h0M1206.3 822h0M1208.5 814.7h0M1210.3 817.6h0M1212.1 819.2h0M1212.5 830.1h0M1213.9 827.6h0M1215.3 825.4h0M1216.6 822.9h0M1218 827.4h0M1219.3 833.7h0M1221.2 830.8h0M1223 828.3h0M1224.8 829.7h0M1226.6 831h0M1227.5 846.4h0M1228.7 834.4h0M1229.8 820.1h0M1231.1 839.1h0M1232.6 835.4h0M1234.1 829.5h0M1235.6 826.5h0M1237.4 835.5h0M1238.8 833h0M1240.1 830.1h0M1241.5 833.4h0M1242.9 839.1h0M1244.2 835.6h0M1245.6 833.7h0M1247.4 833.9h0M1249.2 836.4h0M1250.1 826.5h0M1251.7 825.5h0M1253.3 824.7h0M1254.6 835.5h0M1256.1 835.9h0M1257.6 836.6h0M1259.1 835.5h0M1260.9 835.5h0M1262.7 837.3h0M1263.7 845.5h0M1265.5 837.3h0M1266.8 836.8h0M1268.2 838.8h0M1269.5 837.7h0M1270.9 839.1h0M1272.7 846.4h0M1273.9 848.4h0M1275 850.9h0M1276.3 839.1h0M1277.8 839.1h0M1279.3 838.5h0M1280.8 837.3h0M1282.2 838.2h0M1283.5 837.3h0M1284.9 836.5h0M1286.3 837.3h0M1287.2 845.5h0M1289 831.9h0M1290.5 832.3h0M1292 834.2h0M1293.5 835.5h0M1295.3 837.9h0M1297.1 842.7h0M1298.5 844.5h0M1299.8 845.2h0M1301.2 845.7h0M1302.5 846.4h0M1303.9 843.1h0M1305.2 840h0M1306.6 850.2h0M1308 859h0M1308.9 839.1h0M1310.3 864.4h0M1312.5 844.6h0M1314.3 844.8h0M1316.1 846.4h0M1317.9 853.1h0M1319.7 859h0M1321.2 858.9h0M1322.7 859h0M1324.2 859h0M1325.1 869.9h0M1326.9 853.6h0M1328.3 857.6h0M1329.7 862.6h0M1331.5 864.4h0M1333.3 864.4h0M1335.4 872.6h0M1336.6 867.4h0M1337.8 862.6h0M1339.6 849.1h0M1341.1 849.7h0M1342.6 849.4h0M1344.1 850.9h0M1345.6 852.6h0M1347.1 852.1h0M1348.6 854.5h0M1350.5 859h0M1352.3 860.7h0M1354.1 864.4h0M1355.9 858.1h0M1357.4 858.6h0M1358.9 857.9h0M1360.4 857.2h0M1361.9 857.2h0M1363.4 860.8h0M1364.9 860.8h0M1366.2 866.3h0M1367.4 859.8h0M1368.5 855.4h0M1370 854.3h0M1371.5 853.8h0M1373.1 853.6h0M1374.4 849.8h0M1375.8 846.4h0M1377.6 842.1h0M1379.4 839.1h0M1380.3 845.5h0M1381.6 846.5h0M1383 847.6h0M1384.4 846.8h0M1385.7 847.3h0M1387.1 847.7h0M1388.4 848h0M1389.8 849.2h0M1391.1 850h0M1392.5 849.7h0M1393.9 848.9h0M1395.2 849.8h0M1396.6 848.2h0M1398 848.7h0M1399.5 848h0M1400.9 847.7h0M1402.4 845.8h0M1403.8 845.5h0M1405.2 847.4h0M1406.5 847.9h0M1407.9 850.8h0M1409.2 851.8h0M1411 847.3h0M1412.8 844.6h0M1414.3 844.6h0M1415.7 842.7h0M1417.2 840.5h0M1418.6 839.8h0M1420.1 839.1h0M1421.9 840.7h0M1423.7 842.7h0M1425.5 850h0M1427 851.6h0M1428.5 853.6h0M1430 854.5h0M1431.5 852.9h0M1433 852.2h0M1434.5 851.8h0M1436.1 850.4h0M1437.7 850.2h0M1439.3 849.3h0M1440.9 849.1h0M1442.2 850h0M1443.6 850.7h0M1444.9 853.4h0M1446.3 853.6h0M1447.8 855.4h0M1449.3 857.9h0M1450.8 860.8h0M1452.6 868.1h0M1454.1 866.6h0M1455.6 865.2h0M1457.1 862.6h0M1458.9 859h0M1846.9 834.6h0M1847.1 834.6h0M1848 828.3h0M1849.4 829.2h0M1850.7 828.5h0M1852.1 827.4h0M1853.5 828.3h0M1854.4 837.3h0M1855.9 838.1h0M1857.4 838.6h0M1858.9 840.9h0M1860.4 840.7h0M1861.9 843.5h0M1863.4 843.7h0M1865.2 839.1h0M1866.7 838.9h0M1868.2 838.7h0M1869.7 840h0M1870.6 845.5h0M1872.1 843.9h0M1873.6 842.9h0M1875.2 842.7h0M1876.3 846.5h0M1877.5 849.1h0M1879 843.9h0M1880.6 840h0M1882.4 841.9h0M1884.2 841.8h0M1885.1 850h0M1886.9 847.5h0M1888.7 842.7h0M1890.1 841.1h0M1891.4 842h0M1892.8 840.9h0M1894.1 840h0M1895.5 840.5h0M1896.9 840h0M1898.2 839.8h0M1899.6 840.9h0M1901.1 841.5h0M1902.6 842.8h0M1904.1 845.5h0M1905.3 846.6h0M1906.4 846.4h0M1908.6 836.4h0M1910.4 841.2h0M1912.2 843.7h0M1913.6 839.3h0M1914.9 834.6h0M1916.3 837.9h0M1917.6 842.7h0M1919 844.5h0M1920.4 847.3h0M1922.2 853.6h0M1924 853h0M1925.8 854.5h0M1927.6 847.3h0M1929.4 849.6h0M1931.2 851.8h0M1932.7 853.9h0M1934.2 855.1h0M1935.7 858.1h0M1937.1 856.6h0M1938.4 855.4h0M1939.6 858.3h0M1940.8 860.8h0M1942.3 853.9h0M1943.9 847.3h0M1944.8 855.4h0M1946.1 855.6h0M1947.5 858.1h0M1949.3 864h0M1951.1 869h0M1952 850h0M1952.9 831.9h0M1954.2 806.6h0M1955.3 793h0M1957.1 804.8h0M1958.5 786.7h0M1958.9 763.2h0M1959.2 718.9h0M1960.6 718h0M1962 718.9h0M1963.8 714.6h0M1965.6 712.5h0M1967.4 715.4h0M1969.2 718h0M1970.5 719.7h0M1971.9 721.6h0M1973.4 722.4h0M1974.9 721.1h0M1976.4 722.5h0M1977.8 725.4h0M1979.1 729.7h0M1980.9 732.2h0M1982.7 734.2h0M1984.6 738.8h0M1986.1 739.4h0M1987.6 739.3h0M1989.1 739.7h0M1990.9 712.5h0M1992.4 711.6h0M1993.9 709.4h0M1995.4 707.1h0M1997.2 707.7h0M1999 709.8h0M2000.4 710.9h0M2001.7 712.7h0M2003.1 715.8h0M2004.4 717.1h0M2005.8 719h0M2007.2 721.9h0M2008.5 723.8h0M2009.9 725.2h0M2011.4 724.9h0M2012.9 724.1h0M2014.4 723.4h0M2016.2 728.8h0M2017.7 728.3h0M2019.2 728h0M2020.7 727.9h0M2022.5 729.1h0M2024.3 731.5h0M2025.8 732.4h0M2027.4 732.1h0M2028.9 732.4h0M2030.4 732.8h0M2031.9 733.6h0M2033.4 732.4h0M2035.2 733.3h0M2037 733.3h0M2038.4 734.7h0M2039.7 737h0M2041.2 738.2h0M2042.7 737.1h0M2044.2 737.9h0M2045.7 739.5h0M2047.2 742h0M2048.8 742.4h0M2050.1 743.2h0M2051.5 743.5h0M2052.8 745.3h0M2054.2 746.9h0M2055.7 747.2h0M2057.2 746.1h0M2058.7 746h0M2060.2 746.5h0M2061.7 749.1h0M2063.2 749.6h0M2064.6 755h0M2065.9 759.6h0M2068.1 753.2h0M2069.3 758.7h0M2070.5 763.2h0M2072.3 763.7h0M2074.1 765.9h0M2075.9 770.4h0M2077.2 772.5h0M2078.6 774.9h0M2079.9 771.4h0M2081.3 769.5h0M2083.1 771.8h0M2084.9 773.1h0M2086.4 773.1h0M2087.9 771.2h0M2089.4 769.5h0M2091.2 775.8h0M2092.6 776.5h0M2094 777.4h0M2095.3 778.9h0M2096.7 780.4h0M2098 783.4h0M2099.3 785.3h0M2100.7 788.5h0M2102 786.9h0M2103.4 783.4h0M2104.8 780.4h0M2106.2 781h0M2107.5 779.5h0M2109.3 788.5h0M2110.7 788.3h0M2112 785.8h0M2113.4 790.2h0M2114.8 794.8h0M2116.1 796.8h0M2117.5 796.5h0M2118.8 798.2h0M2120.2 798.4h0M2122.4 784h0M2123.5 789h0M2124.7 795.7h0M2126.3 795.3h0M2127.9 795.1h0M2129.4 796.4h0M2131 796.6h0M2132.5 798.1h0M2134 798.4h0M2135.6 797.5h0M2136.7 799.3h0M2137.9 799.3h0M2140.1 790.3h0M2141.4 789.7h0M2142.8 789.9h0M2144.1 788.8h0M2145.5 789.4h0M2146.9 788.6h0M2148.2 787.2h0M2149.6 785.3h0M2150.9 784.9h0M2152.7 784.1h0M2154.5 784h0M2156.3 785.9h0M2158.2 785.8h0M2160 785.9h0M2161.8 787.6h0M2163.6 765.9h0M2165.4 746.9h0M2166.3 720.7h0M2167.6 723h0M2169 723.4h0M2170.4 725h0M2171.7 728.8h0M2173.5 729.8h0M2175.3 731.5h0M2176.7 734.1h0M2178.1 737.5h0M2179.5 741.5h0M2181 736h0M2182.6 731.5h0M2183.9 727.4h0M2185.3 722.5h0M2187.1 725.4h0M2188.9 728.8h0M2190.7 731.7h0M2192.5 734.2h0M2194 736.2h0M2195.5 739.2h0M2197 741.5h0M2198.4 744h0M2199.7 745.1h0M2200 745.1h0M2201.8 744.9h0M2203.6 742.4h0M2205.1 743.8h0M2206.6 747.4h0M2208.1 748.7h0M2209.6 749.9h0M2211.2 751.6h0M2212.7 753.2h0M2214.2 754.2h0M2215.7 757.1h0M2217.2 757.8h0M2218.7 759.8h0M2220.2 760.2h0M2221.7 763.2h0M2223.1 764.5h0M2224.4 765.8h0M2225.8 765.9h0M2227.1 767.7h0M2228 774.9h0M2229.5 774.9h0M2231 773.7h0M2232.5 771.3h0M2234.4 778.6h0M2236.2 781.2h0M2238 784.9h0M2239.3 782.8h0M2240.7 784h0M2242 782.7h0M2243.4 781.3h0M2244.9 784.2h0M2246.4 784.3h0M2247.9 786.7h0M2249.3 783.6h0M2250.6 779.5h0M2252.4 782.4h0M2254.2 784h0M2255.9 779.9h0M2257.5 777.6h0M2258.2 786.7h0M2259.7 800.3h0M2261 796h0M2262.4 793h0M2264.2 794.5h0M2266 795.7h0M2267.4 801.8h0M2268.7 806.6h0M2270.5 807.3h0M2272.3 806.6h0M2273.8 809.5h0M2275.3 813.6h0M2276.9 817.4h0M2278 809.5h0M2279.2 799.3h0M2280.5 831.9h0M2282 820.7h0M2283.5 808.4h0M2285.2 821.3h0M2286.8 833.7h0M2288.2 825.5h0M2289.5 817.4h0M2291.3 816.1h0M2293.1 812.9h0M2294.4 835.5h0M2295.8 826.5h0M2297.2 817.3h0M2298.6 808.4h0M2300.4 822.9h0M2302.2 837.3h0M2303.7 835.4h0M2305.2 833.9h0M2306.7 832.8h0M2308.2 833.8h0M2309.7 835.3h0M2311.2 838.2h0M2312.7 839.7h0M2314.2 839.2h0M2315.7 840h0M2317.1 843.7h0M2318.4 849.1h0M2319.3 832.8h0M2321.2 838.5h0M2323 842.7h0M2324.6 836h0M2326.2 827.4h0M2327.5 846.4h0M2328.8 843.7h0M2330.2 839.1h0M2331.7 837.5h0M2333.2 838.7h0M2334.7 837.3h0M2336.1 841.4h0M2337.4 845.5h0M2339.2 849.5h0M2341 852.7h0M2342.9 847.9h0M2344.7 844.6h0M2346 854.6h0M2347.4 862.6h0M2348.7 854.6h0M2350.1 846.4h0M2351.9 870.8h0M2353.3 863.6h0M2354.6 858.1h0M2356.1 859.6h0M2357.6 860.1h0M2359.1 862.6h0M2360.9 863.6h0M2362.7 866.3h0M2364.3 872h0M2365.8 878.9h0M2367.5 870.5h0M2369.1 862.6h0M2370.4 853.1h0M2371.8 843.7h0M2373.2 876.2h0M2375.4 853.6h0M2376.8 844.3h0M2378.1 835.5h0M2379.9 830.1h0M2381.5 831.1h0M2383.1 832.2h0M2384.7 832.4h0M2386.3 832.8h0M2388.1 825.6h0M2389.6 824.7h0M2391.1 824.3h0M2392.6 824.7h0M2394.1 825.7h0M2395.6 827h0M2397.1 828.3h0M2398.9 832.5h0M2400.7 834.6h0M2402.2 835.2h0M2403.7 838.3h0M2405.2 840h0M2406.8 837.4h0M2408.3 836.6h0M2409.8 835.5h0M2411.6 837.5h0M2413.4 837.3h0M2415.2 836.9h0M2417 834.6h0M2418.5 835.4h0M2420 838.4h0M2421.5 839.1h0M2423.3 840.7h0M2425.1 840.9h0M2426.9 840.5h0M2428.8 840h0M2430.6 841.2h0M2432.4 844.6h0M2434.2 844.7h0M2436 846.4h0M2437.3 844.5h0M2438.7 841.8h0M2440.5 842.9h0M2442.3 845.5h0M2443.7 847.6h0M2445 850.9h0M2446.5 850.1h0M2448 849.7h0M2449.5 849.1h0M2451.4 844.6h0M2453.2 844.5h0M2455 846.4h0M2456.3 845.2h0M2457.7 841.8h0M2459.2 845h0M2460.7 846h0M2462.2 849.1h0M2464 839.1h0M2465.4 838.5h0M2466.7 835.5h0M2467.6 818.3h0M2469 822.8h0M2470.3 828.3h0M2471.7 829h0M2473.1 830.1h0M2474.9 811.1h0M2476.2 813.8h0M2477.6 817.4h0M2479.4 804.8h0M2480.3 766.8h0M2482.1 794.8h0M2483.5 755.9h0M2485.7 749.6h0M2487.5 732.4h0M2489.3 736.1h0M2491.1 718.9h0M2492.6 714.4h0M2493.9 723.4h0M2495.4 725.9h0M2496.9 726.3h0M2498.4 727.9h0M2500 728.5h0M2501.5 731.7h0M2503.1 731.4h0M2504.7 733.3h0M2506.5 722.5h0M2508.3 719.8h0M2509.9 720.7h0M2511.5 720.6h0M2513.1 722.8h0M2514.6 722.5h0M2516 723.6h0M2517.4 724.3h0M2518.7 725.6h0M2520.1 727.9h0M2521.4 727.9h0M2522.8 730h0M2524.1 730.9h0M2525.5 731.5h0M2526.8 731.7h0M2528.1 734h0M2529.5 734.2h0M2531.1 729.4h0M2532.7 723.4h0M2534.4 721h0M2536 720.7h0M2537.6 721.7h0M2539.2 724.9h0M2540.9 727h0M2542.4 726.2h0M2543.9 725.9h0M2545.4 726.1h0M2546.9 728.8h0M2548.4 730.4h0M2549.9 733.3h0M2551.4 732.9h0M2552.9 731.8h0M2554.4 732.4h0M2555.9 735.4h0M2557.4 736.8h0M2559 739.7h0M2560.8 742.2h0M2562.6 744.2h0M2563.9 743.7h0M2565.3 742.6h0M2566.6 743.7h0M2568 743.3h0M2568.9 731.5h0M2570.7 732h0M2572.5 731.5h0M2574.3 736.4h0M2576.1 739.7h0M2577.9 748.7h0M2579.7 750.5h0M2580 749.6h0M2581.8 752.6h0M2583.6 753.2h0M2585.4 758.5h0M2587.2 761.4h0M2588.6 763.8h0M2589.9 767.7h0M2591.8 767.1h0M2593.6 765h0M2595.4 769.1h0M2597.2 771.3h0M2599 774.1h0M2600.8 776.7h0M2602.2 777.2h0M2603.5 777.3h0M2604.9 776.6h0M2606.2 776.7h0M2608 775.3h0M2609.8 774.9h0M2611.2 778.7h0M2612.5 783.1h0M2614.1 784.4h0M2615.6 784.5h0M2617.1 785.8h0M2618.9 792h0M2620.7 797.5h0M2622 790.5h0M2623.4 784.9h0M2624.9 785.6h0M2626.4 787.4h0M2627.9 789.4h0M2629.4 793.1h0M2630.9 795.6h0M2632.4 797.5h0M2633.8 798.4h0M2635.2 799h0M2636.5 800.4h0M2637.9 800.3h0M2640 809.3h0M2641.2 801.1h0M2642.4 791.2h0M2643.9 793.4h0M2645.4 794.4h0M2646.9 795.7h0M2648.4 797.5h0M2649.9 798.3h0M2651.4 799.3h0M2652.9 801.8h0M2654.4 804.8h0M2655.9 807.5h0M2657.8 813.8h0M2659.1 811.4h0M2660.4 806h0M2661.7 803.9h0M2663.5 815.6h0M2665.2 812.4h0M2666.9 810.4h0M2668.6 809.3h0M2670 811.5h0M2671.3 811.4h0M2672.7 812.6h0M2674 813.8h0M2675.4 815.4h0M2676.7 817.2h0M2678.1 818.3h0M2679.5 819.2h0M2680.8 820.5h0M2682.2 819.1h0M2683.5 819.7h0M2684.9 820.1h0M2686.2 820.4h0M2687.6 821.6h0M2689 822.9h0M2690.3 824.7h0M2692.1 827.1h0M2693.9 829.2h0M2695.7 831.2h0M2697.5 835.5h0M2698.9 831.2h0M2700.3 825.6h0M2701.8 828h0M2703.3 827.5h0M2704.8 830.1h0M2706.5 833.8h0M2708.1 835.1h0M2709.8 838.2h0M2711.4 835.7h0M2712.9 831h0M2714.4 827h0M2716 824.7h0M2717.6 828.9h0M2719.2 832.8h0M2720.7 834.1h0M2722.3 838h0M2723.8 839.1h0M2725.1 837.7h0M2726.5 835.5h0M2728.1 835.6h0M2729.6 836.4h0M2731.2 837.9h0M2732.8 839.1h0M2734.2 840.7h0M2735.5 840.2h0M2736.9 839.5h0M2738.2 840.9h0M2740 842.6h0M2741.8 843.7h0M2743.2 849.5h0M2744.6 854.5h0M2746.1 856.3h0M2747.6 858.9h0M2749.1 860.8h0M2750.9 855.5h0M2752.7 849.1h0M2754.1 856.3h0M2755.4 864.4h0M2756.8 861.3h0M2758.1 859h0M2759.6 860.1h0M2761.1 864.2h0M2762.6 865.4h0M2764.4 871.7h0M2766 870.6h0M2767.5 867.7h0M2769 866.3h0M2770.3 863.5h0M2771.7 861.7h0M2773 866.3h0M2774.4 870.8h0M2775.9 871.4h0M2777.4 871.2h0M2778.9 872.6h0M2779.3 882.5h0M2780.7 883.2h0M2782 884.2h0M2783.4 884.3h0M2784.9 880.9h0M2786.4 875.4h0M2788 870.8h0M2789.3 879.5h0M2790.7 886.1h0M2792.3 893.3h0M2793.9 898.8h0M2795.2 877.1h0M2796.5 879.2h0M2797.9 878.5h0M2799.3 878.7h0M2800.6 880.7h0M2800.5 881h0M2802 883.1h0M2803.5 887.2h0M2805.1 888.6h0M2806.8 889.4h0M2808.4 889.5h0M2810.1 891.1h0M2811.4 892.2h0M2812.7 893.7h0M2813.9 896.2h0M2815.6 901.3h0M2817.3 905.5h0M2819 910.1h0M2820.3 884.8h0M2821.5 889.7h0M2822.8 895.9h0M2824.1 901.3h0M2825.6 900.7h0M2827.2 900h0M2828.8 899.8h0M2830.4 898.7h0M2831.6 916.5h0M2833.2 913.4h0M2834.8 913.3h0M2836.4 910.6h0M2838 908.9h0M2839.6 911.4h0M2841.1 912.6h0M2842.7 914.2h0M2844.3 916.5h0M2845.9 919.8h0M2847.5 923.1h0M2849.1 926.9h0M2850.6 929.1h0M2851.9 920.9h0M2853.2 913.9h0M2854.5 918.8h0M2855.8 924.1h0" fill="none" stroke="#630066" stroke-width="5.5" stroke-linecap="round" shape-rendering="crispEdges"/>
<path d="M2862.4 783.5L2862.8 708.9L2864.1 710.3L2865.3 712.7L2866.3 692.4L2867.6 683.2L2868.9 674.7L2870.4 692.4L2870.9 746.8L2871.6 797.5L2873.4 807.6L2873.9 835.4L2874.7 855.7L2875.9 867.1L2877.5 870L2879 873.4L2880.3 879.8L2881.5 886.1L2883 908.9L2884.3 938L2885.6 906.3L2886.8 906.8L2888.1 906.3L2888.6 929.1L2890.6 924.1L2891.6 972.2L2892.9 971.3L2894.2 970.9L2896.2 949.4L2897.5 945.6L2898.7 941.8L2898.8 927.8" fill="none" stroke="#630066" stroke-width="3.3" stroke-linejoin="round" stroke-linecap="round" shape-rendering="crispEdges"/>
<path d="M2862.4 783.5h0M2862.8 708.9h0M2864.1 710.3h0M2865.3 712.7h0M2866.3 692.4h0M2867.6 683.2h0M2868.9 674.7h0M2870.4 692.4h0M2870.9 746.8h0M2871.6 797.5h0M2873.4 807.6h0M2873.9 835.4h0M2874.7 855.7h0M2875.9 867.1h0M2877.5 870h0M2879 873.4h0M2880.3 879.8h0M2881.5 886.1h0M2883 908.9h0M2884.3 938h0M2885.6 906.3h0M2886.8 906.8h0M2888.1 906.3h0M2888.6 929.1h0M2890.6 924.1h0M2891.6 972.2h0M2892.9 971.3h0M2894.2 970.9h0M2896.2 949.4h0M2897.5 945.6h0M2898.7 941.8h0M2898.8 927.8h0" fill="none" stroke="#630066" stroke-width="5.5" stroke-linecap="round" shape-rendering="crispEdges"/>
<path d="M1158.2 435.2V435.2H1159.7V437.8H1161.1V435.9H1162.6V439.3H1164.1V437.5H1165.6V437H1167V432.3H1168.5V431.3H1170V431.5H1171.5V429.8H1172.9V416.8H1174.4V413.8H1175.9V400.3H1177.3V387.7H1178.8V389.5H1180.3V383.5H1181.8V371.5H1183.2V369.3H1184.7V361.7H1186.2V350H1187.7V344.3H1189.1V338.4H1190.6V342.9H1192.1V341.1H1193.5V344.3H1195V352.7H1196.5V347.6H1198V340.5H1199.4V339.6H1200.9V331.1H1202.4V336.4H1203.9V334.1H1205.3V338.1H1206.8V323.8H1208.3V323.1H1209.8V308.9H1211.2V300.2H1212.7V287.6H1214.2V277.1H1215.6V273.5H1217.1V258.7H1218.6V256.1H1220.1V259.8H1221.5V254.9H1223V257.1H1224.5V258H1226V244.7H1227.4V243.6H1228.9V247.1H1230.4V257.7H1231.8V261H1233.3V247.6H1234.8V257.1H1236.3V256.4H1237.7V262.5H1239.2V273.8H1240.7V271.3H1242.2V270.9H1243.6V280.2H1245.1V275.7H1246.6V272.8H1248.1V276.9H1249.5V284.7H1251V290.3H1252.5V289.7H1253.9V283.4H1255.4V284H1256.9V274.1H1258.4V272.9H1259.8V272.3H1261.3V258.7H1262.8V250.9H1264.3V259.9H1265.7V264.5H1267.2V260.1H1268.7V263.6H1270.1V258.2H1271.6V263.4H1273.1V259.1H1274.6V254.9H1276V269.5H1277.5V270.1H1279V273H1280.5V271.5H1281.9V269.5H1283.4V272.1H1284.9V270.6H1286.4V269.1H1287.8V272.7H1289.3V282.3H1290.8V279.4H1292.2V286.8H1293.7V285H1295.2V280.3H1296.7V275.3H1298.1V276.2H1299.6V285.2H1301.1V484.3H1299.6V491.6H1298.1V485.9H1296.7V490.1H1295.2V497.3H1293.7V498.7H1292.2V497.5H1290.8V501.3H1289.3V492.1H1287.8V486.3H1286.4V498.7H1284.9V499.3H1283.4V492.9H1281.9V507.7H1280.5V517.8H1279V492.4H1277.5V479.7H1276V473.4H1274.6V489.1H1273.1V476.6H1271.6V487.2H1270.1V477.6H1268.7V499.9H1267.2V494.4H1265.7V497.3H1264.3V498.8H1262.8V507.5H1261.3V499.3H1259.8V496.8H1258.4V507.3H1256.9V507.4H1255.4V504H1253.9V524.4H1252.5V517.2H1251V522.1H1249.5V508.9H1248.1V481.9H1246.6V502.7H1245.1V496.4H1243.6V486.3H1242.2V492.2H1240.7V483.5H1239.2V490.7H1237.7V515.6H1236.3V485.4H1234.8V467.8H1233.3V491H1231.8V496.7H1230.4V500.1H1228.9V465.5H1227.4V477.5H1226V482.2H1224.5V489.4H1223V487.2H1221.5V488.8H1220.1V522.4H1218.6V529.8H1217.1V510.4H1215.6V516.7H1214.2V517.9H1212.7V522.3H1211.2V519.9H1209.8V529.6H1208.3V518.6H1206.8V528.7H1205.3V515.9H1203.9V519.6H1202.4V533.3H1200.9V555.7H1199.4V557.9H1198V536.9H1196.5V550.3H1195V565.6H1193.5V563.9H1192.1V543.4H1190.6V550.6H1189.1V554.8H1187.7V548.4H1186.2V564H1184.7V547.7H1183.2V560.9H1181.8V584.4H1180.3V574.5H1178.8V583.3H1177.3V588.6H1175.9V586H1174.4V596.8H1172.9V587.9H1171.5V590.1H1170V595.2H1168.5V605.8H1167V609.4H1165.6V603.1H1164.1V600.3H1162.6V606.4H1161.1V601H1159.7V606H1158.2Z" fill="#FED976" shape-rendering="crispEdges"/>
<path d="M1160.6 455.3L1160.8 473.4L1162.3 467.5L1163.7 458.9L1165.5 464.8L1167.3 467.3L1168.9 461.3L1170.5 454.1L1171.9 447.2L1173.4 439.6L1174.6 435.3L1175.8 437.2L1177 424.9L1178.2 405.9L1179.4 424.3L1180.6 444.5L1181.8 405.9L1183 401.9L1184.2 401.1L1186 396.3L1187.8 393.9L1189 369.8L1190.6 360.8L1192.2 352.9L1193.9 384.2L1195.5 383.4L1197.1 385.1L1198.7 385.4L1200.6 356.5L1202.1 370.7L1203.7 377.1L1205.2 390.2L1206.6 346.9L1208.3 361.3L1210.1 354.3L1211.9 352.9L1213.1 314.3L1214.9 311.6L1216.7 314.3L1218.2 304.7L1219.6 292.7L1221.2 285.4L1222.8 280.6L1224 295.4L1225.2 313.1L1226.4 294L1227.6 272.2L1228.8 303.3L1230 338.4L1231.2 315.8L1232.4 297.5L1234.3 284.2L1236 311.9L1237.8 311.5L1239.6 307.1L1241.3 287.8L1242.9 298.2L1244.5 302.3L1246.3 297.6L1248.1 293.9L1250 326.4L1251.7 326.8L1253.4 331.2L1254.8 299.9L1256.3 296.4L1257.7 295.1L1259.6 308.3L1260.8 306L1262 301.1L1263.7 275.8L1265.5 281.5L1267.3 280.6L1268.6 288.5L1269.8 292.7L1271.6 298.7L1273.4 299.9L1275.3 275.1L1277.5 302.3L1278.7 310.2L1279.9 315.5L1281.4 313.5L1283 307.1L1284.8 300.3L1286.6 287.8L1288.3 316.7L1289.8 312.5L1291.2 316L1292.7 314.3L1294.5 312L1296.3 304.7L1298 292.7L1298.6 322.8" fill="none" stroke="#F7941D" stroke-width="3.3" stroke-linejoin="round" stroke-linecap="round" shape-rendering="crispEdges"/>
<path d="M1160.6 455.3h0M1160.8 473.4h0M1162.3 467.5h0M1163.7 458.9h0M1165.5 464.8h0M1167.3 467.3h0M1168.9 461.3h0M1170.5 454.1h0M1171.9 447.2h0M1173.4 439.6h0M1174.6 435.3h0M1175.8 437.2h0M1177 424.9h0M1178.2 405.9h0M1179.4 424.3h0M1180.6 444.5h0M1181.8 405.9h0M1183 401.9h0M1184.2 401.1h0M1186 396.3h0M1187.8 393.9h0M1189 369.8h0M1190.6 360.8h0M1192.2 352.9h0M1193.9 384.2h0M1195.5 383.4h0M1197.1 385.1h0M1198.7 385.4h0M1200.6 356.5h0M1202.1 370.7h0M1203.7 377.1h0M1205.2 390.2h0M1206.6 346.9h0M1208.3 361.3h0M1210.1 354.3h0M1211.9 352.9h0M1213.1 314.3h0M1214.9 311.6h0M1216.7 314.3h0M1218.2 304.7h0M1219.6 292.7h0M1221.2 285.4h0M1222.8 280.6h0M1224 295.4h0M1225.2 313.1h0M1226.4 294h0M1227.6 272.2h0M1228.8 303.3h0M1230 338.4h0M1231.2 315.8h0M1232.4 297.5h0M1234.3 284.2h0M1236 311.9h0M1237.8 311.5h0M1239.6 307.1h0M1241.3 287.8h0M1242.9 298.2h0M1244.5 302.3h0M1246.3 297.6h0M1248.1 293.9h0M1250 326.4h0M1251.7 326.8h0M1253.4 331.2h0M1254.8 299.9h0M1256.3 296.4h0M1257.7 295.1h0M1259.6 308.3h0M1260.8 306h0M1262 301.1h0M1263.7 275.8h0M1265.5 281.5h0M1267.3 280.6h0M1268.6 288.5h0M1269.8 292.7h0M1271.6 298.7h0M1273.4 299.9h0M1275.3 275.1h0M1277.5 302.3h0M1278.7 310.2h0M1279.9 315.5h0M1281.4 313.5h0M1283 307.1h0M1284.8 300.3h0M1286.6 287.8h0M1288.3 316.7h0M1289.8 312.5h0M1291.2 316h0M1292.7 314.3h0M1294.5 312h0M1296.3 304.7h0M1298 292.7h0M1298.6 322.8h0" fill="none" stroke="#F7941D" stroke-width="5.5" stroke-linecap="round" shape-rendering="crispEdges"/>
<rect x="291" y="233" width="3" height="384" fill="#F7941D"/>
<rect x="2939" y="233" width="4" height="384" fill="#F7941D"/>
<rect x="291" y="617" width="3" height="386" fill="#630066"/>
<rect x="2939" y="617" width="4" height="386" fill="#630066"/>
<rect x="291" y="1003" width="3" height="385" fill="#00688F"/>
<rect x="2939" y="1003" width="4" height="385" fill="#00688F"/>
<rect x="291" y="1388" width="3" height="390" fill="#1A8C00"/>
<rect x="2939" y="1388" width="4" height="390" fill="#1A8C00"/>
<rect x="291" y="1778" width="3" height="386" fill="#AC0000"/>
<rect x="2939" y="1778" width="4" height="386" fill="#AC0000"/>
<rect x="293.5" y="255.9" width="27.5" height="3.2" fill="#F7941D"/>
<rect x="2913" y="255.9" width="26.5" height="3.2" fill="#F7941D"/>
<rect x="293.5" y="426.2" width="27.5" height="3.2" fill="#F7941D"/>
<rect x="2913" y="426.2" width="26.5" height="3.2" fill="#F7941D"/>
<rect x="293.5" y="597.3" width="27.5" height="3.2" fill="#F7941D"/>
<rect x="2913" y="597.3" width="26.5" height="3.2" fill="#F7941D"/>
<rect x="293.5" y="668.8" width="27.5" height="3.2" fill="#630066"/>
<rect x="2913" y="668.8" width="26.5" height="3.2" fill="#630066"/>
<rect x="293.5" y="782.2" width="27.5" height="3.2" fill="#630066"/>
<rect x="2913" y="782.2" width="26.5" height="3.2" fill="#630066"/>
<rect x="293.5" y="896.1" width="27.5" height="3.2" fill="#630066"/>
<rect x="2913" y="896.1" width="26.5" height="3.2" fill="#630066"/>
<rect x="293.5" y="1014.8" width="27.5" height="3.2" fill="#00688F"/>
<rect x="2913" y="1014.8" width="26.5" height="3.2" fill="#00688F"/>
<rect x="293.5" y="1179.7" width="27.5" height="3.2" fill="#00688F"/>
<rect x="2913" y="1179.7" width="26.5" height="3.2" fill="#00688F"/>
<rect x="293.5" y="1344.5" width="27.5" height="3.2" fill="#00688F"/>
<rect x="2913" y="1344.5" width="26.5" height="3.2" fill="#00688F"/>
<rect x="293.5" y="1436.7" width="27.5" height="3.2" fill="#1A8C00"/>
<rect x="2913" y="1436.7" width="26.5" height="3.2" fill="#1A8C00"/>
<rect x="293.5" y="1572.6" width="27.5" height="3.2" fill="#1A8C00"/>
<rect x="2913" y="1572.6" width="26.5" height="3.2" fill="#1A8C00"/>
<rect x="293.5" y="1708.6" width="27.5" height="3.2" fill="#1A8C00"/>
<rect x="2913" y="1708.6" width="26.5" height="3.2" fill="#1A8C00"/>
<rect x="293.5" y="1854.5" width="27.5" height="3.2" fill="#AC0000"/>
<rect x="2913" y="1854.5" width="26.5" height="3.2" fill="#AC0000"/>
<rect x="293.5" y="1941.2" width="27.5" height="3.2" fill="#AC0000"/>
<rect x="2913" y="1941.2" width="26.5" height="3.2" fill="#AC0000"/>
<rect x="293.5" y="2027.8" width="27.5" height="3.2" fill="#AC0000"/>
<rect x="2913" y="2027.8" width="26.5" height="3.2" fill="#AC0000"/>
<rect x="293.5" y="2114.7" width="27.5" height="3.2" fill="#AC0000"/>
<rect x="2913" y="2114.7" width="26.5" height="3.2" fill="#AC0000"/>
<rect x="291" y="231" width="2652" height="3.8" fill="#2A2A2A"/>
<rect x="291" y="2164" width="2652" height="3.1" fill="#2A2A2A"/>
<rect x="800" y="234.3" width="3.2" height="27.5" fill="#2A2A2A"/>
<rect x="800" y="2137" width="3.2" height="27.5" fill="#2A2A2A"/>
<rect x="1335" y="234.3" width="3.2" height="27.5" fill="#2A2A2A"/>
<rect x="1335" y="2137" width="3.2" height="27.5" fill="#2A2A2A"/>
<rect x="1870.1" y="234.3" width="3.2" height="27.5" fill="#2A2A2A"/>
<rect x="1870.1" y="2137" width="3.2" height="27.5" fill="#2A2A2A"/>
<rect x="2405.8" y="234.3" width="3.2" height="27.5" fill="#2A2A2A"/>
<rect x="2405.8" y="2137" width="3.2" height="27.5" fill="#2A2A2A"/>
<text transform="translate(0 94.6) scale(0.78 1)" x="389.48 431.72 472.42 507.72 550.35 585.26 611.57 651.91 687.28 726.36 779.73 820.1 862.81 904.8 936.92 960.57 1001.44 1044.07 1085.93 1126.22 1167.85" y="0" font-family="'Liberation Sans','DejaVu Sans',sans-serif" font-weight="bold" font-size="48.0" fill="#18A0C5" stroke="#18A0C5" stroke-width="1.2" stroke-linejoin="round">OCEAN NETWORKS CANADA</text>
<g font-family="'Liberation Serif','DejaVu Serif',serif" font-size="48.6" fill="#000" stroke="#000" stroke-width="0.9" stroke-linejoin="round">
<text x="1373.09" y="93.8" textLength="92.25" lengthAdjust="spacingAndGlyphs">CO2</text>
<text x="1479.97" y="93.8" textLength="138.34" lengthAdjust="spacingAndGlyphs">Partial</text>
<text x="1634.05" y="93.8" textLength="182.81" lengthAdjust="spacingAndGlyphs">Pressure,</text>
<text x="1833.5" y="93.8" textLength="166.27" lengthAdjust="spacingAndGlyphs">Oxygen,</text>
<text x="2013.81" y="93.8" textLength="170.52" lengthAdjust="spacingAndGlyphs">Sigma-t,</text>
<text x="2198.84" y="93.8" textLength="154.26" lengthAdjust="spacingAndGlyphs">Salinity</text>
<text x="2368.87" y="93.8" textLength="73.28" lengthAdjust="spacingAndGlyphs">and</text>
<text x="2457.98" y="93.8" textLength="70.4" lengthAdjust="spacingAndGlyphs">Sea</text>
<text x="2543.55" y="93.8" textLength="122.24" lengthAdjust="spacingAndGlyphs">Water</text>
<text x="2682.49" y="93.8" textLength="259.08" lengthAdjust="spacingAndGlyphs">Temperature</text>
</g>
<g font-family="'Liberation Serif','DejaVu Serif',serif" font-size="48.6" fill="#000" stroke="#000" stroke-width="0.9" stroke-linejoin="round">
<text x="1128.08" y="149" textLength="227.21" lengthAdjust="spacingAndGlyphs">Conception</text>
<text x="1370.88" y="149" textLength="78.81" lengthAdjust="spacingAndGlyphs">Bay</text>
<text x="1464.81" y="149" textLength="24.48" lengthAdjust="spacingAndGlyphs" font-size="43">●</text>
<text x="1504.09" y="149" textLength="186.85" lengthAdjust="spacingAndGlyphs">Holyrood</text>
<text x="1706.79" y="149" textLength="78.1" lengthAdjust="spacingAndGlyphs">Bay</text>
<text x="1801.56" y="149" textLength="234.49" lengthAdjust="spacingAndGlyphs">Underwater</text>
<text x="2051.9" y="149" textLength="169.35" lengthAdjust="spacingAndGlyphs">Network</text>
<text x="2236.03" y="149" textLength="25.03" lengthAdjust="spacingAndGlyphs" font-size="43">●</text>
<text x="2276.12" y="149" textLength="203.36" lengthAdjust="spacingAndGlyphs">47.4258°N</text>
<text x="2494.45" y="149" textLength="24.9" lengthAdjust="spacingAndGlyphs" font-size="43">●</text>
<text x="2533.21" y="149" textLength="217.55" lengthAdjust="spacingAndGlyphs">53.1211°W</text>
<text x="2765.81" y="149" textLength="25.17" lengthAdjust="spacingAndGlyphs" font-size="43">●</text>
<text x="2805.68" y="149" textLength="81.84" lengthAdjust="spacingAndGlyphs">84.3</text>
<text x="2902.24" y="149" textLength="39.26" lengthAdjust="spacingAndGlyphs">m</text>
</g>
<g font-family="'Liberation Serif','DejaVu Serif',serif" font-size="48.6" fill="#000" stroke="#000" stroke-width="0.9" stroke-linejoin="round">
<text x="1365.79" y="204.1" textLength="106.83" lengthAdjust="spacingAndGlyphs">State</text>
<text x="1486.68" y="204.1" textLength="41.07" lengthAdjust="spacingAndGlyphs">of</text>
<text x="1540.6" y="204.1" textLength="124.79" lengthAdjust="spacingAndGlyphs">Ocean</text>
<text x="1680.91" y="204.1" textLength="83" lengthAdjust="spacingAndGlyphs">Plot</text>
<text x="1780.71" y="204.1" textLength="25.17" lengthAdjust="spacingAndGlyphs" font-size="43">●</text>
<text x="1820.59" y="204.1" textLength="21.55" lengthAdjust="spacingAndGlyphs">1</text>
<text x="1859" y="204.1" textLength="80.49" lengthAdjust="spacingAndGlyphs">Day</text>
<text x="1956.5" y="204.1" textLength="113.68" lengthAdjust="spacingAndGlyphs">Clean</text>
<text x="2086.01" y="204.1" textLength="194.05" lengthAdjust="spacingAndGlyphs">Min/Max</text>
<text x="2297.23" y="204.1" textLength="123.54" lengthAdjust="spacingAndGlyphs">(Bars)</text>
<text x="2437.88" y="204.1" textLength="36.94" lengthAdjust="spacingAndGlyphs">+</text>
<text x="2490.28" y="204.1" textLength="114.8" lengthAdjust="spacingAndGlyphs">Clean</text>
<text x="2621.67" y="204.1" textLength="162.91" lengthAdjust="spacingAndGlyphs">Average</text>
<text x="2801.72" y="204.1" textLength="137.06" lengthAdjust="spacingAndGlyphs">(Lines)</text>
</g>
<g font-family="'Liberation Serif','DejaVu Serif',serif" font-size="43.5" fill="#2A2A2A" stroke="#2A2A2A" stroke-width="0.8" stroke-linejoin="round">
<text x="759.08" y="2217.9" textLength="85.16" lengthAdjust="spacingAndGlyphs">2022</text>
</g>
<g font-family="'Liberation Serif','DejaVu Serif',serif" font-size="43.5" fill="#2A2A2A" stroke="#2A2A2A" stroke-width="0.8" stroke-linejoin="round">
<text x="1294.1" y="2217.9" textLength="84.49" lengthAdjust="spacingAndGlyphs">2023</text>
</g>
<g font-family="'Liberation Serif','DejaVu Serif',serif" font-size="43.5" fill="#2A2A2A" stroke="#2A2A2A" stroke-width="0.8" stroke-linejoin="round">
<text x="1829.22" y="2217.9" textLength="83.4" lengthAdjust="spacingAndGlyphs">2024</text>
</g>
<g font-family="'Liberation Serif','DejaVu Serif',serif" font-size="43.5" fill="#2A2A2A" stroke="#2A2A2A" stroke-width="0.8" stroke-linejoin="round">
<text x="2364.9" y="2217.9" textLength="84.49" lengthAdjust="spacingAndGlyphs">2025</text>
</g>
<g font-family="'Liberation Serif','DejaVu Serif',serif" font-size="48.6" fill="#000" stroke="#000" stroke-width="0.9" stroke-linejoin="round">
<text x="1424.31" y="2276.1" textLength="104.24" lengthAdjust="spacingAndGlyphs">Time</text>
<text x="1544.74" y="2276.1" textLength="132.66" lengthAdjust="spacingAndGlyphs">(years,</text>
<text x="1695.26" y="2276.1" textLength="115.21" lengthAdjust="spacingAndGlyphs">UTC)</text>
</g>
<g font-family="'Liberation Serif','DejaVu Serif',serif" font-size="43.5" fill="#F7941D" stroke="#F7941D" stroke-width="0.8" stroke-linejoin="round">
<text x="212.91" y="268.1" textLength="63.47" lengthAdjust="spacingAndGlyphs">800</text>
</g>
<g font-family="'Liberation Serif','DejaVu Serif',serif" font-size="43.5" fill="#F7941D" stroke="#F7941D" stroke-width="0.8" stroke-linejoin="round">
<text x="212.91" y="438.4" textLength="63.47" lengthAdjust="spacingAndGlyphs">600</text>
</g>
<g font-family="'Liberation Serif','DejaVu Serif',serif" font-size="43.5" fill="#F7941D" stroke="#F7941D" stroke-width="0.8" stroke-linejoin="round">
<text x="213.77" y="609.5" textLength="62.6" lengthAdjust="spacingAndGlyphs">400</text>
</g>
<g font-family="'Liberation Serif','DejaVu Serif',serif" font-size="43.5" fill="#00688F" stroke="#00688F" stroke-width="0.8" stroke-linejoin="round">
<text x="234.53" y="1027.2" textLength="41.51" lengthAdjust="spacingAndGlyphs">26</text>
</g>
<g font-family="'Liberation Serif','DejaVu Serif',serif" font-size="43.5" fill="#00688F" stroke="#00688F" stroke-width="0.8" stroke-linejoin="round">
<text x="234.56" y="1192.1" textLength="40.85" lengthAdjust="spacingAndGlyphs">24</text>
</g>
<g font-family="'Liberation Serif','DejaVu Serif',serif" font-size="43.5" fill="#00688F" stroke="#00688F" stroke-width="0.8" stroke-linejoin="round">
<text x="234.48" y="1356.9" textLength="42.67" lengthAdjust="spacingAndGlyphs">22</text>
</g>
<g font-family="'Liberation Serif','DejaVu Serif',serif" font-size="43.5" fill="#AC0000" stroke="#AC0000" stroke-width="0.8" stroke-linejoin="round">
<text x="222.44" y="1867.2" textLength="53.89" lengthAdjust="spacingAndGlyphs">1.5</text>
</g>
<g font-family="'Liberation Serif','DejaVu Serif',serif" font-size="43.5" fill="#AC0000" stroke="#AC0000" stroke-width="0.8" stroke-linejoin="round">
<text x="254.95" y="1953.9" textLength="20.28" lengthAdjust="spacingAndGlyphs">1</text>
</g>
<g font-family="'Liberation Serif','DejaVu Serif',serif" font-size="43.5" fill="#AC0000" stroke="#AC0000" stroke-width="0.8" stroke-linejoin="round">
<text x="222.17" y="2040.5" textLength="54.17" lengthAdjust="spacingAndGlyphs">0.5</text>
</g>
<g font-family="'Liberation Serif','DejaVu Serif',serif" font-size="43.5" fill="#AC0000" stroke="#AC0000" stroke-width="0.8" stroke-linejoin="round">
<text x="254.8" y="2127.4" textLength="21.29" lengthAdjust="spacingAndGlyphs">0</text>
</g>
<g font-family="'Liberation Serif','DejaVu Serif',serif" font-size="43.5" fill="#630066" stroke="#630066" stroke-width="0.8" stroke-linejoin="round">
<text x="2957.74" y="681.2" textLength="20.71" lengthAdjust="spacingAndGlyphs">8</text>
</g>
<g font-family="'Liberation Serif','DejaVu Serif',serif" font-size="43.5" fill="#630066" stroke="#630066" stroke-width="0.8" stroke-linejoin="round">
<text x="2957.76" y="794.6" textLength="20.47" lengthAdjust="spacingAndGlyphs">6</text>
</g>
<g font-family="'Liberation Serif','DejaVu Serif',serif" font-size="43.5" fill="#630066" stroke="#630066" stroke-width="0.8" stroke-linejoin="round">
<text x="2958.64" y="908.5" textLength="18.92" lengthAdjust="spacingAndGlyphs">4</text>
</g>
<g font-family="'Liberation Serif','DejaVu Serif',serif" font-size="43.5" fill="#1A8C00" stroke="#1A8C00" stroke-width="0.8" stroke-linejoin="round">
<text x="2957.46" y="1449.3" textLength="43.11" lengthAdjust="spacingAndGlyphs">32</text>
</g>
<g font-family="'Liberation Serif','DejaVu Serif',serif" font-size="43.5" fill="#1A8C00" stroke="#1A8C00" stroke-width="0.8" stroke-linejoin="round">
<text x="2957.5" y="1585.2" textLength="42.17" lengthAdjust="spacingAndGlyphs">30</text>
</g>
<g font-family="'Liberation Serif','DejaVu Serif',serif" font-size="43.5" fill="#1A8C00" stroke="#1A8C00" stroke-width="0.8" stroke-linejoin="round">
<text x="2957.5" y="1721.2" textLength="42.17" lengthAdjust="spacingAndGlyphs">28</text>
</g>
<g font-family="'Liberation Serif','DejaVu Serif',serif" font-size="34.6" fill="#000" stroke="#000" stroke-width="0.8" stroke-linejoin="round">
<text x="159.9" y="2318.4" textLength="101.68" lengthAdjust="spacingAndGlyphs">Sample</text>
<text x="271.49" y="2318.4" textLength="96.08" lengthAdjust="spacingAndGlyphs">period:</text>
<text x="380.84" y="2318.4" textLength="40.61" lengthAdjust="spacingAndGlyphs">1.1</text>
<text x="431.72" y="2318.4" textLength="108.58" lengthAdjust="spacingAndGlyphs">minutes</text>
<text x="551.4" y="2318.4" textLength="134.57" lengthAdjust="spacingAndGlyphs">(average).</text>
<text x="700.46" y="2318.4" textLength="155.3" lengthAdjust="spacingAndGlyphs">Comments:</text>
<text x="869.07" y="2318.4" textLength="257.52" lengthAdjust="spacingAndGlyphs">Acknowledgement:</text>
<text x="1138.48" y="2318.4" textLength="98.31" lengthAdjust="spacingAndGlyphs">Marine</text>
<text x="1246.33" y="2318.4" textLength="119.54" lengthAdjust="spacingAndGlyphs">Institute</text>
<text x="1374.35" y="2318.4" textLength="28.25" lengthAdjust="spacingAndGlyphs">of</text>
<text x="1411.91" y="2318.4" textLength="130.04" lengthAdjust="spacingAndGlyphs">Memorial</text>
<text x="1551.93" y="2318.4" textLength="141.64" lengthAdjust="spacingAndGlyphs">University</text>
<text x="1704.11" y="2318.4" textLength="114.55" lengthAdjust="spacingAndGlyphs">(owner);</text>
<text x="1828.65" y="2318.4" textLength="86.05" lengthAdjust="spacingAndGlyphs">Ocean</text>
<text x="1924.91" y="2318.4" textLength="128.75" lengthAdjust="spacingAndGlyphs">Networks</text>
<text x="2063.39" y="2318.4" textLength="105.53" lengthAdjust="spacingAndGlyphs">Canada</text>
<text x="2178.37" y="2318.4" textLength="98.7" lengthAdjust="spacingAndGlyphs">Society</text>
<text x="2288.95" y="2318.4" textLength="152.11" lengthAdjust="spacingAndGlyphs">(custodian,</text>
</g>
<g font-family="'Liberation Serif','DejaVu Serif',serif" font-size="34.6" fill="#000" stroke="#000" stroke-width="0.8" stroke-linejoin="round">
<text x="160.46" y="2355.9" textLength="168.64" lengthAdjust="spacingAndGlyphs">distributor).</text>
<text x="343.36" y="2355.9" textLength="77.94" lengthAdjust="spacingAndGlyphs">Clean</text>
<text x="432.62" y="2355.9" textLength="68.33" lengthAdjust="spacingAndGlyphs">Data</text>
<text x="511.35" y="2355.9" textLength="92.09" lengthAdjust="spacingAndGlyphs">(major</text>
<text x="614.1" y="2355.9" textLength="95.57" lengthAdjust="spacingAndGlyphs">quality</text>
<text x="721.02" y="2355.9" textLength="98.43" lengthAdjust="spacingAndGlyphs">failures</text>
<text x="832.59" y="2355.9" textLength="105.95" lengthAdjust="spacingAndGlyphs">(QAQC</text>
<text x="946.83" y="2355.9" textLength="76.34" lengthAdjust="spacingAndGlyphs">3,4,6)</text>
<text x="1033.76" y="2355.9" textLength="141.79" lengthAdjust="spacingAndGlyphs">excluded):</text>
<text x="1189.49" y="2355.9" textLength="31.74" lengthAdjust="spacingAndGlyphs">all</text>
<text x="1232.7" y="2355.9" textLength="62.26" lengthAdjust="spacingAndGlyphs">data</text>
<text x="1305.17" y="2355.9" textLength="97.78" lengthAdjust="spacingAndGlyphs">plotted</text>
<text x="1413.7" y="2355.9" textLength="57.88" lengthAdjust="spacingAndGlyphs">pass</text>
<text x="1481.97" y="2355.9" textLength="102.19" lengthAdjust="spacingAndGlyphs">QAQC.</text>
<text x="1595.54" y="2355.9" textLength="95.72" lengthAdjust="spacingAndGlyphs">QAQC</text>
<text x="1700.75" y="2355.9" textLength="93.35" lengthAdjust="spacingAndGlyphs">testing</text>
<text x="1802.86" y="2355.9" textLength="131.86" lengthAdjust="spacingAndGlyphs">complete,</text>
<text x="1945.42" y="2355.9" textLength="100.16" lengthAdjust="spacingAndGlyphs">manual</text>
<text x="2056.24" y="2355.9" textLength="95.93" lengthAdjust="spacingAndGlyphs">QAQC</text>
<text x="2161.18" y="2355.9" textLength="126.78" lengthAdjust="spacingAndGlyphs">screening</text>
<text x="2298.34" y="2355.9" textLength="56.82" lengthAdjust="spacingAndGlyphs">may</text>
<text x="2367.5" y="2355.9" textLength="32.4" lengthAdjust="spacingAndGlyphs">be</text>
<text x="2409.33" y="2355.9" textLength="94.6" lengthAdjust="spacingAndGlyphs">needed</text>
<text x="2513.74" y="2355.9" textLength="37.58" lengthAdjust="spacingAndGlyphs">for</text>
</g>
<g font-family="'Liberation Serif','DejaVu Serif',serif" font-size="34.6" fill="#000" stroke="#000" stroke-width="0.8" stroke-linejoin="round">
<text x="161.03" y="2393.5" textLength="81.84" lengthAdjust="spacingAndGlyphs">recent</text>
<text x="254.85" y="2393.5" textLength="68.78" lengthAdjust="spacingAndGlyphs">data.</text>
<text x="338.11" y="2393.5" textLength="46.41" lengthAdjust="spacingAndGlyphs">See</text>
<text x="395.1" y="2393.5" textLength="204.21" lengthAdjust="spacingAndGlyphs">documentation</text>
<text x="609.35" y="2393.5" textLength="37.17" lengthAdjust="spacingAndGlyphs">for</text>
<text x="657.5" y="2393.5" textLength="98.53" lengthAdjust="spacingAndGlyphs">details.</text>
</g>
<g font-family="'Liberation Serif','DejaVu Serif',serif" font-size="34.6" fill="#000" font-style="italic" stroke="#000" stroke-width="0.8" stroke-linejoin="round">
<text x="2568.37" y="2376.7" textLength="55.86" lengthAdjust="spacingAndGlyphs">Plot</text>
<text x="2636.2" y="2376.7" textLength="132.23" lengthAdjust="spacingAndGlyphs">generated</text>
<text x="2779.22" y="2376.7" textLength="169.14" lengthAdjust="spacingAndGlyphs">04-Dec-2025</text>
<text x="2958.09" y="2376.7" textLength="111.26" lengthAdjust="spacingAndGlyphs">04:06:46</text>
<text x="3080.08" y="2376.7" textLength="69.46" lengthAdjust="spacingAndGlyphs">UTC</text>
</g>
<g font-family="'Liberation Serif','DejaVu Serif',serif" font-size="48.6" fill="#F7941D" stroke="#F7941D" stroke-width="0.9" stroke-linejoin="round">
<text x="128.8" y="640.5" textLength="91.72" lengthAdjust="spacingAndGlyphs" transform="rotate(-90 128.8 640.5)">CO2</text>
<text x="128.8" y="534.14" textLength="138.65" lengthAdjust="spacingAndGlyphs" transform="rotate(-90 128.8 534.14)">Partial</text>
<text x="128.8" y="380.97" textLength="171.48" lengthAdjust="spacingAndGlyphs" transform="rotate(-90 128.8 380.97)">Pressure</text>
</g>
<g font-family="'Liberation Serif','DejaVu Serif',serif" font-size="48.6" fill="#F7941D" stroke="#F7941D" stroke-width="0.9" stroke-linejoin="round">
<text x="184.6" y="551.35" textLength="108.56" lengthAdjust="spacingAndGlyphs" transform="rotate(-90 184.6 551.35)">(pCO</text>
<text x="184.6" y="313.77" textLength="13.66" lengthAdjust="spacingAndGlyphs" transform="rotate(-90 184.6 313.77)">)</text>
</g>
<g font-family="'Liberation Serif','DejaVu Serif',serif" font-size="34.5" fill="#F7941D" stroke="#F7941D" stroke-width="0.8" stroke-linejoin="round">
<text x="167.6" y="440.42" textLength="15.75" lengthAdjust="spacingAndGlyphs" transform="rotate(-90 167.6 440.42)">2</text>
</g>
<g font-family="'Liberation Serif','DejaVu Serif',serif" font-size="48.6" fill="#F7941D" font-style="italic" stroke="#F7941D" stroke-width="0.9" stroke-linejoin="round">
<text x="184.8" y="421.21" textLength="106.49" lengthAdjust="spacingAndGlyphs" transform="rotate(-90 184.8 421.21)">uatm</text>
</g>
<g font-family="'Liberation Serif','DejaVu Serif',serif" font-size="48.6" fill="#00688F" stroke="#00688F" stroke-width="0.9" stroke-linejoin="round">
<text x="205" y="1365.02" textLength="154.71" lengthAdjust="spacingAndGlyphs" transform="rotate(-90 205 1365.02)">Sigma-t</text>
<text x="205" y="1190.6" textLength="124.83" lengthAdjust="spacingAndGlyphs" transform="rotate(-90 205 1190.6)">(kg/m</text>
<text x="205" y="1045.73" textLength="13.14" lengthAdjust="spacingAndGlyphs" transform="rotate(-90 205 1045.73)">)</text>
</g>
<g font-family="'Liberation Serif','DejaVu Serif',serif" font-size="35.5" fill="#00688F" stroke="#00688F" stroke-width="0.8" stroke-linejoin="round">
<text x="189.4" y="1065.61" textLength="16.75" lengthAdjust="spacingAndGlyphs" transform="rotate(-90 189.4 1065.61)">3</text>
</g>
<g font-family="'Liberation Serif','DejaVu Serif',serif" font-size="48.6" fill="#AC0000" stroke="#AC0000" stroke-width="0.9" stroke-linejoin="round">
<text x="193.9" y="2142.81" textLength="258.07" lengthAdjust="spacingAndGlyphs" transform="rotate(-90 193.9 2142.81)">Temperature</text>
<text x="193.9" y="1867.62" textLength="64.34" lengthAdjust="spacingAndGlyphs" transform="rotate(-90 193.9 1867.62)">(C)</text>
</g>
<g font-family="'Liberation Serif','DejaVu Serif',serif" font-size="48.6" fill="#630066" stroke="#630066" stroke-width="0.9" stroke-linejoin="round">
<text x="3024.1" y="1144.38" textLength="152.75" lengthAdjust="spacingAndGlyphs" transform="rotate(-90 3024.1 1144.38)">Oxygen</text>
<text x="3024.1" y="975.36" textLength="284.96" lengthAdjust="spacingAndGlyphs" transform="rotate(-90 3024.1 975.36)">Concentration</text>
<text x="3024.1" y="674.54" textLength="196.49" lengthAdjust="spacingAndGlyphs" transform="rotate(-90 3024.1 674.54)">Corrected</text>
</g>
<g font-family="'Liberation Serif','DejaVu Serif',serif" font-size="48.6" fill="#630066" stroke="#630066" stroke-width="0.9" stroke-linejoin="round">
<text x="3078.8" y="870.58" textLength="118.77" lengthAdjust="spacingAndGlyphs" transform="rotate(-90 3078.8 870.58)">(ml/l)</text>
</g>
<g font-family="'Liberation Serif','DejaVu Serif',serif" font-size="48.6" fill="#1A8C00" stroke="#1A8C00" stroke-width="0.9" stroke-linejoin="round">
<text x="3052" y="1830.14" textLength="178.12" lengthAdjust="spacingAndGlyphs" transform="rotate(-90 3052 1830.14)">Absolute</text>
<text x="3052" y="1637.95" textLength="153.65" lengthAdjust="spacingAndGlyphs" transform="rotate(-90 3052 1637.95)">Salinity</text>
<text x="3052" y="1465.74" textLength="124.58" lengthAdjust="spacingAndGlyphs" transform="rotate(-90 3052 1465.74)">(g/kg)</text>
</g>
</svg>
</body></html>
